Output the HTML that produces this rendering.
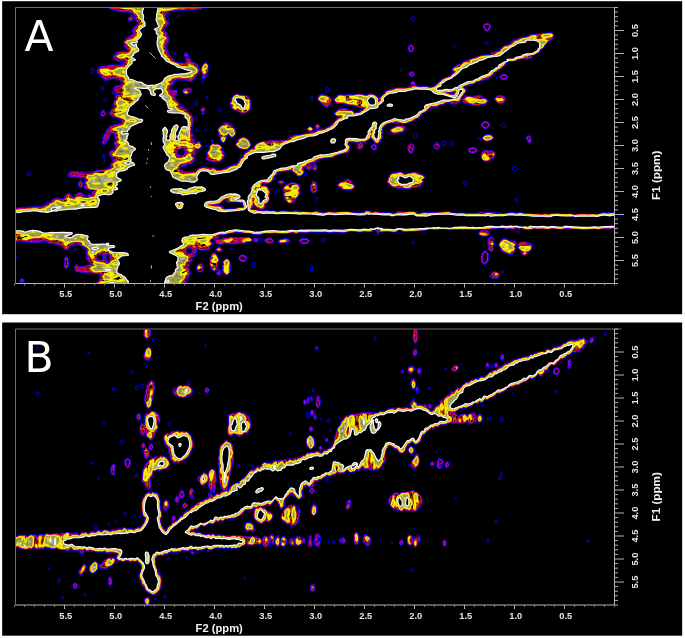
<!DOCTYPE html>
<html><head><meta charset="utf-8"><title>NMR spectra</title>
<style>
html,body{margin:0;padding:0;background:#fff;}
svg{display:block}
.tk{font-family:"Liberation Sans",Arial,sans-serif;font-weight:bold;font-size:9.3px;fill:#e6e6e6}
.ax{font-family:"Liberation Sans",Arial,sans-serif;font-weight:bold;font-size:11.7px;fill:#f4f4f4}
.ax2{font-family:"Liberation Sans",Arial,sans-serif;font-weight:bold;font-size:11.2px;fill:#f4f4f4}
.pl{font-family:"DejaVu Sans","Liberation Sans",sans-serif;font-size:42.5px;fill:#fff}
</style></head><body>
<svg width="685" height="638" viewBox="0 0 685 638">
<rect width="685" height="638" fill="#fff"/>
<rect x="2.15" y="1.2" width="680" height="313" fill="#000"/>
<rect x="2.15" y="322.5" width="680" height="313.2" fill="#000"/>
<defs><clipPath id="clipA"><rect x="16" y="8" width="598.5" height="275.5"/></clipPath>
<clipPath id="clipB"><rect x="16" y="329.5" width="598.5" height="275.5"/></clipPath>
<filter id="soft" x="0" y="0" width="685" height="638" filterUnits="userSpaceOnUse"><feGaussianBlur stdDeviation="0.35"/></filter></defs>
<g clip-path="url(#clipA)"><g filter="url(#soft)"><g fill="none" fill-rule="evenodd" stroke-linejoin="round"><path d="M182.7 286.1l-4.4 .2-80.6-.1-.5-.5-.1-3.4 .4-1 2.2-3.2 .3-2.8 .7-1-2-.6-4.4 0-4.6-.8-3 0-1.4-.2-2.6 .1-2.7-.8-1.7-.2-2 .1-.8-.9-.2-1-.6-1-.3-1.3 0-1.4 .9-1.3 1.4-.8 .6 .2 .7 .5 1 1.5 1.3 .3 2.4-.2 8.3-2.2 0-.3-1-1.3-1-.8-1.5-1.6-1.7-2.3 .1-1 .5-1-.4-1.3 .1-4.4-2.2-3-.8-.6-3.4-1.1-2.7-1.4-.7 0-3 1.4-2.5 .7-1.5 2-1 .9-3 1-1.3-.6-1-1.6-1.2-1.3-2.7-1.7-4.4-1.1-6.4-.5-.7-.4-2.6-.7 .8-.6 0-.4-.8-.3-2.3 0-1.7 1.2-2.3 .4-7.4 0-9-.6-2.6-.5-1.2 .2-3.2 .9-2.6-.1-.3-.5-.1-30.7 .1-1 .3-.4 .7-.2 1.3-1.2 4.3-1.1 2.7 .1 4-.4 4.3 0 6-.9 4.7 .2 2.7-.7 2.3-1 3.6-2.2 1.5-.5 .5-.7 .3-1.6 1.1-.8 3-1.1 1-.1 2.3 .1 2.3 .9 1.4 0 1-.8 1.1-2.2 1-1.4 1.2-.8 1.3-.4 1 .1 1 .6 .9 .9 1 1.6 1.1 .6 .7-.4 1.6-2.2 1.1-.8 2.3-1 1.3-.2 3 1.4 1.7 1.6 .7 1.4 1-.2 1.6-1.4 1.7-.8 1.7-1.3-1.2-1-.3-.7 1.1-.6-5.6-1.2-.7-.3-.5-.5-.1-1.7 .2-2.3-.3-2.4 .6-2.3-.3-1.7-.6-.3-2.3-.4-4.7-.5-3-.1-2 .3-1.7-.1-1.6-.6-1-.9-.3-.7 .3-1 1.6-1.9 2.4-.9 6.3 .1 1.7 .4 3-.1 1.6 .6 2.7 .3 1.3-.6 2.7-.1 2.7-.8 8.9-1.3 5.7-1.4 1.7-.9-.1-1.1 .5-2 1-1.6 1.3-1.4-.2-2-1.4-.6 .2-.5 .7 .1 1.8-.3-3.5-1.2-.6-.5-.4-1-.3-2.3 .5-1.3 .8-.8 .7-.4 1.3-.1 1.2-.4 1.3-1.3-.1-1.4 .3-1.3-.7-1.3-.2-1.4 .3-2 .9-1.1 .2-.5-.7-2 .2-2-1.1-2-.5-.4-1.1-.1-1 .1-.6 .4 .4 1.6-1.1 1.2-1.1 2.8-1.9 2.3-.9 1.7-1.1 1.1-1.3 .2-1-.4-.8-1.2-.1-1 1-2-.2-1.7 .2-1 1.1-3 .9-1.3 .4-1.3 1.1-2 2.7-3 .7-.6 2-.9 7.3-1.5 1.7-.5 .6-.5 .2-1.7-3.2-1.3 .7-.7-.2-.3-6.8-2.1-2.3-1.8-.5-1.5 2.7-5 .8-.8 1.3-.8-1-1.4-.1-1.3 .6-2 1.9-3.3-.1-3.4 1-.8 3.5-.5-3.4 0-2.1 .5-1.3-.3-.5-.5-.8-2-.2-1 .2-.7 1.4-1 .3-1.7 .9-.9 1.7-.6 4.1-.5 1.6-1 .5-.6-.1-.4-1.1-2.3-1.7-1-3-.9-3.3-.2-3 .9-2 .2-1.7 .7-1.3-.2-3.7-2.8-.4-.7-.6-1.5-2.3-1.3-1.1-2.5 0-1.4 1.1-3 .7-.6 .6-.2 7.7-.7 1.7-.7 1.6-.3 9.4 .2 1.3-.5 2-.2 1.4-.6-.4-.7-2.3-.9-3.7-.6-1.7-.6-1.6-1.2-1.1-1.4-.4-1.3 .1-.7 .6-1.3 1.4-1.1 1-1.6 1-.5 1.7-.4 7.3-.1 1.4-.6 0-.4-1-.8-1.3-1.5-1.2-2-.7-3 .1-1.7 .9-2 .8-1 2.9-1.3 4.5-2.8 .4-.9-.8-2.3 .5-3 1.5-1.5 2-1.1 1.8-2.1-.1-.3-2-2-1.1-2-.2-.7 .4-1-.1-.4-1.3-1.8-2.1-1.4-3.3-1.5-3.3-.1-3-.4-2.3 .1-3.7-.7-2.7-1.2-3-.7-1.3-.6-1.1-1.3-.5-1.6 .2-.7 .3-.3 1.4-.3 2.7 0 87.7-.1 7.6 .1 1 .2 .3 .4 0 .7-.6 .7-1.4 .9-.9 1.4-1.4 .6-2 .2-2.9-.2-2.7 .8-2 .3-2 0-2.4-.5-2 0-8.6 1-6 0-3 .5-.5 .3-.5 1.1-2.6 1.2-1.1 2.3 .3 .8 1.4-.7 .8 .6 .2 1-.1 .7-1.4 1 1.6 3 .1 .6-.5 1-3.7 4.2-.4 .8 .3 1 1.6 1.4 .7 1 .6 2.3 1.3 1.7 .3 1-.7 3.6-1.8 3-.6 2 0 .7 .7 1.7 1.2 2 .3 1.3-.1 1 1.9 1.5 1.3 2.2 2.8 2.6 .4 .7-.4 1 .2 .3 2.9 1 6.8 .8 .8-.1 1.1-2-.5-2.3 .3-1 0-.4-1.5-1.3-.1-1.3 .6-1.7 .6-.5 1-.2 .7 .4 1.5 2 .1 1.3-.5 1 .2 .3 1.4 .9 .8 .8 1.5 2.7 3 1 2.3 1.5 1.9 3.8 .3 1 0 1.3-.9 3-1.3 1.9-.5 1.5-1.6 1.3-.7 1.3-.8 .8-2 1.1-1.7 .3-4-.7-2.4-.8-1.3-.2-1.6 0-3.7 .3-2.1 1.6-1.6 2.6-2.3 2-1 2 1 2.4 .3 .1 1.4-.6 1.6-.4 1.7 .3 1.2 .9 .4 .7 0 .6-.8 2-.8 .6-2.5 .8 .2 .4 6.2 7.2 .8 2.4 2 1.1 2 1.8 2.3 .8 .9 .9 .3 1.4 1.8 1.1 2.5 2.9 1.1 4-.4 4.6-1.4 5.7 .1 2 1.4 3.3 0 1-.5 1 0 .4 .9 .6 .8 1.4 .5 2.3 .3 .3 1 .4 1.7-1.6 1.7 0 .8 .9 .2 1.4 1.2 1.9 0 1.4-2.6 2.9-1 .3-1.6-.4-.4 .5-.5 1.7-.2 2.3-.6 .9-1.3 1.1 1.1 1.3 .5 1.4-.2 1-1.1 1.3-.1 1.3-.4 .7-1.2 .8-2 .7-2.3 .6-2.7 1-3.2 .6-.8 .4-.9 1.6 .3 .6 4 2.2 3 .4 5.9-.2 1.1-.3 1.5-1.1 .7-1.3 1.1-.9 2.3-.3 .4-.9 1.6-.5 8 1.4 2.4-.5 2 0 1 .6 1 1 1 .3 1 .7 2.5-.2 8.1-3.6 5.8-1.8 2-1 1.2-1.1 1.2-3.5 .5-.6 2.6-1.1 .1-1 1.1-2.3 2-1.7 1.5-1.9 2-.5 .7 0 1.7-1.2 1.3-.4 2.8-3.7 3.9-2.2 3-.7 3.6-.1 4.4-1.1 4.6 .2 1.7-.3 3.3 .2 5.5-.3 1.9-.7-.2-.6 .5-.8 4-2.1 1.3-.4 1.7-.3 4-.2 3.3-.8 5.9-.8 .8-.3 .4-.7-1.9-1.6-.5-1 0-1 .7-1 1.3-.9 2.3 0 1.5 1.2 .5 1-.1 1-.4 .7-1.2 1 .2 .3 .5 .1 .7-.1 2.3-1.2 4.4-1.1 2.6-1.5 3.3-.5 2.3-.7 1.8-1.4 1.3-.3 3.3-4 2.7-2.5 1-1.7-.1-.4-2.9-1.5-.6-.9-.2-1.3 1.1-1.8 2-1.3 1.7-.7 2-.4 3-.2 3.3 .2 1 .3 1 .9 3 .4 2 1.3 .7 .9 1-.2 2.7-.1 1.3-1.1 2-.8 .3-.4 1.1-2-4.4-.2-1-.3-2.2-1.2-3.1-.6-2.7-.2-7.3-2.1-4.4 .1-2-.6-1.9-1.6-.5-1.3 0-.7 .2-.6 1.9-2.4 2-1.2 2-.4 5 .4 3.7-.6 3.6 .4 1.7-.1 4-.7 5 .3 2.3 .7 1 0 3-1.3 2.7 0 2.7 1.1 2.3 1.5 1.2 1.3 .8 2.8 .1-1.8 .3-.7 2.9-3.2 1.7-1.1 .2-.4-.6-1 .7-.9 5.9-1.7 1.8-.9 5-1 3-.2 4 .2 4-.4 2-1.3 2.5-.8-.2-.4-1.3-.9-.4-1 .4-.9 1-.7 1.7 0 .6 .3 .6 .6 .4 2.8 .3 .2 2.1 .5 1.3 .8 3 .1 2-.3 2.7 0 4 .8 2.1-.5 1.5-.7 1.4-1.7 2-1.3 1.3-1.3 1.1-.7 1.2-1.6 4.4-1.9 3.1-.8 2.6-2 .8-1.4 1.1-.6-1-.7-.4-.7 .2-2 .9-1.6 2-1.7 2.3-1.1 3.6-.9 1.4-1.5 3.4-1.6 6-2.4 3.9-1.2 3.4-1.5 3.3-.7 7.7-.4 .4-.4 .6-1.3 .7-.6 6-1.4 1.3-1.4 2.1-1.3 2.2-2.2 7-2.1 .6-.3-.2-1.4 .6-.8 2.7-1.4 5-2 3.7-1 3-.2 3-1.4 2.3-.7 7-1 12-1.2 2.3 .4 1.5 1.3 .2 1.4-.4 1.6-1.4 1.7-2.2 1.9-2.7 1.7-1.1 1.7-1.2 1.3-.8 1.7-.9 1-3.1 1.4 .2 1.3-.4 .8-2.9 1.5-1.4 1.3-2 .6-1.5 .1 .1 .4 1.2 1-.8 .9-4.4 1.3-6 .1-3.6 .3-1.7 1.2-3 .6-6 .2-.3 .4-.4 0-1.6 1.6-.1 1.7-.6 .8-3 2.3-2.9 1.6-1.8 1.4-2.3 1.2-2.5 3-2.8 2.6-2.4 1.2-3.3 1.1-6 1.1-1.4 .7-1.9 1.6-1.7 .6-2.4 .5-1.9 1.2-3 .1-1.4 .3-.3 1 1.9 1.7 .4 1-.5 2.3-1.8 2 .4 1.7 .3 .2 1.3-.3 5.3 .3 1.4-.3 .6 .5 2-.9 2.4-.4 2.3 .2 2 .5 .9 .9-.2 1 .1 .3 3.5 .5 1.8 1.5 .1 1-.4 1-2.1 2.2-1 .4-2.8 .1-1.9 .9-1.3 .2-3.4-.6-3.3-.1-3.3-.9-2.7 0-.6-.2-.4-.7-2.3-1-1-1.7-2 1.5-2 1.1-4 .7-3.4 .3-1-.5-.3-1.1-1-.1-1.4 .5-1.3 .9-5 1.3-2 1.3-5.1 .5-1.2 .9-2.7 1-1 1.3-1.3 .8-1.3 1.2-2.2 .8-1 .7-1.2 1.4-1.1 1.9-.9 .8-2.5 .9-.8 .8-3.7 2.1-4.3 1.3-3.3 .6-3 .1-2.2-.3-3.2 .1-1.3-.4-1.7 .4-2.6-.2-2.2 .5-1.9 1-1.7 2.3-2.4 1.3 .1 1.7-.4 1 .7 1.7-.9 1.6 .6 1.7-.7 2.7-.4 1-1.2 1 .1 1-.2 .6-1.2 1.2-1.3 .7-1-.1-2-1.2-.9-.9-.6-1.3-1.2-.9-1.3-1.5-1 1-1.8 1-1.9 2.1-1.7 .4-1.6 0-.3 .2 1 3.3-.2 1-.5 .8-1 .7-1.4 .4-1.3 .2-1.3-.6-.6-1.1 .2-1.4-.1-1.3 .2-.7 .7-.6 0-.7-3.9-.7-4.9-.1-.9 1.8 1.6 1.3 .5 1.4-.8 2-.2 2.6-.4 .7-.4 .3-9.3 2-3.4 1.7-1.7 1.2-1.3 .3-8 .5-5.3 1.3-.7 .4-.2 1-.3 .3-2.3 .7-.5 1-1 .9-.7 0-1.3-.6-2.4 .5-.3 .5 0 .7 1.2 1 .4 1.3-.4 2-1.2 .9-1.7 0-.6-.3-1-.9-.7-1.9-1.5 .2-1.5 .6 0 1.1 .9 1.3 .4 2.3 1-.6 .7 .2 .3 .4 .4 2.7-.2 .7-.5 .5-.7 .1-.7-.3-.9-2.3-1.7 1.6-1 .5-1.7 .5-2.3-.2-1.2-1.1-.5-1.7-2-.8-.6-.9-1.4-.9-1 .2-2.6-.2-3 .6-5 .4-1.7 .6-.4 .4-.2 1-.7 1.3-2.4 1.7 .4 1.6-.4 1-2.6 2.6-1 .7-1.7 .6-4 .7-2.3 1.4 .2 .4 3.8 .7 .6 .4 .8 .9 1.8 3.6-.3 3.4-.7 1.3 .6 1.3 .1 .7-.8 3-.9 1.7-.9 .9-1.5 .4-.3 .3 .1 3-.6 1-1.4 1.2-2.6 .4-.4 .8 1.9 .3 2.5-.6 1.3 0 4 .7 4.7-.2 1.6 .6 1.4 .2 3-.9 1.6-.1 9.4 1 1.6-.3 1.7-.9 1.3-.1 1 .2 2.7 1.1 7.7 .1 3.3 .3 2.4-.1 1.3-.3 1.3-.9 .7-.1 .6 0 3.2 1.6 2.8 .6 2.7-.2 2.3-.6 14.4-.2 4.3-.5 2.3 .4 1.6 .5 7.1 .7 4.7-.4 .6-.2 .7-.8 1-.5 3.7-.1 2.6 .2 2.4 .5 3.6 .1 1.5 .5 4.2 .1 1.3 .3 6.7 .1 2.3 .6 2-.3 .4-1.1 1.6-.6 3.4 .1 3.3 .5 7.7-.5 4.6 .4 1 .4 .3 1.4 .7 .1 4-.8 1.7-.9 2.7 .6 7.6-.1 9.4-.5 4.6-.6 2 .2 1 .7 1 .3 5 .7 5.4-.5 3.6 .5 10.4 0 .4-.1 .4-.6 .8-.5 3.4-.2 1.6 .1 1.4 .4 6-.1 8.3 .3 3 1 2.3 0 7.4-1.2 1.6 .1 3.4 .7 2-.7 1.3-.1 4.3 .9 4.4 .1 6.6 .6 8.7-.3 4 .1 9.7-.6 5.6 .7 5.4 0 4-.3 3 .7 3.3-.3 18.3 .1 1.4-.2 2-.8 1.6-.4 14.7 0 .3 .5 0 3 0 11.4-.3 .3-1.3 0-.4-.3-2.2 .3-2.8 1.2-1.6-.3-2 .3-1.4-.5-2.3-.1-1.3 .1-2.4 .7-5-.5-11.3 .9-5.3-.8-5.4-.1-5.3-.4-6.3 .7-6.4-.6-3.6 0-3.7 .7-4.7-.5-8-.2-.6 .1-2.4 .8-2 .2-4.6-.1-2.4-.7-1.6 .7-3.7-.6-4.3 .6-1.4-.4-.6-.6-1.4-.2-1.6 .2-2 .9-1.4 .1-.6-.4-.4-1-2-.2-9 .6-2.3 .7-3.3-.2-7 .2-3.7 .3-10.3-.3-3 .6-3-.6-2 .2-10 .1-5.7-.9-6 1-4-.4-2.7 0-7.6 1.7-3.4-.1-7 .5-1.6-.1-3.7 .6-3.3-.4-1.9-1.2-1.5-.1-.7 .1 .1 .7-.4 .5-1.6 .5-6.4 0-3.3-.6-7 .8-.4 .1-.9 2-.7 .3-.7-.2-.3-.4 0-1.7-.9-1.3-.1-1.3-2 .3-.3 1-.7 .5-2 .1-1.7 .5-4.6-.5-4.7 .6-5.5-.9-3.2-.1-5.2 .8-2.1 .8-1.7 .1-3.3-.7-5.2 .1-3.8 .4-3.7-.7-9.6 .3-5.4-.4-.7 .1-.9 .5-2.4 .1-7.5-.3-1 .4-1.8 1.1-.7 .1-2-.1-.6-.3-.9-.8-.8-.1-5.3 1-7.7-.2-3.7-.4-4.3 .5-5-.3-2.8 .5-3.2 .9-6-.1-5.3-1.4-3.7 0-8.7-1.2-2.3 1.3-4.3-.1-4 1.3-6.9 .6-.6 .3 1.4 1-.3 1-1.3 1-2.7 .2-.2 .2 .1 .3 1.5 .6 2.3 0 2.3-.6 .4-1 .6-.3 8-.6 8 .5 11-.2 1.4 .4 1.3 .9 .7 1.3-.1 1-.6 .5-.7 .3-3.1 .2-1.9 .8-2.3 .6-4.7-.3-3.6 .7-7.4 .1-3.6-.2-1.4 .4-3.3 .2-3-.4-1.3-.6-.6-.6-.2-1-.9-1-.7-1.2-1-.2-.9 .4-.6 1.3 1.5 2-.1 1.7-.5 .5-2 1.1-.1 2-.5 .7-.8 .5-1.3 .4-4.7 .6-2 0-1-.3-.8-.5-1.2-2.1-.7 2.7 .2 1.4-.3 .6-.8 1 .4 1.4-.3 .6-.8 1.2-2.4 .8-.9 .6-.2 .4 .1 .4 .8 1-.2 1-1.5 1.4-2 .6 .1 .3 1 1 0 .7-1.1 2-.1 .6 .6 1.4 1 3.6 0 2-.2 1-.8 1-.2 1.4-1 .8-1.6 .8-.6 1 .2 1.2 1.2 1.5 0 .7-1.5 1.2zM178.7 17.3l-1-.3-.4-.7 .4-.9 .6-.4 1 .1 .4 .6-.2 1.3zM131 20.7l-1 .1-1.3-.3-.9-.8-.1-.7 .3-1 1.4-1 .6-1.3 .7-.5 .6-.1 .7 .3 .7 .6 .4 1 .8 1 .1 .7-.7 .9-1.6 1zM413.7 21.1l-1 .2-1.3-1.3 0-2.3 .9-1 1.4 .2 .9 1.1 0 1.7zM199 17.3l-.4-.3 .4-.3 .2 .3zM487.3 31.4l-1-.1-1-.7-1.5-2.3-.3-1-.2-1 .2-1.3 .6-1 .9-.5 2-.2 1.7 .2 1.3 .9 .6 .6 .2 .7-.1 1-.8 2-1 1.6zM487 44.1l-.7 .2-.9-.6-.3-1.4 .6-1.2 1 0 1.3 .9 .9 .3 .1 .4-.3 .3-.7 0zM411 52l-1-.1-1-.6-.8-1.3-.2-1 .2-1.3 .6-1.7 .9-.8 1.3-.3 1 .2 .9 .6 1 1.3 .2 1-.3 2-1.5 1.6zM455 47l-.7 .2-.9-.5-.1-.4 .3-.6 .7-.2 .7 .4 .2 .4zM174.7 55.3l-.7-.1-.4-.9-.1-1 .2-.3 .6-.3 1 .2 .6 .8-.1 .6-.4 .7zM203.3 79.4l-.6-.2-.8-.9 .6-3-.2-.9-1.2-2.4-.2-2 1-3.3 1.2-2.4 1.9-1.5 1-.2 1 .5 1.2 1.9 0 5.7-.6 2.3-1.2 1.7 .1 1.6-.2 .7-2 2zM92.7 73.4l-.7-.1-.5-.3-.5-1.3 .1-2.7 .6-.9 .6-.1 .7 .1 .6 .6 .8 2.3-.6 1.7-.5 .4zM401 71.1l-.7 .1-.6-.5 0-.7 .6-.7 .7 0 .5 .4 .1 .6zM412.7 76.7l-.7 .2-1-.2-1.9-1.7-.2-1 .2-1 .6-.8 1-.7 1.6-.1 .7 .3 .9 1 .2 1-.2 1.6zM504.3 79.7l-1.3 .2-1.7-.3-1-.8-.6-.8 .1-1.3 2.2-2.2 1-.3 2.3-.1 1.4 .8 1.2 1.4 0 1-.6 .8-1.3 1zM497.3 78.4l-.3 .2-.7-.2-.3-.4 0-.7 .7-.3 .6 .1 .3 .6zM202.7 82.8l-.7 0-.4-.8 .1-1.1 .6-.5 .4 0 .4 .6 0 1.3zM103 90.4l-1-.1-.6-1-.2-1.6 .3-.7 .5-.3 1 .1 .6 .9 0 1.6zM327.7 91.9l-1 0-.5-.6-.2-.6 .1-3.4 .2-.3 .7-.3 1 .2 .4 .8 0 3-.2 .6zM187.7 94.1l-2.7 .1-1.6-.9-.6-1-.1-1.3 .1-1 .4-.7 1.1-.9 .7-.2 5-.4 1.3 .3 .6 .6 .2 1-.5 1.3-2.6 2.6zM453.6 94l1.1-1.5 .3-1.2-4.7 1-.7 .4-.2 .3 .4 .7 .5 .3 1.7 .3zM245.3 113.4l-2.6 .1-2-.6-2.4-1-1.2-.9-3.4-1.1-1.7-1.2-.9-1-.2-.7 .3-1.3-1.1-1-.2-1.4 .3-1 .8-1 0-1.3 .8-2.7 .8-1 1.4-1.2 2-1 2-.4 .7 .3 1 1.1 6 .4 1.6 .6 1.6 1.2 1.6 3 .3 4-.3 4-.6 1.7-.7 1-2.5 1.8zM328 107.1l-.7 .2-1.3-.1-2.7-1.3-.5-.6-1.3-2.3-1.5-.8-1.9-1.9-.4-.6-.1-1.7 .5-1.7 .9-1.1 2.3-.8 3.7-.5 .9 .4 0 .7 .3 .3 2.8 .9 1.3 .9 .9 .9 .4 .7 .2 1.3-.4 3.7-.9 1.6zM502.3 103.5l-3.3 0-1.3-.4-1.2-.8-1.7-2.6-.1-.7 .4-1.3 1.2-1.5 1.4-.8 3 0 3.3 .8 1.1 .8 .4 1.3-.6 3.4-.9 .9zM207.3 99.4l-1 .2-.6-.6 0-2 .2-.7 .4-.2 1 .1 .7 .8 0 1zM312 99.7l-.8-.7-.2-1 .3-1.3 .7-.3 .7 .2 .2 .4 .3 1.3-.2 .8zM462.4 99.3l.9-1 1.1-.6-.1-.6-1.3 .5-.3-.1-.4-.5-.9 .3-.1 1 .7 .9zM105 102l-.7-.1-.5-.6-.1-1.3 .2-.7 1.1-.3 2 .2 .6 .8-.2 .7-1.7 1.2zM196.7 105.4l-.7 .2-.7-.3-.9-2.3 .4-1.3 1.2-.6 1 .3 .5 .9-.2 2zM203.3 114.7l-1-.1-.6-.6 0-1 .7-.7 0-.3-1.4-.8-.3-1.2 .1-.7 .9-1.2 .6-.4 1-.2 .7 .1 .7 .4 .4 .7 .2 1-.3 1-1.5 1.3 .1 .3 .8 .7 .2 .7-.4 .6zM220.7 112.1l-1 .1-.8-.5-.3-.7 .1-1.3 1.3-1 .7 .1 .3 .5 .3 2zM103.7 116.4l-1 0-1-.4-.8-1-.3-1 .2-1.3 .9-1 .1-1 .5-.5 2 .2 .6 .6 .7 1.7 0 1-.3 1.3-1 1.2zM197.7 118.4l-.4 .2-.6 0-.4-.3 0-.3 .7-.5 .6 .5zM486 128.7l-1.7-.2-2-1-.8-.8-.5-1.7 .5-1.3 1.2-1.3 1-.6 2.3-.5 1.7 .6 1.3 .9 .5 .5 .3 1.4-.2 1-1.1 1.6-1.2 .9zM223.7 142.8l-1-.1-.7-.3-1.3-2.1-.4-2.3-1.7-3.7-.1-.6 .2-1-1-1.4-.1-2 .8-1.6 1.9-2.5 .7-.6 4-1.8 3.7 .3 4.6 2 .8 .6 0 1-.9 .6 1.6 1.4 .7 1.3 .3 1.7-.2 2.6-.9 1.7-2.4 2.1-.6 .3-.9-.4-.4-1-1-1-.7-1.6-.4-.1-1.7 2 0 2-1.4 3.4-.9 .8zM504.3 127.3l-2-.4-1.1-.9-.1-1 .9-1.8 .7-.2 1 .1 1.6 .8 .3 .4 .3 1-.1 .7-.5 1zM318.3 129l-1 .1-1-.3-.9-1.1 0-1.4 .4-1.3 1.2-.9 1.7 .1 .9 .8 .3 .7 0 2-.9 1zM397.3 133.7l-1 .2-2.3 .1-2.3-.8-.8-.5-.9-1.4-.2-1 .1-.6 .8-.9 1.9-.8 1.4-1.2 2-.7 2.3-.4 3.7-.2 1.7 .2 1 .4 1.2 1.2 .2 1-1 1-.2 1-.9 1.2-1.3 .7-3 .5zM196.7 131.3l-.7 0-.7-.5-.2-.5 0-.6 .2-.4 .7-.3 2 .1 .3 .6-.2 1-.4 .4zM206.3 130.7l-.6 .3-.6-.3 0-1 .6-.6 .6 .2 .3 .4 0 .6zM416 137.7l-2-.1-.4-.3-.3-.6 .1-1.7 1.2-2 .7-.3 1.1 .3 .9 2-.3 2-.3 .4zM488 141.5l-2 .1-2-.7-1.5-1.6-.2-1 .2-1.3 1.5-1.6 2-.7 2.3-.2 2.7 .3 1 .4 1.5 2.1 0 1-.4 .7-3.4 1.9zM529.3 143.3l-.6-.1-.9-.9-.2-.6 .1-1.4-1.6-1.3 .1-1.3 .4-1 .4-.5 1-.5 1.3 0 .7 .4 .9 1.2 .2 .7-.1 1 .4 1.3-.1 1.4-1 1.3zM246.7 149.4l-3 0-3-.5-2-.7-1.7-1.2-1.1-1.7-.3-1.3 .2-.7 1.2-1.3 .5-2 .8-.9 4-1.9 1.7-.1 2.3 .8 2.8 2.1 1.7 4.3-.2 2-.8 1.7-.8 .9-.7 .3zM479.7 139.5l-.7 .1-.8-.6-.2-1 .3-.5 1.4-.2 .7 .4 .2 1zM212.7 142l-.7-.2-.5-.8 .1-.7 .7-.6 1 .4 .5 .9-.5 .7zM444.3 145.8l-1-.5-1.2-2 0-1.3 .9-.6 1.3-.1 1 .2 .6 .5 .3 .7-.1 1zM453 145.8l-.7 .1-1-.5-.6-1.4 0-.7 .4-1.3 .9-.8 .7 .1 1 .6 .6 1.1-.4 2zM437.3 149.5l-1 .1-1-.4-1.5-1.5-.4-1 .1-1.4 2-1.6-.4-1.4 .2-.4 .7-.4 1.3 .4 1.3 .8 1.3 2 0 2.6-1.6 1.6zM216.7 162l-1.4 .2-2 0-1.3-.4-1.4-.8-2.9-.5-1.3-.8-.5-1 .2-1.7 1.2-1.3 .1-.4-1-1.6 .3-1.4 2.3-2.9 .4-3.1 .3-.6 1.3-1.4 .6-1.3 .7-.5 .7 .1 1.7 1.4 3 .1 1.3 .4 3 2 .9 1.5 0 .7-.6 .5-1 .5 2.7 1.6 .6 1 .1 1 .4 1-.2 2-1.6 2.3-.4 1.4-.6 .6-2.3 .9zM411.7 153.1l-2 .1-.7-.5-.9-1.7-.5-2.3 .2-2.7 1.5-1.9 1.4-1 .6-.2 .7 .2 1.7 1.6 .5 1 .1 .6-.2 2.7-.8 1.3-.2 1.4-.5 1zM375 150l-1.3 .1-1-.3-1-.8-.6-1-.2-1 .3-1 .8-1 1-.6 1.3-.2 1 .2 .8 .6 .5 .7 .3 1.6-.1 1.4-.8 .9zM206.7 147l-.7 0-.6-.7 .3-.9 .6-.4 .7 .1 .3 .6-.2 1zM427.7 146l-.5 0 0-.3 .5-.1zM474 153.1l-2.7 0-2.3-1.2-.6-.6-.4-1 .1-1 .4-.6 .8-.6 4-.9 1.4 .1 1 .5 1.5 1.9 .1 1-.6 1.1-1 .7zM182 155.3l1-.6 1-1.3 .7-1.4-1.5-1.7 .1-1.3-.6-.1-4.8 .8-.4 .3-.1 1 .6 3.3 2.7 1.3zM486.7 161.4l-1.4 0-2-.5-1.1-.9-.7-1.3-.5-2.4 .1-2.3 .5-1.3 1.4-2 1-.7 4.7 .3 4 .8 2.3 1 .6 .9 0 1.7-.4 1.3-.9 1.3-4.6 3.3zM104.3 158.6l-.6 0-.5-.6-.2-3 .7-.7 1 .3 .3 .7-.2 2.4zM105 161.4l-.7 .2-.7-.3-.2-.6 .3-.8 .6-.2 .8 .3 .2 .7zM315.3 170.5l-1 0-1-.6-.5-.6-.2-1.3 .5-2 1.2-1.5 .7-.4 1 .3 .5 .6 .7 2.3-.4 2-.8 .9zM516 170.5l-.7 .1-2.3-.6-.3-.7-.1-1.3 .5-1 .6-.3 2-.3 1.1 .6 .5 2-.5 1zM407.3 188.7l-4 0-1.2-.4-2.1 .1-3.7-.5-3.3-.8-3.3-1.8-2.3-2.6-.4-1.4 .7-1.3 0-1.7 1.3-1.3 .1-1.3 .4-.7 .8-.8 2-1 5.4-1.1 2.6-.3 1.4 .1 3 1.4 1.3 .1 1.3-.1 4.7-1.1 4.3-.1 3 .8 2.1 1.4 2.6 1.1 .9 .9 .4 1-.1 1-.5 .5-1.7 .5-.4 .4 1 1.6 0 1-1.7 2.4-1.6 1.5-3.3 1.3-4-.1-2 .7zM29 176l-.7 0-.5-.3-.5-1.4 .1-.6 .5-1 1.1-.7 1.1 .7 .5 1.6-.9 1.4zM351 190l-1.3 .3-3.4-.4-2 .1-2-.5-1-.6-1-1.2-1.6-.5-1-.7-.6-.8 0-1 .6-.8 1.6-1.1 4.1-1.5 .4-.3 .5-1.3 .7-.5 1.3-.2 2.4 .5 1.6 .7 1 .8 .7 1.3-.1 1 1.8 .7 .5 .7 .6 1.3-.2 1.3-.8 1-1.5 1.2zM282.3 184.2l-2 0-1.6-.6-1-1.3 .3-1.7 .7-.5 1.6-.4 .7 .6 2.3 .4 .7 .4 .4 .9-.3 1zM81.7 187.4l-1.4 .2-1-.4-.9-1.2-.3-1.7 0-1 1.1-2.3 1.1-.9 .7 0 .7 .4 .8 .8 .6 1.4-.3 3.3-.4 .7zM313.7 193.4l-1.4-.5-1.4-1.6-.6-4.3 .2-1.7 1.2-1.7 .4-1.6 .9-1 .7-.2 1 .3 1.1 .9 .3 .7 .8 2.3 .1 1.7-.3 1.3 .5 1.7-.3 1.3-.8 1-1.8 1.2zM465.3 185l-1.3-.3-.7-1.4 .1-.6 .5-1 1.1-.7 1 .4 .9 .9-.5 2zM67.7 182.5l-.4 0-.2-.5 .2-.5 .4 0 .4 .5zM291.7 203.2l-2.7 0-1-.3-2.3-2.1-.9-1.1-1.5-5 .9-2.4-.8-1.3-.3-2.3 .7-2 .9-1.1 1.3-1.1 4-1.7 4.3-.1 3 .8 1 .7 .9 1.1 1.3 3-.9 2.4 .9 2.3-.6 1.7-1.6 1.3-.8 1.7-2.8 3.3-1.7 1.5zM276.7 193.1l-1 0-.8-.4-.4-1.4 .5-.7 1.3-.2 .9 .6 .2 1-.2 .7zM316.7 200.5l-1 0-.9-.8-.1-1.4 1-.9 1 0 .9 .9 0 1.4zM517.3 202.4l-1 .2-.6-.6 .2-1.3-.4-1.4 .5-.5 .7-.1 .4 .3 .2 1.3 .4 1zM227 209l7-.3 3-.9 2-.3 4-.1 .3-.4-.6-3.5-.7-.8-3.3-.6-2.9-.1-4.6 0-1.7 .3-.8 .6-.7 .1-.6-.3-.4-1.1-1 0-.4-.3 0-1.3-.3-.3-2 1.3-.9 1.3-.7 .6-3.4 1.3-4.1 .8-.1 .3 .6 .4 2-.1 2.2 .4 3.1 .2 .7 .2 .5 .6 .5 1.5 .5 .5zM47.3 203.2l-.6 0-.6-.5 0-1 .6-.5 .6 .1 .6 .7-.1 .7zM258.4 210l-.1-.4-1.2-.9-.9-1.7-1.9-1.4-.6-1-.4-.1-.4 2.5-1.6 2 2 .7 2.7 .1 2 .4zM487 236.1l-2.7 .2-2.6-.1-1.7-.6-1-.7-.5-.6-.1-1 1-1.6 .9-1 2.7-.8 2.3-.2 1.4 .4 1.3 .8 .4 .8 0 .6 1.2 .7 .4 .7-.1 .6-.6 .8zM518.3 233.8l-1.3-.2-.8-.6-.3-.7 .4-.6 1-.4 2 .4 .3 .3 0 .7zM491.7 251.7l-1 0-1-.5-1.5-1.5-.1-2 .3-1.4-.7-1.6 .1-1.7-.5-1.3 .1-.7 .6-1 .7-2 1-.9 1.3-.5 2 .5 .9 .9 .1 1.3-.6 1 .9 2 .1 1.7-.2 1.7-1 1 .4 1.3-.1 2.3-.5 .8zM256.7 242.1l-1 .1-1-.3-.8-.9 0-2 .4-.7 .7-.5 1.7 0 1 .5 .5 .7 0 1.3-.3 1-.6 .5zM270.7 243.4l-2.7 0-2.7-1.2-.5-.5-.2-1 .2-1.4 1.5-1.2 1.4-.4 2.3 .1 1 .2 2.2 1.7 .4 .6 0 .7-1.3 1.7zM261.7 241.1l-1 0-1-.8 0-1.3 .3-.5 .7-.4 1 .1 .9 .8 0 1.3zM304.3 244l-1.6-.1-3-1.9-.8-1 .2-.7 .4-.6 1.5-.9 3.7-.6 3 .6 1.5 1.2 .3 1.3-.5 .9-2.7 1.6zM283.7 243l-2.7 .2-1.7-.3-.7-.6-.4-.6 .2-1.4 .9-.8 2.6-.2 3.4-.9 3 .1 1 .5 .6 .7 .1 1.3-.7 .9-1 .4zM323.7 242l-1 0-.7-.2-.7-1.1 .4-1.4 1.3-.9 1.3 .3 .7 1 0 1.3-.7 .8zM512.3 254.3l-1.6 .2-2.7-.6-5.3-2-1.2-1.2-.8-2.2-1.2-1.2-.7-1.6-.1-1 .5-1.7 2.5-3.5 2.3-1 1.3 0 2 .7 1 .8 2.4 1 1.6 .1 1.4-.3 1 .1 .6 .2 .5 .6 .2 1.1 .6 .9 .2 .6-.2 1-1.3 1 0 .4 .6 1 0 .6-2 4.4-.9 1.2zM413.7 243.8l-1 .1-1-.9 0-1 1-.9 1 .1 .6 .8 0 1zM524.3 255.7l-1.3-.2-1.6-1.5-.3-1 .6-1-1.7-1-1.8-2-.5-1.3 .3-1.4-.3-.6 .1-1 1.2-1.8 1.3-.8 2.4-.1 1.6-.5 1.7 .4 3 1.4 2.3 .2 .9 .8 .3 1.7-.6 2.7-1.4 2.6-.8 .6-2.1 .1-.2 .3 .5 1.4-.4 1-.8 .5zM220.3 251.8l-2 0-1.3-.3-.7-.4-.8-1.1 .1-.7 .3-.6 2.4-1.6 1.4-.1 1.3 .4 1.1 1.3 .2 1.3-1 1.3zM189 253.3l1.3-.3 .4-.3 1.3-2.7-.2-1-.8-.9-1.7-.4-1.3 .3-.7 .5-.6 .9-.3 1.3 1.2 1.3 .4 1.2zM231.7 249.7l-.7-.1-.6-.6 0-.7 .6-.6 1 .2 .6 .8-.2 .6zM76 250.7l-1 .3-.7-.4-.4-.9 .3-.7 1.1-.4 1 .4 .3 1zM485 264.4l-1 .1-.7-.2-1.6-2-.4-1.6-.1-2.7 .2-2.3 .6-1.1 .4-2.3 .9-.9 1.4-.4 1 .1 1 .4 .9 .8 .9 2.4-.2 1.6 .4 1.4-.4 3-1.8 2.6zM214.3 271l-1.3-.2-1.2-1.1-1.6-3-.7-2.7 .4-2.7-.1-2.3 .9-2-.2-1 .3-.7 1.5-1.9 1.7-.6 1.7 .4 .9 .8 2 4.3 .4 1.7-.5 2-.9 1 .4 2-1 2 .1 1-.3 1.7-.8 .8zM108.7 262.3l.5-1 .5-1.5-.2-2.8-.8-2.3-.4-.4-.6-.2-1 .5-.5 .7 .1 4.4 .4 1.6 .3 .5 .7 .5zM101.4 260l.9-.3 .6-.7-.2-3.3-.6-.7-.8-.4-2.3 .1-1.7 1.5-.1 3.1 .5 .4 1.3 .3zM244.7 261.7l-2 .1-1-.2-1.7-.8-.9-1.1-.2-1.4 .2-1.6 1.6-1.6 1-.4 1.6 .1 3 1.4 .8 .8 .2 .7-.2 1-1.4 2.3zM16 258.4l-1 .2-.6-.6-.3-1.3 .6-.9 1-.1 .8 1 .1 1zM67 268.5l-1 .1-.9-.6-.7-1-.5-1.7 .6-2.6-.3-1.7 .2-2.7 .8-1.3 1.1-.4 1 .3 .9 1.1 .1 1.7-.1 1.3 .6 2.3-.3 3.4-.5 1zM204.7 259.5l-.7 .1-.3-.2 .1-.7 .5-.2 .3 .2 .2 .3zM227.3 275l-1.6-.1-2-1.6-.5-.6-1-3 .3-1.7-.1-2.3 .9-1.4-.5-1.3 .1-1.7 2.4-2.3 2-.3 .7 0 .7 .5 1.2 1.8 .6 1.7 .5 2.6-.4 5-.7 2.4-1.2 1.7-.7 .5zM254 268l-.7 .1-.6-.4-.7-1.4 .4-3.3 .6-.9 .7-.1 1 .3 .6 1.4-.4 3.3zM200.7 272.3l-1.4-.1-1.6-.7-.9-1.8-.2-1.4 .5-2.3 .8-1.3 1.4-1.2 1-.2 1 .3 1.3 1.1 .8 4.3-.1 1-.7 1.3-.9 .8zM312.3 271l-1 .2-.8-.5-.4-.7 .2-.7 .7-1-.7-2 .2-1 .5-.3 .7 0 .6 .3 .6 1 0 .7-.5 1 .5 1 .1 1-.3 .7zM219.3 275.1l-1 .1-1-.4-.4-.5-.5-1.3 .1-.7 .5-.6 .1-1.4 .9-.8 1-.3 1 .4 .6 .7-.3 1.4 .5 .6 .4 1-.5 1zM502.7 273.7l-1-.3-.4-.7 .1-1.7 .6-.4 .7 .2 .9 1.2 0 1-.3 .4zM495.7 278.8l-3 .1-2-1-1-.9-.2-.7 .2-.6 1.3-1.7 .2-1.3 .5-.5 1.6-.6 2.7 .2 2.3 1 1.2 1.2 .4 1.3-.4 1.4-2.2 1.5zM22.3 282.8l-.6 .1-1-.3-.7-.6-.4-.7 0-.6 .2-.7 1.2-1.2 2 .1 1.2 1.1 .1 .7-.3 .6zM501.7 284.4l-.7 0-.6-.4 0-.7 .6-.6 1 .1 .4 .5-.1 .7z" stroke="#0000ff" stroke-width="1.0" fill="none"/>
<path d="M99.5 279.7l1-1.4 .1-.6M89 272.2l-6-.1-3-.9-3.3 .1-.5-.3-.4-1.3M75.5 265.7l.8-.7M79.9 267.3l3.5-.3M90 261.8l-1.6-1.5-1.7-2.3 0-.7 .8-.6M79.7 244.8l-.8-.5-1.2-1.3-.7-.2M75.4 243.3l-1.2 1M70.7 245.5l-1.1 .5-.4 1.3M60.4 245l-1.4-.8-2-.4M50 242.9l-1.6-.2-.9-1.4-1.1-.6-2.4-.6-1.4 .2-2.6 1.2-1.3 .3-8.4 0M38.7 207l2 0M52.2 201.3l.4-1.3 1.1-.7M75.5 195.7l1.8-1.7 2-.8 1-.1 2.6 1.2 1.2 1.4 .2 1M88 196.3l.7-.5 .6-.2 2.7 .1M93 195.3l0-.3-.7-1 .6-1-.6-1 1.7-1.1M86 188.8l-.7-.3-.2-.5 0-2M81 176.9l-4.3-.5-6 0-1.4-.4-.8-.7-.1-.6 1.5-2 1.4-.8M76.3 171.9l1.8 .1 1.6 .8 3-.3 .3 .2-.1 .6 .4 .4M111.1 167l-.3-1.3M113.8 161l-.1-1 1-1.3M110.8 156.3l-.8-.6M115.5 147.3l.5-1.6-1.1-1.7-.1-1.7M116.1 139l-.5-1.7 .4-1.7M115.7 135l-.6-.7-.5-1.3-.5-.3-1.4-.3-1.7 .3M110.3 133l-.7 .7 .4 1.3-1 1.3-.1 1.4-.5 1-2.4 2.4-.4 1.6-.6 .9-.7 .4-1-.2-.5-.5-.3-1 .2-.6 1.1-1.4-.3-2.3 .9-2 .2-1.3 1.7-1.7 .2-1 .9-2 1.9-1.9 .5-1.1 1.2-.8 1.3-.5M122.3 122.1l.3-.8-.2-.6-1.7-1.4M112.3 115.9l-1.6-1.4-.6-.8 .1-.7 .9-1.3 .4-1.4M116.1 97.7l0-2 .6-.4 1-.2M118 93.1l-2.3-.1-1.4 .6-.6-.2-.3-.4 .1-1.3-.4-1 1.5-1.4-.2-1.6 .6-.7 1.3-.5 3.7-.4M121.5 80.7l-1.5-1.1-1.7-.8M113 78.2l-1.7 .3-1.6 .6-1.7 0-1.7 .8-.6 0-1.3-1.2-2.2-1.4-.5-1.7M98.7 68.4l.2-.7 .6-.4 5.8-.8M107 66.5l3.7-1 3.6 0M124.7 62.7l-1.4-1.3-1-.5-4-.1-1.9-.8-2.3-2.3-.1-1 .7-1.4M127.7 49.5l-.6-.5-1.9-2.7-.4-1.3M127.7 38.1l2.5-.4 .1-.7 .5-.7 2.2-1.3 .7-.7 .4-1-1.1-2.3 .5-1.3-.1-1.4 .6-.7 1.5-.9M137.7 21.9l-.8-.9-1.2-2.3 0-.7M130.5 12.3l-1.5-.9-1.3-.1M126 11.3l-3.7-.2-2.6 0-3.4-.8-1-.8M202.2 4.7l1.1 .5 3.4-.3 .6 .1 .4 .3-.4 .7-1 .5-1.3 .4-2.3 .1-.5 .3-.2 .9-3 .5M168.7 11.5l-1 1.1-2 1.1-.4 2M168 22.6l.2 .4-.2 .7-.8 .6M166.3 25l-.3 1-.7 1M163.5 30l.8 1.1M166.3 33l0 2.7 .4 .4M167.8 40.3l-.2 1.4-1.6 2.3-.2 .7M165.3 46.7l.2 1.3M166.9 50l.5 1.7-.5 1.3M172.7 59l.7 .7-.1 .7M186.6 60.3l-.2-1.6 .3-.5 .6-.4 1 .4 1.2 .8 .6 .7 .6 1.3M195.7 63.8l1.1 .9 .9 2.1M194 78.7l-.8 1M187.3 80.3l-2-.7M176 79.5l-1 .5-1 .9-2 1.1 1 .7 .2 .3-.2 .7M169.2 89l1.4 2.3 .4 .3 3-1.1 2 .3 .7 .5 .2 1-1.3 2-1.3 .7-1.6-.3M174.3 97.7l.7 1.1M180.7 106.7l1.5 .6 .6 .7 .2 .7M192.8 119.3l-.3 2.4M191.2 132.7l.6 .6 .5 1.4 .2 1.3-.3 .7M192.7 138.5l.8 .8 .4 1-.5 1.7 .9 .7M195.2 150.7l-.4 1 .2 2-.5 .6-.8 .6M193 161.3l0 1-.7 .7-4.6 1-2.7 1.2-3.7 1M181 170.3l2.3 1.5M412.9 84.7l-.2-.4-1-.4-.5-.6 0-.6 .8-.6 1.3-.1 .8 .3 .3 .7 .3 2M491.4 54l.3-.6 .4-.4 1.6-.4M457.7 102.6l-2.4 .5M451.7 103.5l-1.4-.1-.2-.4M398 122.6l-2.4-.3M309.4 165l1.4 1.3 .2 .7-.1 1.3M520 228.8l-1.7-.3M378.5 233l-.5 .6-.3-1M218.7 236.3l.1 .4-.3 .6M209.1 248l-.8 .9M195.8 250.3l.2 1-.2 .7-.9 1-.5 1 .1 1.7-.5 .5-1 .4M191 259.2l.7 .8-.4 .8M188.3 263.6l.6 .4 .2 .7-.3 .6-1.3 1.4M189.4 274.3l-.2 .7-1.1 1 0 1.3-.8 .8M185 281l1.2 2.3-1 1M130.4 16.3l.3-.4 .6-.2 .8 .6M487.3 30.8l-.6 0-.9-.5-1.6-2.6-.3-2 .5-1 .9-.7 1.7-.2 1.7 .3 1 .7 .5 .9-.1 1-.6 1.6-1.1 1.7zM411.3 51.4l-1 0-.8-.4-.9-1.7 .7-3 .4-.4 1-.5 1 .1 .6 .5 1.1 1.3 .2 .7-.3 1.7-1 1.1zM186.7 56.7l-1.4-.5-.5-.5 0-1 .9-1.4 .6 .1 1.6 1.6-.2 1zM203.7 78.7l-.7 0-.4-.4 .2-1M412.3 76.1l-.6 .1-.7-.3-1.1-.9-.4-.7 0-.6 .2-.7 1.6-1.1 1.4 .3 .6 .5 .3 .6-.2 1.7zM504.7 79.1l-1.7 .2-1.7-.4-.9-.9 0-1 1.3-1.6 1-.6 2-.1 1 .2 1.3 1.1 .3 1-.3 .7-.7 .6zM330.7 103.3l-.7 1.7M103.7 115.8l-1.4 0-.6-.5-.6-1.3 .2-1.1M101.8 112.3l.9-1.2 .6-.1 .9 .3 .7 1.4 .2 .6-.3 1.4-1.1 1.1M203.3 114.1l-.6-.1-.4-.3 .4-.8 .6 0 .5 .4 0 .4zM486.3 128.1l-1 .1-1.3-.4-1-.5-1-1-.3-1 0-.6 .5-1 .8-.9 2.3-.8 1-.1 1.7 .8 1 1 .2 1.3-.7 1.3-.8 1zM223.2 124.7l.8-.9M230.3 124.7l1.8 1.3 .1 .3M529.3 142.8l-.4-.1-.5-.7-.2-2-1.5-1.3 .3-1.7 .7-.6 .6-.2 1.4 .3 .8 1.5-.3 1.3 .4 1 .1 1-.4 .8zM212.7 141.2l-.4-.2 0-.4 .6 .1 0 .3zM208 160l-1.1-.7-.5-1.3M223.3 151.7l.2 1-.2 .3M436.6 143.3l1.4 .5M412 152.4l-1.7 .2-.9-.3-1.2-3.6M413.6 148.7l-.9 1.6-.2 1.4-.5 .7M375 149.4l-1 .1-1-.2-.9-.6-.6-1-.1-.7 .5-1 1.4-1.1 1.7 0 .9 1.1 .4 1.3-.1 1-.4 .7zM474.3 152.4l-2.6 .2-2-.9-.6-.4-.3-.6-.2-.7 .2-.7 .9-.7 3.6-.7 1.7 .2 1.1 .9 .6 1.3-.4 1zM184.8 153.3l1.3-1.3-1.8-1.7-.1-.6 .4-1M176.7 149.5l-.4 .8 .4 2M178.2 155.3l2.5 1.1M314.1 165.7l.9-.8 .7 .3 .3 .5M79.7 181.5l.6-.7 1 .2M278.4 182.3l.1-.6 .5-.6M485.5 230.3l1.8 .8 .4 .6-.1 .3M492.3 250.8l-1.3 .2-.7-.2M488 241.2l.8-1.2 .3-1.3 .5-.7 1.1-.6 1.3 0M215 240.8l-.5-.5-.1-.6 .3-.2 1.1 .5M239.3 242.4l-2.3 .7-2 .2M257 241.3l-1.3 .3-1-.4-.3-1.5 .4-1 .9-.4 .6 0 1.2 .7 .1 1.7zM268.5 238.3l2.2 .4 1.6 1 .6 .6 0 .7-.4 .7-.6 .6-.9 .4M35.8 239.3l1.3 0M289 239.6l.3 .7-.1 .7M304.7 243.4l-.7 .1-1-.1-2-1.1-1.2-1-.2-.3 .2-.7 1.2-.7 3.3-.7 3 .4 1.4 1 .2 1-.6 .7-2 1.2zM527.3 243.2l1.7 1 2 0 .7 .6M191 253.8l1-.4 .2-.4 0-1.3 .5-1.1M185.5 250.7l.2 .7 1 1 .1 .9M485 263.7l-1.3 0-1.5-1.7-.3-1.3 .1-1-.2-1.7 .1-2 .8-1.3 .2-2 .8-.8 1-.3 1.3 .2 1.1 .9 .7 1.6-.2 2 .5 1.4-.4 2.9-1.7 2.4zM110.3 258.7l.1-2-.4-1.4M106.3 254l-.7 .7-.4 .6 .3 1.7 0 2.7 .4 1.6M103.3 259.7l.5-.7-.2-1.7 .1-1.6-.7-1M96.5 257.3l-.2 1.4M244.7 261.1l-2.7 .1-2-1.2-.5-1 0-1.7 .2-.6 1-1 1-.4 1.3 .1 2.7 1.2 .6 .5 .3 .6 0 .6-1.4 2.4zM219.7 274.4l-.7 .2-1-.2-.6-.4-.2-.7-.1-.6 .7-1-.1-1 1-.9 .6 .1 .5 .4-.2 1.4 .9 1.3-.1 .7zM22.3 282.1l-1 .1-1-.9 .1-1 .9-.9 1.4 0 .9 .9-.1 .7z" stroke="#8000ff" stroke-width="0.9" fill="none"/>
<path d="M181 286l-6 .3-72 0-4.3-.3-.5-.7-.3-2.6 .4-.8 1.4-1.2 1.6-2.4-.3-2 .3-.6 1-1 0-.4-.3-.4-1-.5-1.7-.5-5-.1-4.6-1.1-6.4-.4-1-.5-2-.4-3.3 .4-.3-.2-1-2-.4-1.7 .7-1.1 .7-.4 .9 .6 .7 1.1 1.4 .8 1 .1 2.3-.3 5-1.7 3.4-.7 .8-.6-.3-1.7-2.5-2.3-1.6-2.7 .7-1.3-.2-.7-1-1-.2-.7 .1-2.3 .5-1.7-.1-.6-1.5-1.4-1.3-1.6-1.8-1-2.8-1-1.4-2-1.5-.5-1.7 .1-2.3 1.8-4 1.2-.8 .7 .2 1.3-.4 .7-1.3 .8-1.7 .4-.9-.5-1.2-2.4-3.9-2.7-9.8-1.3-1.8-1.7-1.7-.7-2-.4-1 .1-4.7 1.5-2.6-.3-3 .6-3.7 0-5.3-.5-3.7-.9-1.3 .2-3 1.1-2.4 .2-.7-.2-.2-2.3 0-26.7 .3-1.7 1.1-.3 1.5-1 3.7-.8 11.3-.4 5.7-.9 3.7 .6 1-.1 5.6-2.2 3-1.9 2.6-.9 .7-.7 .7-1.7 1.4-.8 1.3-.4 2.3-.1 3.4 .6 1.6-.2 1.9-1.7 1.4-2.7 1.7-.9 1 .2 1 .8 .8 2.2 1.9 .7 1.3-.4 3.2-2.9 2.5-1.1 1.2 .4 1 .7 1.5 2.6 1 .4 2.6 0 2-1.4 2.7 0 1.4-.3 .7-.7-.5-1.3 .2-1.7 1.6-2-.7-.4-5.4-.7-3-.8-.6-.4-.1-1 .4-2-.6-2.7 1.2-2-1.3-2.8-.6-.4-5.4-.9-1.3-.4-5.3-.1-1.7-.3-.9-.4-.1-.3 .8-1.7 .5-.5 .7-.2 3.3 0 1.9 .4 1.8 1.1 4.5 .5 2.2 0 5.6-1 3-1.4 5.4-1 5.3-.6 4.3-1 2.5-1.6 .2-.4-.6-2 .2-1 .9-1.3 2.1-1.7 .1-1.6 1.1-1.4 0-.6-.8-.8-3-.6-1.3-.6-.4-.7-.3-1.7 .2-1 .8-.7 2.7-.5 1.3-.8 1.1-1.6 .1-1.7 .6-1-.1-.7-1.1-1.3-.4-1.3 .3-1 1.4-1.4 .3-.6-1-2 .6-2-1.1-1.7-.4-1.3-1-.8-1.6-.2-1.7 .3-1.8 1-.4 .7 .2 1.3-.9 1.3-.1 1.8-.7 .9-2 1.3-.3 .1-.3-.4-.5-2 .2-.7 1-1.3 .1-1.3 1.9-1.4 1.1-3.3 .5-.7 1.4-1 .6-1.3 1.3-.8 5.4-1 3.3-.9 1.2-1 .9-1.3 .2-1-.1-.7-2.1-1.6-1.2-.7-6.9-2.3-1.7-1.7-.4-.7 .9-1.6 .2-1.4 .5-1 .8-.8 2-1.2 .4-.6-.3-.7-1-1-.3-1 .4-1.7 .8-1.7 1.6-1.9-.4-1.7 .2-.9 .6-.4 3.4-.5 .7-.5 .3-.7-.3-.7-.5-.3-3.2-.6-2.8-1.4 0-.7 1.3-1.6-.2-1 .1-.4 .7-.3 2.2-.1 2-.7 2.2-1.9 .6-1-.9-1-1.2-2.2-2-1.5-1-.4-4-.4-6.4-.1-2.3 .8-2.3-.8-.8-.7-.3-1.3-.5-.7-1.1-.7-1.7-.6-.6-.5-.7-1.6-.1-1.3 .8-1 1.3-.7 5-1.5 2.3-.1 4.7-1 8.3 .2 3-.7 2.1-1.2 .3-.6-.5-1.4 .4-1.3-.3-.7-1.4-.6-1.6-.5-2.6 .1-1 .6-1-.2-.9-1-1.8-1-.3-.7 .1-.7 .5-.9 1.3-1.1 .7-1 1-.7 4.4-.4 4.3 .2 1-.4 1-.7 .1-.3 0-.7-3.3-4.3-.4-1.3-.8-1.4-.1-1.6 1.2-1.9 .9-.8 1.4-.4 2.7-.1 1-.4 .2-.4-.2-1 .2-.4 2.4-1.4 .7-1.6-.2-.6-.8-.7-.4-.7 .2-.6 .7-1-.2-1.4 .6-.6 2.4-1.6 1.5-1.8 .4-1.3-.2-.7-1.4-1.3-.4-1.3-.8-1 .2-1.7-.3-.5-2.6-2.8-2.6-1.7-1.4-1.2-1-.2-3.4 .2-3-.4-2.3 .1-2.7-1.4-6-.6-1.3-.5-.9-.7-.3-1.3 .5-.7 1.9-.6 3.1-.2 39.4-.1 11 .2 1 .1 .6 .7 1.4 .2 1.2-.3 .6-.6 2.2-.2 26.6 0 3.1 .2 .8 1 0 .3-.5 .5-3.4 1.9-2 .6-3.6 .3-3.4-.4-4 .5-11.3 .5-4.6 .8-1.9 .6-2.9 2.4-.2 2.3 .1 .7 1.1 1.6 .3 1.7 1.6 3 0 .3-.5 .6-1.9 1.1 0 1.3-1.7 1.7-.7 1.7 .5 1.3 2 1.3 .5 .7-.4 3 .3 .3 2.1 .9 .4 .8-.2 .7-.9 1.3 .1 1.3-1.6 2.4-.9 3.3 .4 1.3 1.6 2.4 .1 1-.7 1.3 0 .3 3.3 2.1 1.1 1.9 1.3 1.2 .5 .8 .2 .7-.1 1 1.5 1 3.5 1.4 2.7 .4 2-.1 2.7 .3 1-.2 .5-.5 1.1-2.6-.1-1.7 .2-.3 .6-.1 1.3 1.2 .9 1.9 .7 .6 3.4 1.4 1.5 1 .8 1.6 1.7 2.4 .2 .6 0 1-.8 2.7-1.9 1.7-.2 1.6-1.9 1.4-.5 1.3-.8 .7-1.4 .6-1 .1-1.7-.3-2.6-1.2-5.4-.5-2.3 .1-3.7 .8-1.3 1.4-2.9 1.3 .3 .3 1.9 .7 .2 .7-2.8 2.3-1.3 2.7 .1 .6 1.1 1.4 2.7 5.3 1.6 2 .6 1.3 1.6 1.4 .8 1.3 2.1 1.7 .3 1-.7 1.3 .1 .5 2.8 1.2 .7 1.6 4.1 .9 .4 .5-.3 1 .3 .5 2.2 1.1 2.6 2.7 .7 3.3-.4 2.4 .2 1.6-.4 2.7-1.1 1.7 .2 1.3-.7 2.3 .2 1 1 1.4 .6 1.6-.1 1-.7 1.5 1.7 1.5 .2 .7-.1 .7-1.1 1 0 .3 .3 .3 2.7 1.3 1.6 .3 .7-.2 1-1.4 1-.3 .5 .3 .3 1.4 1.2 2-.2 1-1.8 1.9-1 .3-1.3-.4-.6 .2-1 1-1.3 2 0 .6 .5 .9 0 .5-1.8 1.3-.3 .7 .4 1 1.3 1.3 .2 1-1.6 1.7-.8 1.6-2.7 .5-5.3 1.6-3 1.5-.9 .8-.9 2 .4 1 2.7 2.4 1.7 .5 2 .2 5 0 4-.3 2.1-1.5 1.5-1.8 5.4-1.3 3.6 .3 3 .9 2.7-.7 1.3 .1 2 1.5 2 .7 1.7 0 2-.4 4.7-1.8 2.6-1.4 6.4-1.8 1.3-.9 2.1-1.7 1.5-3.7 2.7-1.3 .8-2.7 .9-1.3 2.1-1.4 1.2-1.2 2-.8 1.4-1 .6-.2 1.7 .2 .2-.3 0-1 .2-.7 1.7-2.3 3.9-2.2 3-.8 4.3 .1 3.4-1 8.6 .2 7.7-.7 2.6-.9-.4-1 .5-.5 4.3-2.1 1.3-.3 4.1-.1 4.9-1.2 4.4-.5 .8-.3 1.2-1 1.3 .3 1.7-.2 1.5-.5 2.1-1.3 3-.7 1.7-.7 1.7 .1 2.6-1.2 2.6-.8 1.1-1.2 2-.8 3.4-4.4 3.3-2.9 1.4-.7-1-1.7-2.8-.8-1.1-.9-.1-1 .3-.6 2.6-2.2 3.3-1 4.7-.1 1 .3 1.3 1 4 .5 1.6 1.1 .4 1.2 1.7-.2 1.3 0 2.4-.5 1.2-1.1 2.2-1 .8-1.7 1.5-1.3-.4-.5-3.7 .1-1.9-.3-3.1-1.4-3.3-.8-4.3-.6-5.7-1.6-4.7 .1-1.3-.3-2-1.4-.4-1.3 .4-.9 2-2.1 1.3-1 1.7-.3 5.3 .5 3.4-.7 3.6 .4 1.7-.1 4.3-.7 4.4 .3 2.3 .7 1 .1 1-.2 2.3-1 2.4-.1 2.6 .9 2 1.1 .8 .7 .6 1 .6 3 .4 .5 .9-.5 .7-.6 0-.7-.2-1 .5-1.3 2.4-2.4 2.3-1.6 .1-.4-.4-1 .3-.3 8.7-2.8 3-.6 2.7-.2 4.3 .2 4-.3 1-.3 1.3-1 1.4-.5 3-.3 1.6 .3 2.7 .9 7.3-.3 4 .9 2.7-.6 2.1-1.1 1.2-1.5 4.7-3.5 1-1.3 1.3-.8 1.7-.4 1-.6 3.7-1.1 2.4-2.1 .9-1.2 1.9-1.1 .7-1-.3-.4-1.9-.3-.5-1.3 .6-1.4 1.2-.7 .8-.9 1.8-1 3.9-1 1.1-1.4 3.4-1.5 6.3-2.7 3.7-.9 3.6-1.6 3-.6 4.4-.4 2.3 .1 1.9-.4 1.1-.6 .4-1 .5-.4 1.8-.2 4.3-1.5 1-1.3 3.7-3.5 4.3-1.1 3.4-1.4 .8-.6-.2-1 .3-.7 1.4-.8 3-1 2-1 4.3-1.2 3.1-.3 2.9-1.5 2.7-.8 7.3-.7 4.7-.8 6-.5 2.3 .3 1.2 1 .1 .6-.3 1.1-1 1.6-2.3 2.3-2.8 1.7-1.3 2-1.3 1.3-.7 1.7-.5 .7-3.5 1.6-.2 .7 .1 1-.5 .7-2 1-2.3 1.5-4 .8-.6 .3 0 .4 .2 .2 1.5 .8-.2 .3-3.6 1.1-2 .1-1.7-.2-6 .6-2 1.3-2.3 .6-5.7 .1-.6 1-1.3 .1-1.3 1.3-.4 1.7-.4 .6-2.6 2.1-3 1.6-2 1.7-2.4 1.1-2.4 3.2-2.9 2.2-5.3 2.2-6.7 1.6-3.3 2.2-3.7 .6-2 1.1-4.3 .9-.7 1.5 .3 .7 1.4 .9 .6 .8-.3 2.3-.4 .7-1.4 1.3-.1 1.3-.3 .4-2.1 1.4-.3 .9 .3 1.7-.7 1-1 .7-1.3 .6-1.4 .2-1 .5-2.3 .4-1.1-.1-.4-.3 0-.7-.5-.2-3.3 0-1.7 .3-1 .9-1 .5-4.3 1-2 1.4-5.7 .3-1 1-2 .9-1.3 1.6-2.7 1.9-3.1 1.4-3.2 4.2-2.5 .8-4.2 2.8-2 .5-2.3 1-3 .5-3 .1-2.7-.6-1.7-.9-1.3 0-1.2 .3-1.5 .7-2.6-.1-1.7 .4-3 1.3-1.2 1-.8 1.3-2 1.4-.5 .6 .3 1.4-.6 1.6 .8 1.4-.8 1.3-.1 .7 .5 1 .1 .6-.8 2.7-1.6 1.7 0 1.3-1.3 1-1 .1-2.1-1.1-.8-1.7-1.3-1-1.6-2-.3-.6 .3-1-.2-.5-.4 .5 0 1-1 1.6-4.3 2.9-2 .5-2.6 .3-1.4-.4-3.3 .4-2.3-.5-4-.3-1 .1-.5 .7-.7 2.3 1.6 1.4 .4 1-.6 1.6-.4 2.4-.5 .8-1.3 .5-7.7 1.7-6.3 3-7.8 .6-5.9 1.4-1.3 .6-1.7 1.4-1.3 .5-1.7 .4-1.7 .8-1.3 .3-.8 .6-.5 1.4-.7 .6 .2 .4 1.9 1 .3 1-.1 1-.4 .3-.9 .2-.7-.1-.6-.4-.5-1 0-1.7-.2-.2-1.3 0-3.4 1.1-.2 1.8 1.2 2.3-.1 2-.4 .7-1.1 .9-2 .9-1.7 0-1-.4-.8-2.1-2.5-1.3-1.3-1.4-.4-1.1-1.7 .5-6 .8-4.3 .4-2.7 .9-.7 .5-.6 2-2.6 2 0 2.4-1.2 1.6-1.2 1.1-1.7 .9-2 .4-1.3 0-2.7-.6-1 .2-.5 .4 .6 1.3-1.4 1.3 0 .7 4.7 .8 1.2 .5 .6 .7 1.7 3.7-.3 1.3 0 1.3-.9 1.7 .9 1.7-.7 3-1.2 1.9-2.3 .9-.5 .5 0 3-.3 1-.6 .6-.6 .3-3.4-.1-.8-.5-1.8-2-2-1.3-.5-1-.7-2.3 .3-1.7-.1-1.7-.3-.3-.4 0-.4 .7 .2 2.6-.1 2.7-.7 2.7-1.7 2 0 .6 .7 .4 2 .6 3 .2 5.7 1.2 4.3-.6 4 .6 4.7-.1 2.3 .6 1.7 0 3.6-.7 9.4 .8 4.3-.7 3.7 .7 3.3 0 8 .5 2.3-.2 3.4-1 3.7 1.4 2.9 .5 5.7-.9 5.3 .2 12.4-.5 2.6 .2 1.7 .4 8 .7 4.3-.4 .7-.2 1-1.1 2.3-.3 3.8 .4 .5 .3-.2 .7 3.9-.5 4.4 .5 3.3 .1 1 .3 6 0 3.3 .8 3-.6 .6-.3 0-.6 .3-.4 .8-.2 1.7 0 4 .6 6.6-.5 2.7 .1 2.9 .4 .5 .3 .6 1.2 1 .3 1.6-.2 2.7-.6 2-.8 2.7 .5 7.3-.2 9.4-.5 4.6-.5 1.4 .2 1.6 .8 6.4 .7 4.6-.3 4.4 .5 10.7-.1 1.7-.3-.1-.4 .2-.3 2.1-.3 2 .3 1 .5 1.7-.3 4.3-.1 4.7 .4 .6 .2 .3 .6 .8 .1 1.3-.1 1.3-.5 2.4 .5 1.6 0 8.4-1.1 5 .7 3.6-.7 3.7 .8 4.7 .2 6.3 .5 6.3 .2 3.4-.4 3.3 .2 9.7-.8 2.3 .5 5.7 .2 6.3-.2 2.3 .8 4.7-.5 5.3-.1 4.4 .2 4.6-.2 3.7 .3 1.7-.2 2.3-.9 1.7-.3 4.6 .2 3.4-.3 6.3 .1 .2 .8 .1 2 0 11.4-.3 .2-1.3 0-1-.6-.7 0-3.7 .9-7.3-.3-4 .8-4.7-.4-11.3 .7-5.3-.7-5.4-.1-5.6-.4-6 .8-7.4-.7-2.6 .1-3.7 .6-4.3-.5-8.4-.1-1.3 .2-2 .7-1.7 .1-4.6-.2-2.5-1.1-1.9-.4-2.3 .2-2.5-.2-.4 .4 .2 .3-.3 .3-1.7 .4-2.3-.8-1.7-.2-4.3 1-.7-1-2.6-.3-9.4 .5-2.3 .6-10.7 .1-3.6 .4-10-.4-3 .3-3-.3-2 .3-9.4 .1-4.5-.7-3.5 0-4.3 .8-6.3-.5-6.4 1.3-11.6 .8-2.4-.1-3.3 .5-2.7-.2-2.4-1.2-1.6-.2-1.6 .5-.6 1-1.1 .3-5.7 0-3.3-.5-7.7 .7-1 .5-.6-.4-.6-.9 .4-1.4-.8-.4-3 .5-.8 .3-.9 1-2.7 .6-5-.4-4 .6-9-.9-8.6 1.6-3.7-.6-5-.1-4 .5-3.7-.7-9.6 .2-5.7-.2-5 .7-5.8-.3-1.7 .3-2.5 1.1-1.3-.2-1.3-.9-1.1-.1-6 1-7-.1-4.3-.5-4 .4-4.7-.2-3 .5-3.3 .8-1.7 .1-4-.1-5.3-1.3-4-.1-7.7-1.1-1.6 0-2.4 1-4 .2-3.6 1.2-5.7 .4-2.7 .6-.4 .6 1.3 1.4-.4 .6-.8 .3-2-.2-1.2 .9-2.1 .3-1.1 .7-.6 1.4 0 .6 1.3 1.7 .2 1-.5 .7-2.1 1.3-.3 .7 0 1.3-.9 .7-5.4 1-2.6-.2-.8-.5-.6-1.3-.3-2.9-.3-.3-1 .3-.6 .5 .2 1.7-1 3.3 .1 1.4-.7 .8-1 .6-.7-1.4 .3-1.7-.6-1.3-1.1-1.4-1.6-.6-1.3 .1-1 .3-1.3 .9-1.2 2-.4 1 .2 .7 .8 1 .5 1.3 1.4 .5 5.3-.4 .5 1.2-.5 .7-2 .9-.8 .8-.3 1.3 1 1-.1 .7-.8 .5-2.4 .8-.7 .7 .1 .6 1.4 1.4-.4 .6-1.7 1 0 .4 1.2 1 .7 1 .8 4-.1 1.3-.3 .7-1.5 1.3 .2 1-.3 .7-1.9 1.3-.6 1-.2 1.3 1 1.7-.1 .7-1.5 1zM131.7 19.7l-1 .3-1.7-.2-.5-.5 0-.6 .5-.5 2.3-1.1 1 .5 .6 .7-.2 .7zM487 30.4l-.8-.4-1.2-1.8-.7-1.9 .3-1 .6-.6 1.8-.4 1.7 .4 .7 .6 .3 .7-.6 2-.8 1.3-.6 .7zM411.3 50.8l-.6 .2-.9-.3-.6-1.4 .5-2.6 1-.8 .6 0 .7 .4 1.1 1.7-.3 1.3zM186.7 56l-.7 0-.7-.7 .2-.6 .5-.5 .7 .2 .5 .6-.1 .7zM203.3 78l.2-3-1.1-2.7-.6-1-.2-1.3 1-3.3 1.1-2 1.3-1 1-.2 .8 .5 .7 1.3 .1 1.4-.3 1.6 .2 2.4-1 2.3-1.9 1.7 .1 .6 .8 .7 0 .7zM412 75.4l-1.2-.4-.9-1 .4-1 1-.5 1.2 .2 .6 .6-.1 1.4zM504 78.7l-1.3 0-1.3-.4-.6-.6 .2-.7 .7-1 1-.7 2.6 0 1.3 1 .1 1-1.4 1zM414 84.9l-.3 0-.7-1.1-1.2-.5-.1-.3 .3-.3 1-.1 .7 .3 .3 1.1zM187.7 93.4l-2.4 .1-1.3-.6-.4-.6-.1-.6 .1-1.4 .3-.6 1.4-.7 5.4 0 .4 .7-.4 1-2.2 2.3zM453.5 95l1-.7 1.2-2 .3-1.6-.2-.4-3.5 1-4.3 .8-1.7-.2-1.7 .1 0 .3 3.1 1.1 2 1.3 2 .4zM175.3 93.1l-1.6 .1-1.6-.9-.1-.3 2.3-.7 1.7 0 .4 .4 0 .6-.4 .5zM174.3 94.5l-.6-.1-.4-.4 .7-.5 .3 .2 .4 .3zM245 112.4l-2.3 .2-1.4-.2-3.3-1.9-4-1.3-2-1.5-.2-.7 .7-1.3-1.7-1.4-.1-1 .2-.6 1.2-1.4 0-1.3 .6-2.7 2-1.8 1.6-.7 1-.2 .7 .2 1.7 1 6 .5 2.3 1.2 1.4 2.2 .4 1-.1 1.6 .4 1.7-.6 5-.4 1-.8 .8zM327.7 106.1l-1.4 .1-2.3-.9-1.8-2.6-1.6-1-1.9-1.7-.3-.7 0-1 .8-2 .5-.4 2-.7 1.6 .1 5 1.5 2.2 1.9 .5 1.3-.4 2.3-.3 .5-1.9 .9 1.3 .5 0 .5zM479.7 104.7l-1 .3-3-.6-3.7-.2-3.2-1.2-4.9-1-.9-.7-.1-.6 1-1.7 1.1-.7 .7-1.1 .6-.3 3.4-.1 4 .6 2.6-1.1 1.4-.2 2.3 0 1.3 .4 .4 .5-.5 1 .5 .6 4 .5 .9 .6 .6 .6 .1 .7-.4 1-1.6 1.3-1 .4-3.6 .2zM502.3 102.7l-3 .1-1.3-.3-.8-.5-1.8-3 .2-.7 .9-1.3 1.2-.7 2-.2 3 .5 1.5 .7 .3 .7-.5 3.3-.4 .7zM203.3 111.1l-.6 .1-.5-.2-.4-.3-.2-.7 .7-1.3 1-.4 .9 .4 .3 1-.3 .6zM103.3 115.4l-.6 0-.7-.4-.5-1.3 .5-1 1.3-.9 .6 .5 .4 1-.2 1.4zM485.7 127.7l-1.6-.4-1.1-.6-.5-.7-.3-1 .5-1.2 .4-.5 .6-.3 2.3-.6 1 .3 1 .6 .5 .7 .2 .7-1 1.8-1.1 .8zM223.7 142.1l-.7 0-.7-.4-.8-1.4-.5-2.6-1.6-3.4 .3-1.6-1.2-1.7-.1-1.3 1.2-2 1.1-1.2 .6-.4 2.7-.8 .1-1 1.1-.6 1.8 0 1.3 .4 1.1 .6 2.8 3 1.9 1.3 .8 2.7 0 2.3-.9 1.6-1.7 1.2-.6 .1-1.6-1.2-1.1-2.1-.3-.2-.6 .3-2.4 2.3 0 2.3-.9 2.7zM317.7 128.3l-1-.2-.4-.4-.2-.7 .5-1.7 1.1-.4 1.1 .4 .4 1.4-.1 .6-.4 .6zM396.3 133l-2 .1-2-.7-1.3-1.2-.3-1.2 .6-.6 2-.8 3-1.7 6.7-.3 1.3 .2 .5 .5 .1 .7-.6 .7-.4 1.6-.6 .6-1 .5-3.3 .6zM310.3 131.5l-2-1.1-.6-1.1 .3-1 1.3-.8 1.4-.1 .6 .2 .9 .7 .3 .7-.2 1zM371.7 133l.9-1-.3-.7-.3-.2-.7 .2-.6 .7 .3 .9zM487.3 140.7l-1 .1-1.6-.4-1.3-1.1-.4-1 .3-1.3 1-.9 2-.7 3.4-.1 1.3 .3 .8 .4 .9 1.3 .1 .7-.4 .7-3.1 1.4zM529.7 142l-.4 .1-.3-.2-.2-1.9-.5-.7-1-.6-.1-.4 .2-1 .9-.5 1 .1 .6 .8-.4 1.6 .6 2zM245 148.7l-2.7-.2-3.3-1-1.1-.8-1.4-1.7-.2-.7 .4-1 1.9-1.3-.5-1 .3-1 1.6-1 2.7-1.1 1.3 0 1.3 .4 2.7 1.7 .6 .7 1.4 3.6-.1 1.7-1.2 1.8-1.4 .7zM104.3 143.4l-.7-.1-.5-.6 .2-.7 1-.7 .4 .2 .1 .8-.1 .7zM360 148.4l-1 0-.7-.4-.1-3 1.5-1.8 1-.4 .7 .5 .9 1.7 .3 1.3-.2 .7-.7 .7zM217 161l-2.3 .3-1.7-.2-2.7-1-2.2-.4-.8-.6-.4-.8 .1-.7 1.3-2.3-.9-1.6 .2-1 2.3-3 .6-3.7 2.2-2.1 2 .9 3 0 1.3 .4 2.3 1.6 .6 .9-.1 .6-1.3 .7-.5 .7 .3 .4 1.6 .9 .7 .7-.4 1.6 1.5 1 .4 .7-.3 1.3-2.1 3.4-1.7 .9zM436.7 148.7l-.7-.1-.4-.3-.9-1.1-.4-.9 .4-.9 2-1.4 2 .7 .4 1.3-.4 1.3-1.1 1zM411.7 152.1l-1.8-.1-1.2-3.5 0-1.8 .2-.7 1.1-1.1 1.3-.8 1.4 .9 .7 1.3-.3 2.4-.9 1.3-.2 1.6zM374.7 149l-1 0-.8-.3-.9-1.4 .3-1.1 1.4-.9 1 0 1 1.6-.1 1.4zM179.7 157.3l1.3-.3 2.2-1 2.5-2.6 1.6-1.1-.2-.6-1.8-1.4-.1-.6 .6-1 0-.4-.5-.3-1.3-.3-1.3 0-2 .5-3.7 .5-.7 .3-.6 .6-.1 1.4 1 3.7 1.9 1.6 .2 .8zM473.7 152l-2 .1-1.7-.8-.7-.6-.1-1 .8-.6 3.3-.6 1.6 .2 1.1 1.1 .1 .9-.7 .6zM486.3 160.7l-1.3-.1-1.7-.5-.6-.6-.5-.8-.4-2.4 .2-2.3 .3-.9 1.3-1.8 1.1-.4 4 .2 4.3 1 1.3 .6 .4 .6 0 1.4-.3 1-.7 1.1-2 1.1-2.4 2zM489.3 153.7l.5-.7-.5-.4-1.6-.3-.9 .4 .3 .6 .6 .4zM314.7 162.3l-.4 .2-.4-.2 .4-.8 .4 .1 .2 .4zM315.3 169.7l-.6 .1-.7-.3-.5-.8 .5-2 .6-1 .4-.2 .7 .6 .6 1.9-.2 1zM407.3 188l-4-.1-1.3-.4-2 .1-3.7-.6-4-1-2.1-1.3-1-1.4-1.1-1-.3-.6 .2-.7 .7-1-.1-1.3 1.3-1.7 0-1 .2-.7 .6-.5 2-.9 5.3-1.2 3.3 0 3 1.6 1 .2 1.7-.2 5-1.3 4-.1 .7 .1 2.3 1.3 4.3 1.7 .8 .7 .4 .6-.2 .7-2.5 1.3-.1 .7 .9 1.3 .1 .7-1.4 1.3-1.3 2.1-3.3 1.4-4-.1-1.7 .7zM350 189.3l-3.3-.3-2.4 .1-1.3-.3-1-.6-.7-1.2-2-.5-.9-.5-.4-1 .8-1 1.2-.8 4.6-1.5 1.4-1.7 2 .2 1.7 .5 .9 .6 .3 .7-.2 .6-1.1 .4-.2 .3 .2 .4 3.4 1 .7 .7 .4 .9-.4 1-.7 .9-1.7 .9zM81.3 186.7l-1.3 0-.7-1-.1-2.4 .9-1.6 .6-.4 1 .7 .5 1-.3 1.3 0 1.7zM282 183.1l-2.3-.2-.5-.2-.3-.7 .4-.4 1.4-.3 1.6 .1 .9 .3 .2 .3-.1 .4zM313.7 192.4l-1-.3-1-1.1-.7-4.3 .3-1.4 1.4-1.6 .5-1.7 .8-.3 1 1 1 2.6 .1 1.4-.3 1.3 .6 1.7-.2 1-.5 .7zM291.7 202.4l-2.4 .1-1-.2-2.1-2-.6-1-.7-3-.8-1.6 .9-1.7 .2-1-1.2-1.7-.2-1.6 .7-1.7 1.5-1.5 2.6-.8 1.7-1.1 3.7-.2 3.3 1 1 .9 1.1 3-.8 2 .9 3-.3 1-1.5 1.3-.6 1.4-1.4 1.3-1.4 2-1.6 1.5zM226.7 209.7l7.3-.3 5.3-1.2 3 0 1.1-.2 .6-.6 0-.7-1-4.4-.3-.3-4.7-.6-5.7-.1-4 .4-.2-.4-.1-.7-1.2-.3 .1-.6 1.3-1.4-.9-.2-1 .2-1.6 .7-2 1.4-1.4 1.6-1.6 .9-2.4 .7-6.6 1.1 .1 .3 3.5 1.5 2.7 0 5 .6 .7 .5 .2 1.1 .8 .9 1 .2zM179.7 205l.1-.3-.5-.4-.5 .4 .1 .3 .4 .3zM487 235.4l-2.3 .2-2.7-.1-2.3-1-.5-.5 0-.7 1.5-1.7 2.6-.8 2-.1 1.3 .6 .1 .4-.5 .6 .3 .4 2.5 1 .1 .3-.4 .6zM222.3 243.4l-2.3 .1-3-.5-.6-.7-.5-1.6 3.4-.3 1.7-.4 2.3-1.1 4-.4 3.4-.7 8 .7 5.3-.4 1.7 .2 3.6-.1 1.7 .6 .9 1.2-.2 .7-.4 .2-4.3 .5-3 1.3-2.3-.2-2.4-.8-3.6-.5-1.1 .1-.3 .4 2.4 .6-.2 .4-1.9 .3-5.9 .2-4.4-.5zM491 250.4l-1.3-.3-.7-.8 0-1 .7-1.3 .1-.7-1.1-1.6 .1-1.7-.5-1.3 .4-.6 1.2-.8-.3-1 .3-.6 1-.7 1.1-.1 .7 .2 .4 .6-1 1.6 1.3 2 .2 2-.3 1-1.1 1 0 .7 .5 1.3-.3 1.7-.4 .3zM36.5 240.3l2.2-.6 .9-.7-.3-.3-1-.3-2-.1-1.8 .4-.7 .6 .1 .4 .8 .5 1 .3zM256.3 241l-1 0-.3-.3 0-1.4 .3-.3 1-.1 .8 .4-.1 1.4zM270.7 242.4l-2.4 .2-2.3-.9-.6-.7 .1-1.3 1.2-.8 1.3-.1 2 .3 1.7 .7 .6 .5 .1 .7-.8 1zM282.7 242.4l-2 .1-1-.3-.7-.5 0-.7 .3-.5 .7-.3 2.4-.2 2.9-.8 2.4 .2 .6 .3 .4 .6 0 .7-.7 .4-3 .7zM511.3 253.7l-3-.5-5.3-2.1-1-1.4-.6-1.7-1.3-1.3-.7-1.7 .1-1 1.4-2.3 1.8-1.8 1.6-.6 .7 0 3.3 1.6 2.4 .9 2 .2 1.3-.3 .8 .3 .1 1 1 1.3-.2 .9-1.6 1.1-.1 .4 .9 1 0 1-2.3 4.3-.6 .6zM304 243l-.7-.1-1-.7-1.3-.5-.7-.6 0-.4 1-.6 3-.6 2.7 .2 1.3 1 0 .6-1.3 1-1 .4zM525.3 254.7l-1.6 0-1.2-.7-.4-.7 .1-.3 1.2-1 .1-.3-2.4-1-2.5-2.7 .3-1.7-.3-1 0-.6 .7-1.1 .7-.5 1.3-.3 4-.2 1.6 .7 .1 .5-2.9 1.2 1.2 .2 5.7-.2 .5 .3 .1 .7-.5 2.3-.8 1.8-1 .9-2.4 .3-.7 .4-.1 .3 .6 1 .1 .7-.5 .6zM220 251l-1.7 0-1.3-.4-.6-.6 0-.7 2.3-1.3 1-.2 .6 .3 .7 .6 .4 1-.4 .8zM485 263.1l-.7 .1-.6-.2-1-1.2-.3-1.1 .2-1.4-.4-1.3 .2-1.7 .9-1.6 0-1.8 .6-.6 .8-.2 1.2 .2 .8 .7 .6 1.6-.4 1.7 .6 1.7-.3 2.3-1.5 2.3zM108.8 263.3l.7-.6 .6-1 .5-1.4 .8-3.3-.7-2-2.4-1.8-1.3-.3-2.7 1.9-2.6-1.5-2.7 .2-1 .7-1.9 2.1-.6 3 1.1 1 2.1 .7 3 0 1.3-.3 1.3-.9 1.7 2.7 1.7 .8zM214 270.3l-.9-.3-.5-.7-.4-1.3-.7-.7-.6-1-.7-2.3 .5-2.7-.1-2 .9-2 0-1.6 1.2-1.6 1.3-.6 1.3 .4 .6 .4 1.9 4 .5 1.7-.3 1.3-1.3 1.7 .4 2-1.2 2 .2 2.3-.4 .6zM244.3 260.7l-2.2 0-1.8-1.1-.4-.9 .1-1.4 1-1.2 .7-.3 1.3 .2 2.3 1 .7 .6-.1 .7zM104.7 257.7l-.4-.4 .1-.3 .3-.1zM66.7 267.8l-.7-.1-.5-.4-.8-2 .2-1.3 .6-1.3-.3-1.4 0-2.6 .4-1 .7-.4 .7 .3 .5 .7 0 1-.4 1.7 .8 2-.2 1.3 .1 2-.5 1zM227.7 274.2l-1.7-.1-1.5-1.1-.5-.7-1-2.6 .6-1.7-.4-2 1-1.7-.6-1.6-.1-1 .5-.7 1.7-1.4 1.3-.2 1.1 .3 1.1 1.6 .5 1.4 0 1.6 .3 1-.1 2.4-.5 1 .3 1.3-.4 2.3-.9 1.4zM201 271.5l-1 .1-1.7-.7-1-2.2 .1-1 .6-2 1-1.1 1.3-.5 .7 .1 .8 .8 .7 3.3 0 1-.4 1.4zM219 274l-1-.2-.3-.8 1-1.2 1 .9 .2 .6-.2 .4zM495.7 277.7l-2.7 0-1.7-.5-.5-.5-.1-.7 1.1-1.7 .5-1.3 1-.5 2-.1 1.7 .5 1.7 1.1 .4 1-.4 1.2-1.4 .9zM21.7 281.7l-.7-.4 0-.9 .7-.5 .9 .1 .4 .7-.7 .7z" stroke="#e000d0" stroke-width="0.9" fill="none"/>
<path d="M88.3 271.2l-1.3-.2-1-.4-8.3-1-1.1-.6M78 267.6l1.3 .8 2 .1 2-.2 2.4-1.1M91.1 261.3l-1.4-1.6-.7-2.4M61 244.1l-.7-1.1-.6-.4-3 0M43.3 238.6l-2.3 0M32.7 239.2l-.5 .5 .3 .6-.1 .4-2.4 .1M77 196.1l.9-.4 1.5-1.4 .6-.2 .6 .2 1.5 1.7M82 176.1l-2.3-.5-1.4-.8-3.3 .5-2.3-.2-1-.8 0-1.3M76 172.9l2.7 1.5 3.6 .2M115.4 160.7l0-1 .8-1M116 133l-.4-1.3M110.3 131.8l-1.3 .5-.3-.3 .6-2 .7-.7M111.2 128.3l.8-1.3M112.1 114l-.4-.5-.1-.5 .9-1.3 0-.7M118.7 92.2l-2.5-1.5-.2-.4 1.3-1.1 2-.6 1.4-1.6M122.6 80.3l-2.2-2.3-1.4-.4M113.7 77.4l-5.7-.7-1.7 1-.6 .1-1.7-.6-.6-1.2M107.3 67.8l3.7-1.1 1.7-.3M125.9 62l.5-1.3-.7-.8M128.7 49l-.3-1-.4-.4M132.6 37.7l.1-1 .3-.4M134.3 35.7l.8-.7 .5-1.3M135.3 29.4l.1-1.1 .6-.6M139.1 21.7l-.9-1-.2-.7M164.9 34l-.4 1.3M166.3 40.6l.2 .7-.3 .4M187.7 61l.6-1.2 .9 .9M169.2 91.3l-.2 1 .3 .7 1.8 1.7M180.9 108l.4 1.4M192.2 140l-.4 .7-.9 .6-.2 .7M192.8 152l0 .3 .8 1-.6 .7M267.2 142.7l1.8 .1 .8-.5 .2-.4M278 141.9l.7 .2 .6-.2M452.8 101.7l.8 .6-.3 .4-.8 0-.1-.4 .1-.6-.2-.1M207.7 246.9l-1.7 .1-.9 .3-.1 .4 .3 .3 1.6 .3-.9 .4M196.3 243.8l-.7 1.2M194.3 252.1l-.3 0-.4-.4 .4-1.4M184.5 250.3l-.2 .7 .1 .7M183.8 281.7l.6 1M112.6 69l.3-.3-.6-.5-1.3-.2-.7 .3 .9 .7zM188.3 89.3l1.4 0M175 92.7l-.7-.4 1-.5M328.3 102.9l-1.5 .4-.4 .4 .3 .3 1.6 .5M105.5 136.7l.6-.7 .4-1.3 .8-.6 .7-.1 .3 .7-.8 1.3 .1 1.3M209.7 159.5l-.4-.2 .6-.6-.2-.4-.7-.4-1-.1M412.3 148.4l-2.6-.2-.4-.2M488.3 151.7l-1.3 0-1.2 .3-.4 .3 .3 .7M489.7 154.1l1-.8 .3-1.1M308 166.4l1 .4 .7 .9M483.3 232.3l2 .2M239.7 241.2l-2.4-.6-2.6 0-1.8 .7-.3 .4 .1 .3 .6 .3M268.3 239.3l.5 .4-.2 1 .4 1.3-.3 .1M490 241.4l1.7-.2M525.3 243.9l-2 .5-.7 .6M111.7 258.3l.4-1M106 252.2l-.3 .1 0 .7-.4 .5M67.4 263l-.4 1.3" stroke="#ff0060" stroke-width="0.9" fill="none"/>
<path d="M180 286l-47.7 .2-29.6 0-3.1-.2-.9-1.3-.4-1.8 .7-.9 1.9-1.3 1.6-2 0-.7-.7-1.7 .4-.6 1-1-.1-.7-1.1-.9-2.3-.7-5.4-.1-5-1.6-1.3-.8-1.3-.2-2.4 0-.6-.4 2.3-1 2.4-.3 .4-.3 0-1 .5-.4 3.8-.6 .3-.4-.6-1.6 .3-1-.1-.4-1.1-1-.2-1.3-1.2-1-1.1-2.7-1.5-1.6 0-2.4 .7-2-.2-1-3.1-3-4.3-2-.3-.3 0-1-.7-.7-2-.6-2.3 0-1.4 .5-1.6 1.4-3.7 .7-1.9 1.7 0 .3 .7 .7 0 .7-1 .6-1.1 .3-.7-.2-.2-.4 .1-1.7-3-2-.3-.6-.1-1-.8-.8-2.4-.4-2.3 .5-2.7 .1-2.4-1.1-1.6-.3-2-1.4-3.3-1.1-8-.5-5.9 1.6-1.8 1-3.6 0-4.7-1-1.7 .3-2.6 1-3 .1-.2-16.4 0-12 .2-1.4 1.3-.3 1.7-.8 3.3-.7 6.3-.1 2-.3 3 0 5.7-.7 2.7 .7 1.6 .1 3-1.1 4-1.9 2.5-1.8 3.4-1.3 .8-1.7 1.7-1 2.6-.3 3 .6 2-.2 1.7-1.1 1.4-1.3 .6-2.1 .5-.6 .8-.4 1 .4 .6 .7-.3 1.3 .3 .7 1.1 .6 2 .5 1-.2 2.7-1.8 2.3-.4 1.3-.5 1.4 .4 1.3 1.5 2.3 .4 2.4-.1 2.3-1 4.3-.7 .7-1.4-.3-1.3 .1-.7 .5-1 1.2-1.3 .2-.7-1.4-.6-5-.5-3.4-1.2-.2-.7 .3-2-.9-2.3 .2-.7 1.4-1.3 0-.7-1.3-1.7-.7-1.5-2.7-.8-.4-.7 .8-.3 7.9-.8 3-1.5 2-.6 3.7-.7 5.3-.6 4.7-1.1 3-2 .1-.7-.7-1.7 0-1 1.1-1.3 2.2-1.3 .5-.7-.1-1 .7-1.3 0-1.4-1.5-.9-2.3-.6-1-.5-.6-.6-.5-1.7 .4-.8 2-.2 2.3-1.3 1.2-2 .5-1.7 1-1-.1-.7-1-1-1-2 2.2-2.6 0-.4-1.2-1.6 .6-1.7 0-.7-1-1.3-.2-2.3-.6-.7-1.3-.3-1.7-.1-2.7 .5-.3-.1-.1-.3 .5-1 3.2-2.7 8.1-2.1 2-2.1 .6-1.5 .1-1-.9-1-2.8-1.5-6.2-2.1-.9-.7-1.2-1.7 0-.3 .9-1.3-.2-1.4 .2-.6 3.3-2.7-.1-1-1.5-1.7-.1-1 .3-1 .8-1.6 1.8-1.7-.1-2.3 .6-.3 3-.6 1-.8 .3-.7 0-.6-.6-.9-1-.6-1.7-.5-.8-.7-.4-.7 .2-.3 1.7-.2 .3-.2 1.3-2.6 2.8-3 .3-.7-1.2-1.6-.3-2.4-1.3-1.6-.6-.4-1.3-.2-4.3 0-1.2-.4 .7-.7-.1-.3-2.4-.5-5.7 .7-.7 .4-.6 .7-.4 0-.8-1-2.1-1.7-2.7-1.3-.5-.7-.5-2 .7-.6 1.3-.6 5-.7 3 .2 2.6 1 1.4 0 .8-.3 .7-.6 0-.7-.6-.7 .4-.2 6.3-.2 3.4-.5 2.6-2 .3-.7-.1-1.4 .6-1.3-.2-.7-.6-.6-2.3-.9-6.3-.9-1.4-.6-.3-.3-.1-.7 .7-1 2.4-2 3.3-.6 4.7 .4 1.7-.6 .9-.8 .4-1-.6-1.7 .2-1-.2-.3-2.1-1.4-.7-2-1.4-1.3-.1-1 .6-1 1.3-1.1 4-.7 1.5-.5 .7-.7 .5-1.3 2-1.1 .7-2.6-.3-.7-.9-.6-.2-.7 3-4.7 1.7-1.6 .5-2.7-.4-1-2.4-2.7 0-1.6-2.3-3-2.9-2-.9-1.2-.6-.4-1-.3-2.4 .1-1.6-.2-3.7-1-10.3-.7-1.7-1-.1-.7 .3-.3 3.3-1.3 6.2-.2 43 .1 1.4 .1-.3 1 .4 .3 3.1 .4 3.1-.4 1-.7-.1-.6 1.4-.1 26.3 0 1.3 .1 .4 .6 0 .4-.4 .2-1.8 .8-.8 1-1.7 .6-3.7 .3-3.6-.4-3.7 .6-4.7-.1-6.3 .6-6.3 1.2-2 .9-2 1.8-.5 .8 .3 2.3 1.3 2 .2 1.7 1.4 3-.4 .7-2.2 1-.1 .3 .4 1.3-1.7 1.7-.7 1.7 0 1 .6 1 1.7 .8 .5 .5-.8 2 .4 1.3 2.6 1.1 .5 .6-.2 .8-1.5 1.2-.1 .3 .2 1-1.4 2-.1 1.7-.6 1.7 .2 1.6 1.4 1.7 .3 1 0 .7-.7 1.3 .1 .7 2.7 1.3 .9 .7 .4 .6 .1 1.4 1.5 1 .5 .6 .2 .7-.3 1 .4 .3 5.1 2.2 2.4 .5 1 .5 2.3-.3 2.7 .8-1.1 .7 .3 .3 2.1 .3 1.1-.3 .1-.3-1.8-.7 1.9-1.3 .7-2 .3-.5 .4 0 2 1.9 3 1.3 .6 .9 3.2 3.4 .4 1-.3 1.6-.6 1.7-.7 .6-1.6 .7-.3 .4 .4 1.3-2.2 1.3-.4 .4-.3 1.3-.9 .6-1 .1-1-.3-1-1.1-.7-.2-4-.1-3.3-.4-3.7 .2-3.7 1.2-.9 1.3-2.5 1-.9 .7 .6 .7 2.1 .6 .4 .4-.7 .9-1.7 .5-.7 .5-.1 1.4-.9 2 1.2 2 .2 2 3.5 4 .9 2.3 2.1 1.7 .7 1.3 2.1 1.2 .4 .5-.1 1-1.2 1.3 .2 .7 2.6 1 .3 .3 .1 1 .7 .6 4.4 .8 .1 .3-.2 .7 .2 .6 2.7 1.4 2.5 2.3 .5 2.7-.4 2.6 .3 1.7-.3 1.3 0 1.4-.9 1.6 .3 2-.6 1-.1 .7 .3 1.7 1.1 3-.1 .6-.8 1.7 1.5 1.7-.3 .6-1.3 1-.1 .7 .7 .7 2.5 1 1.7 1 .6-.5 1.7 0 1.7-1.5 .3 .1 1.5 2.9-.1 1-1.4 1.4-1 .3-1.3-.4-1.5 .3-1.1 1-.7 1.4-1.4 1.3-.2 .3 .6 1-1 1.4-.1 1 .4 1 1.6 1.6 0 .7-.3 .3-2 1.8-1 .5-5 1.5-2.7 .5-1 .4-2.6 2.7-.7 2.3 .3 .7 1.3 1.3 .4 1.3 1 .7 2.7 .3 7 .1 4.3-.3 .7-.3 3-3.3 4.6-1 5 .7 2 .6 3.4-.7 .6 .2 2.7 1.6 1.3 .2 2.7-.1 4.3-1.3 5.7-2.7 2-.5 3.3-.5 1.2-1.3 2.2-2 1.4-3.4 2.9-1.6 .4-2 .9-1.6 6.4-4.3 .6-.2 1.7 .4 .8-.3 .3-.7-.4-1.3 1.5-2.4 1.5-1 2.6-1.3 2.7-.7 1.7 .1 .8 .3 1.8 .9 1 .2 2.4-.9 1-1.2 1.6-.1 1.7 .1 3 1.1 1.3 0 2.4-1.2 5.6-.6 3-1 .4-.3-.5-1 .3-.4 4.7-2 4.8-.4 4.3-1 4.7-.6 1.7-.8 2 0 2.6-.7 2.5-1.5 3.5-.8 2.9-.2 2.5-1.5 3.3-1.1 .7-1 1.3-.6 1-.8 2.9-4 2.8-2.2 2.5-1.1 .1-.3-1.8-2-2.8-.7-1.1-.7-.1-.6 .2-.7 2.6-2.1 3.3-.9 2.4-.3 1.3 .1 .6 .2 0 .3-.6 .3-2.6 0-.4 .4 1 .3 3-.4 5.4 .5 .7 .3 1.1 1 .5 1.2 .7 .1 4-.6 1.3-.4 1.1-1 2.7-1.3 .6-1.7 1.8-1-.2-.7-.7-.5-3 .1-2.1-.2-3.5-1.5-3.7-.9-4-.4-6-1.7-1.7-.1-3 .2-1.3-.3-1.7-1.2-.3-1.1 .3-.7 2.3-2.3 1.1-.7 1.6-.2 5.7 .5 2.7-.6 5.6 .1 3-.7 1 0 4.4 .3 3 .8 1.3-.1 2.7-1 2-.2 2.3 .7 2.7 1.7 .8 1.4 .5 3.3 .3 .4 .4 0 2.1-1.7 .2-.7-.4-1 .3-1 2.9-3 2-1.3 .2-.4-.2-1 .2-.1 2-.8 4.8-1.1 1.5-.8 3-.6 6.7 .1 4.7-.4 1.3-.3 2-1.4 3-.2 4 1.1 3-.1 3-.3 5.3 .9 2.7-.6 2.3-1 4.4-4.1 1.9-1.3 .7-1 .8-.6 6.9-2.4 3.4-3.3 2.1-1.3 .8-1-.1-.4-.5-.3-1.5-.3-.5-.4-.3-.6 .4-1 3.8-2.7 2.1-.7 1.6-.3 1.7-1.7 3-1.2 1.7-.3 2.3-1.5 1.5-.6 4.5-1.2 3.3-1.5 2.7-.6 4.7-.5 3.3 0 2.9-.9 3.6-2 3.5-1.3 1-1.7 3-3 4-.9 4-1.7 .8-.7 .1-1 .4-.7 4-1.5 2.3-1.2 3.4-.9 3.7-.5 5-2.2 7.3-.4 4.7-1.1 5.6-.4 2.4 .1 1.1 .8 .1 .6-.1 .7-1.1 1.6-.7 .3-2 .1-.7 .3-.1 .4 .1 .2 1.4 .3 0 .5-3.2 2.3-1.2 1.8-1.4 1.5-.9 2-3.7 2-.2 .4 0 1.3-.2 .3-4.6 2.8-4.4 .9-.8 .7 1 1-.4 .3-3.7 .8-1.7-.4-6.1 .9-.9 .4-1.3 1-2 .5-2.3 .3-3.4-.1-.6 1.1-1.4 .1-1.3 1.1-.5 .6-.5 1.7-1.7 1.2-1 1-3 1.7-1.7 1.4-2.8 1.4-2.1 3-1.7 1.2-2 1.1-4 1.2-2 1.2-5 1.3-2.7 1.8-1 .4-3.6 .4-2 1.1-4.4 1.2-1 1.7 .5 .7 1.4 1 .6 .7-.2 2.3-1.9 2-.2 1.3-2.2 1.7-.3 1 .1 1.7-.8 .7-2.3 .5-3.7-.3-3.3 .8-4 .3-.7 .2-1.6 1.2-4.4 1.1-2 1.4-1.6 .2-3.7-.2-1.3 .3-.4 1.1-1.6 .7-1.6 2-2.8 1.9-2 .7-1 .7-3 3.9-2.6 .9-3.7 2.6-2 .5-2.7 1.1-2.6 .5-2.7 0-1.7-.4-2.3-1-2.3-.3-2.4 1-2.9 .2-2.1 .5-2.6 1.2-1.7 1.3-1 1.3-1.7 1.7-.1 .7 .2 1.3-.7 1.3 .8 1.4-.8 1.6 .5 1.7-.4 1-.1 1.3-.4 .8-1.4 1.2 0 1.4-.9 .7-1.3 .1-1.4-.7-.6-1.5-1.4-1-1.7-2-.1-.6 .3-1.4-.5-.8-.3 0-.8 .8-.4 2-.7 1-3.8 2.3-9.3 1-2.3-.6-4-.3-1 .2-.8 .4-.3 1.4-.6 1.3 .2 .7 1.5 1.1 .4 .9-.8 3-.4 1-.6 .5-1 .5-7.3 1.6-3.3 1.3-3.4 1.7-3 .5-4.6 .3-6 1.3-1.7 .7-2.6 1.6-4.7 1.6-3.4 2.7-4.5 1.7-.2 2.3 .3 .7 .9 1.3 0 2-1.1 1.3-2 .8-2-.1-.7-.8-.6-1.5-2.4-1.2-1.3-1.5 0-.7 .5-1-.2-.3-1 .1-2.3 1.2-5.7 .9-4.3 .4-2.7 .9-.9 .8-.3 1.4-.4 .6-2.6 2-.2 2.4-.7 1.3-1 1-1.9 1-1 .2-1.3 .2-3.7-.7-1.1 .3-.9 .7-.1 .3 .4 1-.9 1.3 .3 1 .6 .3 3.4 .3 2 .6 .4 .5 .3 1.3 1.1 1.4 .4 1-.5 1.3 0 1.3-.9 1.7 1 1.7-.7 3-1.1 1.7-2 .7-.8 .6-.2 3-.5 1.3-.9 .4-2.3-.3-5-3.3-.4-.8-.7-2.3 .4-1.7 .1-2-.4-.4-1-.2-.6 .3-.3 .6 0 1.7 .3 1.3-.1 2.6-.4 1.1-.2 1.3-1.8 2.4 0 .6 .8 .6 2 .6 3.3 .3 5.7 1.1 1.6 0 3-.4 3.7 .4 4.3 0 1.7 .5 1.7 .1 4.6-.6 9 .6 4.7-.4 3.3 .5 4.4-.1 7 .6 2.6-.2 3-.7 1.4 .5 5.6 1.1 5.7-1 5.3 .4 12.4-.6 9.6 1.1 3.4 .1 4-.3 .9-.5 .5-.7 .6-.3 1.6-.1 2.7 .3 .3 .1-.2 .7 .2 .3 .7 .2 4.3-.7 8.7 .8 5.7 0 3.6 .9 5.2-1.2 .1-.3-.2-.3 .3-.1 .7 .1 .5 .3 1.4 .1 12-.5 2.3 .4 1.1 1.3 1.3 .4 2-.2 4.3-1.2 3 .4 16.4-.7 4.3-.5 1.3 .2 2 .8 6 .6 5-.2 4.4 .5 12.6-.2 2.7 .2 2-.2 2-.7 4-.1 2 .3 3.3 .9 1.7 .1 2.7-.4 2.3 .3 1.7-.1 7.6-1 5.7 .7 3.3-.7 4.3 .8 16.7 .9 3.4-.4 3.6 .3 3-.5 6-.4 2.7 .4 5.3 .2 6-.2 1 .2 .8 .5 .9 .2 5-.5 5.3-.1 4.4 .2 4.6-.3 3.7 .3 1.7-.2 4-1.1 5 .3 3.3-.5 6 .2 .2 2.5 0 11.4-.2 .2-1.3 0-1.7-.9-3.7 .8-7.3-.1-4 .7-4.3-.4-11.7 .8-6-.8-4.7 0-5.3-.5-6.3 .8-7.7-.6-2.3 .1-3.7 .5-4.3-.4-8.4-.1-1.3 .1-2 .7-1.7 .2-4.3-.3-2-.9-1.7 0-.3-.3-1.7 0-.3-.3-3.7-.1-1 .2-.3 .2 0 .7-.7 .2-4-.7-3.6 .7-.7-.5-1-.4-3-.1-5.7 .4-3 0-2.6 .6-10.4 .2-3.6 .4-10.4-.5-17 .5-4-.5-3.6-.1-.4-.1-4.6 .8-5.4-.6-6 1.3-12.6 .8-2.4 0-3.6 .4-2-.2-2.4-1.1-2-.2-1.6 .3-1.4 1.3-1 .2-5-.1-3.3-.5-7.7 .5-1 .4-.6-.4-.1-.7 .7-.9 .4-.1-2-.6-2 .3-.4 .3-1.4 0-1.5 1-2.4 .7-4.7-.4-4 .6-9-.9-8.6 1.5-3.4-.5-5-.1-4.3 .5-5-.6-8.7 .1-5.3-.2-5.3 .7-5.7-.2-1.7 .3-2.6 .9-1.4-.7-1.3-.3-2.7 .1-4.3 .9-6.7-.2-4.6-.5-3.7 .4-5-.1-6.7 1.2-4 .1-2.6-.3-3.7-1.1-4.3-.1-7.5-1.1-1.8 0-2.4 1-4 .2-3.7 1.3-5.3 .3-3 .7-.8 .8-.1 .4 .4 .6-.2 .3-1.6 0-1.4 1.3-2 .4-1.2 1-.6 1.4 0 .6 1.5 2-.2 1-2.8 2-2.7 .3-1.4 .4-.6 .7 .8 1-.7 .3-2.3 .3-1.8-.6-.7-1.4 .1-2-.3-1-.4-.4-1-.2-.7-1.1-.6 .7-.9 2 .7 1.7-.5 1.9-.3 .5-.4 .1-.3-.2-1.6-2.3 .3-1.3-.4-.4-1.3-.1-2.7 .8-1.3 .8-1.3 .9-1.4 1.9-1 .9-1.1-.5-1.2-.1-1.3 .1-.8 .3-.2 .4 .4 .3 1 .3 3.2 .2 1.1 1.2 .9 1.6 1 .8 1 .2 3.4-.3 1 .3-.1 .4-1.9 1.1-1.1 1.9 .1 .6 1 1-.2 .4-2.6 1-.8 .6-.2 1 .9 1.4-.2 .3-1.7 1.3 .4 1 1.7 .9 .7 .8-.2 1.3 .6 2.4-.1 1-.6 1-1.6 1.3 .1 1.3-1.8 1.7-.4 .7-.7 2 .8 1.3-.1 .7zM176.8 6.3l-.1-.3-.4-.1-1.4 .1 .4 .4zM131.3 19.4l-1.6 .1-.7-.5 .6-.7 1.7-.4 .9 .4 0 .4zM539.6 38.7l.8-.7-.3-.7-.4-.4-1-.1-1 .4-.4 .5 .4 .6 .6 .5zM469.1 62.7l.3-.4-1.1-.2-.3 .2zM204.3 74.1l-.3 .1-.5-.5-.6-1.7-.8-1-.1-1 .9-3.3 1-1.7 1.1-1 1-.1 .9 .8 .4 1 0 1.3-.3 1.3 0 2.4-1.1 2.3zM187.7 93l-2.4 .2-1.1-.5-.4-1 .2-1.4 .3-.5 1-.4 1.4 .1 .3 .2 .2 1 1.5 .3 .3 .3-.3 .7-.4 .7zM454 95.3l.9-.6 1.2-2.4 .4-1.6-.2-.6-.3-.2-3.7 1.1-3 .5-1.3 .2-1.7-.3-1.6 0-1.4 .4-.5 .5 3.5 1.1 3.4 1.7 2.6 .4zM243.7 112l-1 .2-1.1-.2-3.3-1.9-3.8-1.1-1.6-1-.6-.7 0-.3 .9-1 0-.3-.5-.8-1.4-.7-.3-.9 .3-.6 1.3-1.4 .1-3 .3-1 1-.9 1.3-.9 1.7-.5 2.7 1.1 6 .5 1.8 1.1 1.8 2.5 0 2.1 .4 2-.7 5.1-.7 .9-.6 .5zM327 105.7l-1.7-.3-.9-.4-.4-.3-.5-1.4-.6-.6-2.2-1.4-1.8-1.6-.1-1 1.2-2.5 .7-.3 1.6-.2 5 1.2 1.1 .4 1.8 1.7 .3 1.3-.6 1.7-5.1 1.3 0 .4 .3 .3 2.8 1-.1 .3zM478.7 104.3l-1.8 0-1.2-.4-3.4-.2-3-1-2.9-.7-.9-.3-1.5-1.3 .1-.7 1.9-2 1-.5 2.7 0 4 .7 1.3-.3 2.3-.8 2.8 .2-2 .7 .2 .6 1 .6 2.4 .4 3.3 .1 1 .3 .6 .6 .2 .7-.2 .7-1.6 1.3-1 .3-4 .1zM502 102.3l-2.7 .1-1.6-.5-1.9-2.6 .2-1 .7-.8 1-.5 .6 .7 1.3 .3 1.4-.1 1.7-.6 1 .3 .1 .4-.3 3.3zM132.3 101.3l.7-.6-.1-.4-4.5-1.3-.7-1.1-1.8 .1-.6 .3-.3 .7 .2 .7 .5 .3 1.7 .7 3.3 .6zM350.3 99.7l.2-.4-.8-.3-1.1 .3 0 .4 .4 .1zM360.3 100.3l-.3-.3-1.2 0 .5 .5zM203 110.7l-.7-.3-.2-.4 .5-1 .7-.2 .5 .2 .1 .7-.3 .6zM223.7 141.7l-1-.1-1-1.6-.4-2.7-1.4-3 .2-1.6-1.2-1.7-.2-1 2.3-3.2 1-.5 2.9-.6 .4-.4 .1-1 .9-.1 2 .6 1.4 1.5 3.9 2.7 .9 2.7 .1 2.3-.7 1.3-1.9 1.1-1.7-.9-1.3-2.3-.3-.1-.7 .3-2.9 2.6 .2 2.3-.9 2.7zM318 127.8l-1 0-.5-.5 .1-1.3 .7-.6 1 .1 .5 .5-.1 1.1zM396.3 132.4l-2 .2-1.6-.6-1.3-1-.3-.7 .1-.3 5.5-2.7 6.4 0 .9 .3-.4 1.1-.1 1.3-.6 .7-.9 .3-4.3 .8zM310.7 130.4l-.7 .2-1.4-.6-.5-.7 .1-.6 1.1-.9 1.4-.1 .6 .2 .7 .8 .2 .6-.5 .7zM371.9 133.3l.7-.6 .4-.7-.3-.9-.7-.7-1.4 .9-.4 1 .8 1.2 .3 .1zM487 140.3l-1 0-1.1-.3-1.4-1-.2-1.3 1.2-1.4 1.8-.5 3.4-.1 1.6 .3 .9 1 .2 1-.5 .7-2.6 1.1zM105.7 138.7l-.4-.4 .1-.6 .6-.8 .7-.2 .3 .6-.3 .7zM246 148.4l-2.7 0-3.3-.8-1.6-.9-1.4-1.7-.4-.7 .1-.6 2.7-1.7 0-.3-.8-1 .4-.7 3.7-1.7 1-.1 1.6 .5 2.7 1.8 1.5 3.2 .2 1-.1 1-.6 1.1-.8 .9-.9 .4zM185 141l.6-.7-.3-.3-.6-.2-3.4 .4-.3 .1-.1 .4 .4 .3zM172.3 141.7l0-.7-.3-.5-.3 .2-.1 1 .4 .3zM360.7 147.7l-1.4 .1-.4-.8 .1-1 1-2.3 .3-.3 .4 .1 1 1.3 .4 1.5-.4 .8zM216.3 160.7l-2.3 .1-1.8-.5-.9-.6 .2-.7-.3-.3-1.5-1-1.5-.7 .6-1.7-.8-1.6 0-.7 2.4-3.3 .2-3 .3-.7 1.8-1.4 2 .5 3.6 .2 1 .4 1.7 1.3 .3 .4 0 .6-1.4 1-.4 .7 .1 .3 2 1.3 .2 .7-.5 1.3 .7 .7 1.1 .7 .4 .6-.3 1-1.7 2.7-.8 .7-1.7 .7zM437.3 145.5l-1 .1-.3-.3 .7-.6 .7 .3 .2 .3zM410 147.4l-.5-.4 .2-.7 .6 0 .9 .7zM180.7 158l3.3-1.5 1.2-1.5 3.6-2.3 .1-.7-1.9-1.3-.6-.7 .2-.7 .6-.6 .1-.4-.2-.3-4.4-1.4-2.5 1.1-3.9 .4-1.1 .6-.7 .6-.1 .7 .3 1.3 1 3.4 1.1 1.6-.1 1 .3 .4 1.3 .5zM486.7 160.3l-1 .1-1.7-.4-.7-.3-.6-.7-.5-2.7 .5-2.5 .3-.6 1-.6 3 1.8 2 .3 1.7-.5 1.6-1.6 1 0 .6 .4 .4 .7-.1 1-.9 1.6-2 1.2-2.2 2.2zM308.7 168.4l-.7-.3 0-.8 .7 .5 .1 .5zM315.3 169.3l-.6 .2-.8-.5 .1-.7 1-.7 .3 0 .5 .7-.1 .7zM407.7 187.7l-4.4-.2-.8-.5-.5-1-2.3-.6-1.4 0-.6 .3 .3 .5 .7 .5-.4 0-.6-.2-1 .2-3-.6-1.9-.8-3.2-3-.4-.6 1-1.7-.2-1.3 1.3-1.4 .3-2 2.1-1.1 5.6-1.1 2.7-.1 3.7 2.1 2.3-.4 5-1.3 2.7-.1 1.6 .2 1 .8 5.7 2 .9 .7 .1 .7-.3 .3-1.6 .7-.7 .6-.1 .7 .9 1.3 0 .7-1.2 .9-1.6 .8-.2 .3 .5 .7-.1 .3-1.6 .2-1.1-.9-.6-.1-.3 .1-.4 .7 .9 .7 .1 .3-.6 .2-3.3 .1-1.7 .7zM75.3 174.4l-1.6-.2-.7-.4-.1-.5 .8-.2 1.2 .2 .6 .7zM351.3 188.7l-2 .2-2.6-.3-2 .1-1.4-.3-.8-.4-.8-1.5-2.4-.5-.5-.3-.2-.7 .8-1 .9-.6 4.7-1.3 2.3-1.4 2 .3 .7 .3 .3 .7-1.7 .7-.4 .3 .2 .3 1.3 .8 3 .9 .6 .6 .4 .7-.1 .7-.6 .7zM281.3 182.7l-1.3-.3 0-.4 1-.3 1.5 .3 0 .3zM313.7 191.7l-1.1-.7-.1-.3 .6-1.4-1.4-1.2-.4-1.4 .4-1.2 1.4-1.5 .6-1.2 .3-.2 1.5 2.7 .1 1.4-.4 1.6 .7 1.7-.6 1.1zM81 186.4l-.8-.1-.5-1 .1-1.6 .5-.5 .7-.1 .4 .2 0 2.4zM291.3 202.1l-2 .1-.8-.2-.9-.7-1.3-1.6-.4-1-.4-2.4-.9-1.6 .9-1.7 .3-1.3-1.4-1.7-.2-1.3 .5-1.4 1.3-1.3 3.3-1 1.5-1 2.9-.2 3.6 1.1 .7 .7 .9 2.7-.8 2 .9 3.4-.3 .6-1.3 1-.7 1.8-2.4 1.8-2.3-.2-1.1 .3-.4 .3 .3 .4 2.2 .4 .3 .2-.7 1zM401 187l-1.2 0 .5-.4 .4 .1 .5 .3zM201.1 189.7l.1-.4-1.2-.3-1.3 .3-.3 .4 .9 .3zM288.2 191l.5-.3-.2-.4-.5 0-.4 .4zM235.2 197l1-.3 0-.4-1.2-.3-2.8 .7-.4 .3zM225.9 210l8.1-.3 5.3-1.2 3 0 1.4-.3 .5-.5 .3-1-1.3-4.7-.5-.3-1.4 0-3.3-.6-9-.1 .4-.7-.1-.3-1.2-.3 1.2-1.7-.3-.3-1-.1-2 .4-1.7 .7-2 1.4-1.8 1.9-1.2 .6-4 .9-6.3 .8-.8 .4 0 .3 .8 .3 5.3 1.6 2.7 0 4.3 .4 .8 .4 .3 1 .9 1 1 .4zM179.9 205.7l.5-1-.4-.7-1-.1-.8 .4 0 .7 .5 .5 .6 .4zM486.7 235.1l-2.4 .2-2.3-.1-2-.8-.5-.7 .5-.9 1-.5 4.7 .7 2.4 .7 .4 .3-.5 .6zM18.4 235.3l.6-.3 .1-.3-1.1-.5-1.5 .1-1.4 .7 .2 .4 1 .2zM221.7 243l-1.7 .1-2.3-.6-.4-.2-.3-1 .1-.3 .6-.1 2.6 0 2.9-1.2 4.5-.5 3-1 4.7 .5 2.7 .6-.1 .4-.3 .1-3 .3-1.4 .4-1.4 .8-.8 1-.8 .3-2.6 .1-3.7-.8-1.1 .8zM244.7 242.1l-1.4 .2-2-.5-1.2-1.1-.1-.7-.4-.7 2.3-.6 1.8-.3 1.6 .2 4-.1 1.4 .5 .8 1-.1 .3-.5 .4-4.2 .4zM267.3 241.4l-1 0-.5-.4-.1-.7 .3-.6 .7-.2 .6 .2 .2 1zM283 242l-2.9 0-.6-.3-.1-.7 .9-.5 5-.8 1.7 .2 .7 .8-.1 .3-.8 .3zM511.7 253.1l-1.4 .1-2-.4-4.6-2-1.2-1.1-.6-1.7-1.4-1.3-.8-2 1-2.2 2-2 1.6-.7 .7-.1 5.7 2.6 3.3 .7 1.3 1.2 .1 .5-.2 .3-1.7 1.3 .2 .7 .8 1 0 .7-1.5 2.9zM491.7 249.4l-1.7 .1-.6-.5 1.2-2.3-.1-.7-1.3-1.7 .1-1-.2-1 .2-.4 3-.2 .8 1 .1 2-1.7 1.6 .6 2-.1 .8zM524.7 254.4l-1.4-.3-.5-.8 .5-.6 1.1-.7 .2-.3-.6-.4-2.3-.8-2.6-2.5 .3-1.7-.4-1.5 .7-.9 .6-.4 4-.4 .7 .2-2.7 .9-.6 .4-.1 .7 1.1 .6 2 .1 5.3-.3 1.1 .3-.4 2.7-.7 1.2-1 .7-2.7 .6-.9 .5 0 .3 .8 1 0 .7-.5 .4zM219.3 250.7l-1.9-.4-.7-.6 .3-.5 1.3-.7 1-.2 .7 .1 .7 .6 .1 1-.5 .5zM109.1 263.7l1.4-1.7 .8-1.3 .4-1.5 1-1 .2-.5-1.1-3-3.3-2-.2-1.1-3.6 .1 .2 1.3-.6 .6-.7-.3-1.3-1.2-4 .8-3.5 3.8-.4 2.3 .2 .7 2.1 1.4 2 .6 3 0 2-.4 .6 .4 .4 1 .6 .5 2.7 .8zM214.3 270l-.6-.1-.7-.6 0-1.3-1.7-1.6-.7-2.1 .4-3 0-2 1.1-2-.3-1.3 .9-1.4 1.3-.7 1.3 .4 .4 .3 .7 1.4 .2 1 1 1.7 .4 1.3-.3 1.2-1.4 1.8 .3 2-1.5 2 0 .7 .6 1.1 0 .5zM66.7 259.8l-.7-.1-.4-.7 .2-1 .5-.3 .8 .6-.1 1zM114.4 259.3l.3-.3 0-.7-1.4 .4-.1 .3 .5 .3zM227.7 273.7l-1.4 .1-1.3-.8-.6-.7-.9-2.6 .8-1.7-.7-1.3 .1-.7 .9-1.7-.7-1.6-.1-1 1.9-1.7 1.3-.3 1 .3 1 1.7 .3 1 .2 2.6-.4 2.4-.5 1 .6 1.3-.3 2.3-.4 .7zM199.7 269.3l-1.4 .3-.5-.6-.2-1 .7-2.2 1.4-1.1 1-.1 .4 .4 .5 1.3 .3 2-.6 .6zM66.7 267.4l-.5-.1-.5-.5 0-1.6 1.3 .3 .3 .5-.2 1zM77.7 268.8l-.7-.2-.8-.9 0-.7 .5-.4 .5 .4 .6 1.7zM104.9 272.7l.1-.4-1.1 0 .2 .4zM496 277l-1.9 0-2-1.7 .9-1.9 1.3-.5 1.7 0 1 .3 1.2 .8 .3 .7-.2 .8-.8 .8z" stroke="#ff2000" stroke-width="0.9" fill="none"/>
<path d="M101.3 281l2-2.3M103.7 273.8l.3-.4 .7-.1M106 273.2l1-.2 .3-.4M90.4 270.3l-1.2-1 0-.3 .8-1.3 0-.7M93.5 262l-.7-.7-.2-1.6-1.3-1-.6-1M63 244.4l-.4-.7 .5-1-.6-.7-1.7-1-2.1-.5M56 240.1l-1.7-.1-4.3 .2M44 237.7l-2.1 0M14 236.5l1.7 .2 1.6-.3 2.4-.9 .5-.5 0-.3M61 200.9l1.9 1.1 .8 0 .3-.3-.4-1 .7-.8M65 199.7l1-.5 1.4-1.9 0-.6M116.8 161.3l.5-1 .4-.1 1.3 .7 1.3 .1 2.8-.7 1.2-.6-.8-.4-3.5-.5-1.3 0-.8 .2 .1-.6 1.2-.7 0-.4-1.5-.5M112.3 152.6l.7 .2 .7-.3M119 146.1l0-.8-1-1-.3-1-.8-1M117.3 133l.2-1.3M111.7 130.2l-.6-.2 .5-.7 2.5-1.6M113.9 114.3l-.3-.6 .1-.4 4-.6 1.6-.7 .1-.3-1.7-.3-3 .1-.7-.7 0-.9M122.7 92.7l-.6-1 1.3-.7 .3-.3 0-.4-1.4-1.3 .2-2M124.1 81l.4-1.7-1.2-2-1.6-.6-3.7-.3-2.3-1.2M115 75l-2.7-.3-2.3 .5M115 69l.8-1 .9-.4M123.3 67.1l.7-.1 .7-.3M127.6 60.7l-.9-1.4-1.5-.6M119.3 54.5l.6-.2 .8-.8M130.4 49.7l.2-1.4-.3-.6M134 37.7l.7-.9 1.8-.8 .3-.7-.2-1M140.3 24.8l.6-.5-.2-1.3 .5-1.3M132.5 11l-.4-1-.8-.4M111 7l0-.4 1-.4 2 .1 .2-.3-.1-.3M162.3 6l1 .4M171.7 6.4l2.6 .4M177 6.9l1.4-.6M198 6.3l-1.1 1M165 11.1l-2 .2-.7 .4-.1 .6 .5 .5 0 1.6M164.6 40.7l0 1-.4 .6M163.7 43l-.9 4M167.2 55.7l.3 1.6 .5 .7M182.3 65l-.8 .7 .2 0M188.4 65.7l-.7-1 .8-2 .5-.3 1 .8M190.7 63.7l3 2.1M191.7 77.2l-.6 .5 .2 1-.3 .4M189.7 79l-1-1.3M179.2 108.3l.2 1.4M189.5 141l-.5 .3 0 .7M193.9 145.3l.4 .7 .4 1.7-.4 .6-.6 .3-1.2-.6-1.2-.1-1.1 .1-.7 .3 .2 .4 .6 .1 2.7 .2 .3 .7M191 152l-.3 .1-1-.2M187.9 148.7l.2-.4-.2-.3-.9-.5M182 145.8l-1.7 .5-2.8-1-1.5 .1-.1 .3 .3 .3 .8 .3 1.7 .3 1.3-.1 .2 .2-.2 .4-2 .4M188.5 153.7l.8-.5 1.4-.3 .5 .4-.3 1M177.4 168.7l-.9 1 .3 .3 1.2 .3 .7 .5 .7 1.9M266.3 144l2.2 1.7 1.8 .3 1-.2 .7-.5 0-.3-1.1-1 .2-.3 2.6-1.4 .6 0 2 .8 2 .5 1.4 0 1.5-.6M457.3 67.4l.6-.4 .1-.4M537.5 36.3l-1.1 1.4 .6 .7M540 39.1l1.1-.4 .4-.7-.3-1-.8-1.3M547.7 37.9l-.6 .4-.2 .7 .8 .5M527.4 56l.7 .3-.8 .2-.2-.2 .2-.3M206.3 246l-2.6 .3-2.7 1.4-1.3 .2M199 244.7l-.6-1-1.1-.4-.6-1.6-.4-.2-.8 .5-1.5 3.3-1.7-.7-1.6-.2-2.7 1.1M184.3 248.5l-3.5 .5M176.7 250.9l.1 .4 .7 .4 3.2 .5M182 252.3l1.3 .1M188.3 256.1l1.2-.1-.5 .7M185 265.5l-1.1 .8-.5 1.4 .2 .6 1.4 .6 1.7-.3M187.1 269.7l-.3 1 .6 1.3M182.5 281.3l-1 1 1.2 .7 .1 .7M160.6 13.3l.2-.3-.5 0-.3 .3zM525.7 56.7l1.2 0-.2 .3M129.7 58.3l-.7-.2-.5 .2 .2 .4 1 .2M111.6 72.3l-.6-.3-1.3 0 .1 .3 .9 .3 .6 0zM185.4 90.3l.4 .7 1.5 .5M326 102.4l-2 .1M329.4 101.7l-3.4 .7M131.7 99.5l-1.8-.8-.2-1-.4-.3-1.6-.2M124.7 97.5l-1.7 .4-.5 .4 .2 .7 1 .7M126 100.8l2.7 .8 2.6 .4M466.5 101.3l-.5-.6-1-.5M475.7 98l2.3 1.1M351.3 100.1l2.2-.8-.5-.3-4-.9-1-.1-.7 .2-.3 1.1 .2 1 .5 .3 1 .1M498.3 98.3l2 .2 2-.2M360.5 103.3l.2-.3-.4-1 1.5-1.3-.5-.8M358.3 99.3l-1.1 0-.7 .4 2.5 2-.8 1.3 1.1 .6 1.2-.3M329.2 100.3l.2-.3-.4-.3-1 0-.5 .3 .2 .3 .6 .2zM132.1 120.7l.9-.4 0-.3-1 0-.9 .3 .2 .4zM224 135.6l-2.3-.7M228.8 126l.5 1-.3 .3 1.3 .3M186 141.1l1.5-.1 .1-.3-2.3-1.3-4 .1M213.7 160l1.5-.7-.5-.3-1-.1M359.7 146.1l1-.9M487 154.9l1.3 .3 1.7 0 1-.4 1-1.1M110.4 185.7l.9-.7 1.1-1.3 .3-.7M109 182.6l-.7 .4-1 1.7 0 .5 .7 .4 .7 .2 1.7-.1M314.3 188l-2-.1M314.8 185.7l-.6 .6 .5 1-.4 .7M286.7 192l1 .2 1.1-.2 1.4-1 .4-.7-.8-.6-1.5-.3-1.4 .3-1.2 .8M294.3 197.9l-2.6-.4-2.9 1.8 .1 .4 .7 .3 2.1 .6M257.3 188l.6-.3-.3-.4-1.6-.4-.7 .3-.1 .5 .1 .3 .7 .4 .7-.1M104.7 191.7l.6-.4 0-.4-1-.3-.5 .4-.1 .3 .3 .3zM82.7 201.1l-1.2 .6-.2 .6M223.7 241.4l-1 .1-.4-.9M234 239.5l-1 .6M241.3 241.1l0-.4 .8-.7-.2-.7 .1-.1M219 242l3.3-.2 0 .3M202.3 244.3l-.6-.3-1.6 0 .2 .3 .7 .2zM520.6 244.3l0 .7 .4 .7M193 246.7l.7-.9 .3-.1 .4 .3M65.7 246.7l.3-.2 .7 .2M104.3 251l-.6 .3-1.4-.2-1 .5M94.7 256l-.8 1.3 .1 2.5M215 265.9l-1 .1-.5 .3-.1 .4 .3 .3 .7 .3M496.3 275.8l-1-.1-1.5-.7-.5-.4 .1-.6M497.3 275.2l-1 .6M105.3 280.5l-.7 .2-.1 .3 .8 .3" stroke="#ff8800" stroke-width="0.9" fill="none"/>
<path d="M179.3 286l-46.6 .2-32.3-.2-1.4-2.3 0-.7 .6-.7 2.4-.8 2.3 .3 2.4-.1 1.3-.4 .9-.6 0-.4-1.2-.3-4 0-.1-.3 .4-1-1.2-2.4 1.9-2.5 3.6-.3 1.1-.5 .2-.3-1.7-.7-3.6-.7-1.6 .1-1.7 .5-1.7-.3-3 .3-1.6-.1-1.7-.6-1.7-1.1-.7-1.1 .7-2 1-.3 2.4-.3 .8-.4 0-.3-1.5-1-.5-.7 .7-1.7-.6-1.3 .1-.3 .6 0 2 1.3 1.2 .3 4.2 .6 1.6-.1 1.7 1.1 1.7 .6 1.6 .3 1-.6 3-3.7 2.7-.5 .7-1.3 1.7-1.4 1.4-1.6 3.2-1.4-1.3-.2-2.3 .2-.7 .7-.2 1.3-.4 .4-2.8 .7-.6-.4-.6-.7-.3-1.6-.5-.6-2.9-1.4 .4-1.4-.1-.3-1-.3-3 .3-1.4-.8-2-.1-.7 .2-1.6 1.4-3 .8-.7 1.6-3.2 .9 .7 1-.5 1.3-.1 1.4-.2 .2-.3 0-1-.7-3-4.3-.1-1.6 .7-2-.2-1.3-2.9-2.7-3.7-2-.2-.3 .2-1-.2-.3-2.3-1.2-1.7-.3-2 0-5.6 1.1-.9 .7-1.8 .6-1 1.4-1 .5-1.5-.5-.8-.7-.1-.3 .9-1-.1-.3-2.4-1.9-1.3-.6-7-1-4 .5-1.7-1-5-2.1-2.3 .7-5.7 0-5.3 1.1-2.7 1.2-2.3 .1-1.6-.4-1-.6 5.4-1.7 .5-.7-.4-.6-.6-.3-1 0-3 1.2-2 .2-.5-.1-.3-.4 .9-1 .1-.6-.9-.7-1.3-.5-1.7-.3-4.6 1.1-.2-10 .2-13.2 3-.8 2.3-.1 1.3-.4 6.4-.2 1.6-.4 3.4 0 2.6-.4 2.4-.1 4.3 .9 2-.6 1.7-.2 2-1.4 2.8-1.1 1.8-2.1 3.7-1.2 .5-.3 .4-1.4 1.1-.6 3 0 .7 .3 1.3 1 2.3 .6 1.4-.2 1-.7 1.6 .1 .4-.5-.6-1 .2-1.6 .4-.7 .6-.4 2.2 1.4 3.8 .9 1-.2 .4-1.4 1.6-.8 3.4-.4 1.3 .9 1 .3 4.7 .3 3.2-.9 4.1-.7 .8-2 0-1.7 2.1-3.3-.6-.5-1-.4-4.3-.4-2-.5-1.4-.5-.8-.7 .3-2-1.2-1.7 0-.6 .4-.7 1.6-1.3 .2-1-2.1-1.7-.2-1.7 .2-.6 2-.5 3 .1 2.3-1.5 2-.5 2 0 2.7 .5 3-.6 .8-.5-.2-1 6.1-1.7 3.4-2.3 .2-.7-1-2.3 .5-1 1.2-1 2.7-1.3 2.6 .3 3-.9 5-1 .4-.4-.4-1.3-.6-1-.7 .2-1.6 1-1.6 0-1-.3-.6-.7-.9-.4-7.6-1.4-.7-.3-.5-.5 .2-.7 1.9-.7 .4-1.3 1.5-1.3 1.5-3.1 1.9-1.6 .8-1.7-.4-.4-1.3-.3-1.2-1.6 .3-.7 1.3-1.3 .3-.7-1.4-1.6 .5-2-.1-.7-.8-1.3 .2-2.4-.7-.6-.7-.3-4-.7-.2-.4 1.8-1.1 4.7-1.6 3.7-1 .6-.6 1.4-2 .9-2.3-.5-1-2.1-1.5-1.7-.7-5.4-1.8-.6-.4-.5-.6 0-.7 .3-.3 4.7-1 2.1-1 .6-.7-1.2-.3-6 .1-.4-.5 .4-1 2.3-2.3 0-1-1.4-1.7-.2-1.3 .8-2 1.7-1.7 .2-1.7 .3-.3 .7-.2 1.6 .2-.6 1 .4 .7 7.1 3.3 .5 .4 .2 1 .4 .3 1-.3 2-1.4 1.9-2 .1-.3-3.1-1.3-.1-.4 0-1-.6-.3-2.5-.2-4.3 .3-1.4-.1 1.3-2.7-.3-2.2 1.4-1.4-.3-.7-.8-1-.3-2.3 1-1.7 1.2-1 .2-.7-1.1-1.6 .2-.7 .8-1.3-.1-.7-1.8-2.3-10.8-2.7-.2-.3 .4-.7 0-.7-1.1-.7-1.3-.4-2.5 .1-1.1 .4 .8 .6 3.5 1.7-.3 .3-2.4 .7-3.4 .2-1-.4-3-1.8-1.4-2.7 .8-.6 .6-.2 5-.4 2.4 .3 2.3 1.1 1 0 2.7-.7 2-1.5 1-.3 4.3-.4 2.3 .5 .7-.4 .9-1.7 1.9-2 0-1.3 .4-1.4-.1-1.3 2.6-.6 0-.7-1-1.2-3.4-.6-1 .1-.3 .7-.7 .2-2.6 0-2.4-.2-1.8-.7-.3-.3 0-.7 .8-.7 2.3-.4 2-1.1 2 .4 3-.2 1.7-.8 1.3-1.2 1.3-3-.3-1-.6-.8-2.2-1.2-.6-1.7-1.8-1.3-.3-1 .5-.7 1-.6 3.4-.6 2-.7 1.2-.7 1.1-1.4 2.3-1 .3-.6-.4-1.7 .5-1.3-1.5-1.4-.1-.6 .6-.8 1.8-1.6 .2-1.6 .3-.5 1.3-.8 2-.5 .7-.6 .3-1-.3-.4-1-.3-.2-.3 .1-1-1-1.6-2.3-1.4-.4-2-1.7-2.6-2.9-2-.3-.7 0-1.4-.5-.3-2.5-.4-3 0-9.9-1.6-1.1-.4-.6-.6-.5-1 .5-.3 .8-.3 3.5-.1 42 0 .5 .1-1.2 .5-2.4 .5 2.8 .9 1.6 .3 4.4 .2 4.3-.2 4.7 .4 2-.4 .8-.6 .1-.3-1.1-.7-3.8-.6 18.3 0 1.7 .2 3-.1 .6 .2-2.6 2.1-1.7 .6-1.7 0-4.6-.5-1.7 .2-2 .6-4-.2-6 .9-3 .9-5.7 .8-3 0-.9 .3-2.1 1.6-.3 .7 .1 .7 .2 .4 2.4 .1 .3 .2 .6 1.9 1.1 1.7 .4 2.3 1.1 2.7-.2 .3-2 .9-.5 .5 .4 1.3-1.2 1.6-1.3 3.1 .5 1 2.1 1.3 .1 .7-.8 1.3 .6 1.3 2.9 1.4 .4 .6-2.4 2 0 1.7-.9 1.3-.8 2.4 .3 2.6 1.6 2.4 0 1.3-.5 1.3 .2 .5 2.5 1.9 .2 1.6 .5 .7 2.4 1.2 .6 .5 .1 .3-.6 1 .4 .3 8.5 3.3 1.3 1.1 .8 .3 2.6 .6 3.7 .4 1.3-.3 .7-.4 .6-.6-.6-1.4 .3-.3 .7 0 .4 .3 .2 1 .4 .3 2.3 .5 2 1.1 1.5 1.5 .6 1-.1 1.3-.5 1.7-.8 .6-2.6 1-.3 .4 .4 1-.1 .3-1.1 .6-2 .5-1.7 0-3.6 .4-2.7-.3-2.3-.5-1.7 .1-3.7 .6-2.6 1-.6 .6-.4 1-.4 .3-3.2 1.4-.2 .3 .4 .7 2.4 1 .3 .3-1.7 .4-1 .6-.3 .7-.1 1.6-.9 1.7 .1 .7 1 1.6 1.2 3.4 2 1.4 .8 .9 .5 2 1.1 1.7-2.7-.2-.5 .2 .2 .6 .6 .5 .7 .1 1.1-.2 .9-.8 .7 .3 1.3 1.6 2.4 1.5-.3 .7-1.4 1.6 .3 .9 2 1 .4 1.2 .6 .5 4 1.1 2 1.5 2.3 1.2 2.3 2 .3 .7 .2 1.6-.4 1.7 .6 3-.4 2.7-.4 1.6 .4 1.7-.7 1.3-.1 .7 .2 3 .7 2-1 2 1.1 1.3 0 .7-.4 .4-.7 .2-2.3-.9-1.4-.9-4.3 .2-.7 .3-.4 2 .1 .4 .7 .2 5-.3 2.3 .3 1.4 1.1 2.5 1 .8 .5 .6 1.2 0 1.3-.6 .4-4.4 .1-1.2-.5-.3-.3-.1-.7-.4-.1-2-.1-2-.5-2 .1-4-1.2-1.7 .1-1 .7 .1 1 2.2 1-.2 .3-1.9 1.4-.6 .6 .3 2.7-1.8 .3-.1 .4 .7 .4 1.7 .1 .3 .2 .5 1.9 .7 1 0 1 .2 .4 1.3 .8 1.3 .4 3.4-.5 3-1.1 .9-.6 1.4-1.5 2.3-1.4 .4-.1 .5 .3 .5 2.3 1.6 2 0 .4-.4 .6-1.2 1-1.4 .7-2.3 .4-2.3 1.1-3 .5-1.7 .7-.7 .5-1.7 2.5-.6 1.5-2.1 1.1-1.6 1.4-.3 .6 .1 1 .6 .5 1.6-.1 3-.5 .9 1.1 .8 .6 3.7 .7 12-1 .6-.5 .6-1.1 2.1-2.2 3.3-.7 1.4-.1 3.3 .5 1.7 .4 1.6 .6 3.4-.7 1 .4 1.6 1.4 3.7 0 6.9-1.6 2.8-1.9 1.7-.8 6.1-1 .4-.3 .4-1.3 2-2 1.4-3.2 3-1.8 .2-2 .8-1.3 3.6-2.2 2-1.8 1-.2 1.7 .3 1.4-.5 .4-.7-.5-1.3 .1-.7 1.2-2 1.4-.9 3.3-1.4 2-.3 1.4 .6 2.6 2.5 1.7 .7 1.7 .2 1.3-.3 1.4-1.1 .2-.6-.7-.7 .2-.3 .6-.2 1.6 .2 2.5 1 1.9 .4 1.5-1.4 1.5-.9 3-1.1 2-.3 4-1.4 .2-.3-.1-1 2.2-.8 1.7-.9 4.6-.8 4-.9 9.7-1.4 4.5-2.2 5.8-1 1.4-.6 1.6-1.1 3.1-1 .8-1 2.2-1.3 3-4.4 2.3-1.7 3.6-1.5 .5-.4-.6-1 .9-1-.5-.4-2.3-.5-3.3-.1-.8-.4-.2-.6 .3-.7 2-1.3 1.4-.4 3.3 .5 4-.3 4.4 .2 1.2 .6 .7 1.8 .6 .2 .8 0 4-.6 1.6-.5 1.4-1.1 2.3-1.1 .7-.7 .3-1 1.3-.5 .7-.5-.3-1-1-1-2.7 0-1.4-.6-.8-.7 1.9-1.7-.3-1.3 .5-1.3-.9-1-1.7-.6-9-1.1-2.3-1 .9-.7 .8-.2 1.3 .2 2.3-.2 3-.8 1.4 0 3.7 .4 2.3 .9 .6 .1 2-.2 1-.6 1.4-.5 2.3-.1 2 .7 2.7 1.7 .5 1 .1 2.3 .4 2 .6 .2 2.1-1.5 1-1 .1-.7-.4-1.3 .5-1 2.7-2.7 2-1.3 .5-1.4 1.4-.6 5.1-.9 1.3-.8 2.4-.7 7 .1 6.3-.6 1-.4 1-.9 2.7-.4 4 .9 6-.3 5.3 .9 2.7-.5 1.7-.6 3.3-2.2 1.7-2.3 2.5-1.7 1.1-1.4 7.2-2.6 6.4-5.6-.3-.7-2.5-1-.1-.3 .1-.7 .6-.4 5.4-1.3 .3-.3 .1-1 1.2-.6 1.6-1.7 2.7-1 2.7 .5 1.6-.2 .5-.3 .1-.4-1.1-1 .5-.6 2.4-1 4-.9 2.9-1.5 1.2-.3 5.9-.8 3.3 0 4.7-1.1 2.5-1.8 3.8-1.3 .4-1.7 2.9-3 1.4-.3 1.6-.1 2-.8 3.7-1.9 .5-.5 .4-1 .7-.7 3.7-1.1 1.2-.9 2.7-1 6.5-1.2 3-1.7 3.6-.3 1.1 .2 .1 .3-1.1 1.4 .1 .6 2.5 1.4 1 .1 2.7-.5 1-.6-.2-1.4-1.1-1.6 0-.4 .4-.3 2.2-.5 5.3-.4 2.3 .2 .7 .4 .2 .6-.2 .5-1 1-3.6 .5-1 .4-.9 .6-.7 1 .2 .4 2.4 .6-.1 .4-1.3 1.1-1.3 2-1.5 1.2-.4 1.7-.4 .5-3 1.5-.7 .6-.2 1.7-.2 .3-2.3 1.2-1.7 1.2-1.3 .4-7.3 1.5-1.7 .6-1.3 1.1-5.7 1-1.6 1.2-1.4 .4-2.6 .4-3.7-.1 .2 .5-.5 .8-1.4 0-.3 .4-.6 .1-1 1-.7 1.7-2.5 1-.1 1-.6 .6-3.2 1.7-1.4 1.3-2.6 1.3-2.3 3.1-2 .9-2.5 .7-1.6 1-2.6 .5-1.1 1.2-1.1 .7-3.4 .8-3 1.9-1.4 .4-3 .1-2.8 1.4-2.5 .7-1 .5-1.5 1.8 .1 .4 2.7 2 .1 .6-.2 1.7-2 2-.2 1.3-2 1.7-.5 2.3-.5 .5-2.3 .6-3.7-.3-3.3 1-4 .2-.9 .4-1.5 1.1-4.3 1.1-2.7 1.3-4.3 0-2 .3-.6 .5-.1 .7-1.3 1-1.3 1.9-2.7 1.7-3 1.4-3 3.9-3.3 1.3-2.9 2.1-2.1 .5-2.4 1.2-2.6 .6-2.7-.1-3.3-1.3-3.4-.5-2.1 .9-2.9 .4-2 .5-2.8 1.1-2.2 1.7-2.4 3 .1 2-.7 1.3 .7 1.4-.8 1.6 .5 1.7-.4 1 0 1-.5 1-1.5 1.3 0 1-.3 .5-1 .2-1.1-.3-.6-1.4-1.4-1-1.8-2-.1-.6 .2-1.4-.3-1.3 1.5-2-.5-1.3-.1-1.4-.5-.1-.6 .4-1.9 2.4 0 .7 .8 1.3-1.1 1.7-.4 2-.6 .6-3.2 1.9-9 .9-2-.6-4.6-.4-2 .8-.4 .4-.1 1.4-.5 1-.1 .6 .4 .7 1.3 1 .3 1-.7 2.3-1.2 1.7-11 3.1-3.7 1.9-3 .5-5.3 .4-4.7 .9-3 1.1-2.3 1.5-4.4 1.4-2.6 1.5-1.8 1.7-3.2 1.1-.4 .2 .1 1.4-.6 2 .3 .6 1.2 1 .2 1.4-.3 .6-.9 .8-2.3 .6-.7 0-.6-.4-.7-1.6-2.6-1.4-1.2-1.3-.1-.7 .9-1.6-.3-.3-2 .2-1.9 1.1-1.1 .3-4.7 .9-4.3 .4-3.4 1-.8 1-.4 1.7-3 2.3-.6 3.4-.8 1-2 1-1 .2-4-.5-2 .3-1.1 .6-.6 .7-.2 1.7 .2 2-.3 .3-4-.7-.7 .4-.8 1.3 0 2.7 .5 .2 1.3-1.4 1.3-.9 1.4-.4 3.1-.2-.2-.7 2.7-.1 1.7 .4 .7 .4 .1 1.7 1.2 1.1 .4 .9-.6 1.3 .1 1.3-.8 1.7 1.1 1.7-.1 1-1.1 2.7-.7 .7-2 .7-.7 .5-.4 .7-.1 2.3-.6 1-.8 .2-2-.5-1.7-.6-2.7-2.1-.4-.6-.6-2.4 .7-1 0-1 .3-1.3-1.6-1-1.4 .1-.5 .6-.4 2.6 .5 1 0 2.4-.9 2-.8 .6 0 1.4-.7 1 0 .6 .6 .7 1.6 .6 10.3 1.5 4.7-.3 3.3 .3 4.3 0 1.4 .5 1.6 .1 5-.5 9 .5 4.7-.3 3.3 .5 4.4-.2 7 .6 5.6-.7 1.4 .6 5.3 .8 6-1 5.3 .5 4-.4 8.7-.3 9 1.1 3.3 .1 4.7-.4 .8-.3 1-1 1.5-.2 1.9 .2 .4 1 .8 .4 1.6 0 3-.6 9 .8 5.3-.1 4 1.1 3.7-.9 3-.4 11.3-.8 3.4 .3 2 1.5 1.3 .4 1.7-.2 4.6-1.1 2.7 .4 3.7-.4 13-.5 4-.4 1.6 .2 1.8 .7 5.2 .5 6-.1 4.4 .5 12-.1 5 .3 .6-.1 1.4-.8 3-.2 2 .2 2.9 .8 3.4 .2 3-.3 3.3 .1 7.7-.9 5.3 .6 4-.6 4 .7 17 1 3.7-.4 3.7 .3 3.3-.7 5.3-.3 2.7 .4 5.7 .2 5.3-.2 2.3 .9 5.4-.5 5.6-.1 4.4 .2 4.3-.3 4 .4 6-1.4 5 .4 3-.5 6 .1 .2 2.3 0 11.4-.2 .1-1.3 0-1.7-.9-3.7 .6-8.3 .1-3 .6-4.3-.4-11.7 .7-5.7-.6-5.3-.1-5-.5-6.3 .8-7.4-.6-2.6 .1-3.4 .5-4.6-.5-4.7 .2-4-.3-1.3 .2-2 .7-1.4 .1-4-.2-2-1-.6 .2-1.4 0-.3-.3-1.7 0-.3-.3-4-.2-1.3 .2-1 .7-3.4-.4-3.3 .5-2-.6-3-.1-5.7 .4-3 0-2.3 .4-11 .4-3.7 .4-10-.5-16.3 .5-4.7-.4-3.6 0-.4-.3-4.3 .7-6.3-.3-5.4 1.1-18.6 1.1-1.7-.1-2.7-1.1-2-.2-2 .4-1.4 1.2-2.2 .2-5.7-.6-6.7 0-2-1.4-2.6-.4-2 .4-.4 .3-2.1 .1-2.2 1.2-1 .2-4.7-.3-4.3 .5-8.7-.8-8.6 1.4-8.7-.6-4 .6-5-.7-3.3 .2-10.7-.2-3 .2-2.3 .5-5.4-.3-4.3 .8-2.3-.5-2.4 0-5.3 .9-6.3-.1-4.7-.5-4.3 .3-3.7-.1-8 1.2-3.7 .2-2.3-.3-4-1.1-4.3-.1-7.4-1.1-2 0-3 .9-3.3 .3-3.7 1.2-5.3 .3-2.3 .5-2 1.1-2.7 .9-.5 .3 0 .4 .2 .3-.1 .3-2.6 1.4-1 1.9-.7 .7 1.7 1.4 .5 1-.3 .6-2.2 1.2-1.9-.2-.3-.3 .1-.7-.6-.4-2.4-.6-2.2-.2-2.7-1.2-.7-1-1-.1-1 .4-.5 .5-.4 1.6-.7 1.1-2.7-.7-2.3 .4-.7 .3-1.4 1.6-2.6 1.8-4.3 .9-2.8 1.3-1.6 1.3-.2 .7 .9 .5 7 .4 1 1.6 .9 .8 1.1 .7 2 .7 .4 .6-1 1.7 .8 1.3-.2 .4-2 .8-.6 .5-.5 1 .1 1.7-.2 .3-2.5 .2-.3 .1-.1 .4 .6 1 0 1.3 .3 .7 .9 .5 1.7 .5 .3 .3-.4 .7-2.4 .6-1.1 .7-.1 .7 .2 1 .4 .2 .7-.1 1.9-1.1 1.4-.5 .8 .5 0 1-.4 .6-2.2 1.7 .1 1.7-1.3 1.3-1 1.7-1.9 1.3 .1 .7 1 .6 .2 .7zM191 5l-.7-.2-.8 .2 .8 .2zM204.3 73.5l-.4-.2-.5-1.6-.8-1 0-1.7 .7-2.3 .7-1.4 .7-.7 1-.4 .6 .3 .6 .8 .1 1.7-.7 2.4-1.6 .6-.2 .3 1.1 1-.3 1.4zM154.1 87l-.3 0 .3 0zM454.5 95.7l.7-.7 1.6-3.3 .1-1.4-.2-.4-.7-.4-3.7 1.2-1.6 .4-2.7 .1-1.7-.3-1.6 .1-3 .8-3.1 .5 .1 .3 .3 .1 2.3 0 3.4 .6 5 2.1 3.3 .5zM187 92.7l-2 0-.7-.8 .4-.4 .3 0 2.1 .5 .5 .3zM137.2 96l1.1-.7-.3-.2-2.2 .2-1.2 .4-.2 .3 1.3 .2zM247.7 110l-.7 .2 .1-.9-1.1-.4-1.7 .9-2 .3-2.3-.7-2-1.5-.7 .1-1.3 .9-1.1-.2-1.7-1-.2-.7 .9-1 .1-1.3-.7-.5-1.6-.5-.2-.4 .3-.6 1.2-1.4 .2-3.3 .5-.9 1.4-1.1 1.6-.5 2.6 .8 5.7 .7-.7 .3-.1 .4 2 2.3 2.5 .1 .3 .6-.2 1.6 .5 1.7-.5 3-.1 1.8-.4 .7zM326.3 101.7l-1.6 .2-1.7-.2-1.7-.6-1.6-1.1-.4-.3-.2-.7 1-2 .9-.6 1.3-.1 4.7 .9 1 .5 .8 1-2.4 1-.1 .6 .7 1zM357.7 104.7l-1.7-.2-2.7-.7-4-.3-2.2-.5-2.1-.9-1.7-.3-6-.1-1.6-1-.2-1 .5-.8 1.7-1.2 .6-1 .6-.4 1.4-.2 4.3 .6 1.4 .3-.9 .7-.1 .3 .8 1 0 2.3 1.5 .2 6.4-1.4 2 .1 1 .5 .7 .6 0 .4-1 1-.1 .3 1.6 1.3 .1 .4zM473.3 103l-1 0-3.6-1-.7-.3-1-1.5-1.7-.9 1.5-1.6 .9-.2 1.6 0 5.4 1.2 3.3 1 3.7 .3 3.3-.2 .7 .2 .4 .7-.2 1-.7 .6-.9 .5-5 .1-2.5-.9-.8-.1-1.3 .4zM341.4 98.3l.2-.3-1.5 0 .2 .4zM498 101.3l-1.7-2 0-.7 .4-.1 2.6 .4 3-.1 .7 .5 0 1-.3 .5-3 .1zM126.4 106l.8-.3 .1-.7-.6-.3-1 0-1 .3-.3 .3 .4 .4zM126.1 110l.3-.3-.1-.4-.3-.1-.4 .1-.2 .4zM243 111.4l-1.1-.1-.3-.3 .7-.2 1.2 .2zM133.6 121l.6-.3 .3-.7-.5-.4-1.3-.3-1.4 .1-2.5 1.3 .5 .3 1.4 .2zM232 136l-1.4-.7-1-2-.6-.5-.7 0-2.6 1.9-1 .4-1.7-.3-2-.8-.4-.3-.1-1.4-1.3-1.6 .1-1 1.8-2.4 .6-.4 5-1.3 1 .1 .2 .3-.1 .3-1.1 1 0 .4 .6 .6 1.7 .4 2.7-.2 1.3 .5 .3 .4 1 3.3 0 1.3-.9 1.3zM317.7 126.4l-.4 .1 0-.5 .5 0zM311.3 129.7l-2.4-.4-.3-.3 0-.3 1.1-.7 1.3 .1 .8 .9-.1 .5zM395.3 131.7l-1 .1-1.3-.4-1-.5-.3-.6 .8-.6 4.5-1.9 2-.1 2.3 .3 1 .5 .5 .5-.3 1-1.2 .6-4.3 .6zM184.5 130l-.6 0 .4 .2zM488.3 139.7l-1.6 .2-2.4-.8-.6-.5-.1-.9 1.1-1.1 1.6-.5 3.4-.1 1.6 .5 .8 1.2-.2 .6-1.6 .8zM223.7 141.3l-.7 .1-.3-.3-.8-1.4-.1-1.4 .2-1.1 .3-.2 2 .1 .5 .6 0 1-.8 2.3zM186 137.3l-.4 0 .4 0zM246.3 148.1l-3.6-.1-2.6-.7-1.4-.9-1.6-1.7-.1-.7 .3-.4 2-.9 .8-.7 0-.3-.8-1 .1-.4 1.8-1 2.5-.7 1.6 .6 2.3 1.5 1.4 2.7 .3 1.9-1 1.7-.8 .7zM173 142.3l.2-.3-.4-2-.5-.4-.6 .2-.8 .9-.1 1.3 .9 .6 .6 0zM198.7 147.8l-.7 .1-1-.4-1 .2-.3-.2-.7-1.5 .3-1.2 1.7-.1 1.7-.9 .3 .2 .8 1 .3 1-.2 .7zM218 160l-1-.1-.2-.2 .2-.7-.6-.3-3.4-.4-1.6-.6-1.8-1.4-.2-.3 .1-1-.9-1.3 0-.7 .9-1.7 1.4-1.6 .2-3.4 .5-.6 1.1-.6 2 .3 2.6-.1 1 .3 1.4 .7 1 1 .1 .4-.2 .3-1.3 1-.3 .7 0 .6 .3 .4 1.7 .9-.3 1.7 .4 .7 1.4 1 .2 .6-1.8 1.1-.1 .3 .5 1-.6 1-1.1 .7zM361 146.5l-.2-.2 .2 0zM259.5 148.3l1.4-.3 .7-.3 .1-.4-1-.3-1.7 0-1.7 .3-.4 .4 .1 .3 .6 .3zM191.3 151.4l-.6 .1-1.4-.2-1.5-1-.2-.6 .4-.4 .7-.2 3.9 .6 .1 .6zM493.3 155.1l-.6 .1-.3-.5 .3-.7 .6-.5 .4 .5zM488 159.7l-2 .3-2.3-.6-.7-.6-.3-.8-.1-1.7 1.1-2.4 .6 0 .9 .4 1.3 1 .8 1 1.8 1 .2 1.4-.5 .6zM172.1 161l.4-.3-.3-.4-.9 0-.4 .4 .1 .3zM122.8 167l1.3-.7-.2-.3-1.9-.4-.7 .1-.3 .3 1 1 .3 .2zM315 168.7l-.2 0 .2 0zM113.5 173l.3-.3-.1-.1-.8 .1 .1 .4zM407.7 187.4l-1.4 .1-2.3-.4-.7-1.1-.6-.3-3-.7-2.4-.1-2 1-1.9-.2-1.4-.7-1.4-1.7-1.6-1.1-.3-.5 .9-1.4-.1-1.6 1.3-1.4 .1-1.6 1.8-1.1 4.3-.3 1.3-.7 2.7-.1 2 1.2 .7 .6 1 .3 4.6-1.2 2-.2 1-.3 1.4-.2 2 .4 1.6 .8 4.7 1.4 1.3 .7 0 .7-1.7 1-.7 .6 0 1 .9 1.4-.6 .6-2.9 1-2.6 0-1.4 1.1-2 .6-1.7 1.7zM111.6 186.3l.8-.6 .8-1.7 0-1.3-.2-.6-1.3-.2-2.1 .1-1.7 .3-1.2 .7-.6 2 .5 .7 2.7 .8 1.4 .1zM349 188.3l-4.3 0-1.3-.3-.4-.4-.3-1.5-.7-.3-2-.1-.5-.4 0-.6 .5-.7 .7-.3 5-1 1.3 .4 2.7 1.4 2.6 .8 .9 .7 .1 .7-.9 1-1.1 .4zM313.7 185.4l-.7 .2-.4-.3 1.1-1.1 .3-.1 .3 .2 .2 .7zM296 197.1l-.7 .2-1-.2-3.9-1.4-4.1 0-1-.5-.2-.9 .9-1.4 .3-.2 1.7 .1 1.3-.2 2.7-1.9 .1-.4-2.4-1.6-4.6 .3-.2-1 .5-1 1.1-.7 1.5-.1 .4 .1 0 .7 .6 .7 .7 .3 .6 0 1.3-.7 .5-1.3 .6-.5 3.3-.2 1.3 .2 1 2.8-.8 2 .7 2.7-.3 1-.8 1-.3 1.3zM345.7 186l-.7-.5-1.1 .2 0 .3 .8 .2zM191.4 191.7l4.3-1.2 3.6 0 1.7-.3 1-.3 .4-.6-.4-.4-1-.4-2.7 .1-4 1.9-1.8 .2-2 .6zM104 192.3l2.3-.3 .9-1-.2-.7-.7-.4-1.3-.2-1.3 .1-1 .3-.6 .9 .2 1zM68.3 196.4l-.3-.4 .3-.4 .4 .4zM225 210.3l4-.3 5-.1 5.7-1.2 3.3-.1 1.3-.6 .6-1 .1-.7-.7-1-.8-3.3-.5-.5-5-.6-7.9-.2 .7-.7 0-.3-1.1-.4-.1-.3 .9-1 1.5-.4 4-.4 1.2-.5 0-.4-.3-.3-1.6-.4-3.3 .5-2.3 .9-3 .5-2.4 .7-2 1.3-2.2 2.2-1.2 .6-4.9 1-5.7 .5-1 .5-.4 .7 .4 .7 6.7 1.5 3 0 3.4 .5 .6 .3 0 1 .3 .3 1.4 .2 1 .7zM287.3 199.2l-.3 0-.3-.7-.3-1.2 .3-.3 1.6 .5 .5 .5zM290.7 201.7l-1.4 .2-.7-.2-.7-.7-.2-.8 1 .1 2.2 .7 .3 .3zM85 203l3.3-.5 3 .4 1.7-.1 1.3-.6 .4-.5 0-.7-.4-.4-1-.1-2.6 1-2 .3-4.4-1-2.6-.2-1 .2-.8 1.2 .1 .7 .7 .3 2 .2zM69 205l3-.6 .5-.4-1.5-.5-2-.1-2 .9-.7 .7 1 .2zM179.9 206.3l1-1.3 .1-.7-.2-.3-1.5-.4-1.4 .4-.4 .7 .4 .6 1.1 1zM485.7 234.7l-3.7 0-1.7-.6-.3-.4 .3-.4 .7-.1 5 .8 .6 .3zM201.2 239.3l4.1-.5 1-.4 .2-.4-.8-.7-1.4-.3-2.6 .4-3.4-.2-2.4 .5-.5 .3 2.6 1.4zM14.3 240l-1.6 .1 0-2.9 3.3 .4 .7 .4 .2 1-.3 .3-.6 .4zM228.3 242l-1.3 0-3.4-1.3 .4-.4 4.7-.5 2-1.1 1.6 .3 .3 .3-.5 .7-1.4 1.1zM244.3 239.5l-.3 .1-.5-.3 .2-.3 .6 0 .2 .3zM244 241.7l-1 0-.7-.7 1.4-.9 1 .1 .3-.2 .1-.7 1-.3 3.2-.2 1.5 .9 0 .3-.3 .3-5.2 .6zM282.7 241.7l-2 0-.7-.4 .2-.3 .5-.1 4-.7 .9 .1 .6 .4-.2 .3-.8 .3zM510 252.5l-1.3-.1-2.4-1.4-2.8-1-.7-.7-.5-1.3-1.3-1.3-.9-1.7 .2-1.2 1-1.5 1.5-1.3 2.2-.7 2 .7 3.3 1.8 3.4 1.1 1 .7-1.8 1.7 .2 .7 .9 1 .1 .3-.8 1.7-.6 .7-1.5 .3-.5 1zM184.8 241.7l.5-.7-.3-.4-.7-.1-.2 .2 .1 .6 .1 .4zM492.3 244.8l-.6 .2-1.2-1.7 .6-.3 1.2-.1 .4 1.1zM506.3 245.3l.2-.3-.5-.3-1.3-.4-1.7-.1-.7 .1-.2 .4 .5 .3 1.7 .4zM200 246.7l-.4 0 .1-.9 .8 .2 .1 .3zM525.7 251l-1 .1-2.7-1-2.4-2.1-.1-.7 .5-.8 .3-.2 2.7 .3 5.7-.2 1.6 .2-.1 2.1-.9 1.3-.6 .4zM194.3 247.4l-.3 0-.3-.4 .3-.4 .3 .1zM66 247.7l-.2 0 .1-.4 .4 0 0 .4zM220 249.7l-1.3 .2-.9-.2 0-.4 .7-.3 .8-.1 .7 .4zM525 253.8l-1-.1-.3-.4 .3-.3 1-.4 .6 .4 0 .3zM215.7 262.9l-2-.6-1.7-.2-.4-.4 .2-1.7 1.7-2-.2-.7-.7-1 .1-.6 .6-.5 1.4-.4 .6 .3 .5 .6 .2 1.3 1.3 1.7 .3 1-.3 1.3zM227.3 273.4l-1.1-.1-1.1-.6-.5-1.7-.6-1 .9-2-.8-1.7 .9-2-.8-2 0-.6 1.6-1.4 1.2-.3 .7 .2 .3 .4 .7 1.2 .2 1.2-.5 3 0 1.7-.4 1 .5 1.3-.4 1 .3 1.3-.4 .7zM117.3 264.3l.4-.6-.7-.7-2 .1-1.3 .6 0 .3 .7 .3zM212 266l-.3-.2-.6-1.1 .2-.7 1.2 .3 .7 .7-.5 .7zM198.7 268.7l-.4 0-.3-.8 .6-1.6 .7-.2 1.4 .9 0 .7-.8 .6zM214.7 269.4l-.7 .1-.3-.2 .3-1 .3-.1 .7 .8zM497.3 274.4l-1.6 .2-.7-.3-.1-.3 .4-.5 1 0 1.1 .5 .1 .3zM118.8 280l1.5-1.1 2.7 .3 .5-.2-.5-.7-2.7-.9-1-1.1-.6-.2-.7 .2-1.3 1.2-3.6 .8-.6 .7 .1 .3 .7 .4 1.7 .3 2.7 .3z" stroke="#ffd800" stroke-width="1.0" fill="#f0e400"/>
<path d="M179 286l-78.4 0-.1-.7-1-1-.2-.6 .4-.6 .6-.3 7.4-1.1 1.8-.7 1.5-1 4.3 .5 3 .9 1.7 0 1-.4 .8-1 2.2-.2 0-.8-.4-.7-2.6-1-1.7-1.5-1-.2-1 .3-1.6 1.2-3.8 .9-1.6 1.8-5.6-.2-1.5-3.3 1.5-2 .6-.2 1.7 .1 .7 .2 1.6 1.2 1.7 0 1.1-.6 0-.3-1-1 .4-1-.2-.4-7.3-1.2-3 .4-1.7-.2-3.5 .4-1.5-.3-1.3-.7-1.7-1.5 0-.5 .4-.9 .6-.6 2.7-.6 1-.6-.3-.7-1.4-.7-.5-.6 .8-1.7 .1-.7 3 1 4 .7 1.3-.1 3.3 1.7 1.4 .4 1-.1 .6-.5 2.4-3 1-1 2.6-.6 .6-1.4 1.9-1.4 1.5-1.6 3.7-1.4-.1-.3-3.6-.2-1.3 .2-.9 .7-.5 1.6-.9 .6-1.4 .2-.9-.8-.3-1.6-.4-.7-.7-.5-2.2-.8-.1-.4 .5-1-.5-.3-1.7-.5-2.3 .3-1-1-2-.1-1.5 .3-1.5 1.4-3 .8-.4 .5-.1 1-.5 .4-3 .2-3-.4-.6-.2-.3-.7 .8-2.7 0-1-.4-.6-2.7-2.4-3.4-2 .4-1.3-.2-.4-3.3-1.3-3.3-.3-7.1 1-1.9 1-.7 1.7-1 .5-.9-.2-.8-.7 0-.3 1.4-1-.1-.3-1.7-1-1.6-1.5-1-.3-3.6-.3-4.7-.9-3.3 .5-3.7-1.5-.9-.7-.2-1 .5-1.3-1.7 .1-3.4 2.1-4.3 0-2.3 .3-4.4 1-2.5 1.1-1.5 .2-1.9-.5 .2-.3 5-1.7 .2-.7-1.1-1.3-1.7-.1-3.3 .7-.7-.9-1-.7-2-.9-1.3-.3-5 1.3 0-22.9 3-.7 2.3 .1 1.7-.4 6.3-.4 1.7-.4 3 0 5.3-.4 4.3 1 2-.7 2-.1 1.7-1.5 2.9-1 .9-1.7 .7-.7 4.1-1.3 .3-.3 .4-1.3 1-.4 2.4 0 2.2 1.3 2.1 .5 1.3 .1 1.7-.4 .9 .2 .5 .3-.1 .3-2 1.4-.2 .3 .2 .3 .7 .4 1.7 0 5.8-1.4 .2-.3-.5-.3-4.5-1 .1-1.4-.6-1.3-.1-1.3 .2-.4 2 .9 4.4 1 1.3-.5 .1-1 .8-.7 3.1-.5 .7 0 2 .9 5 .3 4.4-1 3.2-.3 .4-.4 .1-1.3 1.5-2-.4-1 1.3-2 .1-.7-.6-.6-1-.4-5.7-.7-1.9-.6-.8-.7-.1-.7 .2-1.3-1.2-1.7-.1-.6 .5-.7 1.5-1 .6-1.3-.4-.6-1.3-.6-.6-.5-.2-.7 .3-1.3 .5-.3 1-.2 3.4 .2 1.9-1.5 1-.3 1.7-.2 3.7 .9 4.3-1.2 1.1-.7-.2-1 .5-.4 4.6-1.2 3.5-2.4 .2-.7-1-2.3 .5-1 1.1-.9 2.7-1 1.3 .8 .7 .1 2.7-1.4 5.6-1.2 .7-.4-.6-2.4 .5-1.3-.2-.5-2-.1-2 1.1-1 .1-9.6-1.3-.9-.3-.2-.3 .1-.4 1.6-.5 .5-.5 .3-1.3 1.4-1.3 1.8-3.3 4.1-3.1 2.2-.7 .4-.3 0-.3-1.7-.5-4.4 .1-.6-.3-.2-.3 .1-.7 1.3-1.3 .3-.7-1.5-2 .4-2-.7-1.6 .2-2.4-.6-.6-.7-.4-3.8-1 .7-.6 1.5-.6 7.6-2.4 .7-.7 1.1-2 .4-1.3 .7-1-.6-1-3.3-2.3-4.1-1.1-1.7-.6-1-.7 0-.7 .5-.5 4-.8 4.3-1.9 1.7-.2 .7-.6 .2-.6-.5-1-.4-.1-4 1.3-6.1 .1 0-.7 1.9-2 .3-1-.2-.6-1.2-1.6-.2-1.1 .9-2 1.7-2 .2-1 .1 .3 .8 .7 5.2 2.3 1.7 1.4 0 .6-.4 .4-3 .9-.7 .4-.1 .3 .4 .4 2 .6 2 .1 1-1.2 1.8-.9 2.2-1.5 2.3-2.5 .2-.3-.4-.3-2.2-1-.2-.4 .3-.7 1-.6 3.4-.5 1.3-.5 .9-.7 .2-.6-.4-.2-4.6 .8-2.4 1.1-8.2 .3-.2-.4 .1-.6 1-1.7-.6-1 0-.7 1-1 .3-.6-1.4-4 1-1.6 1.8-.8 .6-.6-.1-.4-1-.5-1-1.1 .3-.7 1-1.3-.2-.7-.4-.8-1.8-1.9-9.6-2.4-.4-.6-.1-1-1.5-1.3 3.4-1.3 1.6-1.1 1-.4 3.4-.1 2 .3 1.2-.1 .4-.4 1-1.9 2-2 .4-3.7 2.2-.6 .4-.4-1.3-2-.7-.3-4-.7-1 .2-.7 .8-.6 .3-2.3 .1-2.6-.7-.4-.3 0-.7 .6-.5 1.9-.2 2.5-.8 3 .1 1.6-.2 1.7-.8 1.5-1.3 1.7-3 0-.6-.9-1.4-2.2-1.3-.7-1.7-2.1-1.5-.1-.8 1.1-1 3.7-.7 3.1-1.3 .5-.3 .7-1 1.7-.5 2-1.8 .2-.4-1.2-.3-.3-.4 .3-1.9-1.4-1.1-.2-.6 2.5-2.4 .1-1.3 .2-.7 1.1-.6 1.4 0 1-.4 .6-.8 .3-1.2-1.1-1.3-1.4-2.7-2.4-1.3-.2-1.7-1.6-2.6-3-2.4 .4-1.6-.3-.4-4-.9-4 .1-7.2-1.2-2.1-.8-.7-.8 .2-.4 1.4-.6 39.2 0 2.2 1.7 2.7 .7 6.3 .3 4-.2 4.1 .5 0 .3-2.8 .5-2.6 .9-5 .6-4.4-.1-2.5 2.4-.1 1.7 .2 .3 2.4 .3 .6 .4 1 2.7-.9 .6 .1 .4 1.2 .9 1.4 3.4-.3 .3-2.1 1-.3 .4 .5 1.3-1 1.3-1.5 3.4 .5 1 2.1 1.3 0 .7-.8 1.3 .6 1.3 .9 .6 2 .8 .5 .6-2.5 2-.3 2-1.7 3.4 .7 2.6 1.6 2.4 0 1.3-.4 1.7 2.5 2.1 .2 1.5 .4 .7 3.1 1.7 .1 .3-.6 .7 0 .3 .3 .3 8.6 3.4 1.7 1.3 2.2 .6 5 .7 1.3-.4 2-.9 3 .5 1.3 .6 1 .7 1.1 1.2 .4 1-.4 2-.3 .7-.8 .5-2.8 1.1-.3 .4 .3 1-.2 .3-.6 .3-1.7 .4-5 .5-3.1-.2-2.2-.6-5.3 .6-3.3 1.3-.4 .4-.4 1.3-.5 .3-2.8 .9-.7 .5 .5 1 1.5 1 0 .3-1.7 1.3-.1 1.7-1 1.7 0 1 1.3 2 .9 3 2.3 1.6 .7 .7 .8 2.7-.2 .4-2.2 .2-.3 .4 .2 .3 1.3 1.3 3-.5 .7 .3 2.4 2.2 0 .7-1.2 1.7 .1 .6 .4 .5 1.4 .9 .6 1 .7 .6 3.9 1.2 4.7 2.6 2.3 2.2 .4 1.4 0 .6-.4 1.4 .7 4-.7 3.6 .4 1.7-.7 1.7 .2 2.3-.2 1.3 .7 1.7-1.1 1.7 .1 .6 1 1 0 .6-.7 .3-2.3-.9-.5-.6 .5-1-.1-.7-.6-.4-1.3 .1-.9 .3-.7 1-.4 .2-2.4 .4-.3 .5-.4 2.6 .1 .3 .6 .2 5-.3 2.2 .4 1.5 .9 3 1.2 .9 1.3-.2 1.1-.7 .2-2.7-.1-.6-.2-.5-1-.5-.4-3.4 .1-2-.4-2 0-3.3-1.4-1.7-.3-3.2 .7-.4 .3 .2 1-.2 .4-4.7 .9-.7 .4-.1 .3 1.5 .7 1.3 .2 4.3-1.1 1.3 .2-1.9 2 .2 1.4-.2 .5-2.7 0-1.8 .5-.3 .3 .3 .3 5.8 1.8 .1 .6-1 1 .4 .3 1.2 .3 .6 1.5 2.4 1.2 2 .1 5.3-1.3 1-.5 .8-1.3 .8-.7 1.7-.8 .4 .1 .7 1.7 1.5 2 0 .4-.5 .6-2.1 1.3-2.6 .4-2.4 1.3-3 .5-1.6 .7-.7 .5-.7 1.3-.9 1-.7 1.6-1.8 .8-2.3 1.6 .1 1.8 .6 1 2 .1 2.7-.5 2 1.6 3.7 .8 1.6 0 3.7-.6 5.3-.3 1.4-.3 .6-.3 .8-1.6 2-2 .6-.3 2.6-.5 1.7 0 4.3 .8 2 .8 3.4-.8 1.2 .7 .6 1 .5 .2 4-.1 7.1-1.5 2.6-1.9 1.4-.7 1.6-.4 4-.5 1.4-.5 .3-.3 0-1 .2-.3 2-2 1.2-3 3.2-2 0-1.7 .8-1.3 .8-.7 3.1-1.7 1.6-1.7 3.4 0 1.1-.6 .5-1.4 1.7 .2 1.7-.2 2.9-.6 .7-.3 .2-.4-.5-.4-1.7-.2-2.6 0-2.4 .3-.1-.3 .3-1 1.5-1.2 3.7-1.4 1.6-.2 .9 .4 1.9 2.4 .9 .6 3.7 1.4 2.5 0 .5-.4-.4-.6 .1-.4 1.6-1.1 1.3-.2 3.7 .4 2.7-2.3 3.6-1.4 1-.1 4.4-1.3 .5-.3 .2-1 .3-.2 4.4-1.8 7.2-1.6 10-1.3 4.4-2.2 5.6-1 1.4-.6 1.6-1.1 3.5-1.2 .8-1 2.1-1.3 1.8-2.4 .5-1.3 .6-.7 2.1-1.5 4.1-1.8 .4-.3 .1-1 1.4-1.4-4.3-1-3.7 .1-.5-.4 0-.3 .4-.7 .5-.3 1.6-.8 1-.2 3.3 .2 4-.3 4.3 .2 1 .5 .3 1.4 .6 .6 1.5 .2 5.6-1.2 1.4-1.1 3-1.5 .6-1.3 1.8-.7 .2-.7-.9-2 .5-.7-.1-.3-.7-1-.8-2-2.1-2-1.1-.7-1.1-.4-3.3-.4-2.4-.6-3.3-.2-1.6-.7 0-.3 .3-.2 4-.2 2.6-.9 1 0 3.4 .3 3 1.1 2.3 0 2.7-1.2 1.6-.2 1 .1 1.5 .5 1.8 1 1.1 1 .3 .7-.1 2 .4 1.3 .1 1.3 .6 .2 1.1-.5 2.5-2.3 .1-.7-.3-1.3 .4-1 2.6-2.7 2.1-1.3 .7-1.4 .8-.4 5.3-.8 1.7-.9 2.3-.8 2.7 0 2 .4 8.7-.9 .7-.2 1.3-1.1 2.3-.3 4 .9 6-.4 5.3 .9 3.4-.5 1-.3 2-1.6 1.8-1 .3-1 .8-1 2.9-2 1-1.3 6.7-2.3 1.8-1.7 4.6-3.7 .6-1-.5-.5-2.3-.8-.2-.7 .2-.3 6.2-1.3 .7-1.4 2.2-1-.1-.3-.6-.3 .2-.4 1.7-1 1.3-.3 3.3 .4 1.6-.4 .5-.7-1-1 0-.3 1-.7 4.9-1.1 4.7-2 2-.1 3.7-.8 3 0 5-1 2.6-1.7 4-1.4 .3-.5 0-1.4 2.6-2.6 1.5-.5 1.6 .2 5.8-3.1 .7-.6 .5-1 .8-.7 4.5-1 .5-.3 .3-.7 2.4-1 5.9-.9 1.3-.4 .8-1 .9-.4 2-.3 2 .2 .2 .1-.2 .4-.9 1 0 1 .5 .3 1.4 .3 1.3 .6 1 .2 3.7-.3 4.1 .9 .1 .3-1.9 2.6-1.8 1.4-.5 2-3.6 2-.4 .7 0 1.3-.3 .3-2.4 1.2-1.6 1.2-5.4 1.2-2.8 .4-1.9 .7-1 .9-1.3 .5-5.1 .9-1.2 1-1.4 .5-2.6 .4-3.7-.1-.1 .2 .3 .4-.5 .8-1.4 0-.3 .4-.8 .1-.9 1-1 1.6-2 .7-.5 .4 0 1-.6 .6-.9 .6-2.4 1.1-1.3 1.3-2.3 1.1-2.4 2.9-1.9 1.1-2.3 .7-2 .9-2.7 .7-2 1.9-3.3 .8-3.1 1.9-1.3 .4-3.3 .2-2.8 1.4-3.2 1-1.4 1.4-.5 1 2.3 1.3 .7 .7 .1 .6-.2 1.7-.4 .7-1.6 1.3-.2 1.3-.3 .4-1.6 1.3-.6 2.3-.4 .4-2.2 .5-4.1-.2-1.3 .2-1.6 .7-4.4 .3-1 .5-1.2 1-5 1.3-2.1 1-4 0-2.2 .3-1.2 .7 0 .7-1.9 2.6-2.7 1.9-3.2 1.5-2.8 3.6-3.7 1.6-2.6 1.9-2.4 .6-2.2 1.3-2.4 .5-2.7-.2-3-1.2-3.7-.6-1 .3-1.3 .7-2.7 .3-2 .6-3.1 1.2-1.9 1.4-2.6 3.3 .1 2-.7 1.3 0 .4 .7 1-.8 1.6 .4 1.7-.4 1 0 1.3-.5 .7-1.2 1-.3 1.3-.3 .4-1 .1-.7-.4-.5-1.1-1.7-1.3-1.6-2 .2-1.7-.3-1.3 1.4-2-.4-1.3 0-1.4-.3-.3-.5-.1-.6 .4-2.1 2.7 0 .7 .8 1.3-1.2 1.7-.3 2-.7 .6-2.9 1.7-.6 .2-8.4 .7-1.3-.6-5.3-.4-2.1 .8-.5 .6-.1 1.4-.5 1-.1 .6 .6 .9 1.1 .8 .4 1-.8 2.4-1.4 1.6-10.8 3-3.5 1.8-3 .6-7.3 .4-2.7 .6-3.6 1.6-2.1 1.3-3.6 1.1-2 1.1-1.7 .3-.5 1.2-.6 .7-3.6 1.3-.4 .3 .4 1.4-1 2 .5 1 1.2 .6 .3 1.4-.2 .6-.8 .6-2 .5-1 0-.6-.5-.7-1.4-2.4-1.2-1.4-1.6 1.1-2-.1-.4-.5-.1-2 .2-2.5 1.3-2.5 .6-7 .8-3.4 1-.9 .9-.6 2-2.9 2.3-.7 3.4-.8 1-2.7 1-4-.4-2.2 .4-1.9 1.3-.3 1.7 .4 .6-.4 .9-3.6-.4-.7 .4-.8 1.1-.3 .7-.3 3 .1 .5 .6 .2 .7-.1 1-1.7 2-1.3 5.7-.1 .2-.2-.4-.6 .5-.2 1.7 .2 .7 .3 .1 .7-.6 2 1.5 2 .2 1.6-.7 1.7 1.1 1.7 0 1-.7 1.9-.7 1.1-.6 .4-1.7 .5-1 .8-.2 .6-.1 1.7-.3 .9-.7 .4-1.7-.1-2.3-.7-2.8-2.5-.7-2 .4-.7 1.2-.7 0-.3-.7-.7 .4-1-.1-.3-2-1.2-1-.1-.7 .4-.4 .6-.3 1.7-1 .7-.6 .9 .3 .3 1.3 .2 .4 1.8-.4 .7-1.3 1-.2 1 .2 1.7-.7 1.3 .4 .8 .6 .4 2.7 .8 2.3 .1 7 1.1 4.4-.3 3.3 .3 4.3 0 1.4 .4 1.6 .2 5-.5 9 .5 4.7-.3 3.3 .5 3.7-.2 4 .2 3.7 .4 5.3-.6 1.7 .6 5.3 .7 6-1 5.3 .5 4-.4 8.7-.3 10 1.1 2.7 .1 4.3-.4 1.1-.4 1-1 1.2-.1 1.4 .1 .4 .4 .3 .6 .9 .4 1.7 .1 3.3-.6 8.7 .7 5.3 0 1 .1 2.7 1.1 5.7-1.2 12.6-1 3 .2 .6 .2 1.6 1.4 1.5 .3 6-1.1 2.7 .4 4-.5 13-.5 4-.3 1.6 .2 1.7 .5 5.7 .6 5.6-.1 4.4 .5 12-.2 5 .5 .6-.1 1.5-.9 2.5-.2 1.9 .2 2.4 .7 4.4 .3 3-.3 3.3 .1 7.4-.9 1.6 0 4 .6 4-.6 4 .7 4 .1 5.7 .6 4.3 0 3 .3 3.7-.4 3.7 .4 3.3-.8 5.3-.4 2.7 .5 5.7 .2 5-.2 .8 .1 1.5 .7 1.7 0 4-.4 5.6-.1 4 .2 4.7-.3 4 .4 2-.4 2.7-.8 1.6-.2 4.7 .4 3.3-.5 5.7 .1 .1 .2-.1 13.5-1.3 0-1-.6-1.4-.3-3 .5-8.3 .1-3 .6-4.3-.3-12 .6-5.4-.6-5.3-.1-5-.5-6.3 .9-7.4-.7-2.6 .1-3.4 .6-4.6-.6-4.4 .2-4.3-.3-1.3 .2-2.1 .7-1.3 .2-4-.3-2-.9-.6 .2-1.4 0-.3-.3-1.7 0-.3-.3-1 0-.3-.2-2.7-.1-1.3 .1-1.4 .8-3-.4-3 .5-2.3-.5-3-.1-5.7 .4-3-.1-2.3 .4-11 .5-3.7 .3-10.3-.5-16 .6-4.3-.4-4 0-.4-.3-4.3 .7-6.3-.4-1.4 .1-4.3 1-18.3 1.1-1.7-.1-2.7-1.1-2-.2-2 .4-1.8 1.3-1.8 .1-5.7-.6-3 .1-2.7-.2-1 .2-.3-.5-1.7-1-2.3-.4-2.3 .5-.4 .3-2.3 .1-2 1.1-1 .2-4.3-.4-5 .6-8.4-.7-8.6 1.3-8.7-.6-1.7 .1-2.3 .5-5-.7-3.3 .2-10.7-.1-3 .1-2.7 .5-4.6-.3-4.4 .7-2.6-.4-2.4 0-5.6 .9-6.4-.1-4.6-.5-4 .3-3.7-.1-7.7 1.2-4 .2-2.3-.3-4-1.1-4.3-.1-7.7-1.1-2 0-2.7 .9-3.3 .3-3.7 1.2-5.3 .3-2.3 .5-2.4 1.1-3 1.1-3.1 .6 .1 .2 2 .1 .4 .3-2 1.4-1 1.8-1 .1-.5 .7-.1 .7 1.9 .2 1.2 1.1 .1 .4-.3 .5-1.7 .7-.3 0-1.3-1.2-1-.5-5-.4-1.7-1.5-.1-1 .6-.3 5.8-.7 1.8-.6 .4-.7-.4-1.7-3.1-.2-3 .7-2.7 .1-4.3 .7 0 .4 1.7 1 .4 .7-1.4 1.1-.4 .9-.2 1.3-.4 .7-.4 .1-3-.6-2 .3-1 .6-1.3 1.9-2 1.3-4 1-3 1.4-3.3 2.3 0 .3 1 .9 1.2 .5 3.4-.7 3.4 .1 .6 .9 .2 .7-.1 .3-4.4-.3-.5 .3 .1 .3 .7 .8 1 .3 2.6-.1 1.8-.4 3 1 .3 .4-.9 1.7 .6 1.3-2 1.1-.6 .6-.5 1-.3 1.6-2.3 .1-.9 .3-.2 .3 .9 1.7 .3 1.7 1.9 1.3 0 .3-3 1.7-.2 2 .1 .3 .8 .4 1.6-.3 1-.4 1.2-1 .8-.3 .4 .1 .1 .5-.5 .9-2.2 1.8 .1 1.7-1.2 1.3-1 1.4-2.1 1.6 .1 .7 1 .9 .2 .4-.5 .7zM161.7 4.7l-1.7 .2-1.4-.2zM184.3 7.4l-1 .2-3.4-.3-.1-.3 .7-.7 .1-.6-3.7-1 10.3 0-.4 .3 .2 .3 1.1 .4 2.2 .1 2.4-.5 2.1 .7-.7 1-.8 .2-6-.3zM544.7 37.7l-.7-.2-.7-.5-1-1-.3-.7 1.7-.7 5.6-.3 2.4 .3 .5 .4-.2 .8-.7 .6zM159.9 37.7l.7-.7-.2-.3-.4 0-.5 .6 0 .4zM135.8 38.7l.5-.4 0-.4-1.1 .8 .1 .3zM205 69.3l-2 .3-.2-.6 .5-2.2 .9-1.5 .6-.6 .9-.3 .6 .3 .4 .5 .2 1.5-.7 2.3zM108 74.7l-2.3 .3-1.7-.6-2.4-1.7-.1-1-1-1 0-.4 .2-.3 1-.3 2.6-.1 1.7-.2 2.3 .2 1 .4 .5 .7-2.1 .2-3-.2-1.1 .3 .1 .3 3.3 1.1 1.8 .9 .5 .7-.1 .3zM124 72.7l.5-.4-.2-.7-.6-.2-.6 .3-.1 .3 .2 .3zM204.7 73l-.7 0-.1-.3 .1-1 .3-.2 .7 .3 0 .5zM154.5 87.7l.5-.7-.3-.4-1.4 .1-.6 .3 .3 .7 .3 .2zM454.2 96l1.1-.7 1.6-3.3 .2-1.7-.8-.9-.6-.1-3.4 1.3-1.6 .4-2.7 .1-2-.4-1.7 .2-3 .8-4.2 .3 1.2 .9 5.7 .4 5.7 2.2 3.3 .6zM244.3 109.4l-1.6 .2-2-.3-1.4-.7-.6-1.1-.4-.2-1.6 .3-1.4 .8-.6-.2-1-.7-.1-.5 .8-1 .3-1.3-.8-.7-1.9-.6-.1-.4 1.3-1.7 .1-3.4 1-1.2 1.1-.7 1.3-.4 2.6 .8 3.4 .4 .5 .2 .4 .7 1.4 1.1 1 1.5 .7 .2 1.6-.2 .4 .2-.2 1.5 .5 1.3 0 .9-.3 .4-1 .1-.7 1.3 .3 .1 1-.7 .4 .3-.4 2.7-.3 .3-1.7-.3zM339.7 97.4l-1 .2-.3-.3 .4-.6 1.2-.4 2.8 .4 1 .3-1.1 .3zM325.3 101.3l-2 .1-2-.5-1.8-1.2-.2-.4 .1-.6 .9-1.5 1.4-.6 6 1.1 .5 .6-.1 .4-1.8 .5-.7 .5-.1 .3 .2 1zM469.3 99.1l-2.3 .1-.7-.1-.1-.4 .5-.7 1-.4 2 .1 1.4 .6-.3 .4zM343.3 101.4l-6 0-1.4-.7-.2-1 1-1.1 1.6-.8 .7 .9 1 .3 1.3 .1 2-.3 1 .1 .5 .4-.1 .7-.6 1zM502.3 100.3l-2.6 0-1.7 .3-1.4-1.3-.1-.3 5.8 .3 .4 .3 0 .4zM483.3 102.7l-4-.1-2.3-.8-1-.1-1.3 .3-1.7 .7-.7 .1-2.8-.8-.5-.3-.2-.7 .2-.6 .7-.2 5-.3 7.3 .4 2.7-.3 .9 .3 .2 1-.5 .7-1 .5zM355.3 103.7l-5.6-.3-1.8-.4-.8-.3-.2-.4 1.6-.6 4-1 2.5-.2 1 .3 .5 .5-.2 .4-1.2 1-.1 .3zM170.4 105.7l1.1-.4 .4-.3 0-.3-1.6-.8-1 0-.1 .4 .1 .6zM134 121.3l1-.4 .3-.9-1-.7-1.3-.4-1.7 .1-4.1 1.7 .3 .3 2.2 .4zM374.4 125.7l.4-1.7-.5-.3-.3 .5 0 .8 .1 .7 .2 .2zM127.2 127l.3-.3-.5-.4-1.5 .4 .4 .3zM232.7 135.7l-1 .1-.9-.5-1.1-2.1-.7-.6-.7 .1-3.3 2.1-1.3-.2-1.7-.5-1-.6-.3-1.2-1.2-1.3-.1-1 2.3-2.9 1.5-.4 2.1-.3 .6 .3-.3 .6 .3 .7 1.4 1.1 1.4 .2 3-.3 1 .1 .5 .6 1 3.6-.4 1.4zM393.7 131l-1 0-.7-.7 .3-.3 4.4-1.9 2.8-.1 1.8 .3 .9 .7 .1 .3-.5 .7-1.5 .6-5 .1zM311.3 129.4l-2-.3-.3-.4 .3-.4 1.4-.2 .8 .6 .1 .3zM174.6 130l.2-.7-.5-.1-.3 .3 0 .7zM185.8 130.7l-.5-.7-1-.5-1 0-.4 .5 .1 .4 .7 .3 1.6 .2zM173.4 138l.7-1.3-.7-1-.1-2.2-.7 1.2 .1 .4 .5 .6-1.2 .4-.3 .6 .3 1 .3 .3zM181.1 135.3l-.1-.3-.1 .3zM487.7 139.7l-1-.1-2.7-.9-.2-.4 0-.6 1.2-1.1 3-.4 2.7 .1 .6 .4 .6 .6 0 .7-.7 .7-1.9 .7zM223.7 141.1l-.4 .2-.6-.3-.7-1.5 0-1.4 .3-.7 .4-.1 1.3 0 .6 .7-.6 2.7zM245.7 148l-2.4 0-3.3-.8-1-.7-1.7-1.9-.1-.3 .1-.5 2.3-1.1 .7-.7 0-.7-.5-.6 .4-.7 2.5-1 1-.1 2.6 1 1.3 1.1 1.4 3 0 1.7-1.2 1.6-1.1 .6zM173.4 142.7l.3-.4-.4-1-.3-1.6-.7-.5-.6 .3-.8 .8-.5 1.7 1.3 .9 1 0zM198.3 147.7l-1.3-.5-1 .1-.8-1.3 .3-1 1.5-.1 1.7-.7 .3 .1 .8 1 .1 1-.9 1.1zM219.7 159.4l-1.4 .3-.4-.4 .2-.6-.4-.3-4-.2-1.6-.5-1.4-1.4-.1-1.3-.2-.3-1.5-1 0-.7 .8-1.7 1.5-1.6 .2-1.7-.1-1.7 1-1 .7-.1 1.7 .3 3.3 .1 1.1 .4 1.3 1.3 .1 .4-1.3 1-.6 1.3-.9 1 .6 .4 1.7 0 .7 .3-.2 1.3 .1 .7 1.4 1.3 0 .4-2.1 .9-.1 1 .9 1zM125.3 148.3l-.4 0 .4 0zM191.3 151.1l-.6 .1-1.2-.2-1.2-.7-.2-.3 .2-.3 .4-.1 3 .2 .5 .2-.2 .7zM487.7 159.4l-1 .1-1-.4-2 0-.7-.6-.3-1.2 .2-1 1-2 .6 0 .9 .7 .1 1.3 1.7 1.4 .1 .3-.3 .7 .7 .4 .1 .2zM172.7 161.3l1-.6-.2-.4-1.5-.4-1 .1-.5 1 .1 .3 .4 .2zM119.1 169.7l1.2-.6 3.3-.1 .4-.3-.7-1 .1-.4 2.1-1-.2-.3-2.6-.8-1.4-.2-1 .1-.3 .4 0 .5 1.6 1.7 .1 .3-1 .7-2.4 .4-.8 .2-.1 .4 .6 .2zM113 174l1.6-1.7-1.3-.2-1.2 .2-.5 .4 0 .3 .4 .8 .7 .3zM407.3 187.4l-2.6-.4-1.5-1.3-3.5-.8-2.4-.2-2 .7-1.3 .1-1.6-.5-1.4-1.7-1.7-1-.4-.6 .9-1.4 0-1.6 1.2-1.4 .2-1.6 1.1-.7 1-.2 3.7 .1 1.4-.9 1.9-.3 .7 .1 2.7 1.8 1 .2 5-1.3 2.6 .3 .4-.5 1-.3 1.7 .3 2.9 1.3 3.1 .7 1.6 .7 0 .7-1.7 1-.7 1 .1 .6 .9 1.4-.6 .6-2.7 .7-2.6 0-1.7 1.2-2.3 .2-.4 .3-.1 .6-1.2 1.1zM112.8 188l.4-.3-.1-1.4 .6-2.3-.1-1.7-.3-.4-2-.2-2.6 .2-2 .4-1.3 .7-.1 .3 .1 1.7 .6 .8 3.1 1.2 1.6 1zM349.3 188l-5.3 0-.6-.3-.1-.7 .4-.2 2.6-.1 .6-.4 .1-.3-.8-.7-1.5-.5-1 0-1.7 .5-1.3 .1-.7-.3-.1-.4 .1-.4 1-.5 2.3-.2 2.4-.6 6.4 2.3 .9 .7 .1 .7-.4 .5zM297 189.9l-3.7 0-1.4-.6-.7-.6 2.2-2.7 1.3-.4 2-.1 .7 .5 .7 2.3-.2 .7zM287.3 188l-1 .3-.6-.3-.1-.3 .4-.6 .7-.1zM186.1 192.7l3.6-.7 2-.1 4.6-1.2 4.7-.3 1.2-.4 .6-.7-.7-.6-.8-.3-2.3-.1-1.7 .4-3.3 1.4-3 .6-3.3 1-5.3 0 0 .3 .9 .4zM106.8 192.3l.9-.6 .4-.7-.1-.7-.7-.7-1.6-.3-2.4 0-1.4 .4-.7 .6 .1 2 2 .3zM296 196.8l-1.7-.1-3.3-1.4-5-.1-.7-.5 0-.4 1-1.2 2 .1 1.4-.2 3-1.8 4.3-.3 .3 .3 .4 1.1-.4 .4-1.3 .3-.2 .3 1.1 1-.2 1.9zM226.2 210.3l7.8-.3 5.7-1.2 3.3-.1 1.4-.7 .7-1 .1-.7-.8-1.3-.8-3-.6-.6-5.3-.6-6.7-.2-.1-.3 .5-.6-1.3-.7 .6-.8 1.6-.5 4-.4 1.3-.6 0-.4-.6-.4-1.7-.5-3.3 .5-2.3 .8-2.7 .5-3 .9-1.7 1-2.6 2.6-1 .5-3.4 .7-4.6 .3-2.7 .5-.8 .3-.6 1 .1 .4 .6 .5 6.7 1.5 3 0 3 .5 .3 .2 .3 1.2 .4 .2 1.3 .1 1.7 .8zM94.2 203.3l1.1-.6 .4-1-.1-1-.9-.6-1.7 0-2.7 1-1.3 .2-9.7-1.6-.6 0-.8 .3 0 .3 1 1-.1 1.4 .2 .3 .7 .3 4 .1 4.3-.4 4 .5zM289.7 201.7l-1.3-.4-.2-.3 .1-.3 1.5 .3 .3 .3zM179.9 206.7l.7-.7 .5-1 .1-.7-.2-.3-.7-.4-1-.2-1 .2-.7 .4-.3 .7 .4 .7 1.3 1.2zM51.2 235l.8-.3 0-.4-1.7-.2-1.8 .2-.3 .4 1.8 .4zM82.6 237l-.9-.8-.8 .1 .8 .7zM14 239.7l-1.3 0 0-2.1 1.6 .3 .8 .4 .1 .7-.2 .3zM185.3 242l1.4-1-.1-.3-1.3-1-.1-.4 .5-.4-.8 .1-.9 1-.3 .7 .6 1.5 .4 .1zM249.7 240.4l-3.3-.1-.4-.2 0-.4 .2-.4 1-.3 2.1-.1 1.1 .8 .1 .3zM228 241.7l-1-.1-2-.9 .7-.4 3.3-.3 1.7-.6 .7 .3-.3 .6-.9 .7zM284.3 241.4l-3 .2-.9-.3 .4-.3 3.5-.5 1.1 .2 0 .3zM509.7 252.1l-1 .1-2-1.3-3.3-1.2-.8-1.7-1.6-1.7-.4-1 .1-.6 5 1.3 1-.1 .9-.6 0-.3-.4-.3-2.9-.9-2-.2-1.6 .4 .3-.8 2-2.1 1.7-.5 1.6 .3 4 2.2 1.9 .6 1.9 1-.1 .3-1.1 1-.3 .7 1.2 1.3-.1 1.1-1 1.2-2.7 .2-.3 .2 .2 1zM526.3 250.7l-1.3 .2-2.6-.9-2.4-1.7-.3-.6 .1-.4 .2-.3 .7-.2 9 .2 .3 1.6-.6 1.1-1.1 .6zM507 248.3l0-.3-.7-.2-.9 .2-.4 .3 1 .3zM524.7 253.4l-.3-.1 .3-.2 .2 .2zM92.3 258.1l-1.6-1.8-.4-.6 .1-.4 1.3 .1 1.3 .7-.3 1.9zM216 262.1l-.7 .1-2.3-.6-.6-.3-.2-.3 .5-1 1.7-2-.5-1.7 .1-.3 1-.5 .7 .5 .2 1.3 1.2 1.4 .3 1-.3 1.3zM227.3 273.1l-1 .1-.9-.5-.4-.7 0-1-.7-1 .9-2-.9-1.7 .9-2-.9-2 0-.6 1.4-1.1 1.3-.4 .5 .1 .3 .4 .6 1 .3 1.3-.4 1.5-1.4 2.2 1 .6 0 2.4-1.5 .6-.4 .7 2 .9 0 .7zM117 264.7l.7-.4 .2-.6-.2-.6-.7-.3-2.8 .2-.9 .3-.6 .7 .2 .3 1.1 .4zM198.7 268.4l-.4-.1-.1-.3 .3-1 .2-.4 .6 0 .6 .4 .1 .7z" stroke="#ffff00" stroke-width="0.9" fill="none"/>
<path d="M178.3 286l-69.9 0 .4-.3-.2-.7-.9-.5-1.4-.2-.5 .4 1.5 1.3-6.4 0 .1-1-.6-.7 0-.3 .3-.2 10.3-2.9 2.7-.1 4 1.2 2.2 0 4.8-1.2 0-1.1-.7-1.4-2.8-1.3-1.5-1.5-1.4-.5-1.3-.2-1.2 .2-.2 1-.9 .7-1.4 .1-1.3-.1 .7-.7 2.1-1-.1-.3-1.4-1 .2-1.4-.1-.3-.4-.2-4.7-.3-5-.7-2.3 .1-1.7-.2-3 .6-1.4-.3-2.2-1.7-.4-.6 .8-1 2.6-.9 .9-.8-.3-.7-2-1.1-.1-.5 .3-.4 .6-.6 .6-.2 5.3 1.3 2-.1 3.7 2.3 .1 .3-.5 .4-3.3 0-.6 .3 .4 .3 6.6 .7 2.9-.2 .3-.1-.4-.4-2.5-.6-.3-.4 .8-2 1.6-2.3 1.2-1 2.6-.7 .7-1.6 1.6-1 1.8-1.9 4.5-1.5 .1-.3-2.3-.4-3-.1-2 .2-.7 .3-.3 2.1-1 .6-.7 0-.7-.7-.1-1.3-.4-1-2.7-1-.2-.4 .3-.6-.2-.4-2.3-1-2.4 0-.2-.6 .5-1 0-.4-.2-.1-.7 .1-1.3 .9-2.4 .3-5 2.2-.5 .6 0 1-.5 .5-2.3 .1-3.3-.4-.4-.3-.1-.5 .7-2-.1-1.7-.4-.7-2-1.6-3.1-2-.1-.4 .7-1.6-.7-.7-4.5-1.1-2-.2-11.4 1.3-1.1-.3-1-.7-.2-.7 .1-.6-.4-.4-6.4-.1-2.3-.5-4-1.4-1.3 .9-.7 0-1.8-.5-.8-.7 .3-.8 1-.4 3.3 .6 2.7-1.7-.2-.4-1.3-.6-5.2 .4-5-.1-.6 .3-.3 1-.7 .7-1.1 .6-8.3 .4-1-.5-1.3-1.8-.6-.4-1.1-.1-3.7 .3-5.2-2.2-1.8 0-1.8 1-1.8 .4 0-22.3 2.6-.6 3 .3 4-.8 3.7-.1 2-.4 6.7-.4 2 0 3.3 1 1.3 0 1.7-.6 3.7 .6 .3-.4-.8-1 .1-.7 .7-.4 2-.5 .7-.4 .8-2.3 1.6-.7 2.9-.5 .6-.5 .2-1.3 1.5-.5 1.4 .2 2 1.3 4.3 .8 .3 .2-1.2 1 0 .6 .9 .7 1.3 .3 1.7-.1 2.8-.9 4.2-.6 2-.6 2.7-.3 8-.1 .4 .3-.5 .7 0 1 .3 .3 .8 .3 2.5-.3 1.8-1 2.7-.5 1-.7 .4-1.8-.4-1.3-1-1.3-2.7 .2-3 1.1-1.7 .2-11.1-2.2 .7-.4 2.4-.5 2 .8 5.7 .4 5.7-1.3 2.3 .5 .1-2.2 .6-1 .6-.4 2.4-1.1 2-.6 6-.3 .6-.3 .6-.6 .2-1.7 .4-.7 4.9-1 0-.3-.7-1.7 .7-2-.4-1.3 .2-1.3-2.2-.3-4.2 .3-2.8 .6-1.6 1-.1 .4 1.7 2.2 2.9 1.4 .3 .7-.7 .7-5.2 .2-3.3 .6-3-.9-4.3-.4-1.8-.5-.9-.7-.2-.7 0-1.6-1.2-1.4-.1-.6 .5-.6 1.3-.7 .7-.7 .5-1-.1-1 4.9-.3 1.1-.4 .4-.7-.4-.3-.7-.1-3.4 .3-1.4 .5-.4 .3-.2 .6-1.6-.2-.8-.4-.2-.7 .3-1 .4-.3 .9-.2 3.7 .3 .8-.4 .9-1.2 1.3-.3 1.3 .3 .7 1.2 .3 .2 1.7-.1 3.8-.8 2.9-1.2 1.5-1.1-.7-1 .3-.4 3.5-1.1 3.7-2.5 .2-.7-.8-1.7-.1-1 .8-1 1.2-.5 1.3-.1 .1 1 1.1 1 .2 1.3 1.4 1.7-.1 .3-.6 .3-2.7 .6-.9 .4-.1 .4 1 .5 1 .2 2.3-.7 3-.3 1.3-.4 .4-.3 0-.4-.5-.6 .1-.4 2-1 0-.3-.6-.3-4.2-1.4-.5-.6 .7-1.4 1-.6 5.8-1.4 .6-.3 0-.7-.6-2 .9-1.6 0-.7-2-.5-1.7 0-2 .2-2 .6-3 .2-4.2-.5-.7-.3 1.6-1 .4-1.7 1.2-1.3 1.4-2.6 1-.6 2-.5 .4 1.3 .9 .5 2 .4 2 0 1-.5-.1-.4-1.3-.6-4.3-1 1.4-1.5 2.4-1.2 .1-1-.2-.4-.7-.2-5-.7-.8-.4 1-1.3 .3-.7-1.6-2 .4-2-.6-2 .1-2-1-1-3-1-.1-.3 1.3-.7 6-1.6 .9 0 1.1 .6 1.4 .2 2.3 0 .3-.5-.6-1.3-2.7 .1-.4-.1 1.3-3.7 .4-.5 9 .7 1.4-.5-.3-.7-.1-1-.3-.3-1.7-1-1.3-.3-1.7 0-2.6 1.1-1.7 .4-.7-.2-1.6-1.4 0-.3 .6-.7 .1-.6-.7-1.7-.6-.3-1.7 0-1.7 1.6-.7 .2-1-.2-1.7-.6-.6-.4-.3-.6 .7-.7 3.6-.5 3-1.5 2.3-.4 1.2-1.6-.3-2-.2-.3-4.7 1.5-2 .1-1.7-.4-.4-.2 0-.4 1.4-1.9 1-.5 1 0 5.7 1.5 .3-.2 1.4-1.7 4-2.5 1.2-1.7 1.5-1.3-.1-.3-1.8-1-.1-.4 .1-.3 1.2-.6 2-.5 1.9-.9 .7-.7 .4-1-.4-.6-.3 0-1.7 .7-4.3 .7-3 .9-5.3 .3-.7-.3 .2-.7 .5-.3 3.3-.5 .7-.3 .4-.5-.1-.7-.7-.4-3-.1-.4-.2 .7-1.6-.3-1.4 .1-1-1.1-1.3 .1-.7 .3-.6 .6-.4 2.4-.5 1.3-1.4 1-.5 2-.3 2.7 .1-2.5-1.4-.9-.2-2.6 .2-2.7 .5-.2-.5 1.1-1.6-.7-1.7-1-1-.5-1.5-2.4-.1-2.6-.9-2.7-.3-1.6-.5-.5-.4-.2-1-1.1-1 0-.3 .4-.2 3.3-1 1.7-.9 2.7-.2 2.6 .1 1-.3 1.8-2.8 1.9-1.7 .2-3.3 2.6-1-.2-.7-1.6-2.2-3-.8-.9-.3-.3-.4 2.2-.6 2-1.2 2.7-3.5 3.6 .4 .7-.4 0-.3-.7-.9-1-.6-2.6-.2-1-1.1-2-1.2-1-1.7-1.9-1.3-.1-.7 .6-.7 .7-.2 4.7-.8 1.7 .7 1 0 .1-1.3 3.8-3.8 .8-1.2-.3-.4-1.5-.3 .3-1.3-.1-.4-1.5-1-.3-.6 2.4-2 .6-2.1 .5-.3 1.5-.1 1.6-.9 .4-.6 .2-1.4-2-3-.6-1.4-2-.9-.3-1.7-1.4-2.6-2.7-2.4 .1-.5 .7-1.1-.2-.4-5.8-1.6-3.7 .4-5.7-.9-1.3-.3-1.8-.9-.1-.3 .2-.2 2-.8 34.4-.1 2.1 .1 1.5 .7 1.6 1.6 .5 1.3 0 2-1 2-.1 2.2 .7 .4 2.3 .4 .5 1.4-.1 .3-2 .1-1.4 .3-.7 1.3 .1 .9 .3 .6 2-.5 2.3 .4 .5 .2 .4 1.4 .8 1-.3 .5-2.2 1.1-.1 .7 .4 1-2.4 4.3 .2 1 1.9 1.4 .6 .6-.8 .9-1 .5-.2 1-1.1 1.6-.2 .7 .2 .3 .9 0 2.8-1.2 1.9 .6 .6 .6-.5 .6-4.7 2.8-.7 1 .4 .6 1.6 .1 .2 .3-.2 .6-1 1.4 1.4 3 1.3 2 0 1.3-.4 1.3 .2 .7 2.2 2.2 .8 1.8 2.7 1.7 .1 .3-.5 .7 .1 .3 1 .7 5.7 2 2.8 1.4 1.3 1 1.3 .5 6 1.1 3.7-1.2 1.7 .2 2.6 .9 1 .7 .8 1 .1 1-.5 2.2-.6 .5-3.4 1.3-.2 .4 0 1-.3 .3-1.2 .3-5.3 .6-2.7-.3-2-.6-6.2 .7-2.1 .8-1.4 0-3.5 1.2-.9 .6-1.2 2.7 .3 .4 1.8 .9 .3 .7-1 1-.3 2-1 1.7-.2 1.6 1.1 .7 .8 1 .3 1.3 0 1.4 .3 .3 2.3 1.3 1 1.4 .2 2-2.1 .3-.6 .3 1.4 2 .1 .4-.6 1-.1 .6 1.3 2.3 .7 .5 1.6 0 .6-.1 0-.7 .2-.3 .9-.4 .6 .1-.2 1.3 .2 .3 2.9 3 1.2 .6 3.3 1 4.3 2.2 2.3 2.2 .4 1-.1 2 .8 4.7-.6 3.3 .4 1.7-.7 1.3 .2 2.7-.4 1.3 .6 1.7-1.5 1.6-.4-.1-1-1.4-3-.5-2-2.2-1.5 2.3 .2 .5 1.3 .5 0 .3-1.5 1-.2 2.3-.7 2 1.1 .2 5.3 0 1.6 .8 .5 .7-.2 .3-2.5 .6-2-.8-2.7 .2-1-.6-.4-1-4.3-.8-.6-.4-.3-.8 0-1.7 .7-1 .6-1.7-.7-2 .1-2.6 .4-1 1.4-1.7 .2-1.3-.4-.4-1.4 1-.8 1-.1 2.7-2.2 4.3 .4 2.7-2.2 3 .8 1-2.3 1.3 .2 .7-.1 .3-3 1.2-.4 .8 .4 .8 1.2 .9 .6 2.7 .5 .9 .7 .4 2.3 .6 1.6 .7 .2 .4-.2 .3-1 1 .2 .7 2.9 .2 1 1.1 2.7 1.6 1.6 0 3.7-.6 2.8 1-1.5 1.8-3.6 .8-1.6 .7-2.9 4-2.2 .9-2.1 1.5-.1 .3 .7 2.7 .8 .8 2 .3 2.4-.5 2 1.4 3.3 1.2 7.7-1 1.3 .2 1.4 .9 1.3 .3 .3-.2 .7-1.4 1.1-1 .5-1.4 1.8-2 .9-.5 2-.4 1.7 .1 4.3 .7 2.3 1 2-.7 1.4-.2 1 .7 .1 1.3 .2 .1 2.3-.4 2.7 .1 8.3-1.6 .4-.2 1-1.3 1.6-1 5.7-1.1 1.7-.6 .2-.3 0-1 1.9-2 1.2-3 3.4-2.3 0-1.7 .6-1 1-.9 3.5-1.8 .5-1 .3-.3 1.7 .1 2-.2 1-.4 1-1.2 5.7-.7 2 .2 .6 .4 .7 .8 1.7 .1 1.5-.4 .8-.7 .7-.2 4.5-.8 .7-.3-.9-1.4 .3-.3 1.4-.4 3.3 .2 3-2.6 6.6-2.2 2.9-.7 1.2-1 3-1.1 2.4-1.2 5.2-1.3 6.4-1 4-.3 4-2.2 5.6-1.1 1.7-.7 1.5-1.1 3.2-1 1.4-1.3 1.9-1.3 1.9-2.4 .4-1.3 1-1 1.4-1 5.1-2.3 .5-.4 .3-1 1.4-1.3 0-.3-.3-.1-5-.8-3.7 .2-.4-.3 .5-.7 1.6-.7 1.3-.2 6.3-.1 2.7 .4 2.3-.2 .6 .5 .1 1 .7 .8 .6 .2 1.7-.1 5.3-1.1 1.6-1.2 2.7-1.3 1.1-1.3 1.3-.5 .6-.5 0-1.7 .9-.7 .2-.3-2.3-3.7-.7-1.8-3.4-1.6-3.8-.9 .4-.7-3.5-.6 0-.4 .3-.2 1.3-.4 1.3-.2 2.2 .2 1.4 .3 1.8 .9 2.8 .4 .8 .6 .7-.6 .5-1 .8-.4 2-.3 2 .4 2.3 1.3 1 1 .2 .7-.2 1.7 .5 1.6-.1 1.3 1 .2 1.3-.7 2.6-2.4 .1-.7-.3-1.7 .3-.6 2.7-2.7 2.1-1.3 1.2-1.5 5.7-.8 3.6-1.7 2.7 .1 2 .4 2.3-.1 2.7-.7 4.1-.4 1.9-1.2 2.3-.3 3.4 .8 6-.3 5.3 .8 2 .1 1.6 .8 .7 1.4 3.5 1.9 5.9 .4 6 2.2 3.3 .7 1.7-.1 .9-.9 .4-1.2 1.3-2.4 .1-1-.1-.7-1-.9-.6-.1-3.4 1.5-1.6 .3-1.7 .1-3-.4-4 .9-2.7 .3-2-.3-1.6-.6-.9-.8-.1-.7 1-2 1-.8 2.3-1.2 .3-1.3 .5-.7 3-2 1.1-1.3 6.7-2.3 1.4-1.5 5.2-4.2 .4-.7-.2-.3-2.4-1-.3-.3 0-.4 5-.8 1-.3 1.3-1.7 3.3-1.2 .1-1.3 .3-.4 3.6 0 1.7-.3 1.1-1 .1-.3-.7-1 .9-.7 3.3-.5 5.3-2.1 1.7 .2 1.3-.7 2.7-.7 2.6 0 5.4-1 1.4-.5 2-1.3 2.2-.5 1.7-1 .2-.5-.2-1.4 2.3-2.2 .7-.2 2.3 .2 1.4-1.2 4.8-2.6 1.8-2 5.4-1.1 .9-.5 .4-1 .7-.4 5-.8 3.3-.1 .7-.4-.3-1 .2-.3 2.4-.4 .7 .4-2.2 1.3-.1 .3 .4 .4 5.9 1.7 4 .1 3.3 .6-.1 .6-1.2 2-1.4 .5-1.6-.1-.2 .2 0 .7 .8 .3 .4 .7-.3 1-3.4 2-.4 .7-.1 1.3-.3 .3-2.2 1.1-1.9 1.3-8.1 1.5-1.7 .5-1.2 1-1.4 .6-5 .9-1.4 1.1-1 .4-2.6 .4-4-.1 .4 .7-.4 .7-1.4 .1-.3 .3-1 .2-1.8 2.3-1.9 .7-.9 .7-.1 1-.8 1-2.6 1-1.7 1.6-2.2 1-2 2.4-1.8 1.3-7.2 2.4-2 1.9-3.7 1.1-2.6 1.7-1.4 .4-3.4 .2-2.9 1.5-2 .5-1.3 .6-1.7 1.4-.7 1 .3 .3 1.7 .6 1.6 1.1 .1 .6-.2 1.7-.4 .7-1.7 1.3-.2 1.3-1.8 1.7-.7 2.1-.7 .5-1.6 .4-4-.2-1.9 .2-1.5 .7-4.3 .3-1.3 .6-.7 .7-1.7 .7-5.6 1.6-5.4 .4-2.1 .7-.8 .6-.2 1.7-.8 1.3-2.5 1.7-3.4 1.7-1.8 2.5-1.2 1.1-3.4 1.4-2.7 2-2.7 .6-2 1.3-2 .4-2.4-.2-3-1.1-4.3-.7-1 .3-1 .6-3 .5-5 1.8-2 1.5-2.5 3.3 .2 1.9-.9 1.4 0 .4 .7 1-.7 1.6 .3 1.4-.5 1.3 .1 1.3-1.9 1.7-.7 1.3-.8-.2-.9-1.1-1.3-1-1.6-2 .2-1.7-.3-1.3 1.3-2-.4-1.3 0-1.7-.3-.3-.7 0-1 .6-1.9 2.7-.1 .7 .8 1.3-1.3 1.7-.2 2-.8 .6-2.8 1.7-7 .7-1.7-.2-1.3-.6-5.3-.3-.7 .1-1.9 1-.3 .6 0 1.4-.6 1.6 .7 1 1.1 .9 .3 .8-.9 2.3-1.4 1.5-10.7 3-1.3 .5-2 1.2-1.3 .3-8 .7-1.4-.3-3 .8-5 3-3.6 1-2 1.1-2.4 .2-.5 .4-.6 1-.1 .6-.4 .3-.3-.3 .6-.3-.7-.3-1.7 .3 .6 .3 1.1 .1 .3 .3-3.3 1.3-.3 .3 .8 .7 .1 .7-.6 .9-1.3 .7 .1 .4 1.2 1.2 1.3 .8 .3 1.3-.6 .6-2 .5-1-.1-1-1.6-2.6-1.3-1.3-1.4 .2-.7 1-1.3 0-.4-.6-.3-2.3 .1-3 1.4-2 .6-7 .9-3.7 1-.9 1-.6 2-2.9 2.3-.8 2.4 0 1-.5 .7-2.3 .9-4.7-.2-2 .5-2.3 1.4-.3 1-.7 .6-1.8 .4-1.2 .6-1.2 1.7-.3 .7 0 1.7-.6 2.6 .1 .5 .3 .1 1.4-.2 .6-.4 1-2.3 1.7-1.1 4-.2 1.2 .3 .8 .5 3 3.5 .3 1.7-.6 1.3 1 1.7 .1 1-.6 1.6-.9 1.2-.6 .4-1.4 .1-1.2 1.3-.8 2.8-1 .4-1.6 0-1-.2-1-.6-.3-.7 .4-.7-.1-.3-2-.7-.5-.6-.2-1.1 2-.8 .1-.5-.2-.6-.7-.7 .1-1-1.8-1.3 .4-.7-.6-1.8-.3-.2-2.8 1.7-.4 .3 .1 .3 .7 .4-.4 2-.2 .3-1 .4-1.1 1.9 .2 .7 1.9 .3 .2 .7-.2 .5-1.3 .7-.3 1.5 .3 2-.6 1.3 .5 1 .7 .4 2.7 .8 2.3 .1 7.4 1.1 4.3-.3 3 .2 4 0 1.7 .5 1.6 .1 5-.5 9 .5 4.7-.3 3.7 .5 3-.2 4 .2 4 .5 5.3-.6 1.7 .9 2 0 3 .4 6.3-1.1 5.3 .5 4-.4 8.7-.3 9.7 1.1 3.3 .1 4.3-.4 1.1-.5 .9-.8 1-.2 1.4 .4 .4 .6 .6 .4 2.3 .2 3.3-.6 8.7 .8 5.3-.1 3.7 1.3 3.7-1 2.3-.3 10.7-.9 3.3 0 1.5 .2 1.7 1.4 1.8 .5 5.7-.9 2.6 .5 4.4-.9 16.6-.7 2 .2 1.7 .5 5.7 .6 5.6-.2 4 .5 12-.1 5.7 .5 .7-.2 1.3-.8 2-.2 1.7 .2 2 .6 5.3 .3 3-.3 3.3 .1 7.4-.9 5.6 .6 4.4-.5 4 .6 4 .1 5.3 .6 4 0 3.3 .4 4-.4 3.7 .3 3-.8 5.3-.4 2.4 .4 6 .3 5-.3 2 .6 .3 .3 1.7 0 4-.4 5.6-.1 4 .2 4.7-.3 4 .4 6.3-1.4 5 .6 3.7-.6 5 .1 .1 .4-.1 13.1-1.3 0-1-.7-1.4-.3-3 .4-8.3 .2-3 .6-4.3-.3-12.4 .6-5-.6-5.3-.1-5.3-.5-6 .9-7.7-.7-2.7 .1-3 .5-4.3-.5-5 .2-4.3-.3-4.4 1-3.6-.2-2-.8-2.4 .2-.3-.4-1.7 0-.3-.3-1 0-.3-.2-2.7 0-1.7 .1-1.3 .5-3-.2-2.7 .5-2.3-.5-3-.1-6 .4-2.7-.1-2.3 .3-14.7 .9-10.3-.5-5.3 .1-2.4 .2-4.3 0-3 .3-9.3-.4-.4-.2-4.3 .5-6.7-.2-5 1-18.3 1-2-.1-2.7-1-2-.2-1.6 .3-2.4 1.3-1.6 .2-5-.6-3.7 .1-2.7-.3-.3 .3-.7 0-.2-.2 .5-.3-2-1-2.6-.4-2.3 .5-.4 .3-2.6 .2-1.9 1-.8 .2-4.3-.4-5 .5-8.4-.7-8.6 1.4-9-.7-4 .7-4.7-.7-3.3 .2-10.7-.1-3.3 .1-2.4 .5-4.3-.3-4.7 .6-2.6-.3-2.4 0-5.6 .9-6-.1-5-.5-4 .3-3.7-.1-5.3 .9-6.4 .5-2-.2-4-1.2-4.9-.1-8.4-1.2-1.7 .2-2.3 .8-3 .2-3.7 1.3-6 .4-2 .5-2 .9-3.3 1-2.3 .2-6-.4-3.4 .7-4.3 .6-3 .1-2.7 .9-4.6 .3-1.4 .5-1 2 .5 1.3 .5 .7 .7 .1 1.3-.5 .8 .7-1.5 2.7-1.6 .8-3.3 1.2-4 1.9-3.9 2.4 0 .3 1.9 1.4 3 1.4 1.6 1.6 2.7 .1 3.3-.3 2.2 .8 0 .4-.8 1.3 .3 1.3-2.1 1.4-1 2.3-.6 .2-2.3 .1-1.1 .7 0 .7 1.1 1.4 .3 1.6 1.2 1.3-.5 .7-2 1.3-.2 2.3 .5 .7 .7 .2 2.7-.2 .3 .2-.4 1.1 .3 1-.3 .7-1.6 1.4-2.2 .9-.5 2 1.1 1.4 .1 .6-1.9 1.7zM186 6.3l-2.3 .1-.2-.1-.1-1-.4-.3-3.4-.3 6.2 0-.1 .6 .5 .7zM139.5 8.3l.4-.3 0-.7-.6-.6-1-.6-2-.1-1 .3-.2 .4 .5 .6 2.1 1 1 .2zM192 6.7l-.2-.4 .7 0zM171 9l-6.3 .3-1.7-.3-.8-.3-.2-.4 .5-.3 2.2-.3 4 .2 3.3-.2 1.1 .3zM140.4 12l.4-.7-.2-.3-1.3-.5-2-.1-1.4 .6 0 .3 .5 .4 1.6 .4 1.7 .2zM159.7 23.3l-.4-.2-.1 .2zM547.3 36.7l-2.6 .1-1.4-.7-.5-.8 1.2-.5 3-.2 2.3 .1 .8 .3 .2 .3-.4 .7zM122 57.4l-1.3 0-1.4-.4-.9-.7 .3-.3 3.6-.9 1 0 1 .2-.1 .4zM205.7 68.8l-2 .1-.4-.1 0-.5 .2-1.3 .8-1.6 .7-.6 .7-.2 .6 .5 .4 1.2-.4 1.6-.3 .7zM124.4 73.3l.4-.3 .2-.7-.1-.6-.4-.7-1.2-.1-1.3 .6-.1 .5 .8 .9 1 .5zM106.7 74.4l-1 .2-1.4-.4-1.7-1.2-.3-.3 .1-.4 1.6-.1 2.8 .8 .7 .7-.1 .3zM168.7 80.3l-1.4 .2-.6-.5 .3-.5 .7-.3 2 0 0 .6zM165 84.7l.2-.4-.1-.3-1.1-.8-1.3 .3-1 .5-.1 .3 2.4 .5zM153.8 88.3l1.6-.6 .9-.8 .7-.2 .3-.4-.6-.3-.7 .3-2 0-2 .4-.2 .3 .5 1.3 .4 .3zM244.3 109.1l-1.6 .1-2-.3-1-.6-.4-1.3-.3-.3-3.3 0-.2-.4 .3-1.3-.3-.7-1.2-.9-1.8-.4 0-.3 1-1.4 .2-2-.2-1.3 .7-1 1.1-.7 1.4-.4 5.5 1.1 2.6 2 .9 1.7 .3 .2 2 .2 .7 2.2-.1 .4-.9 .2-.4 .3-1 1.5 0 2zM324 100.7l-1 .1-1.7-.3-1.5-.8-.3-.7 1.2-1.6 1.3-.3 4.6 .6 .8 .3-.1 .3-2.4 1zM468 98.3l-.4 0 .2-.3 .5 0zM338 101l-1-.1-.9-.6-.1-.6 .7-.8 1-.2 1.5 1-.2 1zM120.7 105l-1 .2-1-.3-1-.8-.4-.7 .2-.7 1.3-2.4 .9-.8 4.1 1.5 1.1 .7 .6 .6 0 .4-.5 .5-2.3 .8zM483 102.4l-3.3 0-3.7-1-3.7 1-1.6-.4-.2-.3 1.2-.6 5.3-.5 5.3 .2 2.4-.3 .4 .2 0 .6-.4 .6zM352.7 103.1l-2 .1-2.1-.5 .1-.4 .6-.3 2.8-.7 1.9-.3 1 .3zM174.3 104.1l-1.6-.1-1.5-.7-.1-.3 1.9-.5 .7 .1 1 1.1zM376.1 106.7l.1-.4-.2-.1-1 .5 .3 .2zM374.4 127.3l.8-3.3-.5-.8-.7 .3-.4 1.2 .1 2.1 .3 .6zM232.7 135.4l-.7 .2-1-.4-1.2-2.2-.8-.6-.7 .1-3.3 1.9-2.3-.6-1.3-.8-.5-1-1-1-.2-1 2-2.5 1.3-.4 1 .2 2 2 1.3 .6 1.4 .1 4-.5 1.3 3.8-.4 1.4zM399.3 130.3l-4.2-.3-.6-.3 2.7-1.4 2.2 0 1.8 .7-.1 .7-.4 .3zM311 128.8l-.9-.1 .6-.2zM186.1 131.7l.5-.4 0-.6-2.3-1.8-1.3 .3-.7 .8 0 .8 .4 .3zM165.3 131l.4-.3 0-.7-.4-.5-.6-.2-.5 .4-.1 .6 .6 .8zM165 133.7l.3-.3 0-.6-.4 .2zM488.7 139.4l-1.4-.1-3-.9-.3-.3 0-.4 1-.8 1.7-.4 4 .1 .9 .7 .1 .7-.3 .3zM223.3 141l-.6-.5-.6-1.5 .2-1 .7-.4 1 .2 .4 .5-.7 2.4zM188.7 139.5l-1.4-.5-.3-.3 .2-.4 .5-.3 .3 .3 .9 1zM246.7 147.7l-2 .2-1.7-.1-2.7-.7-1.2-.8-1.3-2 2.9-2.3 .1-.7-.4-1 .4-.3 2.9-.8 1.6 .4 1.7 1.1 1.7 3.3 .2 1.3-.7 1.4zM166.1 141.3l0-.3-.4-.4-.4-.2-.3 .2 0 .7zM192 146.5l-1 0-1-.3-.8-1.2 .1-.7 1-.2 1.4 .5 .6 1.1zM258.3 146.3l-1.3 0-.3-.3 .4-.7 .9-.6 2.3-.7 2.4 .4 1.3-.1 .6 .4 .3 .6-.2 .6-.7 .3zM198.3 147.3l-1.3-.5-1-.1-.5-.7 .1-.7 3.1-.8 .3 .2 .7 1.3-.6 1zM217.3 157.7l-2.6 .2-2-.4-.7-.5-.3-.7 .6-1.3-.3-.3-2.6-1.4 .6-2 2.6-2.3-.1-.3-.5-.5-.5-1.5 .3-.7 .9-.6 5 .3 1.5 .6 .7 1-1.6 2-1.6 1-.4 .7 .2 .3 .8 .5 2.7 .4 .2 1.5 .6 1-.5 .3-2.3 .3-.2 .4 .4 1.3-.1 .3zM171.7 150l-1.1-.3-.2-.4 .1-.3 1.4-.7 .6 0zM189 160l-2.9-.3-.1-1 0-.4 1.3-1 .7-1.3 .7-.6 .6-.1 2.1 3-.3 .7-.4 .4zM484.7 158.4l-1.4 0-.3-.7 .3-.9 1 .1 1.2 .8-.1 .3zM173.3 162l1.4-.4 .4-.6 0-.7-.8-.4-2.3-.4-1 .1-.3 .3-.6 1.1 .1 .7 .8 .2zM111.5 177.3l2.1-.3 1-1.3 .1-.4-.7-.7-.1-.6 1.5-1.7-.1-.4-1.6-.3-2.6 .4-1.3 .7-.4 1-2.1 .8-.7 .5 .1 .3 1 1 .6 1zM407.7 187.1l-2-.1-2.7-1.6-4.7-1-2 0-2.3 .6-1.3-.3-1-1.4-2.4-1.5 .1-.5 .7-1 0-1.6 1.2-1.4 .3-1.3 .4-.2 .3 0 .6 .9 1.4 1.1 1.4 .4 .4-.2 .4-1.3 .8-1 1.7-1.2 1.3-.4 1 .2 2.4 1.5 1.3 .3 3.7-1.2 1.6-.2 1 .3 1.4 .9 1.6-.5 .3 .3-.9 1 0 .3 1.1 1.7 .2 1.3 .3 .3 2.4 1 1 0 1.6-.4 .7 .4 0 .6-.7 .4-4.3 .2-1 .3-1.3 1-2.7 .3-.3 .2-.4 1-1.3 .7-.4 .7zM414.7 175.5l-.3-.2 .5 0zM183.9 179l.7-1.7-.3-.6-1-.6-1-.2-1.3 .2-1 .3-.9 .6-.2 .3 .3 .4 .5 .3 3 1zM419.7 180.1l-1.8-.8-.3-.3 .2-.7 2.9-1.6 1.3 .2 .7 .4-.2 .4-1.5 1-1 1.3zM396.8 183l.2-.3-.3-.8-.7-.6-.7 0-.2 .7 .2 .7 .7 .4zM99.1 184.3l1.6-.6-1.1-.7-1.9-.5-6.1 .5 .2 .3 .7 .4 2.8 .7 2 .2zM352.7 186.7l-3.7 .2-.7-.9-2.8-1.7-.2-.3 .4-.4 1 0 4.8 1.7 1.2 .7zM258.3 185.4l-.4-.1 .1-.2zM296.3 189.3l-3-.1-.6-.4-.1-.5 1.5-2 1.2-.4 1.4 0 .5 .4 .6 2-.5 .8zM186.5 193l5.2-.8 5-1.2 4.6-.5 1.5-.5 .6-.7-1.7-1.1-2.4-.2-2.3 .4-3.3 1.3-6.4 1.7-5-.3-2-.4-2.6 .3 1.3 .7 4.3 1.2zM290.3 194.3l-2.3 .3-2.1-.3 .1-.4 .7-.3 3.3 .3 .2 .1zM295.7 196.3l-1.4-.2-.8-.4-.5-.7 .1-.3 1.6-.3 1.3 .2 .3 .4 .1 1zM227.7 210.3l6.3-.1 5.7-1.2 3.3-.1 1.3-.7 1.1-1.2 0-.7-.7-1.1-1-3.2-.4-.6-5.3-.7-5-.2-.7-.2 0-.6-1.3-.7 0-.4 1.1-.6 4.6-.6 1.4-.7-.1-.5-.8-.5-1.9-.5-3.6 .5-8 2.2-1.4 .8-3 2.8-.9 .5-3.1 .6-4.6 .3-3 .6-1 .4-.5 .8 0 .6 .8 .8 7.3 1.6 2.4-.1 1.6 .3 .6 .4 .3 .7 1.5 .8 1.6 .1 2 .7zM76.3 203.4l-1.6 0-4.4-1.1-.9-2-.1-.6 1.5 0 3.2 .9 2 .3 .9 1.4 0 .7zM180.3 207l1.1-2 .1-.7-.1-.3-1.1-.6-1-.1-1 .1-1 .6-.2 .3 .1 .7 1.5 1.8 1 .4zM57.1 205l.2-.3-.2-.4-1.1-.3-1 .2-.3 .5 .3 .3 .7 .2zM35.7 232.3l-.4-.3-3-.5-1.6 .5 .3 .3 1.3 .3zM84.2 237.7l.7-.4-3.2-1.5-1-.1-.9 .3 .2 .7 1.3 .8 1.4 .2zM12.7 238.8l0-.5 .2 .4zM26 239l-.6 0 .2-.3 .8-.4 .9-.1 .5 .1zM76.4 239l.3-.3-.7-.4-1.3 0-.3 .4 .6 .3zM191 240l-2 .2-1.4-.5 .2-.4 .8-.3 2.1-.5 1.3 .1 1.1 .4-.1 .3zM249.7 240l-1.7 .2-.7-.2-.2-.3 .3-.4 1.6-.2 .6 .2 .2 .4zM204.3 242.4l-3.3 .1-.9-.8 .1-1 .2-.4 1.3-.3 5-.3 .2 .3-.1 .3-.7 1zM228.7 241l-1 0 .1-.3 .5-.1 1-.2 .3 .3zM512.7 249.8l-3.1-.1-1.2-.4 .3-1.6-.7-1 1.2-1.7-.2-.3-.9-.4-4.3-1.3-.7-1 .3-.7 1.3-.4 2 .4 4.2 2.4 1.1 .9 1.1 .4 0 .3-.6 .7-.2 .7 1.1 1.3 .2 .7zM193.3 243.1l-.6 .1-1.5-.5-.5-.4-.3-.6 .5-.4 .8-.1 1.6 .2 .4 .9zM209.7 244l-.9 0-.7-.7 0-.3 .6-.3 .6 .1 .5 .5zM66.3 244.7l-.9 0-.3-.4 .2-.3 1.1-.3 .3 .3zM99.2 246l.1-.3-1.3-.3-1.7 .3-.1 .3 1.8 .2zM503.7 248.1l-.7 0-1.4-1.4-.3-1 1.7 0 2.5 1 0 .3-.4 .3zM522.7 249l-.7 .1-1-.4-.7-.5-.2-.5 .6-.4 1.6 0 1.4 0 1 .4-.4 .6zM526.7 250.4l-1.4 .1-.6-.2 .3-.3 2.3-1 1.7-.4 .3 .2-.3 .9-.7 .3zM508 250.9l-3.9-1.2-.4-.4 .6-.2 3.4 .5 .3 .3 .2 .8zM182.3 254.2l-1.5-.2-.2-.3 1.7-.1 .2 .4zM216 261.4l-1.3-.5-.6-.6 .3-1 1.3-1.4 1.1 .8 .4 1-.2 .9zM225.3 266.4l-.3 .1-.2-.5 .7-1.7-1-2.3 .5-.7 1-.6 1.3-.1 .7 1.1 .2 1.3-1.2 2zM116.8 265l.9-.3 .5-.7-.2-1-.7-.4-2-.1-2 .3-1.4 .5-.7 .7 .4 .7 1.1 .3zM115.1 269l.8-1-.6-.2-1.4 .2 .5 1 .3 .2zM226.7 268.9l-.7-.2 .2-.4 .5 0 .3 .4zM226.3 272.7l-.3 0-.3-.5 .9 .1 0 .4zM106.3 279.3l-.6 0-.6-.3-1.3-2.3 .1-.7 1.1-1.3 .7-.1 .6 .1 2.2 1.3 2.3 1-.8 1.4-.7 .6zM174.1 284l.5-.3-.6-.4-1.3 0-.7 .4 .7 .3zM125.4 284.3l-.1-.3 .1 .3z" stroke="#f0f030" stroke-width="0.6" fill="#8c8c2c"/>
<path d="M108.3 284.1l-1.9-.8-.1-.3M116 282l1 .4M121.7 282.3l4.1-.6 .4-.4-.5-.7M116.7 273.8l-1-.5-.4-.6-.3-2.4 .4-1M116 267.2l-3.1-.9 .1-.3 2.3-.4M106.5 248.7l.4-.7-.1-.3-2.1-.2-1.4 .3-.9 .9-1.1 .4M96.3 251l-1.1 1M85.7 244.7l.6-1 1.4-.8 0-1.2-.4-.5-1-.3-1.3 .3-6-.8M68.7 241.2l-2 .1-1.1-.3-.2-.3 .1-.4 1.3-1 .1-.3-.4-.3-2.8-.3-3 .4M54 237.8l-1-.8 0-.7 .6-.6 1.1-.5 1.6-.2 3.4 .5 1-.2-.4-1.2-.6-.5-5.4 .2M40.4 233l-2.4-.8M29.5 232l-.4 .3 0 .4 .9 .5 7 0 1.3 .3 1.2 .8 .3 .7-.3 .7-.8 .4M32 236.4l-1-.2-.9-.5-.2-1.7-.6-.6-2.7 .3M47.7 210.8l.7-.8 0-.3-.9-.7 0-.3 .3-.4 1.9-.4 .6-.5 .5-.7 0-1M52 204.9l1.7 1 2.3 0M56.7 205.8l1.6-.5 .7-.6 0-.4-1.9-2 0-.3 .2-.1 1 0 .7 .8 .7 .3 1.6 .2M62.7 203.5l.5 .2 .2 .3-.5 .7 .3 .6 2 1.7 .1 .3-2.6 1.1M64 208.8l1.5-.1 .9-.4 .3-.6 .6-.2 1.4 0 3.6 .5 5-.6 .4-.1 .2-.6 0-.7-.5-.7 .1-.3 1.5-.7M86 204.3l.5 .7 .2 1M95 206.1l1.1-.4 .7-1M97.7 201l-.2-1-.5-.8M108.7 193.2l1.4-.9-.2-2 .8-.8M115 181.8l1.7-.8-2.4 0M104.7 181.9l-3 .8-3.7-.8-3.7 .2-4-.2-.2-.2 .3-.7 1.1-1.7 .5-.2M94.7 179.1l2.6-.2 2.6-2.2 1.8-.6 2-.2 2 .4 .8 1.4 .8 .4 8.4 .3 0-.4-.7-1.3 .2-.7M116.3 171.7l-1-.5-1.6 0M112.3 171.3l-2.3 0M114.9 168.3l.8-1M116 163.5l1.7 1.4 .6 1.4 .8 1 0 .4-.4 .3-3 .8-.9 .5 0 .4 .5 .6 1.7 .5M123.3 164.3l-.7-.6 .1-1M130.1 154.3l-2.4-.5-4.4-.3-5.3 .4-.7-.4-.6-1.2M117.9 150.7l1.4-1.5 .7-.3 6 1.2 2-.4 1.6-.7 .1-.3-.2-.4-4-1.6-.8-.7 .6-.7 1.7-.6 .1-.7M121.7 141.4l-.8-.4-.1-.3 .6-1-.2-.7M120.2 134.7l-.5-1.4M119.3 128l2.7-.7 2 .4M125 127.9l3 .4M128.8 126.7l-.1-.7 .3-.6 1.7-.4M133 124.1l1-.7 1-.4M138.3 121.7l.8-.4-1.3-.6-.5-.7M130.3 118.3l-2.3 .8-1 0-.7-.3 0-.5 .5-1.3-.1-1-1-1.9-2-.6-.3-.2-.1-.3 1-.6 1.4-.1M135.3 99.1l-.6-.4 0-.4 1-.7M133 89l-1-.5-.3-.5 .3-.5 1.4-.5-.1-.3-1.6-.2-1 .3 0 .9 .9 2 1.4 .8 3.3 1.1 1.4 .7 .6 .7-.1 .3-.5 .5M132.3 94.7l-1-.1-.5-.3-.5-1.6-.6-.7-1-.2-2.4 0-.2-.1 0-.7M125.9 89.7l.5-1.4-1.4-1.3M126 85.7l2.3-.2 1.4-1.6 1.3-.6 1.7 0 3.6 .6 1-.2 .7-.4-.1-.3-.9-.2M129 80.6l-1.3 0-.1-.6M125.5 75.3l-.5-1 .1-.6M124.3 70.4l-2 .1-1.5 .8 .1 .7 .7 1.3-.3 .4-1.3-.3-2 .1-1.5-.2-.6-.3-.5-1-.7-.7 .3-.3 .7-.2 3.6-.3 2.4-1.2 1.6-.1M129.9 63.3l-.1-1.6M128.3 55.8l-.3-.1 0-.4 1.7-1M130.3 54l1-1.1M132.5 51l.5-.3 1.3 0M134.7 47.4l-1.4 .1-.6-.3M139.7 17l-.6-2 .2-.2 1.7 .4 .3-.2-.2-2.3M141.3 10.7l-.5-1 1.1-1 .1-.7-1.7-2M134 5.9l-1.7 .9-2.6-.6-3 1.4M123.3 7.1l-1.3-.6-2.4-.2-.6-.4M158.3 15.3l.5 .7-.8 .7M160 24.7l.8 1.3M159.3 29.6l-.6 .7 0 .7M161 33.5l-2 .5 0 .3M159.3 38.9l2.4-.4 1.3-.7M163.3 39.1l-4.6 2.3M158.6 44l.7 .7 0 1 .9 1 .5 1M162.5 50.7l-.1 1-.7 1.3M191 67l2.2 .7 2 1.3 .2 .3-.1 .7-.6 .5-1.4 .5 .4 .8 1.3 0 0 .6M191.3 73.9l-.4 .4-.2 1-.4 .4M189.7 75.9l-1.8-.2-.1-.4 1-1-.1-.1-2 .5-1.1 .6-.6 .9M163 85.1l1.7 .5 .4 .4-.1 1-1.5 2.7M164 91.2l1.3 .3 .8 .8M166.3 93l-.2 .7-.4 .5-1.9 .5-.5 .3 1 .1 1.4-.3 .6 .3M175.7 109.3l1.6 1.5M186.7 135.8l-2.7-.8-.9-.7-.4-.6 .2-.7 .8-.5 2.6-.2M165.3 142.2l1.7-.5 1.5 1-.5 .4-1.7 .3-.1 1.6M168.7 153.7l1.9 .6 .1 .4-.7 1M170.5 157l.5 1 1.7-.4 1 0 1.7 1.4-1.1 .3-3.3-.3M170 162.2l3.3 .9 1.7 .1 3.3-1.4 3.4-.2 1-.9 0-.7 1 .1 .6 .6-.6 .7-2.4 .3-2.3 1-.7 .6-.6 1.1M176.8 165.7l-.8 .7-.7 .2-3.6 0-2.7 .4-1.3-.3-1.4-.8-.4 .1M166 166.7l.5 .6 .1 .7M168 169l1.7-.7 1.2 0 .3 .4-.8 .6 .6 .7M174.7 174.2l1.6 .2 1.4-.3 .3 .2 .5 .7 0 .3-1.6 1.7 2.1 1.4M179.7 178.6l2 .7M184.7 180l.8-.7 0-1 .5-1.3-.1-.7 .4-.2 2.4-.5 1.6-.1 1 .3 1 .8 2.4 .2M214.2 171.7l-.6 1 .1 .3M230 170.4l1.9-1.1 .8-1M256.7 151.2l1.6-.2 .2-.3-.2-.7 1-.4M262 149.2l1.7 .3 .5 .5 .3 .7 1.5 0M270.3 150.2l1.1-.9 1.6-.5M275 148.5l3-.3 .4-.2 0-.3-1.6-1 .5-.4 1.7 0M345.2 117l.5-1M346.3 115.5l1-.7 1-.3 2.7 0M368.3 107.5l1.4-.3 3 .2M373.3 106.8l-3-.6M366 100.1l-.3-.8-.4-.1-.9-.2-1.4-.7-1.8-.3-.4-.3 .5-.7 .7-.1 3 1 1 1 .7-.1M457.3 69.5l1.7-.2M465.7 66.1l.7-.8 0-1M473.3 62l.7-.5 1.7-.4 .6-.8M504.3 49l2-.2M522.3 41.1l1.4-.9M540.2 41.7l.6 1.3M299.8 164.3l1.5 .7M300.7 165.4l-2 .6-.7 .7 2.1 .6M300.1 168l-2.7 1.3-.5 .7 2.4 .5M252.5 193.3l0 .7-.6 .7M249.8 197l.9 .3 .1 .4M185.3 243.6l-.1 1.1M183.3 263.6l-1.1-.3-.3-1-.6-.3-2-.5-1 .3M177.9 263.3l.9 1 .2 1.4 1.3 1.6 .3 1.7 .7 1 0 .3-.9 .7-1.4 .6-1.8 .1-.3 .3 0 .3 1.1 .1 .7 .3 .3 .6-.1 1.4 .5 .6 1.3 .5 2.1-.1 .3 .6M182.3 278.5l-2.6 0-2.4 .3-1.6 .4-1.7 .8 0 .5 .7 .4 3.6 .6 1.4 2.2M134.7 8.3l-1.7-.3-.4-.3 .4-.3 1 .3 .8 .3zM162 23.4l-.7-.1-1.3-1-.4-.6 1.1-.5 1.3 .3 1.1 1.2-.2 .3zM543 43.5l-1.2-.5-.7-.7 0-.3 .6-.7 2-.2M121.3 55.9l1-.2 .3 .3-.3 .4M103.7 72.8l1.6 .2 .6 .3 .1 .5M158 87.4l.3-1.7-.3-.2M151.2 87.3l.5 2.4 .3 .4 .4-.1M143.7 87l-.5-.3-.9-.2-2.4 .2M239 105.9l-1.3-.4-1.2-1.2M246.3 101.6l1 .3 .5 .4M325.5 98.3l-3.2 1.7M120.7 103.4l-1 .2-1-.6 1-2.8M124 101.7l.2 .6-.4 .4-3.1 .7M479.7 101.2l1.3 .5M121.7 108.7l-1.8-.4-.2-.3 .1-.7 .9-.6 1.3-.2 1.7 .3 1.1 .5 0 .4-.8 .5zM346.3 113.7l-2 0-2-.2-1.3-.5 .3-.4M346 112.5l1 .8-.7 .4M117.7 115l0-.3 .4-.4 1.6-.1 .8 .5 0 .3-.3 .7M127 125l-1 0-.2-.3 .5-2.3 .4-.4 2.8 .3 .8 .4-1.6 1-.5 1zM224 133.8l-1.4-.8 0-1-1.3-.5M222.7 128.1l1.6 .8 2.6 2.4 .8 0 2.6-1.1M399.3 129.7l-1.3 0-1.5-.4M398.3 128.8l1.1 .2 .3 .3-.4 .4M125.4 138.3l-.1-.7-.4 .4 0 .3zM243.3 143.7l-2.9-.4M246.9 142l-1.9 1.4-1.7 .3M333.5 141l.2-.3-.4-.5-.6 .1-.4 .4 0 .3 .4 .1zM239.3 144.9l3.7 0 2.3-.8 2.4-.1M191.7 145.7l-.4 .3-.6-.4-.3-.6 .3-.4M261.7 144.8l2 .5-.7 .4M214.7 154.3l-2-.2-2.4-.8M211.9 150.3l2.4-.4 .5-.2 .1-.4-.5-1-2.1-1.1M218.4 148.3l-.8 .7-2.3 .8-.2 .2-.1 .7 .3 .6 1 .8 3 .6 .4 1-.4 .4-4.6 .2M213 157l-.2-.3 .4-.7 .8-.4 1 0 1 .3 .8 .8-.1 .3-.7 .4M189.3 159.4l-1.6-.1-.7-.6 .1-.4 1.2-1 .6-1 .5 0M414.5 180.7l1.2 1-.4 .4M409.4 185l-1.4 .8M95.3 175.4l-.1-.1 .1-.2zM91 176.6l.2 .1-.4 .3-1.8 .8M393.3 184.2l-.6-.3-.4-.9-.4-.3M392.3 177.3l2.4 2.1 .4 .6-1 1.7-.2 2-.6 .5M419.7 179l-.4-.3 .2-.4 1.2-.6M89.7 186.7l-.3-.7 0-1.3-.9-1M88.7 182.3l.5 0 .5 1 .6 .5 2.9 1.2 .6 1 4.2 1 1.3 0 .7-.2 .2-.5-.4-1 .9-.4 1.3-.2 .9 .3 .9 1 2.2 1 .7 .7-.1 .3-.9 .3-4.4 .1-1.6 .3M295.3 188.9l-1.3-.2-.2-.4 .3-1 .6-.6M175.3 191.1l1.4 .3M257.3 203.2l-.6-.4-.8-.1M256 201.9l1.3-.3M261.8 205.7l-1.1 .4M94 198.3l0 .4-.7 .3-4 1.4M74 202.3l-1.3 0-1-.3-.9-1.3 0-.4 .5-.1M73.3 200.9l.7 .4 .2 .7-.2 .3M72.7 207l-1.7-.1-.6-.2-.2-.4 .3-.3 1.2-.4 1.6-.1 1.3 .2 .1 .3-.4 .5-.6 .4zM79 235.6l-.3 .4 0 .3 .6 1 .7 .6 2 .3 3-.2M78.7 239.7l.9-.4 0-.6-.9-.6-1.6-.4-2.4 0-1 .3-.7 .7 .8 .6 1.5 .6 1.7 .1zM204 240.4l.7 .3 .2 .3-.3 .7-.6 .3M505.3 243.1l-.6-.4-.4-1M192.7 242.5l-.4-.2 .1-.3 .3 0 .2 .3zM99.3 246.6l1-.3 .4-.7M511 249.4l-1-.4-.2-.3 .3-2.4 .7-.6 .9-.2 .3 .2-.2 1M114 254.7l.3-.4 .7 .2 .4 .5 .1 .7M216.3 259.8l-.5-.5 .2-.4M95.2 263.3l.5-.3 1.1 .3 0 .4-.8 .4M101 270.3l-2.7-.2-3.6-.8-.7-.3-.3-.3 0-.4 3-1.6 1-1.4 3.6 .1 1.7-.8 .7 .4 .4 .7-2.8 .2-.6 .5-.3 .6 1.1 .7 1.5 .2M111.7 268.5l1.3 .3 .8 .9 0 .6-.3 .4-1.2 .3M111.7 266l-.3 0 .5 0zM106 275.2l2.3 1.5 .7 .6-.1 .7-.9 .7M170.9 278.7l3.1-.7 .5-.3-.2-.4-1-.2-2-.1M168 278.6l2.9 .1M126.2 284l.1-1-.3-.3-1 0-1 .7-.4 1.3M175.8 284.3l.5-.3-.3-.7-1-.5-1.3-.3-1.7 .2-1.8 .6-.2 .4 .7 .4M102 284.7l.7-.4 1.3 .4" stroke="#d0d060" stroke-width="0.5" fill="none"/>
<path d="M134.3 5.1l-1.6 0-.9-.4 4.5 0zM176 286l-45.7 .1-1.8-.1-1.2-.5-.5-.8-.1-.7 .8-2-.2-.7-1.6-1.2-.9-1.8-.5-.5-2.3-1.1-1.3-1.4-2.7-1.2-1.7-1.1-.5-.7-.2-2.3 1.3-2.3-.2-.8-.7-.6 1.7-.9 1-1.4-.2-1-.5-.8-2.5-.5 .1-.4 1-.6-.1-1 .3-.7 3.6-3 1.9-.7 3.8-.6 .5-.4-.1-.3-1.2-.5-3-.3-7.3-.2-3.3-.4-.5-.3 .1-.7-.6-.1-1.7-1-.7 0-.6-.8-.7-.1-.4-.3 1.1-1.5 1.2-.8-1.2-.3-4.7-.1-.7-.3-.1-1-2.2-.4-5.7 .3-1.1 .5-.1 .3 .9 .4 6 1 .6 .3 .2 .6-1.2 1-4.6 1.4-.3 .3-.1 2-.3 .2-1.6 .1-2.4-.5-.2-.5 .2-.6 1.4-1 0-.4-.7-.7-.9-1.9-2.5-1.7-.5-.7 .3-.6 1.6-1 0-.4-.7-2-1.6-1.1-.9-1.2-.1-.3 1-1.7 0-.3-.4-.3-2-.2-3-1-3.3 .1-1 1.2-2.7 .7-2.1 1.1-.3 .4 .2 .3 1 1-.4 .3-3.9 .4-1.1-.4 .8-1.3-.2-.3-.7-.4-5.3-.6-3 .8-1.6 0-2.7-.8-.9-1 .4-.7 1.5-.4 1.7 .2 2.6 .8 1 0 1.1-.6 .3-.7-.1-1 .4-.2 2.7 .4 1.7-.2 .1-.3-1.8-.6-3.4 0-3-.4-5.3 .3-2-.3-5 .6-3.7-.2-1.6-.2-1.8-.9-2.4-.6-4.8-.7-3 .6-3.7 1.6-1.7 .4-2-.3-3-1.6-3.6-.3-1.4 .2-1 1-.6 .3 0-21.1 2.6-.5 3.4 .5 4.3-.9 3.7-.1 2.6-.5 4.4-.3 3 .2 3.3 1 4-.4 2.3 .6 1 .1 2-1.2 .3-.6-.1-.7 .2-.3 2-1.8 5-.6 4.3-1.3 1.3 .6 .8 .7 .3 .7-.7 .7-3.1 1.3 1.7 .3 4.4-.3 3-.6 3.6 .1 5.4-.6 1.3-.7 1.7-.1 1-.4-2.8-1.4 .1-.3 .5-.3 1.8-.4 2.4 0 1.3 .2 .9 .8-.2 1 .5 .4 1.5 .2 6.3-.2 2.3-.5 .7-.7 .7-1.8 .7-3.4-.2-.6-1.2-1.4-.1-2 .3-.6 .8-.6 4.3-1.7 2.4-.2 4 .4 2-.5 .5-.4 .2-.7-.7-1.3 .2-.7 1.1-.5 3-.5 .7-.3 0-.4-1.1-1.3-.2-.7 .3-.6 1-1-.7-2.1 .7-.6 3.5-1.3 .4-.7-1.9-1-2-2-.2-.7 .4-1.3-.9-1 0-.3 2.3-2 1.4-.8 2-.6 3-.4 1.6-.6 1-.6 .4-1.4 2.1-1.3 0-.3-.5-.3-4-1.2-.7-.5-.2-.7 .4-.7 .9-.5 4.6-1 .9-.5 0-.6-.8-2.4 1.4-2.3-.2-2-.3-.2-4-.2-6.3 .2-1.3-.4-.6-.7 1-1 1.9-.9 1.8 .2 .5 .3 .7 1.1 1.7 .4 3.6-1.8 2-.4 2 .1 .8-.4 .2-.3-2-1.2-2.3-.1-2.8-1-.5-.4-.1-.3 1-.7 .1-1.3-1-1.8-4.5-1.2-.2-.3 .2-.4 .8-.6 2.7-.7 .4-.7 .3-3-.7 .2-.7 .8-2.3 2.2-.7 .1-.7-.2-.8-.7-.3-.7 .7-2.7-.7-1.6-.2-1.8-.3-.6-1.5-1 0-.3 2.8-.7 2.7-.3 2 .7 .1 .3-.1 .7 .3 .3 .7-.1 1.5-.9 .6-.7 .9-2.4 3-1.1 4-2.1 4.4-1.7 0-.3-.4-.2-2.4-.6-4.6-2-2.7-.5-2.3 .5-.3-.2-.2-1-1.8-2-.1-1.7 1.4-2.7 .1-2 1.1-2 3.9-2.6 1.8-2.4 2.1-1.3 .1-.3-.9-1 .1-.4 3.3-2.2 1.1-1.8-1.4-3.4-4-1.3-2.3-1.2-.3-.4 3.3-1.3 8 1 .7 0 .4-.4 0-.3-.5-.7-1-.3-4.6-.1-3.4 .3-3.6-.3-1.4-.6-.1-.3 .1-.5 1-.6 1.7 0 5 .9 1.2-.5 1.2-1-.7-.4-2.7-.4-2-.7-2.7-1.2-3.6-.6-.7-.5-.6-.8-.1-1.1-1.3-1.6-.5-2 .3-2-.8-2.3 1-.9 2.1-3.1 2.4-2 0-2.7 2.4-1 .3-.3-1.9-2-.8-1.7-.9-.7 2.1-1.6 .6-1.5 .7-.8 4-.3 .7-.4 .2-.4-.3-1-1.6-2.1-.7-.3-2 0-3.3-2.8-1.3-1.8 .2-.3 .4-.2 1.7-.3 4.7 .5 .6-.2 .1-.5-.4-1 .2-.6 3.3-3 1.3-2-.1-.7-.8-.7-.6-1.1-1.6-1.2-.1-.3 1.7-1.4 1-1.4 3.3-1.9 .6-.7 .1-2.3-1.9-3-.2-2-.2-.5-1.5-.2 .2-.5 1.6 .1 .3-.6-1.1-3.3 .4-1.7-.2-1.3 .9-1.3 .1-.7-.5-2-.8-1.3 13.4 0 2.1 1 1.4 1.6 .3 2-.8 2.7-.3 3 0 2-.6 1.7-.1 .6 .3 1.4 1 1.6 .2 1.4 1.2 1 .7 1.6-1.3 2.7-.6 .4-1.3-.1 0 .4 1.2 1.6 2 1.4 0 .3-.9 .3-1.6-.2-.2 .2 .2 .5 1.5 1.5-.1 .7-.8 1.7 .1 1 .6 .8 1.1 .2-1.8 1.1-.5 1.2 0 .7 .6 2 0 1 .9 1 .4 1.4 1 .7 1 1.5 0 .7-.9 .7 0 .6 .7 1.7 1.4 2 1.1 .8 1 1.4 1.9 1.5 .1 1.3 1 .7 6.6 2.3 4.4 2.8 4.7 1.1 1.6 .8 2.4-.1 1.5-.9 1.1-.3 .5 .3-.1 .3-.7 .5-1.3 .5 .1 .3 2.9 1.1 .8 .6 .4 .7-.2 .7-1 .7-2.4 .3-4.3 1.2-1 .7-1.7-.3-7.6 .6-3 .7-1.7 .1-1.3 .4-3.4 1.8-.7 2.1-1 1.3-3.9 2.5-4.4 1.2-4.3 .5-.6 .5 .2 1.3-.3 1.3 1 1.7 .2 2.3 .8 .9 1.4 .4 .6-.3-.9-1-.8-2 .7-2 2.7-1.2 2.7-.4 .4-.4 0-1.3 .9-.6 2-.1 2 .8 .3 .6-1.3 2.5 0 1.1 1 1.7 1 .4 .1 .6-.8 .7-2.3 .9-.4 .4 0 .3 2.1 .5 2.6-.1 1.7 .6 1.1 1 .3 1.4-.4 .4-1.7-.1-2-.7-.7 0 3.6 3.7-.1 2.3 1.4 3.4 .8 .3 4 .5 1.8 2.5-3.4-.1-1.2 .4 0 .4 2.2 .4 3.6-.3 4 .7 4.4 1.9 1.8 2.6 .3 1.3 .7 2 .7 3.7-.6 3 .4 2-.6 1.7 .2 2.3-1 1.3 .3 1-.2 .7-.4-.1-.6-1.1-1.4-.1-1.1-.7-.1-.3 .4-.4 1.5 .1 .7-.3 .9-2.1-.3-.7-1.4-1.3-.2-1.5-2 0-1 .8-.9 1.4-.5 1.3-1.1 1.3-.1 2-1.5 2 .6 3.4-.5 1.6-1 .4-3.4-.4-.4-.6 .1-1 1.3-3-.8-3 .4-2.4 1.6-2 .8-2.3-.2-1-.8-.3-1.5 1-1.8 2.3-.4 1.3 0 1.7-2 4 .4 3-1.2 1.7-.8 .2-2.3-.4-1.1-.8-.5-1.4-.8 0-.1 .4-.1 3.3 1.1 1 .7 1.3-.2 .7-1.7 1.7 0 1.3 2.7 4.7 1 1.2 1.5 .8 0 .6 1 2-.2 2.4-1 2.3 0 .6 1.3 .5 3.7 .7 1.7 .1 1.3-.4 .1 .2-.4 1.2-1.4 .8-5.3 .3-1.3-.1-.7-.2-.1-.4 .2-1.3-.4-.4-.7 .1-1 .8-.7 1.2 0 .6 .7 1 .2 1 .8 .8 2.7 .7 1 .5 .6 .7 .6 2 .8 1 3 1.3 .2 .4-.3 .3-1.6 .3-.1 .4 .3 .3 3.1 1 3 1.5 2 .8 2.7 .2 1.3-.4 .3-.4 .2-1.7 1.2-.8 .7 0 3.6 1 1-.2 .7-.7 1.6-.3 .3-.3 .1-1 1.3-1.7 .8-1.7 1.9-1.9 1.4-.4 1.6-.1 5 .8 1.3 .6 1.7 2 2 .3 1.7-.2 2.6-.6 2.7-.2 3.3-.7 6.4-.8 5-2.4 .9-.7 4.1-1.6 .2-.4 .1-1 1.5-2 1.3-2.7 3.5-2.6-.1-1.4 .3-.6 1.6-1.4 3.9-1.9 2.7-.7 5.6-.3 2 .2 6.4-.9 2 0 1-.3 .6-.7 1-.4 1.7-.3 2.7 0 1.3-.7 2.3-2.9 1.7-1.5 1.1-.6 5.8-2 3.6-.6 1.8-1.1 4.6-1.3 1.8-1 1-.2 .8-.4 5.2-1.2 6.3-.6 1.3-.5 2.7-1.7 3-.6 4-1.3 2-1.1 4-1.6 .6-.8 1.5-1 2.3-2.3 .4-1.7 1.2-1.4 4.1-1.9 3.6-1.3 .3-.4 .1-1 1.2-1 1.7-.4 4.3 .3 6-1 1.7-.6 1.1-.9 2.9-1.5 1.3-1 1.2-.5 .7-.7 .4-1 .4-.3 5 0 2.8-.7 .3-.7-.8-.8-3 .6-3.6-.6-.7-.5-1.9-2.7-.6-2.6 1.8-1.7 .9-1.3 .8-.5 1.3-.3 1.6 .4 1.3 .7 1.5 1.3 .4 .7-.1 1.7 .5 1.6-.3 1.7 .5 .5 .6-.1 2.4-1 2.6-2.4 .3-1-.4-1.7 .4-.6 2.4-2.5 2.1-1.2 1.6-1.4 3-.1 4.3-1 1.7-1 2.6 0 2 .3 2.4-.1 2.6-.9 4.4-.5 1.9-1 1.7-.3 3.4 .6 6-.1 6.3 .8 1.3 .7 2 2 2.9 1.3 6.5 .6 4.3 1.6 5 1.3 2.2-.1 1.1-1 .2-1 1.2-2.4 .3-1.3-.3-1.7-1-.9-1-.1-2.5 1.4-2.5 .7-1.4 .1-3.3-.5-4 1-3 .1-1.7-.2-1.4-.6-.4-1 .4-1.3 1.1-1.2 2.5-1.1 .3-.4 .2-1.3 .4-.7 2.9-1.7 1.2-1.3 6.5-2.5 1.4-1.5 2.5-1.6 2.7-2.4 .6-.6 .5-1.1 3.3-2.7 .7-.4 3.6-1.2 .7-.6 .8-1.4 3.2-.5 3-1.5 2.3-.7 .8-.6 .4-1 .8-.5 1.4-.4 1.6 .2 1-.2 4.7-2.2 2.3-.1 5.4-.8 5-1.5 3-1.8 1.1-1.4 3.9-2.5 1.6-1.6 4.7-2.4 2-1.7 2.3-.8 5.4-1.1 .7-.9 1.9-.9 1.7-.2 5.7 .4 3 .6 2.3 .9 .7 .6 .9 2.3 .2 3.3-2.4 2-.4 1.7-3.9 2.3-4.8 1.1-2.6 .2-2.7 .7-2.3 1.6-5 1-1 .4-1.1 1-1.1 .4-2.2 .2-3.6-.2-.2 .3 .6 .7-.4 .7-1.4 0-.3 .3-1 .1-2.4 2.2-2.4 1-.5 .7-.5 1.6-2.9 1.1-1.6 1.7-2.1 .9-1.4 1.7-2.9 2.3-6.3 1.9-1.2 .8-1.8 1.6-3.3 .9-2.3 1.5-1.1 .3-4 .4-2.6 1.4-2.4 .8-3 1.6-1 1.1-.3 1 .3 .3 2.4 .1 1.3 .8 .4 .5 0 1.7-.5 1-1.8 1.3-.3 1.7-1.6 1.3-.9 1.9-.5 .4-1.5 .4-3-.3-1 .4-2.3 .1-.3 .3-6 .2-2 .7-.7 1.2-.5 .4-3.5 .7-4 .6-6 1.5-.9 .5-.5 .7 0 .6 .7 .7-.3 1-2.9 2-3 1.3-1.8 2.4-1.5 1.3-3.8 1.7-2.3 1.4-3 .6-.7 1-1.1 .6-1.9 .4-3.7-1.3-6-1-.6 .1-1.7 1.1-6.7 1.9-1.6 1-1 .7-1.3 1.5-1.4 2.3-.1 .7 .4 1-1.2 2 .7 1 0 .3-.5 1.3 .1 1.4-.5 1 0 1.6-2.2 1.7-.7-.1-1.3-.9-1.3-1.7-.3-.6 .1-1.4-.2-1.3 1.1-2-.3-1.7 .4-1.3 1.1-1 .1-2.7 .4-1.6-.5-.7-1-.3-.6 .4-.5 .9-.2 3.7-2 1.2-1.8 2.4-.4 1 .5 1.4 0 .6-1.3 1.4-.3 2-1.7 1.3-1.7 .8-5.6 .4-3.4-.8-6-.3-2.6 1-.6 .9 .2 1.7-.5 1-.1 .6 .7 1 1.1 1 .3 .7-.8 2-1.7 1.3-5.7 2-4.6 1.1-4.7 1.6-4.6 .7-2.4 .1-2-.3-4.3 1.2-1.6 .6-.5 .7-1.9 1.4-3.7 1-2 1.1-2.3 .3-2.6 1.2-3.1 .8-.3 .5 .5 .7-.3 .3-2.5 1.1-5 .2-5.1 2.1-6.9 .8-4.4 1.4-.9 .8-.7 2.3-2.7 2.3-1.5 2.4 .1 1-.3 .5-1.6 .5-4.7 .1-2.3 .7-2.8 1.5-.8 1-2.4 1.2-1.6 2.1-.3 1 .1 1.4-.7 2.3-.1 1.7-2.7 2.6-.4 1.2 .1 2.2-.8 1.1-.2 .9 .7 2.3-.2 2.3 .5 1.4-.4 1.3 .6 1.3 1.4 .8 2.3 .6 4.7 .3 5.6 .8 4-.4 6.7 .2 3.3 .6 5.7-.4 8.7 .4 4.3-.2 3.7 .5 3.6-.3 3.7 .1 3 .5 5-.3 1 .2 .8 .6 2.2 .1 .3 .3 4-.1 5.7-1.1 5.3 .6 4.4-.5 8.6-.3 8 .9 4.4 .2 5-.3 1-.4 1-.8 .6-.2 2.4 1.3 2-.1 .6 .2 3-.5 8.7 .8 5.3-.1 1.3 .4 .8 .6 1.6 .2 5.3-1.2 4.4-.3 3 .1 3.6-.6 3.7-.1 1.2 .3 1.1 .9 1.4 .6 1.3 .2 4.3-.5 4 .5 1.7-.3 3-.9 8.7-.5 7.6-.1 8.4 1 2.3 .1 4.3-.2 4 .6 10-.2 7.7 .5 1-.1 2-.8 1-.1 1.3 .2 1.7 .7 6.3 0 5.7-.1 8-.9 5.3 .5 4.4-.4 3.3 .5 4.3 .1 5 .6 4 0 3.7 .4 4.7-.2 3 .3 1.6-.2 2.4-.8 4.3-.3 2.7 .4 6 .3 5-.3 .6 .4 1.4 0 .3 .3 1.3 0 .4 .2 3.6-.5 10 .2 4.4-.3 4.3 .4 6.3-1.4 5.7 .8 3.4-.6 4.6 0 0 13-1.3 0-2.4-1.1-2.6 .3-8.7 .2-3 .6-4-.3-12.7 .6-15.6-1.2-6 .9-7-.6-3 0-3.4 .6-4.6-.7-4.7 .3-5-.3-1 .1-1.7 .8-1.3 .1-3-.3-1.3-.5-1.7-.1-.3 .3-1.4 0-.3-.3-1.7 0-.3-.3-1 0-.3-.3-3 0-3.4 .4-2.6-.1-2 .3-4.4-.5-7 .4-3-.2-7.8 .9-9.2 .5-2.3-.3-3.7 .1-4.3-.4-4.3 .1-3.2 .3-4.5-.1-1.3 .3-.4 .2-3.3 0-.3-.2-7-.1-.4-.3-1.3-.1-2.7 .5-3.3-.2-4.7 .1-4.3 .8-16.3 1-3.4-.1-2.6-.9-2.7-.1-1.3 .1-2.7 1.3-1.3 .2-4.7-.6-5.4-.1-2.3-.6-1.6-.8-2-.3-1.4 .2-1 .5-.6 .1-.4 .3-2.8-.1-1.8 1-.7 .1-4.3-.4-5.7 .6-7.7-.6-8.3 1.2-9.7-.6-3.6 .7-4.7-.7-14 .1-3.7 .1-2 .5-4-.3-4.6 .5-5.7-.2-6.3 .9-5.4-.1-5.6-.6-7 .4-5 .8-6.4 .4-2-.1-4-1.1-5-.2-8.6-1.1-7 1.2-3.4 1.2-6 .4-7.3 2.3-2.7 .1-6-.6-4.3 .8-6.7 .4-1.3 .3-2 .9-3.7 .5-1.5 .5-1.1 2.4 .7 1.6 1.3 1.7-.3 1-6.4 3.7-7.3 3.3 3.9 2.3 2.7 1.3 2 2 6.4-.3 .8 .4-1.3 2-.1 .6-1.4 1.8-.4 .1-1.3-1-2.7-.5-.6 .3-1.2 1.3-.1 1 .7 1.4 .2 1.3 1.3 1.7-.1 1.3 .6 1.3-1.1 .7-2.3 0-.9 1.7 .2 .3 1.7 .3 .3 .4-.2 1.3 1.3 1.3-.1 .4-1.3 .4-3.7-.6-3.7 .2-2.3 .8-1 .8 0 .6 .3 .2 3.7 .6 1.4 1.6 0 .4-.4 .3-3.9 1.3-.2 .4 1.4 .6 1.7 .5 5 .3 .7 .2-.4 .7zM544 43.1l-1.1-.4-.2-.4 0-.3 1-.3 1 .1 .1 .2-.1 .5-.4 .5zM205.7 67.8l-.7 .1-.7-.6 .3-1.3 .7-.7 .7 .3 .2 .7-.1 .7zM118.7 72.7l-1.5 0-.4-.4 .1-.6 1.4-.1 1.1 .4 .2 .3zM136 94l-2 .3-1.7-.2-.7-.4-.3-1.7-.3-.5-1-.3-3.3-.2-.2-1.3 .9-1.4-1.6-1.3-.1-.5 .3-.2 .7-.1 2 .6 .6 .5 .3 .7-.2 1.3 1.9 1.6 3.7 .8 1.7 .7 .5 .6 0 .3zM359 96.3l-.8-.3 1 0zM243.7 108.7l-1.7-.2-1-.5-.5-.7-.2-1-.3-.5-3.3-1.9-1-.9-.5-1-.9-.4-.2-3.6 .2-.4 3-.7 2.8 .1 2.2 .8 2.1 1.5 .9 2.2 1.2 1.5 .1 .7-1 1.6 0 1.7-.3 .7-1 .8zM121.3 102.3l-1.2-.3 0-1 .2-.3 1.6 .3 1 .7-.2 .4zM391.3 105.3l-1.3-.3-.5 0 0 .3zM122.3 108l-.6 0-.5-.3 .3-.4 .5-.1 1.1 .1 .2 .4zM165.6 135.7l1.2-4.4-.8-1.9-1-.7-1.3 .6-.3 1 .6 2 .3 2.4 .7 1.2zM224 130.7l-1 .3-1.3-.1-1-.5-.1-.4 1.1-1 1 0 1.5 1 .1 .3zM232.7 134.7l-.7 0-.6-.4-1.5-2.3 .1-.7 .8-.6 1.2-.4 .4 .4 .8 2-.2 1.6zM489.7 138.7l-1.2 0-.7-.7 .4-.3 1.5-.3 1 0 .4 .3 0 .3-.4 .3zM223 139.4l0-.5 .3 .1 0 .3zM333.4 141.7l.9-.7 .2-.7-.1-.3-1.1-.4-1 .2-.6 .9 .2 .6 .4 .3zM243 142.4l-1 .2-.3-.1 .3-1.5 1-.1 .6 .4 0 .7zM246 147.4l-1.7 .1-1.6-.2-2.2-.6-.7-.7 .5-.3 3.9 .3 2.5-1.1 1.3 0 .2 .4-.2 .7-1.1 1zM261.3 145.4l-1.6 .2-1.5-.3 .4-.3 1.1-.2 1.2 .2 .6 .3zM198.7 145.7l-.4 0 .4 0zM216.7 147.4l.2-.1-.2 .1zM261.7 150.7l-1-.1-.4-.3 .1-.3 1.3-.2 .9 .2 .1 .4zM215.3 153.4l-1.3 .2-1.7-.2-1-.4-.4-.7 .8-.9 1.6-.1 2.3 1.4 .2 .3zM266.1 157.7l1.6-.5 1.7-.2 1.8-.7-.4-.3-1.5 0-5.6 1.3-.4 .4 .7 .3zM189.3 158.7l-.8 0 0-.4 1.2-.7 .3 .5zM132.7 164.7l.4-.4-.2-.3-.9-.5-.4 .2-.1 .3 .2 .5zM117.3 167.7l-.9 0-.2-1-.8-1.4 .3-.8 .6 .2 .6 .6 .8 2zM296.3 168.7l-1 0 .1-.4 .6-.3 1-.2 .8 .2zM300 173.3l-1.1 0-.7-1-1.4-1 .9-.5 1.3 .1 1.4 1.1 .5 .7-.1 .3zM407.7 185.4l-1.7 .2-5-.9-3-1-.5-1.7-1.3-1.7 .2-.6 1.2-1-.3-1.7 .3-.7 1.4-1 1.7-.3 4.6 1.8 3.7-1.4 1.3-.1 .8 .4 2.9 3-.1 2 .5 1.3-.8 1-4.6 1.2zM103.7 181.7l-2.4 .3-3-1.1-4 .7-2.6-.2-.5-.4 .8-1.3 .7-.3 5.6 .6 .6-.3 .6-1.4 .9-1 1.3-.6 1.3-.2 1.4 .2 .5 .3 .6 1 1.2 .5 5.3 .2 2.3 .5 1.2 .5 .1 .3-.6 .3-1.3 .3-7 .5zM392.7 182.1l-1.4-.1-.7-.3 .3-1.4-.2-1.3 1-.9 .6 .2 1.5 1.7-.2 .7zM193.6 181.3l.9-.3 .2-.5-2.7-.2-2.2 .4 0 .3 1.5 .5zM98 188.3l-5.8-.6-.9-.4-.3-.3 .3-.3 4 .3 3.2 1zM296.7 188.3l-1 .1-.7-.3 0-.8 .7-.5 .6-.1 .7 1 0 .4zM104.3 187.7l-1.3 0-.4-.4 .7-.2 .7 .1 .5 .1 .1 .4zM185.4 193.7l2.6-.3 1.7-.5 4.6-.6 3-.9 4.4-.6 2.3-.8 .4-.3 .1-.4-.5-.5-2-1.1-2.3-.1-5.4 .3-1 .8-2.6 .7-1.4 .8-2.3 .7-2.3-.1-4-1-2.4 .1-2.3-.3-3.3 .3-1 .4-.2 .4 .5 .5 .7 .2 3.3 .2 1.3 .6 3.2 .5 2.5 .9zM261.7 204.5l-1-.1-2-.9-1.2-.8 .6-1.4-.3-1.3 .1-1.3-1.4-1.7-1.3-2.3 1.6-4.4 .9-.7 1-.4 3 0 1.3 .4 3.1 3.1 .6 1.3 .1 .7-.7 1.6 1.2 1.7 0 .7-.3 .9-1 1.2-1.3 .1-.9 .4zM228.3 210.7l5.7-.2 4.3-.7 1.7-.5 3-.1 1-.4 1.4-1.1 .5-.7 0-.7-.8-1.3-1.2-3.3-.6-.7-8.6-.8-2.1-1.2-.1-.3 .6-.4 3.9-.5 1.3-.3 .6-.5 .1-.7-.7-.6-1.6-.8-1.4-.2-4 .2-2.3 .6-1.3 0-6 2.6-1.3 1.6-3.1 1.9-3.6 .6-3.7 0-3.7 1-.8 1.1 0 1.4 1.2 .8 7.3 1.9 2.7 0 2 1.7 2 .4 2 0 1.6 .5zM180.7 207.7l.5-.7 1.1-2.7-.4-.6-1.6-.7-1.6 0-1.3 .3-.9 .7 .1 1 1.7 2.5 1.4 .4zM382 230.1l-.8-.1 .8-.2 .2 .2zM35.7 235.7l-3.4 .2-1-.2-.3-.4 .1-.3 .6-.4 1.6-.3 2.7 .1 1.5 .6-.2 .4zM203 241.7l-1.3 0 0-.7 1-.3 .9 .3 .1 .3zM508 243.1l-.7 .1-.9-.2-.6-.3-.2-.7 .4-.2 .9 .2 .9 .7zM503.3 247.1l-.6-.2-.2-.2 .2-.3 .8 .3zM512.3 249l-1.2-.3 .1-.7 .5-.3 .8 .3 .3 .7zM111.7 270.7l-2 .3-2.4-.2-11.3-2.1-.4-.4 1-.6 1.4-.4 3.3 .9 10 .6 1 .4 .6 .5-.3 .6zM107 278.1l-1 .2-.8-.6-.3-1 .1-.6 .3-.4 .9 .3 1.1 1 .2 .7zM120.3 285.7l-2 .2-3-.6-3.3-.2-3.6-1.4-.8-.7 2.1-1 2.6-.4 2 .2 2.7 1.2 4-.2 1.4 .2 .4 .7-.3 1-.8 .6zM178.3 283.5l-1.1-.5-.3-.3 .1-.4 1 0 .4 .7zM104 286l-1.8 0 .8-.6 1.3 .6z" stroke="#c0c080" stroke-width="0.5" fill="#707050"/>
<path d="M174 286l-44.8 0-1.6-1-.5-.7 .8-2.6-.4-.7-1.5-1.1-1-2-2.6-1.6-1.1-1-4-2-.8-.6-.3-.7 .2-1-.2-1.3 1-1.7 0-1.7 1.7-2 .1-.6-.6-1.7-1-.7-.4-1.3 0-.7 3-2.7 1-.6 2.4-.7 3.6-.4 .4-.2-.2-.7-.5-.5-1.7-.3-12.7-.8-.4-.1-.6-.8-.6-.1-1-.7-.7-.3-.7 0-.4-.4 .1-.7-.7-.3 .7-.9 1.7-.7 3.8-.7 0-.4-.5-.2-4.3 .1-3-.6-1.4-.9-4-.1-7 .4-1.1 .3-1.2 1.1-2-.3-.6-.4 .1-.4 1.5-1.1 .1-.5-.9-1-.5-1.6-1.9-1.4-.3-1.4 .8-1.3-.2-.7-.4-.2-2-.2-3.4-1-4 0-5.3 2.9-2 .6-5.2-1.1-.9-.3-.3-.3 .2-.7 .9-.6 2.6-.3 1.3-.4 .3-.4 .1-.6-.2-.4-.5-.1-1.3 0-3.3-.4-2.7 .1-1.7-.2-5 .3-2-.3-6 .6-4-.3-2-.9-2.3-.7-5.3-.6-3 .4-5.7 1.8-1.3-.1-1.7-1.2-1.7-.4-2.3 0-2.7-.3-.6 .1-1 .7-.1-5.1 .3-.7-.3-1.3 .1-12.7 2.6-.4 3.7 .5 4-.8 4-.2 6.7-.8 3.3 .4 2.3 .7 2 .1 2.7-.3 2 .6 1.3 .1 2.6-.9 .4-.3 .4-2 1.3-1.3 3-.3 5.3-1.2 1 .1 .6 .3 .3 .7-.2 .3-1.2 .7-3 1-1.4 1 .1 .3 .8 0 1.4-.6 6.6-.3 3.4-.6 6.6-.2 6.4-1.2 2.3-.1 1.7-.3 3 .2 5.3-.2 2.7-.5 .9-1.2 .8-2.3 .1-1.7 .5-1.3-.5-.7-1.2-1 .1-2 .3-.6 5-1.9 2.3-.2 1.3 .3 2.7 .2 1.9-.4 .8-.7 .5-1-.1-.7-.6-.6 .3-.7 .9-.3 3.3-.6 .6-.4-1.8-2 .1-.7 1.2-1 .4-.7-.8-1.6 .9-.7 3.1-1.1 .6-.9-.3-.4-2-.9-1.7-1.7-.3-.7 .3-1.3-.8-1 .3-.7 3.4-2.3 6.1-1.3 1.2-.7 .7-1.3 .5-.5 3-1.7 2.6-.4 .5-.4-.5-1-1.6-.9-.7 .3-1.3 1.5-1 .2-2.9-.5-.8-.3-.7-.7 0-.6 .7-.6 5-1.2 .6-.6-.1-1-.7-2 1.3-2.3 .4-2.7-.3-.3-2.1-.3-.1-.4 .2-.3 1.6-.7 2.5 0 1.2-.6 .4-.7-.6-.7-2-1.2-2.6-.3-.7-.3-.8-1.2-.1-1.6-1.1-1.7-.7-.4-2.6-.5-.5-.4 .8-.7 2.1-.7 1.2-5-1-.1-3 .8-1 0-1.6-2.3-.1-.7 .2-1 .9-1.3 1.6-1.1 .7 0 .3 .4-.5 .7-1.3 .6-.3 .4 .4 .3 1.7 .1 2.4-.3 2.3-2.1 .8-2 .7-.7 2.8-1.1 3.7-1.9 4.3-1.5 .7-.8-.1-.4-.6-.3-3-.6-3.6-1.6-4.4-.9-1.6-.8-1.8-1.4-.2-.7 .1-1.3 1.3-2.7 .1-1.7 1.1-1.8 3.7-2.7 1.8-2.1 2.2-1.5 .4-.9 0-1 .8-1 1.6-1.3 .9-1.3 0-.7-.7-1.3-.3-1.4-.4-.6-3.3-1.1-2.6-1.3-.1-.3 2.7-.8 8.3 .9 1.4-.4-.1-1.4-.3-.4-.6-.3-2.7-.6 .1-.3 .6-.4 0-.3-1.1-1-1.9-.6-3-.4-4.4-1.8-3-.5-1-.4-.4-.6-.1-1.4-1.3-1.3-.5-1.7 .1-2-.3-2 .3-1 2.5-3.6 2.5-2 .2-.7-.2-1.7 .3-.3 2.3-.9 .3-.3-.3-.5-1.7-1.2-.8-1.1 .4-1.7 1.1-1.2 .3-1.5 1-.6 3.7-.8 .6-.9-.2-1-2.4-3-.4-.2-1 .4-.6-.2-3-2.3-.5-.7-.1-.6 .2-.4 1-.3 4.7 .4 .7-.4 .1-.7-.4-1.3 .2-.3 3.1-2.8 1.4-2.2-.2-1-1.3-1.7-1.4-1-.1-.3 1.6-1.3 1-1.4 3.3-1.9 .7-.8-.1-2.3-2-3.3 .5-3.4-1.3-3.3 .4-1.7-.1-1.3 1-1.7-.2-1.3 .4-2.3 11 0 2.5 1.3 1.2 1.4 .3 1.9-.8 2.7-.1 1.7-.3 1.3 0 2.3-.6 2 .4 1.7 .8 1.3 .4 1.7 1.2 1.2 .4 1.1-1.4 1.7-2.7 1.3 .1 .4 1 .6 .5 1-.3 1.7 .1 .7 1.6 1.3 .2 .7-.7 1.6-.1 1 .2 1.4-.7 2.3 .5 2.7-.1 1 1.9 4.6 .5 2 1.9 3.7 1.5 1 1 1.4 1.6 1.3 0 1 .7 .7 .7 .1 1 .7 .6 0 1 .7 4.3 1.4 1.6 1.4 2.1 1.2 4.4 1.1 2.6 1.2 5.7 1.4 1 .5 .4 .6-.3 .6-.8 .5-2.3 .3-5 1.4-2 0-4 .4-3.7 0-1.6 .7-4.4 .9-3.3 2-1 2.5-.9 1-.9 .7-2.5 1.3-2.7 1-3.7 .7-3.3 .3-.3 .3 .1 1.4-.5 1 1.5 2.3 .2 2 .2 .7 1.1 .9 2 .4 .6-.3 0-.4-1.2-1.2-.7-1.8 .7-1.8 2-1 2.6-.3 2-.5 .2-.4-.4-1 .6-.4 1-.1 1.2 .5 .2 .4-.1 .6-1.2 1 1.5 3.4 0 1-.3 .6-2.1 1.7-.2 .3 .1 .4 3.2 .6 2.7 0 1.2 .7 .5 .7-.1 .6-1.6-.7-1.4-.3-1.6 .3-.6 .4 2.5 2 2.1 2 .2 .7-.1 1.6 1.4 3.7 4.8 .9 .5 .8 .1 .3-.3 .2-2.3 .2-2.2 .6-.4 .3 .2 .4 2.1 .6 6.3 .1 2.7 .4 4.3 1.5 .8 .7 .1 1.7 .8 .6 1.4 2.7 .8 4-.6 3 .4 1.7 0 .5-.7 1.3-1.7-1.5 0-1.3-.6-.7-2 .1-1.2 .6-1.6 3.3-1.1 1.3-.1 2-1.5 2 .7 3.4-.2 1-.4 .4-.6 .3-2.7-.2-.5-.2-.2-.3 0-1.1 1.3-2.9-.7-3 .4-2.4 1.5-2 .8-2.3-.1-1-.8-.6-1 .2-1 .7-2.1 2.7-.4 1.3 0 1.7-1.9 4 .4 3-1 1.4-.7 .2-2.6-.6-.6-.7-.2-1.3-.9-.4-.7 0-.4 .7 .1 3.7 1.3 1.4 .6 .9-.3 .6-1.5 1.4-.2 1.4 2.4 4.6 1.3 2 2 1.9 .6 1.1-.2 2.4-.7 1.5-1.1 1.5-2 1.3-1 1.7 .1 .6 .8 1.4 .1 1 1.1 .8 2.7 .7 .9 .5 .9 2.3 1.5 2 0 1.3 .7 .9 3.3 1.1 3 1.7 2 .6 3 .3 2.7-.1 3.6 1.1 2.4-.2 1.2-.4 1.9-1.6 0-.7-.9-1.3 .5-.7 .1-1.3 1-1.4 .8-1.6 2-2 1.4-.4 2.1 0 4.3 .7 1 .7 1.6 1.8 2 .5 8.3-1.2 2.3-.6 5.4-.6 1.6-.4 3.7-1.6 1.9-.6 1.4-1.3 2.7-1 .3-.4 .3-1.6 1.1-1.4 1.4-2.6 1.3-1.4 2.3-1.4 .1-.6-.2-1 .4-.6 1.8-1.4 2.5-.9 .7-.5 2.7-.8 5.6-.3 2 .2 6.7-1 3 0 1.1-.3 .5-.7 .7-.3 3-.1 2-1.1 2-2.6 2-1.9 .7-.3 6-2.1 4-.7 2.3-1.2 3.7-.9 2-.8 1-.1 2-1 2.7-.9 1.4-.3 4.2-.3 2.7-.5 3-1.9 3-.6 4.7-1.6 2-1.1 3.5-1.4 .8-1 1.3-.8 2.4-2.3 .5-1.9 1.2-1.3 2.6-1 2.7-1.3 2.6-.8 .3-.2 .1-1 1-1.1 1.6-.3 3.7 .2 2.3-.2 5-1.2 1-.4 1.3-1 5.1-2.7 1.6-1.9 1.7 .1 2-.1 2.3-.3 1.7-.6 .5-.9-.5-1.3 3-1.5 2.9-2.8 .1-.7-.5-1.7 .4-.6 2.3-2.4 3.8-2.4 2.7-.1 4.6-.9 1.4-.9 7.3-.1 2.3-.8 4.4-.6 3.3-1.2 1 0 2.7 .6 6-.1 6.3 .8 1.1 .7 1.9 1.9 2.7 1.3 7 .7 4.6 1.6 4.7 1.2 1.7 .1 1-.3 .6-.5 .7-1.6 .6-.7 .8-3-.2-1 .2-.7 .6-.2 2.3-.2 1 .4 .8 .7-.1 2.1-1.7 1.3-.7 .9 0 1-.2 .4-1.5 1.3-.8 1.7-.4 .3-1.4 .4-3-.2-1 .5-2.3 .1-.3 .3-6.7 .1-.3 .3-1.7 .4-1 .8-.4 0 .4 .3-1.7 .8-5.6 .9-6.4 1.7-.8 .6-.3 .7-.1 .6 .8 1-.4 .7-3 2-2.8 1.3-1.7 2.3-1.3 1.1-5 2.2-1.4 .9-3 .6-.9 .6-.3 .7-1.1 .6-1 .1-1.3-.7-2-.5-3.6-.5-1.8-.5-1.3-.1-2.4 1.2-6.3 2-2.3 1.3-2 2.1-1.4 2.3 0 .7 .4 1-1.2 1.6 .1 .7 .6 1-.5 1.3 0 1.4-.5 1 0 1.6-1.8 1.3-.7 0-.9-.6-1.6-2.3 0-1.4-.2-1.3 1-2-.3-1.7 .7-1.2 1-.8 0-2.6 .5-2-.5-.9-1.4-.4-.6 .3-.5 .6-.8 4.4-1.7 1-2.2 3.3 0 .7 .5 1.3-1.3 1.7-.4 1.6-.5 .7-2 1.3-1.5 .4-4.6 .2-1-.5-2-.3-6.4-.3-2.6 .7-.9 1.2-.1 .6 .3 1.4-.5 1-.1 .6 .3 .7 1.7 1.7 0 .6-.6 1.4-.6 .6-2.4 1.4-6.1 1.9-7.7 1.9-4.7 .8-4.3 0-5 1.3-1.6 .7-.9 1.4-.8 .5-3.7 1-1.7 1-2.6 .4-2.7 1.2-3.3 .9-.4 .3 .2 1-2.2 1.1-5 .3-5 2-6.6 .7-3.7 1.1-1.3 .7-.5 .4-.9 2.7-2.5 2-1 1.7-1 1 0 1.3-1.1 .4-4.7 .1-2.3 .7-3.4 1.7-.9 1.1-1.7 .8-2 2.5-.2 1 .1 1.4-.8 2.3 0 1.3-2.6 2.7-.6 1.7 .2 1.6-.8 1.4-.2 1 .6 2.3-.1 2.3 .4 1.4-.2 1.3 .5 1.3 1.7 1.1 3.6 .9 5 0 4.4 .7 4-.4 5.6 .1 2.4 .5 1.6 .1 5.4-.3 8.6 .3 4.4-.1 4 .6 4-.4 8.6 .6 2.7-.2 1.7 .7 2.3 0 .3 .3 2 0 .4 .2 1.6-.1 5.7-1.3 5.3 .7 4.7-.4 9-.4 9.3 1.1 5.4-.1 2.6-.3 2-1.2 1.4 .9 1 .3 .3-.3 2.7 .3 3-.4 8 .8 5.3-.2 1.1 .3 .9 .7 2 .2 4.2-.9 3-.4 5.5 .1 3.6-.7 3.7-.1 .7 .1 1.6 1.2 2 .7 4.4-.5 4.3 .6 2-.2 3.3-1.1 8.7-.5 8.3 0 8.4 1 5.3-.2 4.3 .6 9.4-.2 9.6 .4 1.7-.7 1-.1 1 .2 1.7 .7 2.3-.2 9.7 0 7.6-.9 6 .5 4.4-.4 4 .6 4.6 .1 4 .6 3.7-.1 3.7 .4 5.3-.1 2.7 .2 2-.2 2-.8 4.3-.3 3.3 .4 5.4 .2 4.6-.3 1 .5 .4-.2 1 0 .3 .3 1.3 0 .4 .3 .6 0 3-.4 10 .2 4.4-.4 4.3 .4 6.3-1.3 6 .8 3.4-.6 4.3-.1 0 12.9-1.3 0-2.4-1.2-11 .4-3.3 .6-4-.3-12.7 .5-15.6-1.1-1.7 .2-2.7 .6-2 .1-7-.6-2 0-4 .6-4.3-.8-5 .4-5.7-.4-1.3 .3-.8 .7-1.2 .1-2.7-.2-1.6-.7-.4 .2-1.3 0-.3 .3-1.4 0-.3-.4-1.7 0-.3-.3-1 0-.3-.3-8.7 .2-2.3 .3-4.7-.5-1 .1-.3 .2-5.7 .2-2.7-.3-1.6 .3-2-.1-4.7 .7-8.7 .5-2.3-.3-3.3 .1-4.4-.4-4.6 0-3 .4-3.7-.1-1 .1-.3 .3-1 0-.4 .3-3.3 0-.3-.3-7-.1-.4-.3-1 0-.3-.2-2.6 .5-3.4-.2-.3 .3-5 0-3.4 .6-3.6 .1-4.4 .5-8.6 .4-3-.1-3-.8-4-.1-2.9 1.3-1.1 .2-5-.6-3.7 0-2.1-.3-2.9-1.1-2.3-.3-.4 .2-1 0-1 .6-.6 0-.4 .3-3.3 0-2 .9-4.3-.4-5.7 .6-7.7-.6-7.7 1.2-10.3-.5-1.3 0-2.3 .6-5-.7-3 .2-14 0-2.4 .5-4-.3-4.6 .5-5.7-.2-6.3 .9-5-.1-6-.6-7.7 .4-4.7 .8-6.3 .5-5.7-1.3-5-.2-8.6-1.1-7 1.1-3.7 1.3-2.3 0-3.4 .3-7.3 2.3-2.7 .1-6.3-.6-4.7 .8-6.6 .4-1.4 .3-1.3 .9-3.7 .5-1.6 .6-.6 .6-.8 2 1.9 3.3-.2 .8-5.9 3.5-6 2.7-1.8 .6-.3 .4 .3 .5 1.4 .5 2.6 1.5 2.7 1.2 1.9 2.3-.5 1.3-.1 1.4-1 1.3-.2 1 .6 2 .1 1.3 .9 1.7-.7 1.1-1.3 .4-.6 .5-.1 1.7-.8 1-.1 .6 .2 .4 .9 .3 0 .3-2.2 1.4-4.3 .8-2.7 1.2-.5 .6-.1 1 .3 .3 3 .7 .8 .7 .1 .7-1.6 .7-3 .3-.5 .3 .2 .7 .6 .6zM442 90.7l-3.3 .1-2.4-.6-.5-.5 .2-1.2 .5-.8 .7-.7 2.9-1.3 .3-1.7 .6-.8 2.7-1.4 1.5-1.5 5.8-2.2 1.8-1.8 2.2-1.4 3.1-2.6 1.2-1.6 1.8-1.7 1.6-1 3.6-1.2 2.3-2.1 2.7-.8 3-1.4 2.4-.7 .8-.5 .8-1.3 .7-.3 2 0 1.3-.2 5-2.4 2.4-.2 6.3-.9 3.3-.8 3.5-2.2 1.2-1.4 3.7-2.4 2-1.9 4.6-2.3 2-1.7 2.4-.8 5.3-.7 .4-.1 .5-1 1.4-.8 1.7-.3 5.7 .3 3 .6 2.2 .8 .4 .4 1 2.6-.2 1.7 .3 1.3-2.2 2-.5 1.7-2.4 1.2-1.6 1.1-4.4 .8-3 .3-2.6 .8-2 1.5-5.4 1-2.3 1.6-2.3 .4-4.4-.2 .1 .5 .6 .7-.3 .7-1.4 0-.3 .3-1 .1-3 2.2-2 .8-.6 .5-.6 2-2.5 .9-.7 .5-1.2 1.3-2.1 .8-1.6 1.9-2.4 2-6.3 1.9-1.3 .8-1.7 1.6-3.3 .9-2.4 1.5-1 .3-4.3 .5-2.3 1.2-2 .7-4.2 2.2-1.5 2.2-2-.6-.7 .2-2 1.2-2.6 .8-1.4 .1-3.3-.4zM134.3 85.4l-1.6-.1-.8-.3 .2-.3 1.2 0 1.1 .3 .1 .3zM135.3 93.7l-1.3 .1-1-.1-.4-.4 0-.6 .7-.5 1.7 .2 1 .6 0 .3zM374.7 105.4l-1.7 .3-3-.4-.9-.6-1.8-2.6-.3-2.4 3-3.1 1.3-.4 1.7 .5 1.1 .6 1.6 1.6-.1 1.4 .5 2.4-.4 2zM244 108.4l-1.3 0-1-.4-.6-.7-.8-1.7-4.1-2.6-.5-1.4-1-.6-.1-.3 0-2.4 .3-.3 2.1-.7 3 0 2.1 .7 2 1.3 1.2 3 .8 1.4-.8 1.6-.2 2zM391.9 105.7l.1-.4-.3-.5-1.7-.3-.7 0-1.4 .8 .2 .4 .6 .1 2.6 .1zM166 136.3l.3-2.3 .9-2.7-.9-2-.6-.7-.7-.3-1.4 .7-.4 .7-.1 .6 .6 2 0 2 .8 2 .5 .3zM188 133.4l-.3 .1-.3-.5 .6-1.7 .4 1.4zM232.3 132.4l-.6 0-.5-.4 .1-.7 .4-.2 .3 0 .3 .6zM121.7 137.4l-.4-.1 .4 .1zM333.5 142.3l.5-.2 .7-.7 .3-1.4-.3-.4-1-.4-1.7 .3-.8 1.2 .4 1.3 .4 .2zM264.7 158.3l4.6-.9 5-1.4 .7-.3 .1-.4-.4-.5-2 .1-1.4 .6-2 .1-6 1.3-.8 .8 .2 .4 .6 .4zM173.3 165.4l-3-.1-.7-.3-.1-.3 .5-.6 1-.1 2 .2 1.4 .5-.1 .3zM407 185l-4.7-.3-4-1.2-.5-1.5-1.2-1.7 .3-.6 1.3-1-.5-1.7 .3-.7 1.3-.8 1.4-.2 4.6 2 3.4-1.4 1.3-.2 .9 .3 2.2 2 .7 1-.3 1.7 .3 1.3-.4 .7-.7 .3-4 .8zM105 180.7l-2 .3-1-.2-1.2-1.5 0-1 .9-.7 1.3-.3 .7 .2 1 .9 1 .6 5.3 .3 1.4 .4 .1 .3-1.3 .3zM190 179.7l-1.3-.1-.4-.3-.2-.6 .3-.4 .6 0 2 .7 .1 .3zM392 180.8l-.3 .1-.1-.2-.2-1.4 .3-.1 .8 .8zM94 181l-1.7-.1-.2-.2 0-.4 .9-.4 2.1 .4 .1 .4zM185.5 194l7.8-1.3 1.4 .1 1-.2 1.6-.9 4-.5 2.7-.8 .7-.4 .2-.7-.9-.8-2-1.1-7.7 0-3 1.2-1 .2-1.1 .9-2.2 .9-2.3-.2-3.7-1-5-.2-3.3 .4-1 .2-.7 .5 .3 .8 1.4 .7 7.6 1.1 1.4 .5 1.3 .8zM261.7 203.8l-1.4 0-1.6-.6-.7-.5 .5-1.4-.3-1.3 .2-1.7-1.4-1.4-1.4-2.2 1.4-4 .7-.7 1-.5 3 0 1 .3 3 2.9 .7 1.3 0 .7-.7 2 .1 .3 .9 .6 .3 .6-.3 1.4-.7 .6-1.3 .2-1 .7zM227.9 211l6.4-.4 4.4-.6 1.3-.5 3-.1 1.3-.5 1.7-1.6 .2-1-.7-1.3-.3-1.3-1-2-.5-.7-1.7-.5-7-.6-1.3-.9-.1-.3 .7-.3 2.7-.3 2-.6 .5-.8-.3-.7-.5-.5-2-.9-1.7-.2-4 .1-3.7 .5-6 2.8-1.5 1.9-2.8 1.6-3.3 .5-3.7 0-3.3 .9-1 .6-.7 1.4 0 .6 .2 .7 1.1 .7 7.4 2.1 3 .3 1.3 1.2 .7 .2 2 .4 2-.1 1.6 .4zM180.9 208l.6-.7 .5-1.6 .7-1.4-.2-.6-1.5-.8-1.3-.2-1.7 .1-1.7 .9-.3 .6 .2 .7 1.8 2.7 .7 .5 .6 .1 1 0zM84.7 206.1l-1 .2-1.4-.1-1.6-.5-.6-.4 0-.3 .9-.3 3-.1 .9 .4 .2 .3 0 .4zM382 230.1l-.7-.1 .7-.1zM58 238l-1.7-.3-.6-.5-.3-.5 .6-.4 1 0 1.1 .4 .9 .6 0 .4zM70.7 240l-.5 0-.1-.3 1 0zM94.7 250l-1.7-.1-1.1-.6-.5-1 .3-1.2 1-.2 3.3 .2 2 .3 1.1 .6 0 .7-.9 .6-1.5 .5zM93.3 253l-2-.3-.5-.4 0-.3 1.2-.6 1.5-.1 .4 .4 .1 1zM181.7 260l-1 0-.7-.3-.2-1 .5-.5 1.4-.2 3.3 0 .3 .3-2.3 1.3zM109.7 270.7l-3.6-.4-3.2-1 .1-.3 .3-.1 3-.1 4.4 .3 1.2 .6 0 .3-.5 .3zM120.3 285l-1.6 .1-3-.6-3.7 0-2.5-.8-.8-.7 1.3-.7 2.7-.3 1.6 .3 1.4 1.1 .6 .3 4-.4 1.4 .4-.1 .6z" stroke="#e0e0c0" stroke-width="0.6" fill="#a0a088"/>
<path d="M148.3 87.8l-1-.1-.6-.6 0-.5 .9-.9-.4-.4-2.9-.9-2.3-1.9-1.7-.4-3.4-.4-4.2-1.9-3.8-.8-.3-.3-.1-1.4-1.2-1.3-.6-1.3-.4-4.4 1-2 1.8-2.3 2.8-2.3 .2-.7-.1-1.7 3.5-1.3 0-.3-2.9-1.7-.7-.7-.2-.6 1.8-1.7 .5-1.3 .3-.4 1.7-1 2-.7 .8-1.3-.1-1-2.3-3-.1-.3 .5-1-.1-.5-1 0-1.7 1-2.7-1.8-.1-.7 .8-.4 4.3 .4 .7-.3 .3-1.4-.4-1.3 1.7-1.3 1.7-1.7 1.3-2.3-.4-1.4-1.2-1.6-1.2-1 1.2-1 1-1.4 1.5-1 1.8-.8 .8-.8-.1-3-1.9-3 .5-3.4-.4-1.6-.9-1.7 .4-1.7 0-1.3 .9-1.3-.1-1.7 .8-2.3 9.5 0 .5 .5 2.2 1.1 .9 1 .4 1 0 1-.7 2.7-.1 1.7-.5 1.3 .1 2.3-.6 2 .4 1.7 .9 1.7 .2 1.3 1.5 2-.3 .7-1 1-2.7 1-.6 .6 1.9 1.8 .2 .6-.2 1 .2 1 .5 .7 1 .7 .3 .6-.7 1.6 .1 2-.7 2.7 .4 4 1.2 3.7 2.8 5.6 .1 1 1.8 1.1 1 1.4 1.2 .9 .2 .6 1.3 1.3 .7 0 1 .7 .6 0 1 .9 4 1.5 1.4 1.2 2 1.3 4.5 1.1 3.5 1.5 5.2 1.2 .9 .7-.1 .3-.5 .3-5.5 1.3-2 .3-2-.1-3.4 .6-4.3 0-2.7 1-3.3 .7-3.3 2.1-1.4 2.9-.5 .6-1.5 1-3 1.4-3.2 .9-2.1 .4-4 0-.9 .3 .8 1.3-.2 .7zM441.7 90.3l-3 .1-1.7-.4-.7-.3 0-.9 .4-.7 .7-.8 3.3-1.4 .3-.6 0-1.3 .7-.7 2.3-1.1 1.7-1.6 5.6-2.3 1.7-1.6 2.3-1.4 3-2.5 3.1-3.5 1.7-1 3.6-1 2.6-2.4 2.4-.6 2.8-1.3 2.5-.8 2.3-1.7 2-.3 2.4-.7 4-2.1 5-.7 3.3-.2 4-.9 3.1-2.3 1.6-1.6 3.3-2.1 2-1.9 1.7-1 3-1.2 2-1.8 2-.7 2.3-.4 3-.1 1.3-.3 .5-.2 .2-1.3 .5-.4 1.2-.1 6 .1 3.1 .7 1.9 .7 .3 .4 .8 2.2-.3 1.7 .3 1.3-2.1 2.4-.6 1.3-2.1 1-1.5 1-3.4 .7-3.4 .2-3.4 .9-.6 .3-1.4 1.3-5.3 1-2.2 1.6-1.2 .3-5.6-.1 .1 .5 .9 1-.3 .6-1.4 0-.3 .4-1 0-.3 .3-1 .2-2.1 1.5-1.9 .7-.9 .9-.3 1.7-2.8 1.1-1.7 1.6-2 .8-4 3.9-6 1.8-3.3 2-.7 .7-2.7 .7-2.3 1.4-5 .7-1 .4-7.7 3.7-1.6 1.9-1.7-.3-.3 .3-.7 0-.3 .4-1.8 .9-2.6 .7-4.3-.3zM163.3 286l-32.8 0-.9-.3-1.6-1.2-.4-.5 .8-2-.3-1-1.8-1.5-.4-1.2-.9-1.1-1.5-.9-1.8-1.5-3-1.1-1.5-1-.4-.7 .2-1-.2-1 .8-1.7 .3-2 1.2-1.6 .4-1-.6-2-1.2-1.5-.1-.9 3.7-3 2.5-.6 3.9-.2 .6-.3 .2-.5-1.2-1.3-.6-.3-4.4-.6-7.3-.2-2.3-.3-1-.3-.4-.3-.6 0-1.7-1-.7 0-.3-.7 .3-.5 .6-.2-.1-.7 .9-.3 3.6-.6 1.5-.7-.1-.4-1.4-.8-2.6 0-1.7 .2-2-.7 1.8-.7 0-.6-.5-.3-1-.2-1 .3-.3 .5 0 .7-1.7-.6-9 .3-3.5-.1-1.9-1.6-.6-1.7-2-1.4-.1-1.3 1.1-1.3-.7-1-.6-.4-2.6-.3-2.4-.8-4.3-.1-2 .2-.9 .7-1.8 .8-1.3 1.2-1.4 .3-2.5-.3-2.6-.6 0-.4 .5-.3 3-.5 1.6-1 1.7-.5 .3-1-.6-.5-1.7 .2-1.3-.3-1.7 .2-3.3-.3-9.4 .2-2-.3-5.6 .8-3.7-.3-1.3-.4-1.4-.7-3-.8-4.6-.4-3 .4-5 1.4-2-1.1-3.4-.4-2.6 .1-3.6-.5-.4-.2 0-3.2 .6-.5 .2-.4-.3-.7-.5-.3 0-12.8 2.6-.2 3.7 .6 4-.8 6.7-.3 1.3-.5 2.7-.2 3.3 .1 .3 .3 1.7 .1 .3 .3 1.4 0 1 .4 2-.2 3.3 .6 5.7-1.3 1-.4 3.3 .4 1.7-.8 1-.1 6-.4 3.3-.6 6.3-.1 6.4-1.2 2.6-.1 1.4-.2 8.6-.1 2-.3 1.1-.5 .7-1 .2-1.3 .7-1.4 0-1.5 .6-1.2-.3-1-1.6-1.3 .6-2.1 4-1.3 2.4-.4 2 .4 2.3 .1 2-.3 1.5-1.1 .5-.6 .1-1-.6-1.4 .7-.3 3.5-.4 1-.6-.4-.7-1.4-1-.6-.6 .3-.7 1.6-1.3 .1-.7-.7-1.3 .5-.4 2.9-1 .9-.6 .4-.7-.6-.7-2.3-1-1.4-1.4-.4-.6 .2-1.3-.6-1.3 3.4-2.4 4.4-.7 2-.7 1-.7 1.1-1.5 3.2-1.7 2.7-.5 .5-.5 .1-.3-.8-1.4-2.1-1.2-.7 .1-1.7 1.6-1 .3-1.6-.1-1-.4-.6-.6 .2-.3 .6-.4 4.1-.8 .9-.5 .3-.7-.1-1-.8-1.4 0-.8 1.2-1.8 .2-1.6 1-2.3 2.3-1.5 .5-.9-.5-.8-2.3-1.6-3-.8-.7-.4-.2-.4-.2-1.7-1.3-1.6-.6-.5-2.1-.5 1.7-.8 .5-.6 .5-2.9 .9-2.1-.2-1.1-.3-.1-3.8 .9-.9 0-1.6-1.3-.1-.6 .4-.2 5.6-.4 .6-1.2 1.8-1.6 .6-1.7 .7-.7 7.2-3.3 3.5-1.1 .6-.6 .3-.6 0-.7-.6-.4-3.4-.6-3.6-1.6-4.6-1.1-2-1-1.1-1 .1-1.6 1.2-2.4 .1-1.8 1-1.6 2.2-1.9 1.8-1.1 1.8-2.2 2-1.4 1.1-1.3 .4-1.7 1.1-1 1.1-1.6 0-1-.9-1.3-.1-1.1-.3-.6-.6-.6-2.8-.8-1.8-1 .1-.3 .9-.3 8 .8 3-.1 1.3 .3 1 .7 1.3 1.8 .1 1.8 .5 1 1.1 1 2 .5 1-.2 .5-.6-.2-.7-1.3-1.2-.4-1.1 .1-1 .5-1 1.8-.8 4-.4 .8 .2 1.2 1 .7 2 0 .6-.6 1-1.7 1.4-.8 .3-.2 .3 .1 .4 .8 .5 2.1 .5 .2 .3-.6 .7 .3 .6 2.6 1.7 2.2 2.3 .1 1.7 .9 2.3 .1 1.4 .4 .6 3.3 1-.2 .4-1.1 .3-2.3 .3-.6 .2-.3 .8 .3 .6 .6 .4 1.4 .3 4 .4 4.6 0 2.5 .3 3.9 1.3 .4 .4-.2 2 2.2 2 .6 1 .7 3.7-.1 1.5-.5 1.8 .5 2-.3 .6-.3 .1-.7-.6-.3-.4 0-1.4-.4-.5-.6-.3-2 .1-1.7 .7-1.7 3.7-1 1.3 0 1.7-1.6 2.3 .7 3.4-.1 .6-.3 .5-2.7 0-.4-.1-.2-.4 1.3-3.6-.6-3 .5-2.4 1.2-1.6 1-2.7-.1-1-.7-.9-1-.2-1.3 .6-1 .8-1.9 2.7-.6 1.7 .2 1.4-1.8 3.6-.1 1 .4 2-.9 1.3-2.6-.3-.5-.7 .1-1 .6-1.3-.2-2.4 .9-2.6 0-.7-.8-1.7-1.5-2-.3-.1-2.2 2.1-.1 1.4 .5 2-.1 1.6 .6 1.7-.7 2 .2 4 1.8 2.3-1.7 2-.2 1.4 2.4 4.6 .9 1.4 .4 1 2 1.6 .6 1-.3 2.4-.4 1.2-1 1.2-2.5 1.9-.8 1.3 0 .7 .9 1.7 0 1 .4 .5 1.3 .7 2.7 .8 .4 .3 1 2.3 .9 1.4 .5 2 1.2 1 3.3 1.3 2.7 1.5 2.3 .6 5 .2 4.7 1 2-.1 1.3-.3 2.1-1.6 .3-1-.5-1.6 .1-1.8 .9-1.2 .8-1.7 2-1.9 2-.4 4.8 .6 1.3 .7 1.5 1.9 .7 .3 1.7 .3 8.6-1.3 2.4-.6 5-.5 2.3-.6 2-.7 1.5-.8 2.2-.6 1.1-1.4 1.5-.5 1.4-1 .3-.5 .1-1 1-1.3 1.6-3 1.5-1.4 1.8-1 .4-.6-.1-1.5 2-1.6 2-.5 1.1-.8 .9-.1 1-.6 5.7-.3 3 .2 4.7-.6 1.3-.3 3 0 2.3-.2 5-2.2 1.2-1.2 1.2-1.8 1.6-1.5 2-1 1.7-.4 2.9-1.3 4.1-.6 2.9-1.4 6.4-1.5 5-2.2 5-.4 3-.6 1.4-.7 1.7-1.3 2.9-.4 5-1.8 1.9-1.1 3.5-1.4 .7-.9 1.9-1.5 1.8-1.9 .4-.6 .2-1 1.3-1.6 2.3-.6 2.7-1.5 3.3-.9 .5-.4-.2-1 .4-.6 1.3-.3 3.7 .2 2.3-.3 5-1.2 1-.3 2-1.5 4.7-2.4 1.7-1.6 1.3 .1 4.3-.6 2-.6 .8-.9-.3-1.4 .2-.3 2.3-1.2 3-2.8 .2-1-.5-1.7 .3-.5 2.6-2.5 3.6-2 2.2 0 3.3-.7 1.3 0 1.7-1.1 2.3-.2 2 .2 2.7 0 2.3-.9 2.7-.6 1.7-.1 3.6-1.2 2.7 .2 .3 .3 1 0 .4-.3 .3 .3 4.7 .1 6 .7 .7 .3 2.3 2.4 2.3 1.1 2 .4 4.1 .1 10.9 3.1 2 .2 1-.3 .7-.6 .4-.7 .2-.8 .7-.9 1-3.3 0-1.3 2.3-.4 1.4 .8-.1 1.9-1.3 1-.2 .7-1 1-.1 .8-1.4 1.2-1.3 2-1 .3-3 .1-1 .6-2.3 0-.3 .3-6.7 .1-.3 .3-1.7 .3-1 .7-2 .2 0 .8-5.3 .8-6.4 1.7-1 .6-.6 .8-.2 1 .7 1 0 .4-2.9 2-3 1.2-.7 .8-.9 1.6-1.4 1-1.9 1-3.1 1.1-1.3 1-5 .9-.4 .4 .1 1.1-.7 0-1.3-.9-3.1-.2-3.9-.9-2 0-1 .6-7 2.3-3 1.5-2.1 2.1-1.5 2.7 0 .7 .3 1-1 1.6 .1 1 .5 .7-.4 1.3 0 1-.4 1 .2 1-.4 .4-.2 .6-.9 .7-.6 .2-.6-.3-1.4-1.6-.3-.6-.2-2.7 1-2-.3-1.3 .1-.7 1.7-1.7-.2-2.6 .7-2.4-1.1-1-1.7-.2-.7 .4-.6 .8-.9 4-1.5 1-2.2 3.4-.1 1 .5 1.3-1.4 1.7-.7 2-1.1 1-2 .6-3.6 .1-4-.8-6.7-.2-2.3 .5-.8 .4-.6 1.4 .3 2-.6 1-.1 .6 .5 1 1.3 1.4 .1 .6-1 1.7-2.3 1.3-6.2 2-7.4 1.7-6.2 1-3-.2-5 1.4-2 .8-1 1.7-4 1.1-1.7 1-2.3 .3-1 1-1 0-.4 .3-4.3 1-.5 .6-.1 1-1.4 .7-4.3 .2-4.7 1.5-1 .5-5.7 .5-6 2.1-.7 .8-1 2.7-2.1 1.7-1.2 1.7-1.1 .9-.2 1.4-1 .2-4.3 .3-1.4 .3-2.3 1-2.3 1.3-.7 .8-1.9 1.1-1.9 2.6-.3 1 .2 1.4-.7 2-.1 1.3-2.2 2.3-.9 1.7 .1 2.3-.8 1.4-.2 1.3 .6 2.3-.1 2 .4 1.4-.1 1.3 .4 1.3 1.8 1.6 1.4 .1 2.3 1.2 1.3 0 1.2-.5 .8-.1 2.1 .1 4.6 .8 4-.5 5 .1 2.7 .5 1.6 .1 5.4-.4 13 .3 4 .7 3.6-.6 4 .3 4.7 0 .3 .2 3.4 0 .6 .4 2.7 0 .3 .4 2 0 .4 .3 2.3-.1 1.7-.6 3.3-.6 5.3 .7 14-.8 7.4 .9 4 .2 5.6-.4 2-1 1 .6 1 .1 .7-.3 1.7 0 .3 .3 3.7-.2 8 .9 5.3-.2 1.7 .5 .3 .3 1.7 0 1 0 .3-.3 6.3-.6 5.7 .2 3.7-.8 3.3-.1 .7 .2 1.3 .9 2 .8 1.7 0 3-.3 4.3 .5 2.3-.3 3.4-1.1 8-.5 9.6 .1 8 .9 4.7-.2 4 .7 9.3-.3 5 .3 4.7-.1 .3 .3 2.7-.7 .8 .1 .9 .7 1 .2 5-.6 1.3 0 .3 .2 5.4-.1 7-.9 6.3 .5 5-.3 3.7 .5 4.6 .2 3.7 .5 11 .1 .3 .2 4.4 .2 2.3-.2 2-.9 4-.3 2.3 .3 6.4 .4 4.3-.3 1.3 .3 .4-.4 1 .1 .3 .3 1.3 0 1 .5 3-.3 10 .1 4-.3 4.7 .4 6.3-1.4 5.7 .6 .3 .3 3.7-.6 4-.1 0 12.5-1.3 0-2.4-1.3-1.3-.2-10.7 .5-2.6 .5-3.4-.3-5.6 .4-7.7 .1-15.3-1.1-1.7 .1-2.2 .6-2.5 .2-7.6-.6-5.7 .5-2.3-.6-2-.3-5 .5-7-.5-1 .1-.5 .4-.2 .6-.7 .1-1.6-.2-2-.5-.4 .3-1.3 0-.3 .3-1.4 0-.3-.3-1.7 0-.3-.3-1 0-.3-.3-5.7 0-.3-.3-5 .4-4.7-.4-1 .3-.3 .3-5.7 0-3-.4-3.7 .1-5 .8-8 .5-2-.3-4 .1-4.3-.4-4.7-.1-2.6 .4-3.7 0-.3 .3-.7 0-.3 .3-1 0-.4 .3-3.3 0-.3-.3-7 0-.4-.3-1 0-.3-.3-2.5 .3-2.5-.1-1 .1-.3 .3-6.4 .1-1.6 .3-4.7 .1-3.6 .5-3.1-.1-5.6 .4-3 0-2.4-.6-4.3 0-.3-.3-3.1 1.3-.9 .1-5-.6-3.4 .1-2.1-.3-2.5-.8-2-.2-.4-.3-.6 0-.4 .3-1 0-2 1-2.3 0-.3-.3-.7 0-2 .8-5-.5-3.2 .7-2.1 .1-7.4-.6-7.9 1.1-10.7-.3-3 .5-5-.8-3.4 .3-10.6 0-4 .1-1.7 .3-3.7-.3-4.4 .6-5.9-.3-5.3 .9-1.4 .1-4.6-.1-6.4-.8-7.6 .6-4.7 .8-6 .4-5.7-1.2-5-.3-8.6-1.1-7 1.1-3.7 1.4-2.7-.1-.9 .2-2.1 .1-7.3 2.3-2.7 .1-6.3-.6-6 .8-4.7 .1-2.6 .6-1.1 1-3.6 .4-1.7 .6-.6 .6-1 2.4 .2 .6 1.7 2.7 0 .3-.2 .4-3.4 1.9-2 1.4-6.3 2.7-1.7 .4-.6 .6 0 .6 .6 .6 1.2 .4 5.5 2.7 1.5 1.7-.5 3-.8 1-.4 1.3 .6 2 0 1.3 .5 1.7-1.9 1.3-.3 .7 0 1.7-3 3.6-3.4 .8-2 1-1 .9-1.4 4.3 .9 2.7-1 .7zM374 105l-3.7 0-.9-.7-1.6-2.3-.3-1.7 .2-.6 2.5-2.7 1.1-.4 1.4 .4 1.2 .7 1.2 1.3 .5 3.7-.6 1.9zM243.7 108l-1.5-.3-1.5-2.4-4.2-2.6-.3-1.7-1.1-.7 .2-1.6 .3-.4 1.4-.5 2.7-.1 2 .6 2.1 1.4 1 3 .7 1-.7 1.6-.1 1.8-.4 .6zM391.6 106.3l.7-.3 .3-.7-.3-.6-.6-.5-1.7-.2-1 .1-1.3 .6-.6 .6 .3 .7 .6 .3zM333.9 143l.6-.3 .7-1 .5-1.4-.1-.6-.6-.6-1-.3-1.3 0-1 .2-1 1.3 .3 2.4 .7 .3zM264 159l3-.5 8-2 .8-.5 .1-1-.6-.8-2-.1-1.3 .3-1 .6-3.7 .5-4.3 1-1 .8-.1 1 .8 .6zM407 184.4l-3.7 0-2.3-.3-2.3-1-.5-1.4-1.2-1.4 2-1.6-.2-.7-.5-.7 .1-.6 1-.7 1.6-.1 2.7 1.1 1 .8 .6 .1 2.4-.8 1.3-.8 1 0 2.2 1.4 1 1.3-.3 3.3-4.6 1.1zM184.8 194.7l3.5-.6 1.6-.4 2.1 0 1.3-.4 1.4 .5 1.6-.2 1.4-1.4 4-.7 3-.9 .7-.6 .1-.7-.5-.8-2.3-1.4-.7-.2-5 .1-3-.1-3 1.1-1.3 .2-1.4 .7-.5 .8-.8 .4-1.9-.1-2.7-.7-1.4-.7-2.3 .3-3-.2-2 .2-2.4 .6-.8 .8 .1 .7 .4 .5 2 1.1 2 .4 5 .4 1.6 .6 .4 .7 .7 .2zM261.3 203.3l-.7 0-1.9-.6 .3-1.4-.3-1.3 .4-1.7-2.4-2.7-.5-.9 1.4-4 1.1-.7 3.3 0 3.3 2.9 .7 1.1 0 .7-.9 2.3 .2 .6 1 .5 .2 .6-.2 .5-.3 .3-1.3 .2-1.7 1.3-.7 1.4zM228.7 211.3l10-.8 1.6-.6 2.7 0 1.7-.8 1.8-1.8 .1-1-.7-1.3-.2-1.3-1.1-2.4-.9-.9-1.7-.4-2.7 0-2.9-.3-1.6-.7 .9-.3 3-.4 .9-.6 .5-.7-.1-.7-1.3-1.4-1.7-.7-2-.3-2 .2-2.3-.2-4 .6-6 3.1-1.4 1.7-2.5 1.4-3.1 .6-3.7 0-4 1.1-.7 .6-.8 1.7 0 1 .3 .6 1.2 .8 7.3 2.1 2.8 .5 1.9 1.2 6.3 .7zM180.8 208.7l1.3-1.4 .4-1.6 .8-1.4-.3-.9-1.7-.8-1.6-.3-2 .2-1.7 .8-.5 .7 0 .7 2.4 3.6 1.1 .5zM83.7 205.7l-1.5 0-.9-.4 .7-.3 1.3 0 .8 .3zM54 210.2l-.7 .1-1.6-.2-.3-.8 .2-.6 .6-.7 .5-.1 3-.3 3.9-.9 .7 0 .5 .3-.1 .3-.6 .4-2.8 .8zM364 228.7l0 .1 0-.1zM382 230l-.7 0 .7 0zM95.7 249.4l-1.7 0-1-.3-.5-.4 .1-.7 .7-.4 2-.1 2 .3 .6 .5-.6 .7zM93 252.4l-.6-.1 0-.3 .6 0zM110.3 270l-2.3 .1-2.5-.4 .2-.4 3.6 .2 1.2 .2zM168 282l-1.7 0-.7-.3-.1-.4 .9-.6 1.5 0 1.1 .6-.1 .4zM113.7 283.8l-1 .1-1.6-.2-.9-.4-.3-.3 1.4-.5 1.7 .1 .8 .4 .2 .3zM168.7 286l-2.1 0-.1-.3 1.2-.2z" stroke="#ffffff" stroke-width="1.1" fill="#000000"/></g><path d="M149.5 52.5l6 6M145.2 105.2l3 3.2M151.4 142v3M148.6 149v2M147.6 158v1.5M146.7 162.5v1.5M150.5 186.2v1.5M151.4 196v1M152.3 235.9h2M151.4 265.2v3.5M150.5 279.8v2" stroke="#e6e67a" stroke-width=".8" fill="none"/></g></g>
<g clip-path="url(#clipB)"><g filter="url(#soft)"><g fill="none" fill-rule="evenodd" stroke-linejoin="round"><path d="M415.3 343.5l-.6-.2-.6-.8-.5-1.7-.6-3 .1-4.3 .6-2.7 .1-3 .5-1.3 .7-.4 1 .4 .9 2 .6 3.3 .1 1.7-.1 4.7-.4 2.6-.7 2-.4 .5zM147.3 338.5l-1.3-.2-1.1-.8-1-1.7-.4-1.6 .6-3.4 .7-2 .7-1 .8-.5 .7 .1 2.1 1.1 1.1 1.3 .5 2-.1 2-.4 1.7-.6 1.3-1.3 1.5zM420.3 330.4l-.6 0-.4-.2 0-.7 .4-.2 .6 0 .3 .5zM605.7 335.5l-.7 .2-.5-.5 0-2 .5-.6 .7 .2 .3 .7 0 1.3zM596.3 336.9l-.3-.1-.3-.6 .3-.7 .3 0 .4 .1 .2 .6-.2 .6zM375.3 340.3l-.7-.5-.5-1 .2-1.3 .7-.6 .7 .3 .6 1.3-.4 1.3zM591 343.2l-.7-.2-.5-.8 0-2 .4-1.4 .5-.6 1-.8 1.3-.1 .7 .1 .4 .4 .1 .7-.5 1-.8 2.7-.9 .7zM154.7 594.7l-2.7 0-1.3-.7-1.6-1.2-1.8-.8-1.8-1.5-.5-2-.7-1.2-.3-.2-1.3 0-.8-.6-.4-1.7-.2-2.3-.3-1.2-1.1-1.5-.7-2-.4-4.3 .2-1 .3-.3 .7 .2 .3-.4 1.4-5.2-.7-1.6-1.7-1.4-1-1.7-.8-.9-1.5 .3-1.3-.2-1.4 .4-1.3-.5-1.3 .8-.7 .1-1.3-1-2.4-.7-.5 .1-1.8 1.2-1.3 .1-2.4-1.1-2 .1-1.1-1-.5-1.3 .4-4-.1-.8-.3-.3-3.7-.5-7-.1-1.7-.7-4 .2-4-.3-2-.3-1-.6-1.3 .7-.7 0-.6-.3-.7-1-1 .9-1.3 .2-.7-.2-2.3-1.9-.4 .2-.6 1.1 .3 1.7-.2 1.3-.8 .8-.7 .2-.6-.1-1.7-1-.6-1.2 0-1.7-3.7-.2-2 .1-2-1-1.7 .7-3.3 .3-2-.6-6-.6-1.7-.8-6 0-1.7-.6-1.3 .3-1 0-1.7-.9-1.3 1.2-4.3 .2-2 .3-1.4-.2-2.3-1.2-1.3 .9-1 .3-2.7-.1-2 .4-2.3-.1-5.4-.8-1.6-1.1-1.4 .4-.6-.2-1.2-1.3-1-2.7-.4-2.3 0-2 .3-1 1.3-1.3 2.6-.7 .7-.6 1-.4 6-.2 1 .2 1 .8 1.7-.8 2.6-.6 2 .3 2-.1 2.4 .4 1.3-.6 1-.2 2.3 .1 1.7 .3 1.3-.7 1.4-.4 4 .4 3-.5 1.3 .1 1.7-.5 1 .2 1.6 .7 .9-.3 .8-.5 1.7-.5 2 .2 2.6-.7 3 .5 1.7 .1 1.3 .7 2-1 1.7 0 .7 .4 1.3 1.7 .8-.5 1.9-1.9 1-.2 3.3-.1 .7 .3 1.3 1.3 .3 .1 1.4-1.4 2.6-1 2.4 0 1 .3 2.6-1 2.7 .5 4-1.4 3.7 .6 1.3 .9 1.3-1.3 2.4-.1 4.3-.9 3.3-.3 2.7-1 1.3 .1 1.7 .9 1.3-.4 1.4 .4 1.3 0 2.7 1 1.6-1.9 1.7 .1 1.3-.9 .7 .1 .7 .7 .6-1.5 1.4-.6 .7-1.4 1.6-1.7 .7-1.5 .5-2.2-.2-.6-1-.6-.6-.8-.6-1.3-.6-2.7-.6-4 .3-2.6-.3-3.4 1-3.6 1.6-3.4 1.8-2.4 .7-.4 1-.2 1.3-.8 .7 .1 1 .8 1-1 .6-.3 .7 .2 1.3 .7 1.4-.2 1.3 .3 1.2 1.2 1 2.4 1.1 4.7 .7 1.6 0 .7-.7 1.3 .1 3.7 .7 2 .6 4.3-.2 3-.9 2.3 .4 3.1 .7 1.9 1.3 2.6 1.3 .8 1 2.1 .7 .4 .7-.9 .8-2.3 1.1-1.7 .7-.5 1.7-.1 1.1-2.7 .6-.6 1.1-.4-1.7-2-.2-.7 .1-1.6 .7-1.3 .6-.3 1 0 1 .9 .2 1.3-.2 2.8 .8-.1 1.5-.7 .7-.6 .9-1.7 .8-.9 2.3-.8 1.5-2.6 1.5-1.5 2-1.5 1.5-.4 1.9-2.1 1.6-1 1.4-.4 1.3-1.9 4.3-2.7 2.7-.9 3.3-1.8 1.7-.4 2-1.4-.7-1.7 .2-2.3 .8-.9 1.5-.1-.7-.7-.1-1.6-.3-.8-1.3-1.6-.2-1.7 0-4-.2-.1-1 1.6-1.6 .9-.7 1.1-.7 .3-1.7 0-1-.3-1-.8-.5-2.3-.8 .1-.9-1.1-.4-2.7 .5-2 .8-.6 1 .3 .3-.1 2.4-3.5 1.3-.4 1.7 .6 1.3 1 1 1.6 1.1-4.2 .3-.7 .9-.8 1.7-.8 1 .1 1 .5 1.3 1.7 .6 2.6 .4 6-.9 4.4 .1 3.6-.9 4.4-.6 .8-1 .1-.6-.6-.4-1.1-.9 .8 .7 1.3 .5 2 .3 .3 2.4-.9 1.3-1.1 1-.5 1 0 1 .5 .7-1.3 1.3-.8 3.5-.9-1.8-.5-1.1-.8-.5-1-1.2-4.3-.8-4.7 0-2.7-.6-5 .1-5.3-.4-1.7 0-3-.4-1.3-.1-1.7 1.2-4.3 .3-6 1-3.7 .8-.8 2-.5 1.1-2.3 .6-.6 1-.2 1 .1 1.3 1.1 2 .2 1.3 1 1.3 3.4 .6 5.3 .1 2.3-.4 2 .4 2-.2 3.4-.8 1.6-.4 3.7-1.5 5.3-2.9 14.7-.9 2.7-1 1 .1 .2 1.3 0 .7 .3 .3-.2 .5-2 1.9-2.5 4-2.7 3-.9 1.3 .1 .4-1 1-1.3 1.9-1.4 1.4-1.4 2.4-1.9 2.6-4 1.3-1.3 1.3-.9 2-.7 .7-.5 1 0 1-1.5 .7-.5 .6-.1 1.4 .9 .5-.1 1.1-1.3 1.4-.2 .4-1.8 1.2-.9 2-.4 1.4 0 1.6 .6 3.4 .1 1.3-1.3 1.7-.7 2-.3 2.3 0 2.3-.7 2.7-.1 2-.5 .7 .2 1 1 .4-1.3 .6-.6 1.6-.2 1.2 1.1 .8 .2 1-.4 1-1.5 .7-.4 .7 .2 1 1.3 .7-1.4 .6-.5 2.3 .3 2.7-2 .7-.2 1 .1 1-1.3 1.6-1 2.7-.5 3.3 .2 3-1 2-.3 2 .4 1 1.1 .4 .1 2.3-2.6 .7-.3 1.3 0 1.7-1.7 2.6-.5 1.4-2.3 1.3-.9 .7-1.3 2.1-10.5 .9-1.6 .4-2 .7-1.7 1.9-2.4 2.7-5.6 1.3-1 .7-1.3 1.3-1.3 1-.2 1 .5 1-1.4 .6-.3 1.7 0 2-.6 1.3 .3 1.7 0 1.7-.9 1.3 .5 1-.8 2.7-.8 2 .3 2-.3 3 .4 2-.1 .6 .2 1 .9 1.7-1 2.5 .2 .6-.3 1.2-1.2 .7-.4 .7 .1 1 .4 1-.4 1.6 .2 3.7-2.2 4.3-1.1 2-.1 1.4 .6 1-.8 .6-.2 2-.1 3 .6 3.7-.9 2 .3 1 .6 .3 0 .7-.6 .7-.1-.5-2.7 0-1.3 .3-1 1.1-1.4 .4-1.3 1.1-.3 1.2-1.1 .4 .7-.1 1.4 1.1 1.4 .3 .3 1.3 0 .4 .6 .3 2.3 4.3 .3 1.4-.4 1-.8 .6 .1 1.2 1.2 .4 2 1.4 1.6 .4 0 .1-.3-.8-2.7 .1-1 .9-.8 1-.2 .7 .1 .8 .9 .3 2.4-.2 1-1.3 1.3-.1 .7 .5 1 1.3 0 1.3-1.3 1.4-3.1 1.1-1.3 1.2-.8 1 .3 .9-.5 .7-1 .6-2.3 .8-1 1.5-1 5.2-4.6 1.6-.9 .7 .1 .3-.3 .5-2 .5-.5 .7-.3 1.3 .7 1.4-.2 .6-.8 .5-1.6 .9-.8 1-.4 2.3-.1 1-.3 .9-1.7 1.4-1.8 2.7-1.3 2.7-.8 2-1.3 2.3-.8 1.7-.9 1.6-.4 .7 .1 1.3 1 .6-1.8 1.1-.9 1-.3 1 .2 1.3-.2 1-.9 1.8 .1 .9-.7 .7-1.3 1-.8 5.6-2.6 1.8-.3 4.5-3 1.4-1.4 2-.9 1.7-1.2 2-.1 1-.4 1.3-.9 4.3-2.3 2.5-.4 2.2-.9 5.3-1.4 2-.9 1.7 .5 1.3-1.3 1-.6 2.4-.4 3.3-1 2.3-1.2 4.4-.8 .6 .1 1.4 1.2 .3-.3 .6-2 1.1-.8 1.3-.5 1.3 0 1.4 .9 1.3-1.5 1-.6 1.3-.5 1.7-.2 1.3-1.1 2.3 .3 1.1-1.3 1.1-.4 1.5-1 2-.3 2-1.9 3.7-1.3 2.7-.1 1.3 .3 1.4 0 .9-.4 1-1.4 .7-.5 .7 0 .6 .1 1 .8 1.4-.8 1.6 0 1 .3 1.2 1.2 .4 1.3-.1 1.4-1.3 2.3-1.1 1.3-.3 1.7-.8 .9-3.1 1.8-1.5 1.1-1.7 .7-3.3 .9-1.4-.3-1.3 1.3-2 1.4-1.3 .5-4 3.2-1 .4-1.7-.2-1 1.5-1.6 .8-2.1 2.7-1.6 1.2-1 .2-1.4-.9-.6 .1-2.7 2.4-.7 2.3-1.7 3.3-.6 .5-1-.9-.5 1.1-1.5 1.1-1.3 1.5-1 .3-1-.3-.8-.6-.9-1.3-.3 .1-.4 1.2-1 1-2.6 1.6-2 .7-1.7-.5-3.7 3.1-2.7 .8-1.9 1.1-.8 .2-2.2 1.5-3 .4-3 1.7-1 0-1-.3-1.7 .8-1 .2-1.3 1.9-1.7 .8-1.7 1.2-4 2-1 .1-1-.6-.3 .1-.7 1.2-1.3 1.3-2 1.2-2.3 .8-2.4 1.6-3.7 1.4-2.3 1.6-1.3 .2-1.3-.4-.4 .2-1 1.3-1 .4-.6-.1-1.2-1.2-.5 0-1.7 2.4-1.3 .7-1.4 .3-.2 .3-.1 1-.6 .6-.7-.2-.7-.5-1.6 .7-3 .2-1.7 .5-2.4 0-3.4 2.7-.9 1 0 .6 .4 .4 1.3 1 1.3 1.8 .4 .1 1.3-1.8 1.7-.4 1.6 0 1.4-.5 1 .2 1.3 1.4 .5 .2 1.2-1.5 2-.5 1.3 0 .7-.7 1-.5 1 .4 .6 .8 .7 2.3 1 1.2 .9-2.2 .8-.9 1-.3 1 .3 .7 .6 .5 1 .4 3.3-.8 2.7-.7 1-.8 .5-.7 0-.8-.5-1.2-2.2-.3 .1-.7 1.4-1.3 1.2-.7 .2-1.3-.3-1 .8-.7 .3-2.3-.2-.6-.6-.7-2.1-.4 .1-1.3 1.4-1 .5-4.3 .3-1.7-.4-3 .2-5.7-.4-4 1.6-1.6 .3-1.4-.1-.7 .2-2.6 1-2 1.5-2.3-.3-2.7 2.2-1.3-.1-.7-.5-.3 .2-.7 1.1-1.7 1.5-1.2 .4-1 1.7-1.4 1.5-.7 .4-1.1 .1-1.6 3.8-.5 1.9-.8 1.2-2.3 1.6-2.4 .4-1.3-.4-1.5-1.5-.8-.4-2 2.2-1.8 .9-1 2-1.2 1.8-.8 2.2-1.9 1.8-1.7 .4-1-.1-1.3-.6-.9-.9-.4-1.8-.4-.5-3.6-1.4-2-1.1-1.4-1.1-1 .3-1.7 2.6-1.2 1-.4 .8-.8 4.2 0 2.4 .5 2-.4 2-1.4 2.3-1.4 1.3-1 2.4-1.8 1.8-1 .7-1.4 .3-1.3-.1-1.3 .4-5.4-.2-.6-.1-1.1-.8-.9-.3-1.4 .8-1 .1-.8-.3-.4-.7-.1-.8-.3-.2-.7 .5-.7 1-2 1.1-1.3 .2-1-1-.3 .1-.8 1.5-.9 .5-3.7 .8-2.3-.2-.7-.5-1-1.5-3.3 2.8-1.7-.1-1.6 .5-.7-.1-1-.6-1 0-1.7 .7-1 .9-5.6 2.2-1-.2-1-.9-.7 0-.8 1.7-.5 .5-2 .5-2 1.5-1 .2-1-.1-1.7 1.3-2.4 .4-.5 1.7-1.1 1.8-.5 1.8-1.1 1 1.6 1.2 .5 1.5-.6 1.7-.9 .8-.7 .4-1 0-1-.5-.6-.7-.3-1.7 .2-1 .7-1 1.3-.7-.6-.3-1.7-.1-1.4-1.2-1.2-.4-1.4 .6-1.6 .1-.7 4.3-.7 2.3 .3 1.7-.1 1-.7 1.7-1.1 1.3-2 .5-1.4-.3-.6-.5-1.7-2.1-2-1.5-1-1.3-.6 .2-2.1 2.4-1.6 .4-1.3 1.6-1.4 .9-.5 2.1 .3 1.6 0 2.7-1.2 2-.9 .9-.7 .2-1 0-1-.5-.7-2.3-1.4-1.3-.3-1.3 .1-1.4-1.3-1-.7-.1-1-1.2-.2 0-.7 1-.4 2.7-1.7 1.4-1.4 .8-1.3 .2-.7-.2-.6-.8-.4-.1-1 1.3-.6 .3-1.4 .1-.8 .6-.1 .4 2.3 1.4 2 2.6 2.3 .8 1 .6 1.6 1.9 .4 1.7-.1 1-1.5 3-1.1 .9-1 .5-1.6 .3-1.7-.5-1 .1-1 .4-1.3 1.8-1 .3-1.4-.4-2-1.4-2-.7-1.5-2-1.4-3.3 0-1.7 .7-2.7 .3-2.3 .6-1.3-.1-.4-.6-.2-3 1.8-2 .2-2.6 .7-1-.1-.4 .2-1.6 2.4-2.1 1.4-1.6 1.5-1.6 .5-4.1 1.8-5.6 1-1 .4-1-.1-1-.4-.7 .8-2 1.4-1.3 0-1-.6-1.7 1.2-2 .3-1-.4-.7 1-1.6 1.2-1.7 .4-2.4-.4-2.1 1-1.5 1.2-2 .4-1-.1-1.3-1.4-.4 .2-1 1.4-3 2.6-.6 .3-2.3-.2-1.7 2 1.6 .5 2 1.1 1.7-.6 3.3 .4 1.2 .9 1.2 .2 1.6 1.1 2-.8 2.4-.1 1.3 .4 1.3-.7 .7-.1 .7 .2 2.2 1.5 3.4-.7 .7 .1 1.7 .9 1.3-.6 1 0 1.7 1.1 2.3-.4 1.7 .4 2-.6 3 0 1.3 .2 1 .5 2-.6 4.3 .5 1.4 .4 1.6-.3 2 .1 2 .6 1.4-.6 1.3-.1 1.7 .8 2 0 1.3 .7 1.7-.1 .6 .3 .9 .7 .8 2.1 .3-.5 .4-2.3 .5-1 .5-.5 1-.4 1-.2 1 .3 1.3 1.6 .3-.1 1.4-2.1 1.6-.7 1.4 .2 .6 .6 .6 1 .8 3.8 .7-2.1 1.2-1.7 .7-.6 1-.1 .7 .4 .9 1.3 .4 1.2 .4-.2 .4-1 .9-.9 .7-.4 1.3 0 1.1 .6 1.1 1.7 .5 2.7-.2 2-.6 1.6-1.2 1.5-1.4 .4-1.3-.4-.8-.8-.6-1.7 .1-3.3-.4-1.5-.8 5.8-.4 1-.8 .7-1.3-.1-.8-.6-1.1-1.3-.4-1.6-.4-.5-1 1.7-.6 .3-.4-.2-.6-2.5-.7-1.1-.4 .2-.2 1.4 .2 1.6 .6 1.4-.1 .6-.8 .5-.6-.2-.6-.9-.4-1.4-.4-.1-.6 2.5-1.7 1.1-1.3-.3-1.5-1.2-1.2-2.6-1.3 1.6-1.7 .3-1.4-.9-1.6 1.4-2.7 .6-.6-.1-2-1-1.4 .6-.6 0-1.6-1.9-.4-.1-.4 .1-1.3 1.6-.7 .3-1.7 .1-2.3 1.9-2.6 .4-1.4 .5-1 0-1-.4-2 .4-2.6-.7-1.7 .6-1-.1-1.3-.4-1.7 .6-2-.5-1.7 .5-2.3-.8-3 .7-2.3 1.2-2.6 .1-1.1 .3-.2 1.4-.8 .5-.8-.5-.1-1 .3-.7-1.1-1.5-1.3 1.2-1.7 .6-2.1 .1-2.5 .6-2.4-.2-1.5-1.1-.8-.2-.5 .2-1.2 1.3 1.2 1 .4 1-.4 1-.8 .4-1-.2-.7-.8 0-1 .8-1.4-.1-.3-.4-.3-1.3 .2-1.7 1-1.6-.3-1.4 .2-1-.5-1.3-.1-1-.3-.8 1.4-.9 .6-2-.8-1.3 .8-1.7 0-1.6 .5-1-.3-1-1-.4 .2-.6 1-.7 .2-1-.1-.3 .1-1.4 1.4-.6 .3-1.7-.6-2 1.5-1 .1-1.7-.4-.6 .2-1 .8-1-.5-2.2 3.4-.2 4.3 1 3.9 1.3 2.1 .1 2.7 1.3-.2 .7 .5 1.2 4 .5 2 .1 1.7-.2 6-1.2 3.3-1.3 2-2.1 2.1zM154 341.9l-.7 .2-.4-.3-.2-.6 0-2 .6-.6 .7 .2 .3 .7 0 1.7zM205.7 346.7l-.7-.1-.3-.8 .3-.9 .7-.3 .5 .2 .4 .7-.2 .7zM317.3 349.9l-1 .1-1.4-1.5 0-.7 .6-1.3 .5-.6 .7-.3 1.2 .9 .4 .7-.4 2zM38.3 349.9l-1 .1-.6-.8 0-1.7 .6-.6 1 .2 .8 1.1 0 .6zM149 360.2l-2 .2-.7-.3-2.1-2.3-.6-2 .3-2 1.1-2 1.1-3.3 .9-.9 1.3-.3 1.7 .2 .9 1 .7 4.3 0 2.4-.4 1.6-1 2.4-.5 .7zM415.3 356.1l-1 0-.8-.9-.5-1.4 0-2.3 .1-1 .6-.9 1.6-.6 .7 .3 .6 .9 .4 2-.5 2.6zM89.3 353.9l-1-.4-.2-.7 .2-.3 1.2 .3 .2 .7zM503 360l-1 .1-.7-.4-.4-.5-.3-1-.1-2 .2-.7 1-1 .6-.2 1 .2 .9 1.3-.6 3.4zM569.3 369.4l-.6-.2-.7-1 0-3.4-.3-2.3 .4-2 .6-1 .6-.5 .7 .2 .4 .6 .6 3.4-.2 2.6-.9 3zM496 367.8l-.9-.3-.6-2.3 .6-2 .9-.8 .7 .2 .7 .9 .3 2.3-.4 1.4-.6 .5zM487.3 369.5l-.6 .1-.7-.8 .1-2-.4-2.3 .3-1 1-.7 .7 .1 .9 .9 .4 1.7-.2 1.7-.6 1.3zM461.3 365l-.4-.2 0-1 .4-.3 .2 .3zM493 367.6l-.3 0-.3-.4-.6-2 0-.7 .5-.6 .7 .1 .5 .8-.1 2zM147 367.2l-.7-.1-.6-.9 0-1 .6-.6 .7 .2 .3 .4 .1 1.3zM454.3 371.6l-1-.2-1.5-.9-.3-1.3 .3-1.4 .9-1.1 1.6-1.1 1.7-.3 1.3 .2 1.1 1.3 .1 1-.3 1-.3 .7-1.2 1.1zM412 373.5l-2 0-1-.7-.8-1.3-.4-1.7 .4-2 .8-1.1 1-.5 1.3 .3 1.7-.6 .7 .3 .5 1 0 2.6-1.1 2.7-.4 .6zM419.7 374.3l-.7 .1-.8-.6-.4-.6-.5-2 .3-2 .8-1.4 .9-.6 .7 .3 .5 .7 .7 2.6-.3 2zM557.3 374.8l-1 .2-1.3-.8-1.3 0-.5-.4-.2-.6 .1-1.7 .9-2.7 .7-.8 1.3-.7 .7 0 1.6 1.1 1.4 1.8-.2 1.6-.4 1-.8 1.4zM446 369.4l-1 0-.3-.6 .1-.3 .5-.3 .7 .1 .3 .5zM402.3 373.6l-.8-.4-.4-.7 0-1 .8-1.7 .8-.3 .9 .7 .3 2-.6 .9zM132 373.9l-.7-.1-.6-1.3 .2-1.3 .4-.5 .7-.1 .7 .4 .3 .8-.4 1.4zM413.7 389.2l-1-.1-.7-.6-1.2-3.7 .3-4 .3-1.3 .6-.7 1-.5 .7 .1 .8 .8 1 2 .4 1.6 .1 2-.4 2-.9 1.7zM149.3 408.3l-1 .2-.6-.2-1.3-1.5-.4-2-1.1-3-.4-2 0-1.3 1-5.7 .3-3.6 1-4 .4-.7 1.1-.7 .9-2 1.5-1.5 .6-.3 .7 .3 .7 .6 1.1 1.6 1.1 4.3 0 2-1.1 3-2.3 13-.7 1.7zM189.3 384.9l-1 .2-.6-.9 0-2.4 .4-.6 .6-.3 .9 .6 .3 1.3-.3 1.7zM142.3 387.8l-1-.2-.7-.8-.3-.6 .1-.7 .7-1.3 .9-.6 1 .5 .4 1.1-.2 2zM137.3 389.5l-1-.1-.6-.9 0-2.7 .6-.6 1 .1 .7 .9 .3 2.3-.4 .7zM185 397.5l-2.3 .1-3.7-.6-1.7-.9-2-.3-.6-.4-.9-.9-.9-2.3 0-2 .6-1.4 1.2-1.3 .6-.3 .8 .6 .2 1.2 1.1-2.5 .6-.6 .7-.2 2.6-.3 1.7 .5 1.3-.5 1.4-.1 2.3 .3 1.7 .8 2.2 2.4 .6 1 .1 1.7-.4 2-.9 1.4-1.6 1.4-.7 .2-.7-.1-1-.9-1 1.6zM418 393.6l-.7 .2-.7-.6-.9-3.7 .1-1.3 .6-1 .6-.5 1 .2 .9 1.3 0 1.6-.6 1.4zM206.7 392.9l-1-.3-.4-.4-.3-2 .4-1.7 .9-.9 .7-.2 .7 .2 1.3 1.1 .3 1.5-.1 .6-.8 1.4-.7 .5zM429.7 389.5l-.7 0-.5-.3-.2-1 .4-.6 1.3 0 .6 .6-.1 1zM113.7 390.6l-1 .1-.4-.5 0-.7 .4-1.3 .3-.4 .7-.3 .5 .3 .2 1-.2 1zM313.7 392l-.8-.2-.6-1 .2-1.6 .8-.7 .7 .2 .2 .5 .1 1.3zM555.7 392.9l-.7 .1-.6-.5 0-1.3 .6-.6 .7 0 .3 .6 0 1zM38.3 394.5l-.3 .2-.7-.1-.6-1.1 0-1.3 1-.9 .9 .5 .3 1zM200 394l-.3 0-.5-.5 .1-.5 .4-.3 .3 0 .3 .5zM512.7 394.6l-.4 .1-.5-.2-.1-.7 .3-.5 .7-.1 .5 .6zM318 407.9l-1-.3-.6-.8-.5-2-.2-2 .7-3 .4-3 .5-.9 .7-.3 1 .3 .8 1.3 .5 3 .1 2.6-.3 2.4-.6 1.6-.8 .9zM311.7 401.6l-.4 .1-1.3-.6-.6-.6 .3-.9-.2-1.1 .4-1 .4-.7 .7-.3 .8 .3 .8 1.4 0 1.6zM305.3 404.5l-1-.1-.6-.9-.2-1.7 .3-1.3 .5-.6 1-.1 .9 .4 .5 .8 .2-2.2 .6-1.3 .5-.6 .7-.2 .4 .5 .1 .6 .1 3.4-.2 1.3-.4 .8-.7 .4-1-1.2-.3 .3-.7 1.3zM483.3 406.6l-.6 .2-.5-.3-.1-.7 .6-.9 .3 0 .5 .3 .2 .6zM312.7 415.7l-.7 0-.7-.4-.8-1.5 .2-3 .6-.8 .7-.3 .7 .2 .5 .6 .5 1.7-.1 2.3zM151.7 440.9l-.4 .1-.6-.2-1-.8-.7-.9-1.3-.5-.5-.4-.8-2-1.1-4.4-.5 2-1.1 1.4-.4 .2-1 .1-1.1-.7-.6-1-.9-3-.2-2.6 1-4 .5-.8 .7-.5 .6-.1 .7 .4 1 1.3 .3-2-.5-1-.1-1.3 .6-1.4 .2-2.6 1-2.4 1.2-.9 1.6 .8 2-2.2 1-.5 1.4-.1 1 .1 1.6 .7 1.7 .9 1.2 1.2 1 2.7 .9 3.7-.7 2-.4 .3-.7-.3-1-1.8-.3 2.8 1.2 3.3-.3 2-2.9 5-1.8 5.3zM308.3 417.2l-.6 .3-.6-.3-.8-2.4 .5-2.3 .5-.7 .4-.1 .7 .5 .6 1.6 0 2zM239.3 436.2l-1.3-.2-2-1.3-2.3-.7-1.4 1.7-1 .3-2.3-.2-.7-.4-.6-.9-.4-2.7 .5-5 .7-3 0-6-.4-2 .2-1 .7-.5 1.3-.4 5.4-.9 3-1.1 .6 0 4.7 .8 2 1.2 3 2.9 .9 1.7 1.1 5.7-.5 3.6-2.9 5.7-.6 .5-.7 .1-1.6-1.1-2.4 2.7zM139.3 421.2l-1-.4-.8-1-.7-1.3-.4-1.7 0-1 .7-1.6 .9-1 .7-.2 1 .4 .4 .8 .4 3 0 2-.3 1.3zM452.1 414.5l.2-1-.3-.4-.7 .1 .2 1.3 .2 .3zM315.3 420.2l-.5-.4-1.1-1.6 .1-3 .4-.7 .5-.2 1 .3 .5 1.2 .2 3-.4 1.1zM321 420.1l-.3 .1-.4-.4-.2-.6 .1-1.4 .5-.5 .6 .2 .2 1 0 1zM340 418.7l-.7 .1-.5-.3 .1-.7 .4-.3 .4-.1 .5 .4zM501.3 421l-.3 .1-.5-.3-.2-2 .4-.5 1.6-1 .7 .5 .4 1.4-.7 1.1zM490.7 421.1l-.9-.3-1.1-1.4-.7 .4-.3-.1-.4-.9 .4-.9 .6-.1 .7 .6 1-.5 1 .6 .3 .7 .1 .6-.2 .7zM329 422.9l-.7 .2-.3-.3-.4-1.3 .3-2.7 .4-.5 .4-.1 .5 .6 .4 1.4-.3 2zM104.7 424.7l-.7 .1-.9-.6-.1-1 .7-.8 1 0 .7 .8 0 .6zM169.7 425.7l-1 .1-.9-1-.1-1.3 .1-.7 .5-.5 1 0 .9 .9 .1 1.6zM311.7 431.3l-1.4 0-.8-.8-.4-1 0-1 .4-1 1.2-.9 .6-.1 .7 .4 .6 .6 .2 .7-.2 2.3zM330.7 431.6l-.7-.1-.4-.3-.2-.7 .3-.5 1-.2 .5 .4 .1 .6zM178.7 463.3l-1.4 .1-3-.7-1.6-.9-1.6-1.6-2.2-6.4-.9-5.1-.3-.9-2.5-3.3-1.4-4.7 0-2.3 .3-1.3 1.1-2 .8-.6 1-.4 2.3 .3 1.4-1.5 1.3-.8 1.3-.1 1.4 .1 1.6-.4 1.7 .2 1.7 .5 2.3-.3 2.3 .5 1.4-.3 1.6 .2 2.7 2.3 .9 1.3 2 5.6 .4 2.7-.1 2.7-3.3 8.6-1.5 2.4-1.4 .6-1.3 1.5-.7 .5-1.3 .3-1 .9-.7 .3-1.7-.2-.8 1.7zM290.7 434.5l-1-.1-.6-.6 0-.6 .6-.7 .6 0 .8 .7 .1 1zM311.7 449l-1.4 .2-1-.5-2.4-2.9-.6-2.3-.1-2.7 .5-2.3 1.7-2.3 .6-.6 1-.4 1 .1 1.4 .9 1.5 2 .5 1.6 .2 4.7-.1 1-1 2-.8 .9zM326.7 441.9l-.7-.1-.6-.6-.2-1.7 .5-1.1 1-.3 .8 .4 .6 1.3-.2 1-.4 .7zM122.3 443.3l-1 0-.7-.8-.2-.7 .1-1 1.2-1 1 .4 .6 1-.1 1zM146.3 459.2l-1-.2-.4-.5-.9-4.5-1-.6-.3-.6 .2-2.3 .4-1 .7-.7-1-.3-1.1-1-.3-.7-.1-1 .4-2 .4-.7 .7-.5 1 .1 .8 1.1 .5 1 0 2.4 .3 .3 1.4 .4 1.6 1.6 .8 3-.7 4.7-1 1.3zM151 449.9l-1-.2-.6-.5-.5-1-.1-.7 .4-1.7 .7-1.3 .8-.8 .6-.2 .7 .2 .5 .5 .7 1.6 .1 1.4-.1 .6-.6 1-.9 .9zM321 449.9l-.7 .1-.6-.4-.6-1.1 .1-1.3 .5-.9 .6-.4 1 .4 .6 1.2 0 1.3zM412 454.9l-1 .1-.7-.4-2.1-3.1-.3-.7 .2-2 .8-1.3 1.1-.9 1-.3 1.3 .4 1.2 1.1 .4 .7 .3 2 0 1-.8 2.3-.4 .5zM437.3 452.7l-.6 .1-.5-.3 0-.7 .5-.4 .8 .1 .2 .7zM414.7 468.5l-1.7 .2-1.2-.9-.4-1 0-3.6 .8-2.7 1.2-2 1.2-1.3 .9-2.4 1.2-1.2 .6-.1 .7 .4 .4 .9 .8 3.7 .3 3.3-1 3.4-1.1 1.6-1.7 1.5zM149 489.6l-1.7-.5-.8-.6-.8-1.3-.4-1.8-.6-1.6-.7-.6-1-.2-.9-1.5-.1-2.3 .8-8.7 2.4-6 .8-1.3 1.7-1.2 .8-1.5 .8-.9 1.7-.8 2.3-1.6 3.4-.9 .6 .2 1 1 1.7-1.6 1-.2 3.3 .6 2 .9 .8 .6 2.1 2.7 .3 .7 .4 3.3-.4 1.3-1.8 2.4-3.4 1.5-2 .1-1.6 1-3.4-.6-1.6 1.3-1 0-1-.3-.4 .4-.4 2.9-1.3 2.7-.9 1.2-.3 1.1 .3 8-.5 1.3zM440 468.9l-1-.1-1-.7-.9-1.3-.3-1 .3-3 1.1-3.6 .9-1.7 .9-.4 1.7 .9 .5 .5 .9 3 0 2.7-.4 2-.5 1-1.2 1.2zM128.3 467.8l-1 .2-1.2-.8-.7-1.4-.6-2.3-.1-3.3 1-1.1 1.6-.8 .7 0 1.3 .7 .9 .8 .4 1-.1 2-.7 3.4-.7 1zM432 466.3l-1-.5-.4-1.3 .3-2.3 .4-.6 .7-.2 .7 .2 .6 .6 .5 1.6-.3 1.4-.8 .8zM446.7 468.3l-.7-.2-.9-1.3 .3-3.3 .4-1.3 .5-.6 .7-.2 1.3 .7 1.4-.2 .3 .3 .2 .6-.2 .7-.7 .7-.3 2-1.7 1.7zM92.7 464.2l-.4-.1-.3-.6 .1-.7 .6-.3 .6 .3 .2 .4-.3 .6zM113.7 475.6l-1-.3-1.3-1.1-.6-2.4 .2-4.3 1.2-3 .8-.8 .7 .1 .8 .7 .6 2-.5 2 0 2.7 .2 1.3-.2 1.7-.4 1zM252.7 467.3l-.9-.5-.5-1 .3-1.3 .7-.5 .7 .2 .4 1-.1 1.6zM409.7 466.1l-.7-.1-.3-.5 0-1 .6-.6 .7 .2 .5 .7-.2 .7zM239 467.2l-.6-.4-.1-1.3 .2-1 .5-.3 .6 .3 .4 1-.2 1zM499.7 480.7l-.5-.2-.2-.7 .5-3.3 1.3-3.3 .5-.4 .6 .4 .1 .6-.4 3.4-.3 1zM137 477.2l-1 .2-.7-1.6 .3-2 .3-.6 .4-.3 .7 .2 .3 .7 0 2.7zM98.7 479.4l-.7 0-.3-.6 .1-1.3 .5-.3 .6 .3 .4 .7-.2 .6zM328 481.4l-1-.2-.5-.7 .1-1 .7-.5 .7 .1 .6 .7-.1 1zM212.7 490.5l.4-1-.1-2.3-.3 .8zM192.7 498.7l-1.4 0-.8-.9-.6-1-.6-2.6-.1-1.4 .5-2.6 .8-1.4 1.2-.6 .6 .1 1 .9 .5 2-.9 2.6 .1 .7 .8 1-.2 1.7-.3 1zM182.3 498.2l-1.3 .1-.7-.4-.6-.7-.3-1.4 0-1.6 .7-2.7 .6-.8 1-.3 1 .2 .6 .6 1.2 3.3-.6 2.3-.9 1zM412.7 511.5l-2.7-.2-1.3-.5-2.7-.2-.7-.2-1-.8-.3 .1-.4 .8-.6 .5-1.7 .3-2.6-.9-1.7 0-1.3-.9-2.7-.8-1.1-.9-1.8-2.3-1.3-2.3-.3-2.7 .3-2 .6-1.3 3.9-3.6 3.7-1.2 1 .4 .7 1.2 .3 0 2-1.7 5.1-.1 6.2-1.9 1.4 .2 1.6 1 1.7 .4 2.6 2.3 1.2 1.6 1 2.7 .3 4-1 2.7-1.2 2.3-1.9 1.4-1 1.6-1.3 .8-2 0zM177 502.8l-.7-.1-.8-.9-.5-2 .9-3.3 .4-.6 .7-.2 1 .5 .6 1 .4 3-.1 1-.6 1-.6 .5zM456.3 499.4l-.6 0-.4-.2-.3-.7 .3-.5 .7-.2 .5 .4 .2 .6zM347.7 510l-1 0-.9-.8-.2-1 .2-1.4 .5-1.3 .5-3 1.6-2.3 .6-.4 .7-.1 .8 .5 .4 1-1 6-.7 1.6zM165.3 511l-.6 .1-.9-.9-.5-2-.1-4 .9-2.7 .9-1.2 .7-.3 .6-.1 1 .5 .9 1.1 .7 2 .4 3-.8 2.3-.5 .7zM185.7 507.8l-1.7 .3-1.1-.9-.4-1-.1-1 .3-1 .6-.9 .7-.4 1.7 .1 1 .3 .9 1.2 .2 1-.2 1-.9 .9zM314.3 515.5l-1 .1-1.2-.8-1.2-3 1.2-6.3 .7-1 .9-.4 2.1 .7 .5 .7 .5 2-.2 3.7-.4 2-.7 1.3zM293.7 526.3l-1.4 .2-1-.1-.6-.6-.7-1.3-.7-.7-1.6 .7-1-.3-1.4-1.1-1-1.4-1.3-.3-1-.9-.9-2-.1-1.7 0-1 1.2-3.3 1.9-3 1.2-1.4 4-2.7 1.4-.4 2 .2 1.3-.4 1 .2 .5 .5 .8 3.7 1.4 1.1 .6-1.3 1.4 0 .5 .8 .1 1-.7 3.7-.1 2-.9 3.3-1.1 3-1.2 1.9zM125.3 514.9l-1-.1-.4-.3-.2-.7 0-1.3 1-.8 .9 .5 .7 1.3-.3 .9zM134.7 517.6l-1 .1-.6-.9 .2-1 .7-.4 .7-.1 .6 .5 0 1zM140.3 517.5l-1 .2-.6-.4-.4-.8 .4-.9 1-.3 .6 .2 .4 1zM496.7 523.5l-.4 .2-.5-.2-.8-1.3 .1-1.4 .9-.9 .7 .1 .3 .5 0 2.3zM116.3 522.4l-.6 0-.4-.6 .1-1 .6-.4 .3 .1 .5 .7 0 .6zM253.7 531.8l-1 .4-1.7-.8-3-.1-1.3-.6-1-.9-1.2-2-.2-2.3 1.7-2.5 1.3-.6 1.4 .3 1.6-.4 1 .3 1.9 1.2 .6 1 .2 1.4 1.3 3-.1 1-.3 .6zM109.3 525.2l-.6 .3-.5-.3-.2-.7 .3-.6 .7-.1 .6 .4 0 .6zM96 529.1l-1-.2-.9-1.7 0-1.4 .6-.5 2 .5 .4 .4-.1 1.3zM414 528.7l-.3 .1-.2-.3-.1-.7 .3-.3 .3 0 .2 .3zM191.2 531.5l.3-.3-.8 0-.4 .3zM356.7 545l-1.4-.3-1.1-1.5-.5-1.7 0-2-.3-1 .3-3.3 .4-1.4 .6-1 1.3-1 1 .2 .8 .8 .8 2 .4 3.4 0 1.6-.8 3.4-.5 1zM317.3 546.6l-1-.4-1.5-1.4-.7-1.6-.3-1.7 .3-1.3 .8-1.7 .3-3.3 1.1-1.3 1-.2 1.4 .2 1.1 .9 .5 1.7 .2 3.7-.3 2.3-.8 2.3-.7 1.1zM368.3 546l-1.3 .2-.7-.2-.6-.8 0-1.4-.3-.6-.7 .3-.7-.2-.8-1.5 0-4.3 .9-2.3 1.2-1.3 .7 .1 1.9 1.8 1.4 .4 1 1.3 .5 2.3 0 .7-.9 3.3zM416 547.3l-1.3 .1-.9-.9-.6-2-.2-1.8-.3-.2-.6 1.7-.8 .8-.6 .4-1 0-.7-.3-1.2-1.3-.7-2 0-3.6 .4-1.7 1.2-1.2 1-.3 1 0 1.3 1.2 .6 1.3 .4 3.7 1.5-3.4 1.2-1.7 .6-.2 1.4 .7 1-1.7 .3-.1 .5 .4 .5 1 .2 3.6-.4 1.4-.8 1-.7 .1-.6-.5-.8 4.4zM310 547.5l-.7-.1-.8-.9-.5-2.7 1.2-5.3-.1-2.3 .6-.8 .6-.2 .7 .2 .4 .8 0 2 .8 4.6 .1 1.7-.8 2.3-.8 .6zM298.7 545.6l-1 .1-1-.4-.8-.8-.6-1.1-.3 .1-.8 1.7-.5 .5-2 0-1-.6-.7-.9-.6-2.7 0-1.3 1-2.4 .6-.2 1.3 .5 1.7-.2 .5 .9 .2 2.3 .2-.6-.1-1.3 .6-1.4 1.3-1.4 1-.4 1-.1 1.6 .7 .9 1.2 .5 1.9 .3-.1 1-1.3 1-.1 .7 .3 .4 .7 .1 1-.6 2-1.6 1.6-1.3 0-1 .9zM317.7 541.5l.6-2-.3-2.3-.3 .2-.3 2.1 0 1.7zM344 543.6l-1.3-.2-1-.5-1 .1-.8-.5-.6-1.7 .1-1.6 .3-.5 2.3-1.3 .7-.1 1 .4 .9 .8 .6 1 .4 2-.5 1.3zM445 546.6l-.7 .1-.7-.5-.5-1-.3-1.7 .1-1.3 .6-2 .8-.9 .7 .2 .8 1.3 .6 2.7 0 1-.5 1.3zM488.3 542.7l-.6 0-.7-1.2 .1-1.7 .2-.4 .7-.2 .7 .2 .3 .8-.1 1.6zM380.3 540.3l-.4-.1 .1-.5 .6 .1zM402 545.3l-1 .1-.7-.4-.9-1.5 0-2 .6-1 1-.6 1 .1 .6 .5 .9 2-.4 2zM333.7 543.5l-1-.3-.4-.7 .1-1.7 .6-.6 .9 .3 1.1 1.3-.3 1.2zM587.7 542.4l-.6-.2-.2-1 .4-.8 .7-.1 .3 .2 .2 .7-.5 1zM328.7 542.2l-.7 .3-.2-.3-.1-.7 .3-.7 .3-.1 .6 .5zM392.7 544l-.7 .1-.6-.6 0-1.7 .6-.5 .7 .1 .5 .8 .1 1zM186.7 558.6l-.4-.2-.3-.6 0-.6 .3-.3 .7 .2 .2 .4 0 .7zM105.7 568.9l-.7 .1-1.7-.3-1.6 .4-1.7-1-.6-.6-.2-1.3 .9-2.4 .9-.5 1 .4 .3-.4 .5-1.8 1.2-1.2 4-2 2.3-.7 2-.2 1.4 .2 .6 .4 .9 1.2 .3 1-.3 1.3-1.4 2.3-1.8 1.8-2.3 1.4-1.7 .5zM169.3 559.9l-1 0-.7-.7-.2-.7 .3-.7 1.3-.4 .8 .4 .2 1.4zM93.3 573.3l-1.6 0-.7-.3-1.3-1.2-.3-.6-.2-2.7 .2-1.7 1.4-2.3 2.5-2.4 1-.5 1.7 .1 1.4 .8 .9 1.7 .2 1.3-.3 2-.7 2-.6 1-1.6 1.5zM81 575.2l-1-.2-.9-1.2-.2-2 .2-1.3 .8-1.7 1.1-1 1.6-2.6 1.4-.9 1 0 .7 .5 .6 1 0 1-.4 1.4-1.7 4-1.2 1-1 1.5zM49.3 569.2l-.3 .2-.5-.2-.2-.7 .4-.5 .6 .1 .3 .4zM412 571.6l-.7-.2-.4-1.2 .3-1 .8-.5 .6 .5 .2 1-.3 1zM110.3 585.5l-.6-.1-.8-.9-.4-1.3-.1-3.4 0-1.3 .5-1 .4-.6 .7-.3 .8 .6 1.2 2.6 .1 1-.5 3.4-.6 .9zM245 579.3l-.7-.1-.3-.7 .1-.7 .6-.3 .6 .2 .3 .5-.2 .6zM58.7 583l-.4-.2-.3-.6 0-2 .2-1 .8-.4 .3 .4 .4 2-.4 1.3zM134.7 580.9l-.7 .2-.5-.3-.2-1 .4-.8 .6-.1 .6 .6 .1 .7zM75.3 588.9l-1-.2-.7-.9-.5-1-.1-1.3 .1-1 .6-1 .6-.6 1-.1 .7 .1 .8 .9 .3 2-.3 2-.8 .9zM312.3 592.2l-.6-.1-.7-.6-.6-1.7 .1-3.6 .4-1.7 .8-.7 .9 .4 .7-.1 .7 .2 .5 .5 .4 1.7-.3 3-.4 1-.9 1.2zM85 596l-.6-.5-.2-.7 .3-1 .5-.4 .6 .4 .1 .7-.2 1zM165.3 598.3l-.6 .1-.9-.9 .3-1.7 .2-.4 .7-.4 .7 .4 .3 .8-.1 1.3zM63 599l-.7 .1-.6-.6 0-1.7 .6-.5 .8 .2 .5 1-.2 1zM148 604.9l-1.3 0-1-.7-.9-1.7-.6-2 .2-2 .6-.6 .7-.4 2.3-.5 1.1 .5 .7 1.3 .1 .7-.7 4-.5 1zM155.7 600l-.7-.1-.3-.7 .1-.7 .5-.3 .7 .1 .3 .5-.1 .7z" stroke="#0000ff" stroke-width="1.0" fill="none"/>
<path d="M414.5 327.5l.5-.6 .3 0 .6 .6M591.3 342.6l-.6-.1-.3-.3 .1-2.4 .3-1 .5-.5 .7-.3 .7 0 .5 .5-.7 3-.4 .7zM83.2 551.8l.1 1.4-.6 .7-.7-1.3-1.7 0-.2-.4 0-.7M209.7 496.4l-.7-.5-.2-.4 .1-1.3 .4-.8 .4-.1 1.3 .4 .7 1.9M252.3 469.6l1.4 .3M412.5 400.5l.1-.3 .4-.2 .3-.1 .4 .3M441.7 400.2l1 0M451.2 392.5l.5-.9 .6 0M583.6 346.8l-.3 .8-.6 .4M578.7 350.7l-1.5 .5M474.8 413.8l.5 2.3 .7 .8M372 469.7l-1.7-.5-.6 .3-.7-.1M313.3 484.5l-.1 1.3M158.6 572.8l.4 .1 .3 .6M317 349.2l-.7 0-.5-.7-.1-.7 .6-.8 .7 0 .5 .5-.2 1.3zM415 355.6l-.7-.3-.3-.5-.4-1.3-.1-2 .7-1.3 .5-.4 .6-.1 .8 .8 .4 2-.5 2zM502.3 359.6l-.6-.3-.5-.8-.1-2.3 .6-1 1-.3 .6 .4 .3 .9-.5 2.6-.4 .7zM569 368.3l-.3-.5 .2-1-.3-2.3M568.4 363.5l-.1-1 .2-1.3 .8-1.4 .5 .4 .5 2M570.4 364.5l-.3 1.3-.6 1-.2 1.2-.3 .3M496 367.2l-.5-.4-.4-1.6 .5-1.7 .4-.4 .4 .1 .5 .6 .2 2-.4 1zM487.7 367l-.4 .1-.3-.3-.5-1.3-.2-1.3 .7-.8 .9 .4 .5 1.4-.1 1zM452.7 370.5l-.6-.7 0-1.3M557.3 374.2l-1 .2-1-.7-1.3-.3-.4-.6 .1-1.3 .8-2.3 .5-.7 1-.5 .7 0 1 .6 1.4 1.6-.3 2-.8 1.3zM419.7 373.5l-.7 .2-.6-.5-.6-2 .4-1.7 1.1-1.3 .5 .3 .7 2.3-.1 1.7zM402.7 372.7l-.7-.1-.2-.8 .2-1 .7-.4 .4 .4 .1 1zM146.1 392.5l.2-1.7M147 386.8l.7-1.5 .3-.2M174 393.2l-.5-1.4 .2-2.1 .6-.8 .7-.3 .8 1.2M417.3 391.1l-.6-.8-.5-1.5 .5-1 .6-.4 .6 .4 .2 .7zM207 392.3l-.7 0-.5-.5-.3-1.3 .4-1.7 .4-.5 .7-.2 1.4 1.1 .3 1-.7 1.5zM318.3 407.2l-.6 .1-.7-.5M319.5 399.8l.3 1.7 0 2M311.3 400.3l-.6-.5-.3-1 .2-1 .4-.4 .7 .3 .2 .5-.1 1.6zM308 402.6l-.3-.2-.2-.6-.1-2.6 .6-1.1 .3 0 .4 3.4-.2 .7zM305.3 403.9l-.7-.1-.5-1 .1-2 .8-.5 .7 .2 .5 1-.1 1.3zM312.7 414.9l-.7 .2-.6-.6-.3-.7 .1-2.6 .4-.7 .4-.2 .7 .4 .4 1.1 .1 1.7zM143.7 434.5l-1 .4-.8-.4-.6-.9-.6-2.2M145.8 414.5l.9-.7M158.9 417.5l.4 1.3M159.5 419.5l0 1-.5 .6-.3 .2-.4-.5M315.3 418.9l-.9-.7-.1-.7 .1-1.7 .6-.6 .4 .3 .3 1.3 0 1.7zM311.7 430.6l-1 .2-.7-.6-.3-.7 0-1 .3-.7 1-.7 .7 .2 .5 .9 0 1.6zM168.5 448.2l-.5-1M326.7 441.3l-.8-.5-.1-1 .2-.8 .7-.3 .6 .5 .2 .6-.2 1zM233 460.8l-.8 1.4M151.3 449.2l-.6 .1-.7-.3-.4-.5-.2-1 .8-2.3 .5-.7 .6-.3 .8 .6 .6 1.4 .1 1-.5 1.1zM320.7 449.3l-.7-.2-.4-.9 .2-1 .5-.5 .4-.1 .5 .6 .2 1-.2 .6zM143.8 451.8l-.3-.6 .3-.7M128 467.4l-1-.2-.7-.7-.9-2.7-.1-1.3-.1-1.7 .2-.6 .9-.9 1-.4 .7 0 1 .6 .7 .7 .3 .6-.1 2-.4 2.4-.5 1.3zM440 468.3l-.7 .1-1-.7-.8-1.2-.1-.7 .4-3 .6-2.3 .6-1 .7-.5 2.3 1.1 .5 1.4-.2 1.9-.3 .7-.1-.3-.6-.1-1 .6-1 .2 0 .7 .4 .6 1.6 1-.6 1zM432 465.5l-.7-.3-.1-1.4 .2-1.3 .6-.5 .8 .5 .4 1.3-.3 1zM447 467.3l-.7 0-.4-.5-.1-.6 .4-3.4 .4-.6 .4-.2 .7 .3 .5 .5 .4 .7 0 .7-.1 1.6zM111.4 468.8l.2-1 1.2-3 .5-.4 .7 .4 .5 1.4-.5 3.3M114 474.1l-.3 .7-.4 .1M441.3 466.7l-.2-.2 .2-.1zM370.4 468.5l-.1-.8 .1 .8zM211.3 490.9l-.3 0-.3-.8M215 487.1l-1 3.7-.3-3.3M199 481.2l-.5-1M198.4 477.8l.6-.9 .4-.1M192.3 498.2l-.6-.1-.7-.6-.4-.7-.3-1M191.8 494.8l.2 1 .7 .1 .3 .6 0 1-.7 .7M312.7 492.5l-1.4 .3-.6-.4-.5-.6-.1-2 .9-1.1 1.3-.1 1.3 .9 .2 1.3-.3 1zM182.3 497.6l-1 .1-.6-.2-.5-.7-.2-1 0-1.3 .5-2.3 .5-1 .7-.3 .6 .2 .5 .4 1.1 3-.5 2zM213.7 492.2l-.4 0-.1-.4 .5-.9 .3 .6zM177.3 502.2l-.6 0-.5-.4-.6-1.6 .7-3 .4-.6 .3-.2 .7 .4 .4 .7 .3 2.3-.2 1.4zM347.3 502.7l1.6-2.2 .8-.2 .3 .2 .3 .7-.4 2.6M187.2 504.8l-.2 1.5M297.6 512.5l.4-.4 .7-2.3 .6 0 .3 1.4-.8 3 .1 2M174 520.3l-1-.5-.6-1 .1-1.6 .5-.8 .7-.3 .9 .4 .3 1-.2 2-.4 .7zM317.7 545.9l-.7 0-1.4-1.1-1-2-.1-2 .9-1.6M317 534.3l1.7 .3 .6 .6 .3 1.6-.3 1.1-1.3-2.4M316.9 539.5l-.1 2.3 .5 1.3 .4-.1 1.3-1.9 .3 0 .2 .7-.1 1.4-.6 1.6-1.1 1.1M367.7 545.5l-.7 .1-.5-.4 0-1.4-.4-1M365 542l-.7 .5-.6-1.1M369.3 543.8l-1 1.4-.6 .3M273.7 542l-.7 1.2-.3-.2-.4-.9M270.3 539.7l-.6 1.1-.2 2.4-.8-.2M309.7 539.5l.3-1.3-.2-1.7 .2-.5 .3-.1 .5 .6-.1 1.7 .3 1.3M299.3 537.1l.7 .1 .7 1M415.7 537.2l.3-.2 .7 .2M418.3 538.2l.7-1.8 .7 3.1-.6 1.7-.4 .2-.4-.2M344.3 542.6l-1.3 .1-.6-.5-.6-3.4 .2-.6 .3-.2 .7 0 .7 .4 .9 1.1 .4 1.7zM290 540.6l.4-1.1 .6-.6 .7 .3 1-.1 .4 .4M340.7 542l-.8-1.2 .1-1.2 .3-.3 .6 1.2 0 1zM402 544.6l-.7 .2-.6-.3-.8-1.3 .2-1.7 .9-1 .7 0 .4 .3 .8 1.7-.2 1.3zM208 551.1l-.2-.3 .2-.3 .2 .3zM193 553.5l-.7 .1-.7-.4-.1-.7 .4-.7 .8 .1 .5 .6 0 .7zM110.3 584.9l-.3 0-.5-.4-.4-1.7-.1-4 .6-1.3 .4-.1 .5 .4 1.1 3-.5 3zM75.7 588.3l-.7 0-.7-.4-.6-1.4 .1-2 .5-.8 .7-.3 1 .2 .6 1.2-.1 2.4z" stroke="#8000ff" stroke-width="0.9" fill="none"/>
<path d="M415.7 342.3l-.4 .1-.3-.2-1.2-4.7 .1-3.7 .6-3 .1-2 .4-1.3 .5 .3 .7 1.4 .6 3.3-.3 3 .3 2.7-.4 2.3zM148 337.6l-1.3 .2-1-.5-.9-1.1-.4-1.7 .2-2.3 .6-2.4 .5-1 .6-.6 .7 .1 1.3 1.4 1 .4 .7 1.7-.1 1.7-.4 1.7-.8 1.6zM154.3 593.9l-1.6 .1-1-.3-4.4-2.6-1.3-1.3-.4-1.6-.8-1.7-.5-.4-1.3-.4-.4-.5-.9-4.4-1.3-2-.6-3 .2-1.3 1-2.4 1.3-4.3 .1-1.3-.7-1.7-1.7-1.5-1-1.5-1.3-1.5-.4-.1-1.3 .5-1.3-.2-1.4 .3-1.3-.5-1.3 .7-.7 .1-1.3-.9-2-.4-1 .1-2.4 1.1-2.6-.9-2 0-.9-.6-.4-1-.1-1 .8-3.3-.4-1-.4-.4-4-.8-1.6 0-1-.2-2 .3-2.4 0-.8-.3-1.2-.8-1.6 .5-6-.2-1.7-.3-2-.8-1.3 .6-1.9-1.3-.5 .1-.6 .9-.7 .3-2-1.1-1.3-1.1-.6 .2-1 1-.7 2-1.1 .1-.7-.4 0-1.3-.3-.4-.6-.1-2.4 .3-1.6-.3-1.7 .4-.7-.3-1.6-1.5-1.4 1.1-1.6 .5-1.4 .1-2.6-.7-6-.5-2-1.1-2.4 .3-3 0-2-.8-2 .3-2-1-.6 .3-1 1.1-3.7 .1-2.3 .4-1.4-.2-1.5-1-.8-.3-.7 .2-1 .9-1 .3-2.3-.3-1.7 .5-2.3 0-3-.4-2.7-.7-1.3-1.1-1.7 .3-.6-.3-.9-1.5-1-4 .2-2 .3-.6 .7-.6 1-.4 1.3-.1 1.7-1.1 6-.2 .7 .2 1.3 1.2 2.7-1.4 2-.5 1.6 .6 1.7-.3 .9 .2 .3 .7 0 2.3 .8 1.5 .3 .1 .4-3.6 .5-.6 .8-.6 1-.3 2.3 0 2 .6 1.2-1.1 1.2-.4 3.6 .6 3.4-.7 1.6 .2 1.4-.6 .6 .2 1.4 .8 1.3 .1 .7-.2 1-.9 1-.3 2 .4 1.6-.9 1.4-.2 1 .2 1.2 .7 .2 .4-.1 .9 .3 .2 .2-1.1 .5-.4 .7 0 1.6 .9 2.4-1.2 .6-.1 2.7 2.2 .7-.3 2.6-2.3 1.7 .2 1.3-.4 .7 .1 1.7 1.4 .6 .2 1.7-1.3 2.7-1.1 3 .6 1.3-.9 1.3-.5 3 .8 1.4-.8 2.6-.9 2 .7 1.4 .1 1.3 .9 2-1.4 2.3 .1 6-1.2 1.4 .2 1.6-1.2 1-.3 1 .2 1.7 1.1 1.3-.3 2.7 .2 2.7 1 .6-.2 1.4-1.7 1.3 .2 1.3-.9 .4 0 1 .9 .3 0 .9-1.6 1.1-.6 1-1.8 1.7-2 1.5-4.3-.2-.7-1.3-.8-.8-.8-1-3.7-.4-3.7 .1-2.6-.2-3.4 .8-3.3 3.1-5.4 1.7-.5 1-.6 1.7 1.1 1.6-1.5 .7 .1 1.7 .9 1.3-.4 1 .3 .4 .7 1.3 3.6 1 4.7-.2 1.3 .2 4.7 .6 1.7 .7 4.3-.1 2.3-1 1.7-.2 1 .3 2.4 1 3.6 1.4 2.7 1.4 1 1.5 2.3 .7 .2 .7-.5 .6-1 1.4-3.2 .6-.6 2-.5 1.5-2.7 1.5-.6 1-.8 3.1-1.6 1.9-2.8 2.2-.6 .4-.3 .5-1.3 2.3-2.8 2-1.2 1.4 0 1.6-2.3 3.3-1.8 1.7-2.2 4-2.6 2.6-.5 3-1.8 2.2-.5 2.9-2 .4-1-.1-1.4 1.1 1.4 .9 .6 2.6-1.3 1.7-1.5 1 0 1 .6 .7-.1 .6-.6 .4-1.1 1-.7 5-1.3 .6 .1 1 .9 .4 0 .3-.6 .6-2.7 2-2.6 3.7-2.3 2-.6 1.4 .3 .6-.2 1.4-2.6 3.6-2.9 1.3-.7 1.1-1.2 3.3-4.8 2-1 1.3 .7 .7-.2 1.7-1.1 .8-1.8 .5-.6 2.3 .9 1.4-1.5 1.3-.2 .3-.2 .3-2 .4-.6 .7-.3 2-.3 2 .7 2.3 0 2 .3 .7-.5 .6-1.1 1.7-.8 1.7-.2 1 .3 1.6-.1 2.4-.9 2.6 .4 1.4-.8 .6 .2 1.4 1.1 .6-.4 .5-1.4 .5-.5 .7 .1 1.3 .9 1 .2 1.4-.5 1.3-1.5 .3 .1 1 1.2 .4 .2 .3-.2 1.3-1.8 2 .2 3-2.1 1.7 0 1.1-1.6 1.2-.8 3-.5 3.4 .1 1-.2 1.6-.8 2-.1 1.4 .3 1.3 1.1 .7 .3 .6-.5 2-2.3 2.4-.1 1.3-1.7 2.3-.5 2-2.4 1-.9 1-2.2 .8-4.1 3.1-11 1.9-2.4 2.7-5.3 1.5-1.5 1-1.7 .7-.5 .7-.1 1.3 .6 1.3-1.8 1.7-.1 1.3-.5 3.7 .2 1.7-.7 1.6 .4 1.4-1.2 1.3-.2 1-.4 1.7 .5 2-.5 .6 .3 1.4 0 1.3 .6 1-.5 .7 0 1.1 1.1 .5 .1 1.7-1.1 2.7 0 .8-.3 1.5-1.3 1.7 .3 1-.2 1.3 .2 4.7-2.6 4-.8 1.3 .2 1.7 .6 1.6-1.4 2-.1 3.4 .7 3.3-.8 1.7 .1 1.6 .8 1-.5 1 .4 .7 .1 .7-.7-.8-.7-.6-1-.3-3 .7-1.3 1-1 .6-.2 1 .4 1 1.1 1.3 1 .2 2 .5 .6 4.4-.3 2.3 .6 .3-.2 .5-1 .5-.2 .7 .8 0 1.4 .3 .6 1.4 1.4 1.6 1 1 1.7 .7 .3 1-.1 2-1.7 1.4-2.9 .9-1.1 .7-.3 1.3-.1 1.7-1.5 1.3-3.5 .7-.4 1 2.1 .3 .2 .4-.2 .2-1.5 0-1.7 .8-1.1 3-2.6 .6-.2 1 .1 1-.6 .8-.9 .9-1.9 1 .3 2.3-.8 1.3-2.6 .4-.5 1-.3 1.3 .3 1.7-.7 .6-.5 1.1-1.8 1.5-1.5 2.8-1.4 2 0 1.7-1.7 2.3-.6 1.7-1.1 2-.2 1.6 1.1 .7-.5 .6-1.6 .7-.7 3.7 .2 .7-.2 2.6-2 1.7-2.2 5.7-2.6 1.6 .1 1.4-1.2 3.3-2 1.3-1.1 3.4-2.3 .6-.2 1.2 .2 1.5-.6 5.7-3.3 2-.3 2.3-1 1.7-.2 2-.8 1.6-.2 2-1 .7 .1 .8 .6 .5 0 1.4-1.7 1-.6 2-.1 1.3-.7 2.3-.5 2.4-1.2 4-.7 1.3 .9 1 .3 .7-.9 .4-1.5 .6-.6 2-.5 .6 .2 1 .7 .7-.1 1.8-1.7 1.2-.7 2.7-.2 1.3-.7 2.1-.4 3.6-2.6 2-.3 1.3-1.5 1.3-.8 1.4-.1 1.6-.7 1.4 .3 1.3-.2 1 .2 2-.1 .9-.5 .8-1.1 .6-.5 .7 .1 1 .9 2.3-1.2 1 .1 .4 .4 1.1 2 .1 .6-.9 1.9-1.6 1.8-.4 1.7-1 .2-1.2 1.4-1.1 .6-1 .9-.7 0-.7-.5-1 1.4-2.3 .5-1.7-.2-1.6 1.6-2 1.3-1.4 .5-2 1.9-2 1.4-.6 .2-1.4-.2-.6 .1-1.4 1.6-2.3 2-1.3 1.8-1.4 1-.6 .1-1.4-.8-1 .2-2.7 2.3-.6 1-.5 1.7-.8 1.2-.4 .2-1-.6-.6 .2-.4 .6-.4 2-1.3 1-1.3 1.5-1.3 0-.7-.6-1-1.3-.6-.1-1.4 2.3-3.3 2-1.3 .4-1.7-.6-4 3.3-2.3 .7-2 1.1-1.1 .3-1.9 1.5-3 .2-3.4 1.8-1.6-.4-1.7 .9-1.3 .4-1.5 2-1.5 .7-1.4 1-1.3 .5-1.3 .9-1.4 .5-.6 .1-1-.4-.7 0-1.6 2-2.1 1.5-2.6 1-3.4 2-2.3 .3-2.7 2.3-1.3 .2-1.7-.9-1.3 1.8-.7 .4-.6-.1-1-1-.7 .1-.7 .4-1.7 2.3-1.9 .6-3.7 1.8-3.3 .1-1.4 .5-3.1 .4-3.5 2.8-1.2 1.2 0 1 .5 .8 3.3 3.4 .8-.2 1.2-1.5 .7 0 1-.6 1.3 0 1.4-.6 .6 .2 1 1.3 1.4 .7 .3-.2 .5-1.3 .5-.6 2-.4 1.7 .6 .5-1.3 .5-.3 .3 .1 .5 .9 .2 1-.4 .3-.6-.5-.7-.1-.1 1.3 .3 1 .8 .7 1-1 1 .8 .3 1.1-.1 1-1 1.7-.4 .3-.5 .1-1-.4-1.6 1.5-2 0-.7-.7-.7-1.8-.6-.5-2.7 2.2-2.3-.1-2 .5-2.7-.7-2 .5-6-.4-4 1.7-3 .1-2.7 .7-2.6 1.8-1.7-.4-.7 .2-2.3 2.2-.7 0-1-.7-.3-.1-2.7 2.7-1.6 .7-1.3 1.9-1.1 1.2-2 .6-1.6 3.9-.7 2.3-.6 1-1.7 1.3-1.4 .5-1 0-1.1-.4-1.9-1.9-1 0-2 2.2-.6 .3-1.1 0-2.5 4.7-.7 2.3-1.4 1.4-1 .4-1 0-2-1-.9-2.4-.4-.5-3.7-1.4-2-1.1-1.3-1.1-1.4-.1-.6 .3-1.7 2.7-1.1 1.2-.7 1.6-.8 4 0 2.4 .5 2-.4 1.6-1.5 2.4-1.1 1-1 2.3-2.2 2.3-1.4 .4-1.3-.2-1.7 .6-2.4-.4-.4-2-.8-1.4-.7-.4-.7 3.5-.3 0-1-.6-1.3-.3-.8 .2-1.2 .6-.4-.1-.6-2-.7-.4-1.3 .6-1 1.3-1.7 1.4-.7 0-1.3-1.1-.3 0-1.6 2.3-3.8 .9-1.3 0-1-.3-1-1.7-.7-.4-.8 .5-1.8 1.9-1 .6-1.4-.2-1.6 .6-1.7-.9-.7 0-2 .8-1.6 1.2-1.7 .4-1.3 .9-1.7 .6-.7 0-1.6-1.1-.7-.1-1.7 2-2 .7-1.6 1.6-1 .3-1-.2-2 1.4-2.7 .2-.6 .7-.4 1.3-1.2 1.3-.1 2.4-.4 .5-.5-.2-.5-.8-1.6 .7-3-1.7-1.7 .8-1-.1-.7 .2-.5 .9-.4 2.7-.9 2.6 .3 3-.1 1-.6 1.4-.8 1-1.6 .4-1-.3-.7-.6-2-2.7-1.3-.8-1.4-1.6-.6 0-1.4 .9-1.6 1.8-1.4 .5-2.9 3-.7 2.4 .3 1.6 0 2.4-1 1.6-1 1-.7 .1-.7-.4-.8-2.7-1.2-1.6-.2-1.7-1.4-1.1-1-.5-.7-1.1-.6-.2-1.1 .9-.5 1-.5 2-1.2 1.3-1.1 .8-1.3 .1-1-1-.7-.2-1.3 1.3-1.7 .3-1.3 .9-1.7-.2-1.3 .2-1-.3-1.3 1.1-2 .3-1.7-.5-1.3 1.4-1.4 .7-1 .2-1.3-.2-2.3 .7-1.4-.1-.6 .5-1.7 2.5-3.3 2.7-4.7 2.1-1.3 .4-5 .6-1.4 .5-1.6-.5-2.4 2.1-.6 .2-1-.1-1-.9-2 1.4-1.7 .2-1-.8-.5 .3-.8 1.7-1 .8-1.7 .4-2.7-.7-3.3 2.3-2 .6-.7 0-1.3-1.4-.7 0-1.6 1.9-2.7 2.2-.7 .2-2-.2-1.6 1.6-2.4 .5-.9 1.1 .1 .7 .5 .4 2.7-.5 1.6 .5 2 1 .7-.1 1-.4 2.7 .3 .6 .2 1 1 1.4 0 1.6 1 2-.7 2-.2 1.7 .7 1.3-.9 .7-.2 2.7 1.8 1.6-.2 1-.5 1-.1 2.4 1.1 2-.7 1.3 .9 .7 .2 2.6-.2 1.4 .3 2-.6 3-.2 1 .2 1.3 .8 1.3-.8 .7 0 4.3 .5 1.4 .5 1.6-.3 1.7 .1 2.3 .7 1.7-.9 1-.1 1.7 1 1.3-.1 .7 .2 1.3 1 1-.4 1 .2 .5 .5 .5 1 .2 2.3-.3 .7-.9 .6-1 .1-1-.7-.7-.1-1.3 .8-1.7-.3-1.6 1.2-2-.6-1.7 .5-1.7-1.7-1-.4-.3 .1-1.7 2.1-1.9 .4-2.4 1.8-2.3 .4-1.4 .5-2-.4-2 .4-2.6-.7-2 .5-2-.5-1.7 .6-2.3-.5-1.4 .5-2-.7-3.6 .6-2.7 1.4-3 .1-1-.2-1.7-1.6-.6 .3-1 1-1 .1-.7 .4-3.3 .4-1.7 .4-1.3-.2-1.7-1-1-.2-.7 .1-1 .8-2.3-.1-1.7 1.1-1.6-.3-1.4 .2-1-.5-1 0-1.3-.4-.7 .4-1 1.5-2.3-.6-1.3 .8-1.4-.1-1.6 .5-.7-.2-1-.9-.7-.2-1 1.2-1.8 .3-1.8 1.6-2-.6-1.4 1.4-.6 .3-2.4-.4-1.6 .7-1.4-.5-1.3 2.3-1.3 1.4-.2 5.4 1.2 3.8 1 1.9 .2 2.7 .4 1.2 .4 .5 1-.1 .3 .3 1.2 2.7 .4 1.7 .1 2-.2 5.3-1.2 3.7-1.2 1.7-1.8 1.6zM591.7 341.9l-.4 .1-.4-.2 0-1.3 .4-1.5 .7-.5 .3 .2 .2 .5-.5 2.2zM147.7 359.5l-1-.1-1.5-1.6-.6-1-.2-1.3 2.2-6.3 1.1-1.1 1.3-.1 1 .5 .5 1 .4 3 0 2.3-.4 1.7-1 2-.5 .5zM415 354.9l-.4-.1-.3-.7-.2-2.3 .1-.6 .8-.9 .3 .1 .4 .4 .2 1.4-.4 2zM502.3 359l-.3-.1-.3-.6-.1-1.8 .4-.9 .7-.2 .3 .3 .1 .5-.4 2.3zM569.7 365.4l-.4 0-.5-2.6 .2-1.3 .3-.5 .4 .4 .3 1.4zM487.7 365.7l-.4 .1-.3-.6 0-1.1 .3-.1 .4 .4zM496.3 366.4l-.3 .1-.4-1.3 .4-1.1 .3 0 .3 1.4zM455 370.6l-1 0-1.3-.7-.3-1.1 .2-.6 .7-1 1.4-.9 1-.3 1 .1 .7 .4 .3 .7-.1 1.3-1.3 1.5zM412 372.3l-2.3-.1-.7-.7-.4-1.7 .2-1.6 .5-.7 .7-.2 1 .2 1.7-.3 .4 .3 .2 .7 0 1.6-.6 1.7zM556.7 373.9l-2.3-1.1-.2-.6 .8-2.9 .5-.5 .8-.3 1.4 .8 .8 1.2-.5 2-.7 1zM419.3 373l-.3 0-.3-.5-.4-1.3 .4-1.2 .6-.6 .4 .4 .3 1-.1 1.4zM414 388.2l-.7 .3-.6-.4-1-2.9 .4-4.4 .3-1 .6-.4 .8 .4 1.1 2.4 .3 1 0 1.6-.3 1.7zM149 407.7l-1-.1-.9-1.1-.4-2.3-1-2.4-.4-2-.1-1.3 1.3-5.7 .3-2 0-1.6 .5-2 .4-.5 1 0 .5-3.2 .5-.9 1.3-1 .7-.2 1 .7 .4 .7 .9 4 0 1.7-.9 2.7-.5 3.3-.8 2.3-.1 2.7-.8 5-.7 1.7zM185.3 396.5l-2.3 .3-2-.5-1.7 0-2-1.3-1.6-.1-.7-.4-.4-1.3 .7-2.4 1.4-.4 1.1-2.9 .5-.8 .7-.3 2-.3 .7 .1 1 .6 2.3-.7 3 .3 1.5 .8 1.8 2.1 .6 1.5-.2 1.4-.4 1-2.3 1.9-1.3-.7-.5 .1zM417 389l0-.6 0 .6zM207.3 391.6l-.6 .1-.4-.1-.2-.4 0-1.4 .6-1 .6 .1 .8 .9-.1 .8zM148.5 397.8l.5-1 .3-2.6-.2-1.4-.1-.4-.3-.1-.4 .3-.3 .9-.2 3.3 .2 1.2 .3 .1zM317.7 406.8l-.4-.3-.4-1-.2-2.7 .6-2.6 .3-3 .4-.7 .3 0 .4 .3 .2 .7 0 3.3 .4 1.1 .2 1.3-.5 2.7-.4 .6zM305.3 403.2l-.3 .2-.4-.6 0-1.6 .4-.3 .3 .1 .3 .5 0 1zM430.3 408.2l-.3 .1-.3-.3-.8-2.2 0-.6 .8-.5 .6 .1 .4 .7 .1 1.7zM312.3 414.4l-.5-.2-.2-.7 0-2 .4-.6 .4 .3 .3 1.3 0 1zM151 439.6l-.7-.2-1.3-1.5-1-.3-.8-1.4-.5-2-.2-4.4-.8-2-.7 0-.3 .4-.2 3-.5 2.3-.3 .5-.7 .3-2.3-3.9-.4-2.2 .9-3.4 .5-.6 .6-.2 .4 .2 .8 1.3 .5 .3 .7-.2 .2-.4 .9-5.7-.2-3 .4-1.4 .7-.6 1.3 .2 .7-.2 2.3-2.5 1.7-.4 2.6 1 1.4 .7 .8 .9 .5 1.3 .3 2.3 .9 2-.2 .6-.3 .1-.4-.7-.3-1.8-.7-.2-.3 .3-.5 2.1-.2 3.3 1.1 3-.1 1.7-2.5 4-2.1 5.2-1.4 2.1zM452.7 416.8l.5-4-.2-.4-2-.6-.3 .2-.3 .8 .2 2 1.7 2.3zM240 435.2l-1 .2-.7-.2-2-1.3-1.3-.2-1.3-.6-.7 .4-1.3 1.6-2.4-.1-.9-.8-.3-2.4 .4-4.6 .8-3.4-.1-8.3 .5-.5 3-.7 3.3-.4 1.3-.8 2-.6 1 .2 1.4 .7 1.7 .1 2.2 1.3 1.4 2 1.3 .7 .6 1.3 1.3 5.4-.5 3.6-2.9 5-.5 .2-1.3-.8-.7 .1-2.3 2.4zM139 419.6l-.7-.2-.5-.6-.6-2.3 .5-1.7 .5-.6 .5-.2 .4 .2 .4 .6 .2 2.4-.2 1.6zM480 422l-.7 0-.5-.5-1.2-3.3 .7-2.1 .7-1 .7-.4 .6 .2 .6 .6 .7 3-.4 2-.6 1zM311.3 430.2l-.6 0-.4-.7 0-1.3 .7-.5 .5 .1 .2 .7 0 1.3zM348 433.5l.4-1 .1-1.7-.4-1-.4-.1-.7 .9-.2 1.6 .5 1.4 .4 .2zM178 462.5l-1-.8-1.7 .4-1.3-.4-1.3-.9-1.1-1.3-.4-1.3-.3-2.4-.3-1-.7-1-.5-1.6-.4-5.4-1.7-1-1.2-2-1.6-4.6 .2-2.7 .4-1 1.2-1.2 .7-.2 1.7 .5 .8-.1 .8-.3 1-1.4 1-.6 2.4 .1 1.3-.6 1.3-.1 2.7 .9 2-.6 2.3 .8 1.4-.5 1.3 .1 2.7 2.5 .7 1 2 6.7 .2 2.7-.5 2-3 7.3-1.2 1.7-1.2 .8-1.4 1.5-1.6 .5-1.4 1.3-2.3 .1-1 1.7zM311.7 448.2l-1 .3-1-.4-2.1-2.6-.6-2-.1-2.7 .4-2 1.4-1.9 1.3-1 1 .2 1 .7 1.1 1.7 .5 1.3 .4 5-.3 1-.8 1.4zM326.7 440.6l-.4-.3 0-.5 .4-.4 .3 .4zM224.7 489.8l-1.4-.2-.7-.8-.7-2.6-.8-2-1-4.7-.1-6-.4-2 .1-4.7-.5-2.3 .1-3-.4-1-.1-1.7 .7-3 .5-1-.1-2.3 .3-3.7 .9-3.3 .6-.6 2-.8 1.6-2.6 1-.3 .7 .2 1.3 1.1 2 .4 .9 1.3 1 2.6 0 1.7 .6 3 .1 2.3-.5 2.4 .4 2.3-.3 2.3-.8 .8-.3 .6-.4 5-2 8.6-.5 3.7-.9 3.3-.5 3.7-.9 2.3-.5 .6zM143.7 447.6l-.4 0-.6-.4-.4-1 .3-1.7 .7-.8 .7 .5 .5 1.3-.2 1.3zM151.3 448.6l-.6 .1-.4-.1-.4-1.1 .7-2 .7-.7 .7 1 .2 1-.1 1zM412.3 453.6l-1 .2-.6-.3-1.2-1.7-.7-1.3 0-1.3 .5-1 1.4-1.1 .6-.1 .7 .4 .8 .8 .5 1 .1 2-.5 1.6zM320.7 448.6l-.4-.1-.1-.3 .1-.7 .4-.1 .1 .8zM146.7 458.2l-.7 .1-.4-.5-1.2-6.3 .7-2.3 .2-.4 .7-.2 .7 .2 1 .9 .9 3.1-.5 4-.8 1zM414 467.5l-.7 .3-.3-.1-.7-1.2-.2-2.7 .4-2 1.3-2.6 1.5-1.7 1-2.3 .7-.7 .3 .1 .5 1.2 .8 3.4 .2 2.3-.4 1.7-.7 2-1 1.3-1 .8zM149.3 488.3l-.3 0-.7-.4-1 0-.3-.3-.6-1.1-.8-2.7-1.3-1.6-1-.4-.5-.6-.1-1.7 .5-4 .2-3.7 .6-2.6 1.9-3 .7-2.4 1.4-.5 1.1-2.5 .9-.8 1.6-.5 1.7-1.4 1.7 0 1.3-.7 .7 .2 1 1 2.7-2 3.6 .5 2.2 1.4 2.1 2.7 .5 2.3-.2 1.7-1.4 2-1.2 .8-2.3 .7-1.7 .1-1.6 .9-1.4 0-2-.4-2 1.3-1.6-.3-.7 .3-.4 .9-.7 3.3-2.2 3.4-.1 3.3 .5 5.3-.2 .7zM127.7 466.9l-.7-.3-.7-1.2-.4-1.9-.2-2.3 .4-1 .9-.6 .7-.2 1.3 .8 .4 .6 .1 .7-.5 3.6-.4 1.1zM440 463.9l-1.3-.6-.3-.5 .6-2.3 .6-.7 .4 0 1.7 1.1 .3 .9-.3 .9zM432 464.8l-.3-1 .3-1.2 .4 .2 .3 1-.2 .7zM446.7 466.5l-.3-.3 .1-2 .2-1.2 .3-.4 .7 .6 .4 1 0 1-.1 .3zM439.7 467.9l-1-.5-.7-.9-.2-.7 .2-1.1 .3 0 .7 1.8 1 1zM113.3 474.2l-1.1-.7-.6-1.7 0-.6 .4-2.7 .8-1.3 .5-1.8 .4-.2 .4 1.3-.5 2 .1 4.5zM211.3 489.9l-.6-.7-1.6-3 .2-6.4-.5-4.3 .4-2.3 .6-2 .9-.9 1.6-.7 1.4 .5 1 1.7 .9 8-1.2 3.7 .3 2.3-.2 1.4-.2 .3-.9-2.7-.7-.5-.5 .9-.5 4zM204 484.7l-2 .1-.9-.6-.4-.7-.4-3-.3-.4-.7 .3-.3-.2-.4-1 .1-.8 .3-.6 1.3-.2 2.4-3.6 1-.7 1.6 .4 1 .5 .8 1 .7 2.3-.1 2.7-.4 1-.6 1.1-1.4 .7zM191 495.3l-.3 .1-.5-.6-.2-2 .5-2.6 .5-.8 .7-.4 .8 .5 .2 1zM312.3 492.2l-1 .1-.6-.8 0-1.7 .6-.7 1.1 .1 .6 .4 .3 .6-.2 1.3zM415.3 510.6l-1.6-.4-1.4 .3-.6-1.7-.4-.1-.8 1.5-.5 .3-1.3-.4-2.7-.4-2-1.3-.3 .2-1 1.7-1.4 .3-2.3-1-2-.3-1.3-.9-2-.2-1.4-1-1.7-2.4-1.2-3.6 .1-2 .3-1 .5-.8 1-.5 1.7-2.2 1-.6 2.7-.8 .6 0 1 1.5 .4 .2 .7-.2 1.9-1.8 4.7-.1 2-.6 1.3 0 3-1.2 1.4 .2 1.3 1.1 1.7 .2 2.2 1.9 1.3 1.7 .9 2.6 .2 3.4-1 2.6-1 1.8-2 1.8-1.1 1.8zM182 497.2l-1-.1-.4-.9 0-1.7 .4-2 .3-.8 .4-.2 .7 .3 .4 1.7 .6 1-.4 1.7zM209.7 495.2l0-.2 0 .2zM177.3 501.6l-.7-.1-.5-1.3 .9-3 .3 .1 .5 .9 0 2.3zM165.3 509.6l-.6 0-.4-.9-.3-4.5 .7-2.4 .9-1 .7-.1 .7 .4 .4 .7 .6 2 .4 2.4-.8 1.6-1.3 1.3zM347.3 509l-.4-.2-.3-.6 1-5 .4-.7 .7-.2 .3-1.1 .3-.4 .4 0 .2 .7-.5 2-.3 3.3-.6 1.4zM185 507.2l-1 0-.6-.7-.1-.7 .2-1.3 .8-.9 1.7 .4 .7 .8 0 1-1 1zM314 514.9l-.7 0-.8-.7-.8-2.4 .9-5 .4-1.1 .7-.6 1.6 .7 .7 2-.1 3-.4 2.4-.8 1.3zM292.3 525.5l-.9-.3-.8-1.4-.6-.6-1-.2-1.3 .5-.7-.1-1.1-.9-1.2-1.7-1.4-.3-.6-.3-.9-1.7-.1-2 1.3-3.8 2.7-3.9 1.7-1 1.9-1.6 1.7-.3 1.3 .5 1.4-.7 .6-.1 .7 .6 .5 3.6 1.1 2 .7 2.5 .7 .4 .3 .7 .1 1.4-.7 3.4-1.7 3.6-.7 .6-1.3 .1zM262 523l-.7 0-.6-.2-2.4-1.6-1-.2-.6-.4-1.2-1.4-1.2-2.7-.1-1 1.1-6 .7-1.2 1.7-.7 1.3 .4 1-.5 .7 0 2.3 1.2 2 .4 2 2.6 1.3 .7 1.7 .4 1 .8 .8 .9 .3 1 .1 1.3-1 2.4-.9 1.1-1.3 .7-1 .1-2.3-.8-2 .9zM174 519.5l-.7-.1-.4-.6 .1-1.5 .7-.7 .4 .2 .3 .7 0 1.3zM253.3 531l-.6 .1-.8-.6-1.9-.9-.3 0-1.4 .8-1-.2-1-.7-1.1-2.3 .4-2 .7-1.4 1-.5 1.4 .2 1.6-.2 2.1 1.2 .5 1 .4 2.3 1 1.7-.3 1zM356.3 544.2l-.6-.4-.5-.6-.7-2.4 .3-1.6-.2-3.7 .7-2 .5-.7 .5-.2 .8 .6 .7 2 .5 3.6-.9 4.4-.4 .7zM316 540.9l-.5-.4 .4-1.3 0-3.4 .4-.9 .7-.2 .3 .5-1 5.3zM367.7 544.8l-.3-.3 .2-.7-1.9-2.5-.7-.2-.7 .5-.3-.5 0-3.3 .8-2 .5-.5 .7 .1 1.7 1.2 1.3 .4 .5 .8 .5 2-.7 3.4-.6 .8zM266.3 546.3l-.6 .2-1.2-.7-.6-.6-.9-2-.1-2 .4-2.4 .5-1.3 .9-.6 1.3-.2 .7 .4 1 1.5 .6 .3 .6-.4 .8-1.5 .6-.8 1-.6 1 0 .8 .9 .2 .7 .2 2-.2 2.3-.3 .4-.3-.2-1-1.9-.7-.8-.7-.1-1.6 .8-.3 .8 0 1.7-.8 1-.6 2.3zM410.7 544.6l-1 .1-.8-.5-.7-1-.3-1.4-.2-3.3 .3-1.3 .7-1 1.3-.5 .7 .1 .9 1 .5 3-.3 3.4-.3 .6zM278 545.6l-1-.2-1.1-1.2-.5-2 .5-2.4 1.4-2.6 .7-.5 .7 .5 .7 1.6-.5 5-.4 1.4zM298.3 544.9l-1 0-.8-.7-.6-1.4-.2-1.6 .1-2 .3-1 .9-1 1-.4 .6 .4 .7 1.2 .7-.2 .3 .3 .6 1.3 .8 1.1 .3 .1 .3-.2 .7-1.3 .7-.4 .5 .4 .1 .7-.2 1.3-1.1 1.1-.7 .2-.6-.4-1 1.4zM283.7 545.9l-.7 0-1-.5-.7-1.6 .3-5.3 .7-1.1 .7-.4 1.3 .4 .9 .8 .4 1 .3 1.6-.3 2-.5 1.7-.6 1zM415.3 546.6l-.6-.4-.5-1-.4-3.4 .4-1.3 1.3-2.3 .5-.5 .3-.1 .9 .6 .3 1-.6 2.3-.5 4-.4 .7zM419 540.1l-.3 0-.2-.6 .2-.5 .3-.3 .3 .8zM343.7 541.9l-.7 0-.2-.4 0-2 .2-.5 .7 .2 .5 1 .1 1zM310.3 546.6l-.5-.1-.5-.6-.5-2.1 1.5-4.3 .8 2 .3 3-.4 1.4zM293 544.9l-1.3-.2-.8-.9-.5-2.6 .1-.7 .5-.4 1.7-.3 .5 .7 .6 1.3 .2 .7 0 1-.4 1zM445 545.6l-.7 .1-.3-.4-.5-1.8 .2-1.7 .6-1.1 .4 0 .3 .5 .6 2 0 1.3zM401.3 544.2l-.6-.6-.3-1.1 .3-1 .6-.5 .6 .5 .4 1.3-.2 1zM317.7 545.3l-.8-.1-.9-1-.2-.7 .5-.1 .7 .8 .3 0 1.4-1.5 .1 .5-.3 1.3zM192.7 552.9l-.4 .2-.3-.3 0-.3 .5 0zM105.3 568.2l-2.3-.6-1.3 .3-.9-.4-.7-1 .5-1.7 .4-.3 1 .5 .5-.2 .6-1 .7-2.3 .9-.8 3.6-1.8 4.4-.8 1.3 .6 .5 .8 .2 1-.4 1.3-1.3 2-1.3 1.2-2.4 1.2-1.6 .5zM93.3 572.5l-1.3 .2-.8-.5-.8-1-.4-2.7 .1-1.3 1.3-2.4 2.3-2.1 1-.4 1 .1 1 .5 .8 1.6 .2 1-.2 1.7-.5 1.6-.7 1.4zM81 574.3l-.7-.3-.5-.8-.1-1.7 .3-1 .6-1 .8-.7 1.6-3 .7-.5 1-.3 .8 .8 0 1-.3 1-1.5 3.6-1 .8-1 1.6zM110.3 584.2l-.3 0-.4-1.4-.1-3.6 .2-.7 .3-.3 1.1 2.6 0 1zM75.7 587.6l-.4 .2-.6-.3-.5-1 0-1.7 .8-.9 .7 .1 .4 .8 0 2zM312.7 591l-.7 .1-.7-.7-.2-3.2 .6-1.8 1.6-.2 .4 .2 .3 .8 .1 1.6-.4 1.9zM147.7 604.3l-1-.2-.6-.6-.6-1.3-.4-2.4 .3-1 2.3-.7 .6 .1 .3 .3 .3 1-.4 3.7-.2 .6z" stroke="#e000d0" stroke-width="0.9" fill="none"/>
<path d="M35.6 536.8l-.7 1.4M35.4 542.2l.6-1.3 .3 .1 1 1.4 .4 .1 .1-.3M578.1 349.5l-.4-.8-.4-.1-.3 .2-.5 1M461.2 419.2l.5 .3 .1-2M473.2 418.2l.8 .6 .7 0 .3-.7 .3-.2M475.7 419.4l-.6 .4-.1 .7M458.1 419.8l-.1-1-.3-.4-.4 0-.3 .8 .2 1.6M372.3 467.2l-2.6-3.6-.4 .4 0 1.2M146.9 393.5l.1-.2 .3 .5 .1 1.4-.8 3.3 0 1 .4 .2 1-.3M149.4 391.8l-.4-.8-1.3 .1-.4-.9M148 387.4l.7 .4 .2-.6M318.2 400.2l-.5 1.2M317.2 403.8l.1-.3 .2 1.3-.2 .8M318.7 405l0-.2 0 .2zM143.5 432.8l-.2 .3-1.6-2.3M443.6 413.2l-.3-1.1-.3 0-.5 .7M247.3 417.7l.7 .3 .5 1.2M112.3 469.5l.4 .1 .3 .7M213.8 483.8l-.1 .3-1-.9-.5 .6M390.6 501.8l0-.3-.7-.7M390.6 498.2l.3 2.6 .6-.6M396.1 496.5l-.8-.5-.3 1.5M291.4 519.5l-.4 0-.2 .7M368.7 542.9l-.4-.5-1 0M264.4 544.5l.2-1.7-.3-.6-.6 1.1M410.7 540.2l0-.2 0 .2z" stroke="#ff0060" stroke-width="0.9" fill="none"/>
<path d="M147.3 337.5l-1-.1-.6-.6-.7-1.1-.2-1.5 .7-4.4 .5-.9 .7-.3 .6 .6 .7 1.6 1 .1 .7 1.3-.1 1.3-.6 1.8-.8 1.5zM415.7 340.8l-.4-.2-1-2.2-.2-1.6 .2-3 .7-3 0-1.3 .3-.5 .4 .5 .1 1.3 .5 1.4-.1 .6-.6 1-.2 .7 .1 1.7 .8 2-.3 2zM148 335.2l.3-1.4-.3-1.5-.3 .2-.3 1.3 .1 1 .2 .3zM154 593.5l-2-.1-5-3-.8-.9-.5-2-.7-1.5-.7-.8-1-.3-.4-.4-.9-4-1.4-2.3-.4-2.7 2.3-7.3 .1-2-.9-2-1.6-1.4-.9-1.3-1.5-1.6-.7 0-1 .5-1.3-.2-1.4 .2-1.3-.5-1.7 .8-.6-.2-1-.7-2-.3-1 .1-2.7 1-2.3-.8-2 0-1-1-.1-1.3 1-2.7 .9-.6-1.2-.5-.3-1-2-.6-1.3-.1-1.4-.5-1.6 .1-1.4-.3-1.6 .4-2.7-.1-1.7-1.4-1.6 .9-6-.2-1.7-.3-2-.8-1.3 .2-1.4-.8-.6-.1-.7 .2-1 .9-2-.8-1.3-1.1-.4 0-2.6 1.7-.5-.5-1.2-.5-2.7 .5-1.6-.3-1.7 .5-.7-.3-1.6-2-.4 0-1 1-.6-.2-.5 1-.5 .3-1 .1-1.7-.6-4.7-.1-2.6-.4-2-1.3-2 .5-3.4-.1-2-.8-2 .1-2-.9-.6 .2-.8 1-.6 .2-3.3 0-3 .7-.7-.3-1.6-1.2-.7-.2-.7 .2-1.3 1.2-.7 .2-1-.1-1-.5-2 .8-2.6 .1-2.7-.6-2.7-.8-1.3-1.2-1.7 .4-.5-.3-.7-1.3-.9-3.7 .1-2 .7-.8 2.7-.6 1.3-1.1 6-.1 2 1.5 .7-.2 2.3-1.5 1.3-.3 2 .7 1.4-.1 .3 .2-.9 2.3-.1 2.4 0 2.6 .3 .9 .4 .1 1.3-2.6 .3-.1 .4 .3 1 1.7 .3-.1 .3-1.8 .1-5 .6-1 1.3-.5 2 .2 .9 .3 .2 .3-.2 2.3 .1 .4 .4-.3 .5-1.7 1.1-1.7 .7-.6 .7-.2 1.3 .1 2.3 .6 3.4-.7 1.6 .2 1.4-.6 .6 .2 1 .7 2 .4 2-1.4 .7-.1 1.3 .5 2-1.2 1.4-.2 1 .3 .4 .3 0 1.7 1.2 .7 .7-.1 .3-1.4 .4-.3 1.6 .9 1.7-.5 2 .2 2 1 .7-.3 2.6-2.3 1.7 .4 1-.6 .7 0 .6 .3 1 1 1 .4 .7-.2 1-1 1.3-.4 1.4-.8 .6 .1 1 .6 1 .1 3-1.7 3 1.1 2-1.4 2-.6 2 .8 1.4 .2 1 .7 .6 .1 1.7-1.2 2.3 .1 3-.8 3-.6 1.4 .5 1.6-1.5 1-.4 1 .3 2 1.4 1.4-.4 2 0 3.3 1 .7-.4 1-1.4 1.3 .2 1.3-.9 1.7 .8 .5-.4 .8-1.3 1-.6 .7-1.4 1.7-2.1 .9-1.9 1-3-.1-.7-.4-.6-1.8-1-1.1-3.4-.5-9.6 .6-2.7 .5-1.3 2.9-4.9 1-.2 1.3-.6 1.3 .9 .6 .1 1.4-1.3 .4-.1 2 1 .6 0 1-.4 .4 .1 1.7 4.4 .8 3 .1 7.3 1.1 4 .3 2-.2 2.3-.9 1.4-.3 .7 .4 3.1 1 3.7 1.6 3.1 .7 .8 1 .7 1 1.4 1 .4 1.1-.9 1.9-4 2.3-.9 1.7-2.7 1.3-.5 4.2-2.6 .7-.7 .9-1.6 .6-.6 1.3-.2 1 0 .3-.2 .4-1.8 1.6-2.2 2.4-1.4 1.6-.1 1.4-2 3.6-2.3 1.4-2 2-.9 .5 0 .1 .4 .4 .1 .2-.5-.2-.7 1-1.1 3.3-.5 2.3-1.7 2.1-.3 2.9-2.1 1-.9 1 .5 .7 0 2.3-1.3 1.7-1.7 .7 0 1 .7 1-.1 .7-.5 .6-1.4 .7-.5 5-1.5 .6 .3 1 1 .4 0 .6-.9 .7-2.6 2.2-3 3.5-2.1 1.6-.4 1.4 .4 .6-.2 1.7-2.9 3.6-2.8 1.1-.5 .3-.3 4-5.7 1-.5 2 .4 .7-.1 2-1.3 1.2-2 .4-.3 2 1 .4-.1 1.3-1.7 1.3-.1 .3-.2 .4-2.6 .7-.6 2-.3 1.6 .9 2.7-.1 2 .5 .7-.4 1-1.5 1.3-.7 1.7-.1 .6 1.1 .4 0 1-.7 1-.1 1-.6 1.3-.4 1.3 .6 1 1.9 1-.9 .1-1.6 .3-.3 .6 .2 1 .9 .7 0 .6-.5 .7-1.5 .7 0 1.3 .8 1 0 1.7-.4 1-1.3 .3 .1 1 1.2 .7 0 1.3-1.9 2 .1 3-2.1 1.7 .2 .3-.2 .9-1.7 1.1-.8 1.7 .1 1.3-.6 4 .1 2.4-1.1 2 .2 2.3 1.4 .7 .1 .6-.4 2-2.3 .7-.2 1.7 .2 .5-.3 1.1-1.5 2.4-.6 1.3-1.7 1-.7 1.5-3.2 1-4.3 .9-2.4 .5-2.6 .9-2.4 .3-2.3 .4-1.3 2.1-2.4 2.4-4.7 1.3-1.4 1.1-1.9 .6-.5 .7-.1 1.3 .6 1.7-1.9 1-.1 1.6-.4 3.7 .2 1.7-.6 .3 .2 .1 .3 .2 1.7 .4 .1 .8-1.8 1.2-1.4 .6 0 .7 .6 1-1.3 .7 .1 1 .5 1.6-.5 .3 .3 .3 4 .4 .5 .7-1.1 .3-2.7 .4-.4 1.3 .7 .3 0 1-.8 .4 0 1 .9 .6 .2 1.7-1.1 2.7-.1 2.3-1.5 1.7 .2 2.3-.1 4.7-2.5 4.3-.7 1.3 .6 1.4 .2 1.3-1.3 .7-.2 1.6-.1 3.4 .8 3.3-.8 1.3 0 2 .8 1-.4 1.7 .3 1-.7 .1-.3-1.3-1.4 0-1.6 1.4-3.4 .5-.2 2.3 2.1 .4 2.1 .6 .8 1.7-.4 3 0 2.6 1.1 .4-.2 .6-1.3 .3 .4-.1 1.3 .4 .7 1.8 1.4 1.3 .8 1.3 1.9 .7 .2 1 0 2.3-1.7 1.3-2.6 .7-1 2-.7 1.7-1.4 .6-.9 .7-2.1 .4-.3 1.6 2.5 .4 .2 .3-.3 .5-4.7 .5-.8 1.4-1.2 .9-.6 2.4-.6 2.3-2.4 1-.6 1-.2 1.3-.8 1.8-3.1 .6-.2 1.6 .4 2-1.2 1.7-2.4 1.3-1.2 2-1.1 1-.3 1.7 .5 1.7-2.2 1-.4 1.3 0 2-1.4 1.7 0 1.6 .9 .4-.4 .3 .1 .7-1.4 .6-.7 3.7-.1 1-.2 2.5-2.1 1.8-2.2 3-1.2 2.4-1.3 .6-.1 1 .4 1.6-1.6 4.4-2.3 1-1 2.4-1.8 2-.1 2-.9 5-3.1 2.3-.2 2-1 1.7-.2 2-.9 2-.2 1.6-1 .4 .1 1 .8 .6-.1 1.5-1.7 .9-.7 .6-.2 1.4 .3 1.3-.9 2.3-.4 2-1.1 2.4-.7 2.3-.1 1 .8 .3-.3 .7 .6 .7-.6 .5-1.7 .5-.6 2-.5 2 .9 .9-.5 1.7-1.7 1-.5 2.7-.1 4-1.3 2.7-2.3 2.1-.4 1.5-1.7 1-.5 1.4-.1 1.3-.7 2 .6 4-.4 1-.4 1.3-1.4 1.7 .9 2.1-1.3 .7 0 .5 .3 .8 2.7-.1 .6-.7 1.1-2.3 2.2-1.3 2.2-2 .8-1-1.3-.7 0-.5 .7-.8 2-.4 .2-.4-.2-.6-1.2-.3 0-3.3 3.4-2 1.2-1.4 .4-2 2-1.6 1.3-1 .4-1.4-.3-1 .4-1.3 1.7-2.3 1.9-1.3 1.8-1.1 .8-.6 .1-1.4-.7-1.5 .5-2.5 2.2-.7 1.1-.6 1.7-.3 .3-1.7-.1-.7 .4-.4 .7-.3 2-2.3 2.2-.6 .2-.7-.2-1.4-1.5-.9-.2-.6 .5-.5 1.3-.5 .7-2.8 1.7-1.6 .5-1.7-.7-4 3.3-2.3 .7-2 1.2-1.4 .4-1.6 1.3-3 .2-3.4 1.7-1.6-.2-1.7 .9-1.3 .3-1.7 2.1-3 1.8-1.3 .4-1.4 1-1.6 .3-1.4-.3-.6 .3-1.4 1.7-2.6 1.9-2 .7-2.3 1.5-1.4 .5-1 0-.7-.6-3.3 3.3-1 0-1.7-1-1.6 2-1 .1-1-.9-.4 .5-1.3 .4-1.7 2-1.6 .5-3.7 1.8-1 .2-2.3-.1-1.4 .5-3.1 .4-5.2 4-1.7-.2-1.3-.5-.5 .1-.6 1.3 0 2 .3 1 1.1 1.2 .5 1.1 .2 3.7-2.3 .2-4 1.7-2.4 0-3 .4-2.3 1.9-.7 .1-1.3-.3-1 .3-2.3 2-1-.8-.7 0-1.7 1.9-1.3 1.1-1.7 .6-1.6 2.6-.7 .4-1.3 .1-.7 .6-1.5 3.5-.9 3-.4 .7-1.2 1-1.7 .7-1.3 0-.7-.4-1.6-1.8-.7-.2-1 .4-1.7 1.8-1.7 .2-2.7 5-.6 2.3-.6 .9-1 .7-1.4 .2-2-.9-1-2.6-.6-.5-3.4-1.2-3.6-2.4-1.4-.2-1 .3-2.6 4.1-.8 1.9-1.1 6.4 .4 2-.3 1.3-1.2 2.4-1.2 .9-.8 2.2-2.4 2.6-1 .1-1.3-.4-1.7 .9-1.2-.4-.4-2.7-1.9-1.9-1-2.4 0-2.6 .7-4.7-.1-1.3-.4-.4-.4 .7-1.3 8 0 1.7 .7 3.6-.2 1-2.5-.2-1.3 .4-.3-.2-1-2-.7-.2-1.7 .6-2.3 2.9-.7 0-1-.8-.6-.2-.7 .6-1 1.8-3.7 .9-1 0-1-.2-1.3-2-.7-.3-.9 .6-1.7 1.8-1 .6-1.7-.1-1.3 .5-1.7-.9-1.7 .2-1.3 .7-1.3 1.2-2 .3-1.5 1-1.2 .5-.7 0-1.6-1.1-1 .1-1.4 1.6-2 .7-2 2-.6 .1-1-.3-2 1.5-2.4 0-.9 .3-1.1 1.8-2.2 2.8-1.1 .9-.7 .1-3-1.6-1.3 .8-1.3-.1-.5 .3-.6 1-.6 3-1 2-.1 1.3 .5 2 0 1-.5 1.3-.7 1-1.5 .4-1-.3-2.7-3.5-1.1-.6-1.6-1.7-2.6 .7-.7 1.4-1.9 1.3-2.8 3-.9 2.3 .1 2-.7 3.4-.3 .6-.8 .7-.7-.2-.3-.4-.5-2.1-.9-1.6-.5-1.7-2.7-2-.7-1-.4-.3-1.4 1.3 0 .3-.9 1-.5 1.4-.9 1.1-1 .9-1 .1-1.6-1.3-.7 .3-1 1-1.7 .3-1.3 .9-4-.3-1.7 1.1-1.6 .5-1.7-.8-.3 .2-1 1.3-1.4 .8-1 .2-1.6-.2-2 .7-1.7 0-2.9 3.5-2.4 2.1-5 2.3-1 .3-1.7 0-1 .3-2.3 .2-1.4 .5-1.3-.4-.7 0-2 2-.6 .3-.7-.1-1.3-1-1.4 1-1 .4-1.3 0-1-.9-.3 .1-.5 .6-.7 1.6-1.2 1-1.3 .2-2.7-.8-3.3 2.3-2.3 .8-.7-.3-.7-.8-1-.3-1.6 1.8-3 2.3-2.4-.1-1.6 1.4-1.7 0-2 2.2 .1 .7 .9 .8 2.7-.5 1.6 .4 2 1 .7 0 1-.4 2.3 .3 .7 .2 1.3 1.2 1.4-.1 1.3 .7 1 0 3.3-.7 1.7 1 .3-.1 1-1.1 .7-.2 2.3 1.7 .7 .2 1.3-.2 1.7-.7 1 .3 1.7 .9 2-.8 1.6 1 4 .2 2.4-.6 3.3-.3 2 1.1 1.3-.8 .7-.1 5.7 1.2 1.6-.2 .6 .6-.2 .6-1 1-.6 3-.8 1.5-1.6 .4-1 .5-2 1.6-1.7 .2-1.7 .6-.6 .1-1.4-.5-2 .4-2.6-.7-2 .5-2-.6-1.7 .7-2.3-.6-1.4 .5-2-.7-3.6 .6-2.7 1.4-1.7 0-1 .2-1.3-.3-1.7-1.6-2 1.4-.6 0-1 .5-4.7 .7-1-.1-2-1-1-.2-2 .8-2-.3-2 1.3-1.3-.3-1.4 .2-1-.5-1 0-1.3-.4-.7 .4-1 1.4-2.3-.5-1.3 .8-1.7-.1-1.3 .5-.7-.3-1-.8-.7-.2-1.3 1.4-1.7 .1-1.6 1.5-2-.5-2 1.7-2.4-.4-1.6 .6-1-.4-.7 .1-1 1.9-1.3 .9-.4 .7-.1 5.9 1.3 4 1 2 .2 2.4 .6 2 1.7 1.4 .8 1.2 .4 1.7 .2 2-.3 3.7-.1 1.6-1.1 3.7-1.9 2.3-2 1.3zM147.3 358.9l-.6 0-1.3-1.4-.3-.7-.1-1.3 1.8-6 .9-1 1.3-.2 .8 .5 .6 1.4 .3 2.6-.1 2-.5 1.7-.8 1.4zM455.7 369.9l-1.1-.1-.6-2.3 1.1-1 1.6 0 .7 .7 0 1-.6 1zM412 371.6l-2.3-.1-.4-.3-.4-1.4 .2-1.3 .5-.7 1.4 .2 1.3-.2 .5 .4 .1 1.3zM413.7 388l-.7-.1-.3-.4-.7-2.7 .4-3.3 .6-1.3 .3 .1 1 1.6 .6 1.6-.2 2.7-.6 1.3zM149 407.3l-1 0-.5-.8-.5-2.3-.7-2.4 .4-.8 2-1.2 .6-2.1 .4-2.5 .2-2.7-.2-1.8-.7-1-1 .1-.3-.4-.1-.6 .4-.2 .7 .7 .3-.2 .7-5.6 .8-1 1.2-.5 .6 .3 .5 .9-.1 1.1-.7 1.9 .3 .5 .7-.3 .3 .2 .3 1.9-.9 2.3-.4 3.4-1.1 2.6 .2 2.7-.9 5-.4 1.3zM184.7 396.2l-2 .2-1.7-.6-1.7 .1-.7-.4-1.6-1.6-1.3 .3-.4-.4 .3-1 1.4-2.1 1-2.9 .7-.9 2.3-.5 1.7 .8 2.3-.8 3.3 .5 1.1 .6 1.6 2.2 .4 1.5-.5 1.6-1.9 1.3-1.7-.1-1.6 1.7zM444.1 414.5l0-3-.1-.6-.3-.4-1 .8-.9 1.5 1.5 1.8 .4 .2zM150.7 438.9l-.4-.1-1-1.3-1.3-.8-.5-.9-.3-1.6 .1-1.3 .4-.8 1-.6 .2-.7-.6-1-1.3-.9-.7-1.4-.6-.4-1.3 .4-.4 .7-.4 2-.6 .8-.7-.5-1.2-1.7-.2-1 1.1-3.1 .6 .1 .5 1 .6 .5 1-.1 .7-.7 .5-3.3 .1-4.7 .7-1.9 .6-.4 1.4-.3 2.4-2.4 .6-.4 1-.2 4 1.9 .7 1 .1 1.4-1 1.6-.2 1-.3 4.4 .1 1.3 .9 1.9 .1 1.1-.4 1.2-1.5 1.5-.9 1.3-1 3-.3 .3-.7-.6-.3 .9-.2 2.4-.6 1zM239.3 434.9l-1.6-.5-1.4-1-1.3-.1-1.3-.5-.7 .3-1.3 1.5-2.4-.1-.6-.8-.2-1.9 .3-4.3 .8-3.3-.1-8.4 .5-.4 3-.6 .7 .4 .3 .5 1-.9 1.3-.4 1.1-.9 1.9-.7 1 .3 1.4 .8 1.3 .1 2.3 1.4 1.2 2.4-.2 2.5 .5 .2 1.2-.7 .3 .1 .7 1.3 .8 3-.3 3.3-.8 1.6-2 2.9-.7 .3-1-.4-.7 0-1.3 1.5-1 .8-1.3 .1zM456.3 422l-1 0-2-.5 .7-7.5 .7 .5 .5 1 .4 2.7 1.1 3-.1 .6zM138.7 418.9l-.7-.7-.3-1.7 .3-1.1 .7-.7 .5 .8 .2 2-.3 1zM471.3 422.5l-1.6-.5-1.3-2.2-.7-.3-.7 .3-2 1.9-1.6-.2-.3-.3-.8-3.4-.1-2 2.1-.8 .7 0 1 1.3 1.7 1 .6-.5 .7-1.8 1.7-.5 .6 .1 .5 .6 .7 3 1.5 1.3 .3 .7 0 .3-1.3 .4-1.1 1.3zM480 421.6l-.7-.1-.3-.4-1-2.9 .9-2 .8-.8 .6 .2 .4 .5 .6 2.4-.4 2zM461 422.2l-.7 0-1.1-.4-.6-.6-.1-3 1.5-1.1 1.5 4.1-.1 .6zM358.5 426.8l.3-1.3-.1-1.6-.4-.7-1.3-1.1-1.3-3.2-.4 .8-.3 3.1 .1 2 .6 .8 .3 .1 1-.5 .3 .1 1 1.7zM347.9 434.8l.8-1.3 .4-2.7-.4-2-.7-.5-.7 .4-.5 .8-.5 2.3 .2 1.7 .5 1.2 .3 .3zM178.3 462l-.4-.2-.4-1-.5-.2-1.7 .9-1-.1-1-.6-1.3-1.3-.3-1.3 .1-2.4-1.8-8.6-.7-1.3-1.6-.6-.7-.8-2.1-5-.1-1.7 .2-1.3 .3-.7 1-1.1 .7-.1 1.3 .7 2.4-.4 .7-.4 1.4-1.7 1.9 .1 2-.9 1 0 2.3 1 1.7-.8 1 .2 1.6 .8 1.4-.6 1 0 .6 .3 1.1 1.6 1.3 .8 .4 .9 1.7 6 .3 3-.4 2-3 7-1 1.4-2.4 2.4-1.6 .5-1.4 1.3-.6 .3-1.4-.1-.5 .2-1.1 1.6zM310.7 448.2l-.8-.4-2.1-2.6-.5-1.7-.1-1 0-1.7 .4-2 1.4-1.9 .7-.5 .6-.2 1.4 .8 1.2 1.8 .4 1.4 .4 4-.3 1.6-.9 1.4-.8 .7zM225 489.3l-1 .1-.7-.6-.5-2-.5-5.1-.3-.2-.7 1-.9-3 .1-2 .7-1.7-.3-.6-.9-3.4 .4-5.3-.8-2 .4-3.3-.7-.9-.1-1.5 .6-2.6 .5-1 0-4 .4-2.5 .6-2.6 .7-.9 2-1 1.6-2.4 .7-.2 1.7 1.1 2 .7 .7 .7 .9 2.7 .2 2 .7 2.7 .1 2-.6 2.7 .2 2-1.5 2.7-.3 6.3-1.1 5.1-.6 1.5-.3 4.4-1.2 4.6-.4 3.4-.8 2zM143.3 446.9l-.4-.4-.1-.7 .2-.8 .3-.4 .4 .2 .3 1-.2 .7zM411.7 453.2l-.7-.1-.7-.7-.8-1.2-.4-1.4 0-.6 .5-1 1.4-.8 .7 .1 .7 .7 .6 1.6 .1 1-.3 1-.6 1zM146.7 457.6l-.5-.1-.3-.7-.9-4.6 .2-2 .5-.9 .3-.2 .7 .2 .6 .7 .9 2.8-.4 3.7-.5 .7zM416 466.5l-.7 .2-1.3-.4-.7 .2-.6-1.8-.2-1.2 .6-2.7 1.2-2 1.2-1 .8-1.9 .7-.6 .4 .5 .7 2.4 .3 3.3-1 3.3zM149.3 487.5l-.3-.1-.7-1-.3 0-.7 .5-.3-.3-.4-2.1-.5-1-1.4-1.7-1.3-.6-.2-.4-.1-1.6 .5-3.4 .1-4 .6-2.4 2.1-2.6 1-2 1.2-1.3 .8-2.3 .6-.8 1.7-.4 1.1-1.2 .9-.4 .4 .4 .6 2 .3 .2 .6-.8 .4-2 .7-.1 .7 .7 .6 .3 2.7-2.1 1.3 .4 1.3-.1 1 .2 2 1.4 2 2.6 .4 2-.3 1.7-1.1 1.6-1 .8-2.3 .6-2 .2-1.7 .8-1 0-2-.4-2 1.3-1.6-.3-1 .6-.5 1.1-.8 3.3-2.1 3-.2 3.4 .6 5.3-.1 .7zM211 488.6l-.7-1.1-.7-2 .2-6.3-.7-3.4 .4-2.6 .7-2 .5-.5 1.6-.7 .7 .1 .6 .4 .8 1.3 .7 8-.8 2.2-.6 .7-.5-1.2 .7-2.3-.2-1.5-.5 .8-.3 2.3-1 2.4-.6 4.6zM203.3 484.2l-1.3 .2-.8-.6-.2-.6-.6-4.4 1.1-2.6 1.5-1.9 .7-.3 1.6 .2 .7 .3 .7 .6 .6 1.7 0 3.4-1 1.7-1 .6zM190.7 494.1l-.4-.9 .3-2.4 .4-.8 .7-.5 .3 .3 0 .7zM415.3 510.2l-1.3-.6-1.3-.1-.4-2-.3-.3-1 .4-1 2.4-4-.8-2-1.3-.7 .5-.6 1.5-1 .4-.8-.1-2.9-1.5-1-.1-1.3-.8-1.7 .1-.7-.2-2-2.2-.5-1.3 .3-1.7 .9-2.5 .4-3.5 .4-1 .9-.7 .9 0-.1 3.4 .8 1.9 .4-.1 1-3.2 0-.6-.7-1-.2-.7 .9-.8 .5 .1 .8 1.4 .7 .2 1-.3 1.1-1.3 .9-.5 4.3-.1 2-.6 1.7 .4 1.3-.3 .6-.9 1.1-.4 .6 .1 1.4 1.4 2 .1 1.7 1.5 1.6 2.1 .7 2.2 .1 2.4-.1 1.1-.4 .5-1 .5-.6 .8-.9 3.1-.9 1-.9 1.6zM413.1 500.2l-.1-2.9-.3-.9-.7-.5-.3 .3 0 .6 1.3 3.7zM166 508.2l-.3 .1-.4-.2-.8-3.9 .5-2 .7-1 .6-.2 .5 .5 .4 1 .6 3.7zM184.7 506.9l-.7-.3-.2-.8 .2-1.3 .7-.4 .6 .4 .1 .3-.3 1.7zM348 507.9l-.3 .1-.4-.5 .2-1.7 .5-1.2 .7 .4 .2 1.2-.3 1zM314.3 514.5l-.6 .2-.9-.5-.7-2.4 .9-5 .7-1.1 .6 .2 .7 .5 .6 1.4 0 2.7-.3 2-.3 1zM292.7 524.6l-.7 .1-.4-.5 .6-4-.2-1.1-.7-1.1-.3-.1-.3 .3-.4 1 .1 3.3-.4 .2-1.7-.1-1 .4-1-.7-1.3-1.9-1.7-.3-.6-.5-.7-1.4 0-1.7 1-2.1 .3 .2 .4 .9 .3 .2 .3-.5 .2-1.4-.3-2 1.6-2.6 1.9-1 2-1.7 1.3-.1 1.3 .8 1.7-1.2 .7 .5 .5 3.7 1.1 3.1 .4 3.1 .8 1.1 0 1.7-.5 1.7-1.6 2.6-.4 .3-1.3-.1zM261.7 522.5l-1.4-.3-1.6-1.3-1.4-.4-.6-.4-.8-.9-.9-2-.3-1.7 .8-5.3 .5-1.3 .7-.5 1-.1 1 .3 2-.7 1.2 .6 1.1 1.1 .3 .1 .7-.3 .7 0 .6 .6 1.4 1.9 1.3 .8 2.3 .7 .9 .8 .5 1 .3 1-.1 .6-1.2 2.6-.8 .8-.9 .4-1 0-1.7-.9-.6 0-2 1-1.4 1.4zM252.3 529.9l-1.3-.3-1.3-.6-1.7 .9-.7-.1-.6-.4-1.1-2.2 .4-2 .7-1.2 .6-.3 2.7 .1 2 1 .6 1 .5 3.4-.1 .4zM356.7 543.5l-.4 .1-.3-.4-.9-2.4 .4-2-.4-3.3 .4-1.7 .8-.7 .5 .4 .6 1.7 .5 3.3-.6 3.4zM272.7 539.8l-.4-.1-1-1.4-1-.8 .5-1 .9-.6 .6 .2 .6 .7 .1 1.8zM368 541.6l-.7 .2-.6-.3-2-2.3 0-1.4 .5-1.3 .5-.4 .6 0 1.4 .9 1 .3 .4 .5 .5 2.4-.6 1.2zM410.7 544.2l-.7 .2-1-.5-.5-.7-.3-1.4-.2-3.3 .3-1.3 .7-.9 1-.3 .7 .3 .4 .9-.1 .6-.8 1-.3 1.4 .1 1 .3 .5 1 .1 0 1.5zM62.9 538.8l.1-1.3-.3-.8-.3 1.8 .3 .7zM252.7 544.3l-2-.5-1.7 .5-.5-.5-1.2-2 .7-2.3-.1-1.3 .8-.3 1.6 .6 .7-.3 1-1 1-.1 1.3 1.2 2 0 1.4 1.2 .3 .1 1.3-.6 .6 .2 .4 .5 .5 2.1-.5 1.1-1.3 .4-1.3-.8-1.7 .6-.7-.3-.6 .1zM265.7 545.8l-.7-.6 .3-3-.3-1.8-.3-.4-.4 .2-.6 1-.1-.4 .4-2.3 .7-1 1-.4 .6 .2 .4 .4 .9 2.1-.3 2.7-1 2.9zM277.7 545.2l-.7-.3-.8-1.1-.4-1.6 .4-2 1.3-2.4 .5-.3 .8 1 .1 3-.4 2.7-.5 .8zM298.3 544.5l-.6 .1-.8-.4-.5-1-.3-1.7 .2-2.8 .7-.9 .7-.4 .3 .3 .7 1.8 .6 .4 .7-.3 .3 .2 1 1.4-.4 1.6-.4 .7zM283.7 545.6l-.7 0-.7-.3-.4-.5-.2-1 .4-5.3 .6-.8 .6-.2 .9 .3 .7 .7 .5 1.3-.1 1-.7 1.7-.1 2.3zM415.7 545.9l-.7 0-.3-.5-.5-3.2 .5-1.6 1.6-2.1 .5 .3 .1 .7-.8 5.7zM42.1 544.2l.6-1.4 .3-3 0-.3-1-.3-.7 .7-.4 2.3 .4 1.6 .4 .4zM303.3 541.5l-.3 .2-.2-.2 .5-1 .2 .3zM293 544.3l-1 0-.6-.8-.1-2 1-.8 .7 .6 .4 1.2 0 1zM445 544.9l-.3 .3-.4-.3-.3-1-.1-1.4 .4-1 .4 0 .5 1.3 .1 1zM310.3 544.6l-.6-.2-.3-.9 .3-1 .6-.9 .4 1.6zM105.7 567.6l-.7 0-2-.6-1.7 0-.3-.2-.1-.6 1.4-.6 1-.8 1.4 1.3 .3-.3 0-1.6-.7-2.3 1.7-1.4 3-1.4 2.7-.3 1-.3 1 .3 .5 .7 .1 1-.2 1-1.3 2-1.4 1.3-2.4 1.1-1.7 .4zM93 572.3l-1 0-1.1-1.1-.5-2.7 .1-1.3 1.2-2.2 2-1.9 1-.5 1 .1 1 .8 .6 1.7-.6 3.6-1 1.7zM81.3 573.5l-.6 .2-.4-.5-.2-1.4 .2-1 1.5-1.6 1.5-3.2 .7-.5 .7-.1 .3 .4 .1 1-1.1 3.1-.6 1.3-1.1 .7zM312.7 590.2l-.7 .2-.3-.4-.3-2.5 .3-1 1.3-.5 .6 .5 .1 1-.4 1.9zM147.7 603.9l-.7 0-.7-.7-.5-1.4-.2-1.6 .3-1 1.8-.7 .5 .3 .3 1-.2 3z" stroke="#ff2000" stroke-width="0.9" fill="none"/>
<path d="M147.2 331.8l-.3 2.4 .4 1.7M37.5 545.5l.5 1.1 .7-3.1M42.7 536.8l-.4 1-.7 .7M336.7 438.6l.3-.1 .5-1 .1-.7-.4-.6M355 416.5l-.4 1.3 .1 2M355.2 426.2l.8 .5 1-.1 .3 .2 .6 1.4 .3 2M359 430l.2-.5 0-2M358.7 422.2l-.7-1.7-1-1.2-.7-3.2M357.6 416.2l0 1.6 .4 1.4 .3 0 .4-.7M366.9 419.5l.4 .1 .6-.8M443.9 406.2l.2 1-.4 1.6-1.7 2.3-1.3 1.1 0 .6 .3 .2M444.6 410.2l-.2-4M578.7 348.1l-.7-1-.7-.4-.6 .3-1 1.3-.4-.1-.3-.7-.5 0M376.8 467.5l-.5-.5-.3 .2M373.3 465.8l.2-2-.2-.9-.3 .1-.7 .9-.6 .2-.7-.6-.5-1M370.2 459.5l.7-3.7M368.2 459.5l-.6 2.7M148.1 357.5l-.4-.3-.6 .6M151.3 384.8l-1.3-.1M152 384.2l-.7 .6M150.4 391.2l.2-2 2.1-1.2M448.3 412.2l.2-1-.2-1.2M447.8 411.5l.2 .6 .3 .1M148.6 432.5l.7-1.1M155.5 414.5l.1 2.3M153 432.3l-1.3-.4-.3 .3 .1 1.6M156 416.8l-.1-.6 .1-1.4M471 421.6l-1.3-1M472 418.2l.4 1 1 .6-.1 .4M453.9 420.5l.4-2.8 .4 0 1.1 3.1M143 428.9l-.3 .2-.4-.2-.8-1.4M143.7 427.5l-.7 1.4M338.6 435.5l.1-1.7-.4 .9 0 1.1zM146.2 455.5l.5 0 .4-1-.1-1.3-.3-.8-.4 .3-.3 1.3M154.2 461.2l.2 .6 .3 .3 .3 0 .7-.6 .4-1M148.4 479.8l-.4-.1-.3 .3-.7 2.8-.3 .3M337.7 467.5l-.4-.7-1-.6-.8 1 .1 1M148.2 471.8l.1-1.3M148.2 469.8l-.2-.7-.3-.3-.1 2 .4 1.2 .2-.2M213.7 475.4l-2.3 7.1-.6 3.3M148.8 485.5l-.5-.9-1 .1-.1-.5 .1-.7 1.1-1M413.5 496.8l-.4-2-.8-1.1-.3-1M420.1 501.2l-1.1 .9-1.7 3.4-.3-.2-.7-1.7-.1 .2-.2 1 .3 1.4 .6 .6 0 .4M409.3 493.7l.5 .8 .3 2.3M410.9 498.8l.8 .4 .7 1.6M291.4 516.8l-.4-.3-.7 .5-.4 .8-.2 1.4M291.2 507.2l-.8 3.3 .3 1.7 .3 .1 1.3-4.5M296.3 517.5l.4 1.1M296 520.8l-1 .9-.5 1.1M267.3 519.2l-.2-3.4-.4-.5-.1 .2M62.5 535.5l-.4 1.3-.2 2M248 541.9l.7-.6 1-.2 .3-.7 .1-.9M266 543.2l-.8-4.4M284.3 541.1l-.3 .7 0 1M256.3 541.8l-.1-2.6M105.6 565.8l-.2-2.6 .2-1.4" stroke="#ff8800" stroke-width="0.9" fill="none"/>
<path d="M147 337l-.8-.2-.6-1.3 .3-1.7-.4-2 .1-1.3 .4-1 .7-.4 .3 .4 .1 1-.9 3.7 1 2.6zM153 593.2l-.7 0-1.3-.6-1.7-1.3-1.6-.7-1-.8-1-3.3-.8-1.7-.6-.6-1-.5-1.1-3.5-1.2-2.1-.4-2.6 .1-1 2.1-6.3 .1-2-.4-1.4-.8-1.2-1.4-1.1-.9-1.3-1.7-1.8-.7 0-1.3 .6-2.4 0-1.3-.4-1.7 .6-1.7-.7-2.3-.2-3.3 1-2.3-.7-2-.2-.9-.9 0-1 .9-1.9 1.2-1.4-.2-.5-1-.4-.4-.9-2-.8-1.4-.1-1.6-.5-1.6 .1-1.4-.3-1.6 .4-2.7-.2-1-1-.7-.3-1.6 .9-2.4-.3-3.6 .2-2-.4-1.7-.8-1.3 .1-1.7-.6-1 .1-1 .6-1-.1-1-.4-1.3-1.1-2.4 1-3-.6-2 .7-1.6-.2-1.7 .5-.7-.4-1.3-2.1-.7-.3-3 1-.3 1.4-1.3-.9-.7-.2-1 .7-4 0-1.5-.7-.2-.3 .4-.4 .1-1.3-.1-1.3-.4-.2-.3 1.2 .3 2.3-.3 .2-.7-.2-1.6-1.2-2.4 .7-3 0-2-.9-2.6-.3-1.7-.6-1.7 1.3-2-.1-2.3 .2-.2-.7 .4-3-.2-4.4 .2-2 .5-.4 .6-.1 1.2 .5 0 .7-1 3-.3 2 .7 2 .4 .7 .7 .3 .7-.7 .8-1.6 1.9-7 .6-.9 .7-.3 1.3 .1 2 .8 1.7-.2 2-.6 1.3 .2 1.3-.2 .7 .8 1-.2 1 .3 1 1.9 .3-.2 .5-1.2 .9-.6-.2 3.6 .5 .7 .7 .1 .7-.5 .4-1-.2-3.3 1.1-.5 1.5-1.2 1.1-.3 1.2 .3-.2 2.4 1.4 .6 1 .1 .6-.2 .7-1.4 1.3 .5 1.4-.3 2 .1 2.6 .7 3-2.4 1.7 .5 1.3-.8 .7 .1 1.7 1.3 1 .2 1.6-1.1 2.7-.8 1.6 .5 1.1 0 2-1.6 .6-.2 3.4 1.2 1.6-1.5 2-.7 2 .9 1.4 .2 1.3 .8 .7 0 1.6-1 1.7 .1 1.7-.2 1.6-.6 2.7-.6 1.7 .6 2-2 .6-.3 .7 .1 1.1 .8 .5 .7 .1 .8 .3 .3 .4-.1 1.3-1 1.6-.2 4 .9 1.4-1.5 1.3 .1 1.7-.8 1 .6 .6-.1 1-1.4 1-.6 2.4-3.5 1.1-2.2 1.2-3 0-1-.3-.7-.7-.6-1.3-.6-.4-.5-.8-2.6-.3-4-.2-5.6 .5-2.4 .5-1.3 2.7-4.7 2.3-.9 1.3 .9 .7 .1 1.7-1.4 2 1.1 1.6 .1 .2 .1 2.1 5 .3 2-.2 2 .3 4.7 1.1 4 .3 2-.1 2-1 1.3-.4 1 .6 3.7 .9 3.7 2.3 4 1.3 .8 1 1.3 1 .2 1.3-1.1 1.7-3.5 2.7-1.6 1.3-2.1 1.7-.7 4-2.8 2-2.7 1-.2 1.6 .3 .5-.6 .2-2 1.4-1.7 1.3-.5 1-.8 1.6-.2 1.7-2.1 2.4-1.7 1.6-.6 .7-1.7 1.2-.4 1.1 .4 1-.4 .9-1 .1-1.5 .3-.3 2.7 0 2.7-2.1 2-.2 1.6-1.3 1-.5 .4-.1 1 .4 .6-.1 1.4-1.1 1.6-.7 1.7-2.1 .7 .1 1 .7 1.3-.3 1.7-1.9 2.3-.7 2.3-1.2 .7 0 1.3 1.3 .7-.2 1.3-2.7 1.2-1.1 .7-2.4 .5-.6 3.3-1.9 1.3-.2 1.4 .5 .6-.2 .8-.9 .9-2 .6-.7 1.7-.9 1 .3 .6-1.4 1.1-.8 3.3-4.8 1-1.1 .7-.2 2.3 .3 2.4-1.5 1.6-2 1 .1 1 1 .4 0 1.3-2 .7-.2 1 .2 .4-.6 .1-2.7 .6-.7 1.9-.1 1.6 1.2 2-.4 1.4 .5 1.3 .2 .7-.3 1.5-2.1 .8-.5 .7 0 .6 .2 .4 1.7 .6 .8 1.6-1.8 .8-.2 1.3-1 1-.2 .7 .4 1.3 2.5 .3 .1 1.5-1.6 .5-1.1 1.4 .4 .6-.1 1-1.6 .4-.2 1.6 .6 1.7 0 1 .7 .6-.4 .4-1.2 .3-.3 1 .9 .7 .1 1.7-2.1 1.3 .4 3.3-2.4 .7 0 1 .4 .3-.1 .8-.7 .6-1.7 .6-.4 .7 0 .3 .7 .4 0 1.3-.5 .7-.7 4 .1 2-1 1.6 .2 1.4 .8 2 .6 .6-.4 2-2.3 .7-.2 1.3 .2 .7-.1 1.7-1.8 2.2-.5 1.1-1.4 1-.5 .3-.5 1.5-3.6 .9-3.2 .3-.5 .7 0 .6-.3 1.7-2.9 .3-2.8-.2-1.6-.6-1.7 .2-2 2.6-2.7 1.7-3.8 .7-.9 1-.5 .8-2.1 .5-.7 .7-.1 1.3 .7 .7-.5 1-1.4 2.3-.7 .7 0 1.4 .7 .3 4.7-.2 4 1.1 1.9 .7 .7 1 .2 .4 .8-.1 1.4-.8 2 .2 .4 1.4-1.4 2.3-1.7-.6-1.3-.2-4-.7-4 1-4 .8-1 1.3 2.9 .3 0 .9-3.9 .5-.1 1 .5 1-.3 .2 .2 .4 5.4 .4 .9 .3 .1 .8-.7 .7-1 .5-3.8 1.7 .4 1-.8 1 .5 .6 0 1.7-1.1 2.7-.2 2.3-1.4 3.3 .3 .7-.2 2-1.2 2.6-1.2 2.1-.4 2.3-.1 1.3 .7 1.4-.1 1.6-1.5 .7-.2 1.3 0 3.4 .9 4.6-.9 2 .8 1.4-.4 1.3 .2 1.5-1 .1-.3-1.3-1-.2-.7 1.1-2 .5-1.7 .3-.3 1.5 1.3 .7 2.4 .5 .7 .6 .2 1.7-.5 3 .2 1.7 1 1.3 .4 1.3 .8 2.4 1.6 1.4 1.9 1.2 .4 1-.1 1.4-1 1.3-.4 1.3-3.2 .4-.4 2-.6 .4 .3 .2 .9 .3-.6 0-1.3 2.1-3.3 1.6 2.6 .1 2-.4 1.2-1 1.1-.3 .1-1-.5-.4 .2-.6 3.3 .3 .2 1.7 .3 2 1.9 1 0 .4-.8 0-6.3-.4-5.7 .2-2.3 .3-1 1.5-1.3 1.6-.6 1.4-.8 2.6-2.3 .7-.2 .7 .3 .6-.2 2.7-4.3 .3-.1 1 1.3 1-.5 .6-1 2-1.6 1.1-2 1-.6 .7-.7 2.3-1.2 1.3 .6 .7 0 .6-.5 1.2-2 .9-.3 1.3 .3 2-1.6 1.7-.1 1.6 .8 .4-.6 .5 .2 .7-1.3 .4-.4 5-.6 3-2.7 1.3-1.7 .7-.3 1-.1 .7 .8 .6 0 .7-1.7 1.2-1 .5-.1 1.3 .5 .4-.1 1.3-1.6 4-1.7 3.7-3.2 1.6 0 5.4-2.9 1-.9 1.1-.7 .9-.1 1.3 .3 2-1.3 1.3-.1 2.7-1 2.3-.1 1-.8 1.4 .7 .6-.1 1.7-2 .7-.5 .6-.1 1 .6 .4-.1 1.3-1.2 2.3-.3 1.7-.9 1.7-.4 1-.5 2-.2 1.3 .6 .3-.3 .7 .6 .7-.4 .8-2 .5-.4 1.7-.3 2 .9 3.6-2.8 2.7 0 4-1.3 2.7-2.4 .6-.2 1.4 0 1.6-1.7 1-.7 1.4 .1 1.3-.6 2 .9 1.7-.3 .6 .3 1-.7 2.7-.2 .7-1 1.3 .3 2-1.3 .7 .1 .4 3.3-.8 1-1.3 1.1-1.3 2.2-.4 .1-1.3-.2-1-1.6-.3-.1-1.7 0-1.3 .7-2.4 3.8-1.6 2-2 1.3-1.4 .3-2 2-1 .4-1.1 1-.9 .2-1.3-.1-.7 .3-1.4 1.9-2.4 2-2.2 2.5-.6 .1-1.7-.7-1.7 .7-2.1 2.1-1.5 2.3-2 .5-.9 .5-.4 1-.2 1.7-1.9 1.6-1.3-.1-1.7-1.1-.6 .1-.7 .6-1 2-3 1.8-1.3 .2-1.4-.6-.6 .1-1.7 1.7-2 1.4-3 1-1.7 1.1-1 .2-1.6 1.3-3 .2-2.5 .8-1.2 .7-1.3 .1-2.4 1.1-1.3 .8-1.3 1.6-2.4 1.4-1.6 .6-1.4 .9-3.3 .2-.7 .5-1 1.4-2.3 1.7-2.7 1-2.6 1.7-1.4 .2-.7-.9-.3-.2-.3 .2-3 3.6-1-.1-1.7-1-.3 .2-1.3 1.6-1 .2-1-.6-.4 .6-1.6 .5-1 1.3-1 .6-3.4 1.1-1.6 1-3-.1-3 1-1.4 .1-2 1.5-3 1.7-1-.1-1 .4-2-.7-1 .7-.8-1.5-1.2-.6-.2 .6 0 1 1.2 5.1 1.7 1.2 .7 .1 .6 1.2 .1 1.7-.7 1.4-3.4 .9-1.6 .9-5.4 .3-2.3 1.9-2.7 0-2.3 1.7-1.3-.5-.7 .2-1.7 1.8-1.3 1-2 .8-1.7 2.7-1.6 .2-.6 .4-1.9 4-.9 3-.6 .9-.9 .8-1.5 .7-1.3-.1-.7-.4-1.3-1.7-.7-.4-1.3 .5-1.7 1.7-1.3-.1-.7 .4-2.7 5-.2 2-.3 .7-1.4 1.3-1.4 .1-1.6-.8-1.5-2.9-3.7-1.4-1.2-1-2.3-1.3-1.7-.5-1.3 .5-1.3 1.7-2.2 4.6-.9 4.7-1.2 3.7 .5 1.3-.1 1-.5 1-1.2 1-.5 1.7-.8 1.3-1.5 1.4-.5-.1-.8-1.3-.7-.4-.6 .4-.9 2-.5 .2-.5-.2-.1-1.3 .4-3.4-.2-1.6-.2-.7-.7-.5-.3 .2-1 1.7-.4 0-.5-.7-.2-2 .8-3.4-.1-3-.3-1-.6-1-1 0-.7 .4-.1 .3-.4 5-.5 2-.8 1.7 .4 2.6 .9 2.7-.1 .7-3.1 0-1-1.9-.3-.3-.7-.1-1.8 .6-2.2 3-.7 .1-1.3-.9-.7 .2-1.6 2.3-1.4 .1-2.2 .9-.8-.1-1-.4-1-1.9-.3-.2-.7-.1-1 .6-2.3 2.3-.7 .2-1.3-.3-1.3 .6-1.4-.8-1.5-.3 .4-3-.1-1.3-.4-.7-1-.7-.7 0-1 1.4-.1 .7 1.3 4.3-1.5 1.6-1 .1-1-.2-2.7 1.8-.7 0-1.6-.9-1 0-1.7 1.6-2 .8-1.7 1.8-2 0-2 1.3-3.3 .1-.5 .7-.8 1.6-2.7 3.4-1 0-2.7-1.7-1.3 .9-1.3 0-.8 .4-.6 1-.6 3-.7 1-.5 1.4 .1 1.6 .5 2.4-.4 1.3-.7 1-1.3 .4-1-.4-2.4-3.2-1.3-1-1.7-1.9-1.3 .4-1.3 0-.4 .4-.6 1.4-1.7 1.5-2.9 3.4-1.2 2.3-.1 1.4-.5 1.6-.2 2.4-.4 .7-.4 0-.3-.3-.4-1.8-1.4-3.6-2.9-1.9-1-1.4-1.3 1.1-.5 .5 0 .3-1.1 1-1.4 2.3-1 .7-.7-.1-1.3-1-.7 0-1.4 1.1-1.6 .4-1.3 .7-2.7 .1-1.3-.3-.7 .2-1.6 1.3-1 .2-1.7-.9-.3 0-1.4 1.9-1 .6-.6 .2-2.4-.3-1.7 .6-1.6 .1-2.3 2.1-1.2 1.8-2.2 2-5.1 2.3-.9 .2-1.3-.3-1.3 .6-2.4 .1-1 .5-2-.4-2.6 2.2-.7-.1-1.3-1-2 1.3-1.4 0-1-.8-.6-.1-.7 .8-.7 1.8-1 .9-1 .1-2.6-.9-4 2.5-1.7 .7-.7-.1-1.6-1.1-.7 .1-1.5 1.7-3.2 2.2-2-.1-1.6 1.1-1.7-.8-.3 .3-.8 1.6-1.4 2 .7 1 .8 .6 2.7-.5 1.6 .4 2.4 1 1.3-.4 2 .3 1 .3 1.3 1.3 1.4-.3 1.6 .7 4-.7 1.7 1.2 .7-.4 .6-.9 .7-.3 2.3 1.7 .7 .3 1.5-.3 1.5-.6 1 .2 1.7 .9 2-.7 1.6 .8 4 .4 2.4-.7 3-.4 .6 .1 1 .9 .7 .2 2-1 .7 .3 1.3 1.7 .7 .1 1.6-.4 1 .6 .4 1.6-.2 2.4-.5 .8-2.7 1-1.6 1.5-1.7 0-2 .9-1.7-.5-2 .4-2.6-.7-2 .5-2-.6-1.7 .7-2.3-.6-1.4 .5-2-.7-4 .6-2.6 1.4-1.4-.1-1.3 .2-1-.4-1-1.1-.7-.3-2 1.3-6.3 1.1-1 0-2.3-1-1.6 .1-1.1 .4-1.7-.5-.6 .2-1.7 1.3-1.3-.2-1.4 .2-3.3-.9-.7 .4-1 1.2-2.3-.2-1.3 .6-2-.1-1 .5-.7-.2-1-.8-.7-.2-1.3 1.4-1.7 .1-1.6 1.5-1.4-.5-.6 0-2 1.6-2.4-.2-1.6 .5-1-.5-.7 .1-1.3 1.9-1 .5-.6 .9-.2 1.3 .2 2.3-.2 3 1.3 4 1 2 .2 2.4 .6 2.2 2.1 2.4 .7 1.7 .2 2.3-.2 2.7-1.1 5.3-1 1.7-1 1.1-2 1.2zM149 357.3l-.3-.1-.7-1-.3-.1-1.4 1-.3-.4-.2-1.5 .2-1.9 1-3.5 .7-.9 1-.3 .6 .2 .6 .7 .5 3-.4 3.3zM456.3 368.6l-.2-.1-.2-1 .4-.4 .4 .1 .2 .6-.2 .6zM411.7 370.9l-2-.4-.3-.7 .3-1.3 2.5 0 .2 .7zM413.7 387.5l-.4 .1-.4-.4-.6-2.4 .4-2.6 .3-.8 .3 0 1.1 1.4 .3 1.4-.3 2zM151.7 383.6l-.4 .1-.4-.2-.1-.3 .5-.6 .7 .2zM184 395.9l-1.7 .1-1.6-.6-1.4 .1-.9-.7-.9-1.3-.4-1 0-1 1.1-3.3 .8-1.1 2-.4 2 .9 1.7-.8 .6 0 1.4 .5 1.6 0 1.2 .9 1 2-.2 2-1.6 1.1-1.7 .5-1.7 1.6zM150.3 396.2l0-1.7 .4-2.2 .6-1.8 .7-.8 .2 .5-.2 3.2-.3 1zM149 406.9l-.7 .2-.5-.6-.8-4 .3-.5 1-.4 .7-.7 1-3.8 .3-.5 .7 2.6-.1 1.6-.9 4.4zM153.3 431.5l-.6 .2-2.7-.9-1.7-2.1-1-.6-1.1-1.9 .2-1-.2-4.7 .3-3.3 .9-1.4 1.6-.6 2.5-2.4 1.2-.4 2 1.1 .1 .3 .3 3.4 .7 3 0 4.3 1 2.7-.1 .8-.4 .5-.3 .2-.7-.2-.3 .3-1 2zM240 433.9l-.7 .1-.3-.9-.3 0-.7 .7-1.7-.9-1.3 0-1.3-.5-.7 .2-1.3 1.1-2-.1-.3-.4-.4-4.7 1-4.3-.1-8 .4-.2 2 .2 1 1 .4-.1 2-1.7 1.3 .1 .3-1.4 2-.9 1 .3 1 .9 1.7 .3 1.7 1.3 1 1.8-.3 3 .9 .7 1.7 .1 .4 .9 .6 .8 .4 1.2-.4 3-.7 1.4-1.3 1.3-.7 1.2-.3 .3-1.7-.1-1.6 1.7-1 .4-1-.1zM156.7 415.7l0-.7 0 .7zM465 421.2l-.7 0-.4-.4-.3-2.6-.5-1.7 .2-.3 1-.7 .7 0 1.7 2.1 1 .4 .6-.3 .5-.5 .5-1.9 1.4-.3 .3 .2 .5 4-.2 .9-.3 .2-.3-.3-.7-2.3-.3-.3-.4 .2-.4 1.6-1.2-.2-1 .2-.8 1.3zM238.7 417.2l0-1.4-.4-.1-.2 1.1 .2 .4zM479.7 421.2l-.7-1-.4-2 .7-1.7 .7-.4 .8 1.4 .2 1.3-.5 1.7-.5 .6zM460.3 421.7l-.7-.2-.4-.7 .1-1.7 .4-.4 .8 2.1 .1 .7zM352.1 423.5l.3-1-.4-1.5-.3 .3-.2 1.5 .2 .7zM239.4 429.2l.3-2.4-.4-3.8-.3 3.8 .3 2.6zM347.6 435.8l1.3-1.3 .5-2.3 .2-4-.2-1.4-.4-.8-.3-.1-1.9 2.3-.9 3-.1 1.6 .4 1.7 .8 1.5zM150.7 438l-.4 0-1.2-1.5-.8-.3-.5-1 .3-1.4 1.9-2.1 .3 0 .4 .5 .5 2.3 .1 2.3-.2 .7zM179 460.6l-.3 .2-1.4-1-2.3 .8-2.3-1.5-.1-.6 .5-2-.7-1.7-.6-2.6-.5-3.8-1.6-2.8-1.7-.8-.7-.7-.9-2.6-1.1-2-.2-1.7 .2-1.3 .7-1 .3-.2 .4 .1 .3 2.2 .3 .2 2-2.1 2-.5 2-1.6 1.4-.2 2.3-1.1 .7 .1 2 1.3 .6-.2 1.4-.9 2.6 1.1 1.7-.7 .7 0 .6 .5 .7 1.3 1.3 .9 .5 .8 1.4 5 0 5.7-2.9 6.8-3 3.4-2 .8-1.3 1.5-2 .1zM311 447.9l-.7-.1-.3-.3-1-1.9-.7-.8-.8-2 0-2 .5-2 1-1.5 1-.7 .7 .1 .7 .5 1.1 1.6 .4 1.4 .4 3.3 0 1.3-.3 1-.8 1.4zM224.7 488l-.4 .1-.3-.3-.6-1.3-.6-5-.7-2.7 .2-4.6-1.4-1.4-.5-1.3 .1-1.3 .9-4-.4-1.7-.6-1 .3-2.7-.6-2 .1-1.6 .5-2 0-4.2 1.3-4.8 2-1.6 1.7-2.2 .6-.3 1.7 1 1.3 .4 1 1 .5 1.7 .3 2.6 .9 2.1 .3 2.3-.8 3 0 1.3-.5 .7-.7 .5-.3 1 0 7.1-.6 3-.7 1.4-1.2 .6-.9 2.4 .1 1.9 .3 .3 .7-.1 .3 .7-.1 2.2-.9 2.6-.7 3.8-.6 .4zM411.3 452.5l-1-.7-.8-2 .5-1.5 1-.6 .7 .3 .5 .5 .5 1.3-.3 1.7-.4 .7zM146 451.2l-.3-.4 .3-.9 .3 .1 .2 .5zM416 465.9l-.7 0-.3-.2-.7-1.2-1-.9-.2-1.4 .2-1.1 1.1-1.9 1.5-1.4 .4-1.1 .7-.4 .8 2.2 .3 3-.4 1.8-.7 1.5zM146.3 481.6l-1.3-.8-1-.2-.4-.8 .7-9 1-2 1-.9 .5-.1 .1 3 .4 1.6 .7 1.3 .3 0 .4-.4 .2-1.5-.5-5.6 .3-.9 1-.8 .3-1.3 0-2 .2-.4 1.8-.3 1-1.3 .5 0 .2 .6 .2 3 .4 .5 1.8-1.5 .9-2.1 1.3-.1 2.4-2 .7 .2 .9 1.1 .4-.2 .4-.9 .9 0 2 1.5 1.7 2.2 .6 1.7-.1 1.3-1.5 2.3-2.7 .9-2.7 .4-1.3 .6-2.3-.3-2.4 1.2-1.6-.2-1 .4-.9 1.4-.9 3.6-1.7 2-.5 1.4-.4 .3-.6 .1-1 2.6zM210.7 481.2l-.5-3.4-.7-2 .4-2.6 .8-2.1 1.3-.7 .7-.1 .4 .2 .6 .7 0 1.3-1.7 6.6-.7 1.4zM202 483.8l-.7-.6-.4-4 .5-2.4 .6-1 1-.8 .7-.2 2 .2 .7 .5 .6 1.7-.3 3.3-.7 1-1.7 1.2-1.3 .2-.7 .9zM221.3 479.6l-.3-.1 0-1 .4 .3zM413.3 492.5l-.3 .3-.5-.6 .5-.2zM402 510l-1.1-.2-1.8-1.3-.8-1.5-.6-.6-.7-.2-.3 .2-.4 .8-.3-.2-.3-1.8-.4-.5-.3-.1-.3 .2-.4 .7-.3 1.7-.3 .1-1-.7-1.2-1.4-.2-1 1.6-5.4 .1-2.3 .3-.6 .4-.1 .1 3 1.5 3.9 .4 0 .3-.6 .5-2.9 1.2-3.2 2-.4 1.3-1.5 .7-.4 1.6-.3 2.4 .1 2.3-.4 .5 .4 .7 3 1.5 3.7 1 .1 .3 .6 .3 1.9-.3 2.3-1.3 1.7-1 2.7-2-.7-1.7-.1-2-1.3-.7 .3-.8 1.8zM415 509.5l-1.4-.7-.2-.3 .7-5.7-.2-8.6 .1-.4 2.3-.5 1.6 1.5-.2 3 .7 3.4-.7 1.9-.4-.1-.6-1.1-.7 .1-.3 .5-.2 1.7 .3 4-.2 1zM166.3 506l-.6-.1-.7-1.7 .3-1.7 .7-.9 .3 0 .4 .6 .3 2-.2 1.3zM348 506.7l0-.4 0 .4zM293 523.2l-.3 .3-.2-.3 .4-3.4-1.1-3.6-.2-1.7 1.4-6.7 .6-1 .4-.2 .3 .3 .5 3.6 .9 3.3 0 4.4-.2 1.3-1.1 1.7-.4 1.3zM314.3 514.2l-.6 .2-.7-.4-.5-1.8 .8-4.7 .4-.8 .3-.2 1 1 .3 2-.3 3.3zM261.7 522l-1.2-.2-1.8-1.4-1.7-.6-.7-.6-.5-1-.6-2.7 .7-5.3 .8-1.2 1.6 .4 1.7-1 1-.1 .8 .5 1.2 1.5 .7 0 .6-.4 .7 .3 1.9 2.6 .1 .4-.7 1-1.1 5-.6 .6-1.3 .6zM287.3 522.2l-1-.7-1-1.7-2-.2-.3-.3-.7-1.4 0-.9 .4-.7 1 1.4 .3 0 .3-.2 .8-2.3-.3-3.7 .5-1.2 .7-.8 .7-.5 2.3-.5 .3 .2 .2 .5 .2 5-.1 .6-.8 1.4-.1 .6 1 5-.4 .3-1.3-.2zM268.7 520.2l-.6-.4-.1-.3-.6-6 .3-.2 .6 .3 1 1 .7-.5 .7 0 .6 .9 .3 1.2-1.3 2.9-.7 .7zM252 529.3l-.7 0-1.6-.8-1.7 .9-1-.2-.9-2 .6-2.7 1-.5 2 .2 2 1 .4 .6 .3 1.7 0 1.3zM356.7 541.6l-.8-1.1-.3-4.3 .2-1.7 .2-.5 .3-.1 .7 1.4 .5 3.2-.5 2.8zM27.3 547.9l-2.6 .1-2.7-.7-1.3-.7-1.4-.3-1-1.3-.3-.1-1.3 .6-.7-.2-.6-1.1-.9-3.7 .1-1.3 .3-.7 .8-.4 2-.3 1.3-1.1 2.7-.2 .6 .3 1.7-.1 .5 .1 .2 .4 .3 2.6 .3 .9 .4 .1 .3-1 .1-1.3 .2-.4 1.4-.2 2.3-1.5 1.3-.4 .7 .1 1.7 1-.4 8.7-1.6 1.7-1 .1-1.4-1-.3 0-1 1zM272.3 538.3l-.3-.1-.6-1 .1-.4 .4-.3 .6 .7zM410.3 543.8l-.6 0-.7-.6-.4-1.4-.2-3.6 .5-1.4 .8-.3 .3 0 .2 .3-1 2.7-.1 1.3 .4 1.7 1 1zM367.3 540.9l-.8-.4-.8-1.7-.2-1.3 .5-.8 .7 .1 1.6 .8 .5 .6 0 1.3zM252.3 543.9l-1.6-.4-1.7 .2-.5-.9 .2-.3 1.3-.7 .7-2.6 1.3-1.7 .7-.2 .6 .3 1.4 1.7 .1 .9-.4 2zM266.7 541.1l-.4 0-.5-1.6-.1-1.3 .3-.4 .4 .4 .6 1.3zM284 540.2l-.7 .1-.6-1.1 .1-.7 .5-.3 1 .3 .5 .7-.1 .7zM278 544.2l-.3 .3-.4-.1-.6-.6-.5-1.6 .4-1.7 1.1-1.9 .3-.1 .3 .4 .3 2.3-.3 2.2zM298 544.3l-.6-.1-.4-.4-.6-1.6-.1-1.4 .4-1.6 .3-.5 .3 0 .9 1.8 .5 .5 1.6-.4 .5 .6-.1 1.3-.4 .7zM259.7 542.5l-.7 .1-.3-.4 .6-2.5 .4 0 .3 .3 .3 1.2-.2 1zM415.7 545.2l-.4 .2-.3-.4-.3-2.5 .3-1.1 .7-.7 .3 .1 0 .7zM257.3 541.5l-.3 .1 0-.7 .3 .2zM292.3 543.5l-.1-.7 .1-.6 .4 .2 0 .4 0 .5zM283.7 545.2l-1 0-.6-.7 .2-1.3 .7-.6 .3 .2 .4 1 .2 1zM37 547.5l-.7-.2-1.2-1.1 .6-1.7 .3-.5 .3-.1 .5 .6 .4 1.3 0 1.4zM147.4 560.5l.3-.1 .3-2.9-.2-1.3-.5-.8-.3 .6-.1 .8zM106.3 566.2l-.3-.6-.1-2.1 1.1-3 1.7-1 1.3 0 2 1.7 .4-.4 .2-1.6 .4-.3 .5 .3 .4 1-.2 1-1.1 2-.9 1.1-2.7 1.1-1.7 .3zM93 571.9l-.7 .2-.3-.1-.9-1.2-.4-2.3 .2-1.3 1-2 2.1-2 .7-.3 .6 0 1 .6 .3 1 .1 2.7-.2 1.6-.8 1.4zM81 572.7l0-.8 1-1.6 1-2.8 .7-1 .6-.3 0 1.2-1 2.9-.3 .5-1.3 .7zM312.7 588.2l-.4-.3 0-.4 .4-.2 .3 .2zM147.3 603.6l-.6-.4-.4-.6-.4-1.8 .4-1.3 1-.5 .7 .4 .2 1.1-.2 2.3-.3 .7z" stroke="#ffd800" stroke-width="1.0" fill="#f0e400"/>
<path d="M146 331.9l-.3-.7 .2-1 .4-.8 .4 0 .2 .4-.1 .7-.5 1.3zM580.7 347l-1.4-.2-.3-.4-.3-.9 0-1 1-2.7 .3-.5 1.3-.1 1.7-1 .3 .1 .3 1.5-.1 1.7-1.5 1.4zM577.7 344.6l-.7 .1-.4-.2-.4-1.3 .1-.9 1.7-.2 .3 .4-.1 1.3zM154 592.9l-1.3 .2-.7-.2-1.3-.7-1.4-1.1-2.3-1.2-.5-.7-.5-2.2-1-2.4-.7-.9-1-.9-1-2.7-1.2-2.3-.4-2.3 .7-2.7 1.5-4.6 .1-2-.4-1.4-.8-1.3-1.3-1-.9-1.3-1.9-1.9-.7 0-1 .6-2.7 0-1-.5-2 .7-1.6-.7-2.4-.2-3.3 1-2.7-.8-1.6-.1-.8-.8 0-1 .8-1.7 1.2-1.3 .1-.7-1.2-.6-.1-.7-.4-.3-2-.8-1.3-.1-1.7-.6-1.6 .2-1.4-.4-1.3 .4-1.3 0-1.7-.3-1.7-1.1-1.6 .9-2.4-.3-4.6 .1-1-.2-1.7-.9-1.3 0-1.7-.5-1 .1-1.3 .6-1-.1-2-1.4-2.4 .9-3.3-.6-1.7 .7-1.6-.2-1.7 .5-.7-.5-1.3-2.1-.7-.3-2 .7-1.3 .1-1 .5-1-.2-1 .9-4 .1-.7-.5-.1-.3 .1-3-.3-2.2-.3 0-.9 1.9-.2 1 0 2-.3 .2-1.6-1.1-2.3 .9-3.1 0-1.6-.8-1.4-.3-1-.8-1 .4-1.3-.5-.3 0-1 1.1-.9 .2-.5-.3 1.6-3 1.8-7.4 .6-.6 .7-.1 .7 .1 2.3 .9 1.7-.2 2-.6 1.3 .2 1-.1 1 1.3 1-.6 .7 0 .6 1.1 .7 2.8 .3 .3 .4-.3 2 .5 .6-.4 .9-1.3-.4-3 2.2-1.6 1-.5 1 0 .3 .5-.9 2 .2 .3 2.1 .6 1 0 .8-.3 .5-1 .3-.1 1 .3 3.4-.2 2.6 .6 3-2.2 1.7 .4 1.3-.8 .7 .1 1.7 1.2 1 .2 1.6-1 2.7-.7 1.7 .4 1 0 2.6-1.9 3.4 1.3 1.6-1.6 2-.7 1.7 .9 1.3 .2 1.4 .7 1 .3 1.6-1.1 1.7 .1 2-.2 1.3-.6 2.7-.6 1.7 .6 2-2 .6-.4 .7 .2 .9 .6 .4 .7 .1 1 .6 .3 2-1.1 1.7-.2 3.6 .9 1.4-1.5 1.3 .1 1.7-.8 1 .5 .6-.1 1-1.3 1.2-.8 2.2-3.3 1.4-2.7 1-2.7-.2-1.6-.9-1-1.3-.6-1.1-2.8-.4-8.3 0-1.7 .5-2 3-5.8 2.3-.9 1.3 .9 .7 .1 1.7-1.4 2 1.1 1.6 .4 .7 1 1.3 3.3 .5 2-.2 2.3 .2 4.7 1.2 4 .3 2-.2 2-1.1 1.3-.2 .7 .1 1.7 .5 2.3 .9 3.8 2.3 4.2 1.4 .8 1 1.3 1 .1 1.4-1.2 1.6-3.4 2.7-1.6 1.3-2 1.7-.9 4.3-3 1.7-2.4 1-.3 1.3 .5 .6-.2 .3-.7 .2-1.7 .6-.9 3-2.2 1.6-.2 .1-.3 .7-.4 .9-1.3 2.3-1.7 .7-.3 1 .1 .3-.2 .7-1.9 .3-.1 1.4 .2 1.5-.8 1-1 .1-1.3 .3-.3 2.4 0 2.7-2.1 2-.1 2.3-1.7 1.7 .3 .6-.2 1.4-1.1 1.6-.7 1.8-2.1 .6 0 1 .7 1.3-.3 2.3-2.1 .7-.3 1.3-.1 .6-.6 1.4-.6 .7-.1 1.3 1.2 .7-.1 1.5-2.7 1.2-1 .7-2.7 .6-.6 3-1.7 1.3-.2 1.4 .5 .6-.2 .8-.8 1.2-2.5 1.4-.9 .6-.2 .7 1.1 .3-.2 .7-1.9 1-.9 3.3-5 1-.9 3 0 2.4-1.5 1.6-1.9 1 0 1 1.1 .4 0 1.3-2.1 .7-.2 1 .3 .3-.1 .3-.8 0-2.6 .7-.7 1.3-.1 .8 .4 .7 1 .5 1.9 .4 0 .2-.3-.2-1.6 1-.5 1.1 .1 .3 .7-.1 1.3 .2 .4 .5 .2 .3-.2 0-1.4 .2-.3 1.5-.4 1.3-1.9 1.3-.8 .6 .1 .3 .3 .5 2.3 .6 .6 1.7-2.2 2.7-1.4 .5 .1 .5 .4 1.1 2.2 .5 .5 2.3-2.8 1.7 .1 1.4-1.7 1.6 .5 1.6 .1 .8 .8 .3 .1 .8-.6 .5-1.3 1 .6 .7 .1 1.7-2 .3 .1 .7 .8 1.8-1.9 1.5-.9 .7-.3 1.3 .5 .7-.3 .9-.7 .1-1.3 .6-.6 .4-.1 .2 .3 .1 1.1 1.3-.8 1-.1 .7-.9 3.3 .1 .7-.1 1.3-.8 1.4 0 .6 .2 1 .7 2.4 .5 .6-.4 2-2.2 .7-.2 1.3 .2 .7-.2 1.7-1.7 .6-.3 1.7-.2 1-1.3 1-.4 .3-.5 2.4-6.6 .3-.4 .7 0 1-.7 1.3-2.3 .4-1.3 .2-2.7-.3-1.8-.6-1.7 0-1.2 .6-1 1.8-1.3 .6-.7 1.6-4 .4-.3 1 .2 .3-.3 .4-2.2 .6-1.2 .7-.1 1.3 .9 .3-.1 1.1-1.5 .6-.6 2.3-.6 1 .5 .7 4.3-.4 3.7 .4 1.3 2.2 3.4-.2 3.6 .3 .4 .7-.3 1.7-1.9 2-.9 .9-.9-.3-.5-1-.5-.2-.7-.3-4-.6-3 .3-2.3 .8-2.1 .4-.1 .3 .4 1 2.6 .3 .1 1-4.6 .4-.1 1 .5 1-.1 .3 1.4 .1 4.3 .2 1 .4 .4 1.3-.9 1 .1 .6-.3-.6-3 0-1.4 .3-.6 1.4 .4 1-.7 1.6 .2 1.8-1.2 2.6-.1 2.3-1.4 3.7 .1 2.6-1.5 2.7-1 2.3-.4 1.7 .1 1.3 .7 1.4-.2 .6-.4 1-1.1 .7-.2 1.3 0 3.4 .9 4.6-.9 2 .7 1.4-.3 1.3 .1 1.8-1.1 0-.3-1.3-1-.2-.7 1.1-1.7 .6-1.8 .3 .1 1 .9 .8 2.5 .6 .7 .6 .1 1.7-.5 3 .2 1.3 .9 3 1.3 2.4 1.6 1.2 1.7 .8 .5 1.6 0 1.4-1 1.6-.5 1.4-3.3 .5-.4 .8-.1 .4 .5 .7 3.3-.1 2.3 .3 .3 1.4-.4 .6 .1 2.4 2 1.3 0 .3-1 .1-6.3-.6-5.7 .2-1.9 .3-1 1-.5 .8-.9 2.6-1.4 2.6-2.2 .7-.1 .7 .3 .6-.1 2.7-4.4 .3 .1 .7 1.3 .3 .2 1.4-1 .5-1.4 1.8-1.5 .9-1.8 1.1-.6 .7-.8 2.3-1.2 1.3 .6 1-.2 1.7-2.4 .7-.2 1.3 .4 2-1.7 1.7-.1 1.3 .7 .3-.1 .4-.6 .3 .3 .3-.1 .7-1.3 .3-.2 5-.6 4.7-4.5 1-.2 .7 .9 1-.1 .6-.7 1-2 .7-.3 1.3 .7 .4-.2 1.3-1.7 1.3-.5 1.4-.2 1-.5 4-3.4 1.6-.2 1.4-.9 4.3-1.9 .5-.9 1.2-.7 1-.2 1.3 .5 2-1.5 1.3-.1 2.7-1.1 2.3 .1 1-.8 1.1 .5 .9 0 2.4-2.5 .8-.2 .8 .7 1.7-1.4 2.3-.2 1.7-.9 1.7-.4 1-.6 2-.2 1.3 .5 .3-.3 .7 .6 .8-.4 .8-2 .4-.3 2-.2 1 .7 .7 .1 3.6-2.8 2.7 0 4.3-1.4 2.4-2.2 .6-.3 1 .1 .7-.3 1.3-1.4 1-.7 1.4 .3 1.3-.5 2.3 .8 1.4-.2 .6 .6 .2 1-.3 1-.9 .7-.8 1.6-2.8 4.3-2 1.2-1.4 .3-2 2-1 .2-1.3 1.1-2.7 .6-1.5 2-2.5 2-2 2.3-.6 .2-1.7-.7-1.7 .6-2 1.9-2 2.6-2 .5-.8 .6-.3 .7-.3 2-1.2 .9-2-.1-1.4-.6-.6 .2-.7 .6-1 2-3 1.7-1.3 .3-1.4-.6-.6 .1-1.7 1.7-2 1.4-3 1-1.7 1-1.3 .4-1.3 1.2-3 .2-2.7 .8-1 .5-1.3 .3-2.4 1-.3 .5-1 .4-1.3 1.5-2.5 1.6-1.5 .4-1.4 1-3.3 .2-.7 .5-1 1.4-1.3 .7-1.2 1.1-2.5 .9-2.3 1.5-1.3 .4-.4-.1-.8-1-.5 0-3 3.8-1-.1-1.7-1.1-.5 .4-1.1 1.5-1 .2-.7-.5-.3 0-.2 .4-.8 .5-1 .1-.7 .9-1.1 .9-2.2 .9-1.4 .2-2 1-1.3-.2-1.3 .1-3 1.1-1.4 .1-2 1.5-2.6 1.3-1.4 .1-1 .4-2-.8-1 .1-1.5-1.5-.5-.8-.3 0-.2 2.1 1 6.7 .2 .5 .3 .2 .7-.2 1.7 .4 .3 .4 .2 1.4-.7 1.6-1.8 .8-1.7 .4-1.3 .8-5 .2-3 2-2-.1-1 .4-1.4 1.1-1.6-.3-.7 .3-1.7 1.8-1.3 1-2 .7-1.7 2.8-1.6 .1-.7 .6-1.8 3.8-1.2 3.6-1.5 1.4-1.2 .5-1.3-.1-.7-.4-1.3-1.8-.7-.2-1.3 .4-1.7 1.7-1.3-.1-.7 .4-2.9 5.2-.2 2.4-1.2 1.3-1 .2-2.3-.8-1.4-2.8-3.6-1.3-1.4-1.2-2.3-1.3-1.7-.5-1.3 .4-1.6 2-2 4.3-.9 5-1.3 3.7 0 .6 .5 1-.2 .7-.5 .9-1 .9-.7 1.9-1 1.6-.6 .6-.7-.2-1-1.5-.7-.2-1 .7-.6 2-.4 .1-.2-.1 .3-3.7-.2-2.3-.5-1.7-1.5-1.7-.7-5.3-1.2-2-1.6 .3-.5 .4 0 3.6-.4 2.4-.5 .8-1 .4-.1 .4 1.6 7-.8 .3-1.7-.1-.5-.5-1.1-2.2-.4 0-2.3 1-2 3-.7 .1-1-.7-.6-.1-.7 .4-1 1.6-.7 .5-1.3 .1-2 .8-1-.1-.7-.4-.9-2-.7-.2-1.4 .7-2.3 2.3-.7 .1-1.3-.2-1.3 .5-2.6-1.2 .4-3.3-.3-1.7-1.7-1-1 0-.8 .8-.4 1.2 1.6 5-1.2 1.4-1 .2-1-.5-3 2-2.4-.9-.6 .1-1.7 1.4-2.2 1-1.5 1.7-2 0-1.3 1-1 .4-3 0-.6 .5-.7 1.7-1 1-1.1 2-.9 .7-1-.3-2-1.5-.7-.2-1 .9-1.3 .2-1 .5-.6 1-.4 2.7-.8 1-.5 1.7 0 1.6 .5 2.4-.2 1.2-.7 .9-1.3 .4-.8-.2-2.6-3.4-1.2-.9-1.8-2-1.3 .3-1-.2-.3 .1-.7 .8-.5 1.3-4.2 4.4-1.5 2.6-.8 3.3-.3 2.7-.4 .1-.2-.4-1.8-5.4-2.9-1.6-1.1-1.4-1.8 1.7 0 .3-.8 .9-.4 .1-1.3 2.1-1 .6-.7-.1-1.6-1-2 1.4-1.4 .2-1.3 .7-2.7 .1-1.6-.2-.7 .3-1.1 .9-.9 .4-.7 0-1.3-.9-.3-.1-1.4 2-1.3 .8-3-.3-1.7 .7-1.3 .1-2.4 2-1.3 2-2 1.8-2 1.2-3.3 1.3-.7 .1-1.3-.4-1.3 .6-2.4 .1-1.3 .6-1.7-.4-2.6 2.2-2-1.1-1.4 1-.6 .2-1.4 0-1-.8-.6-.1-.7 .7-.8 2-.9 .9-1 .1-2.6-1-4 2.6-1.7 .7-.7-.1-1.6-1-.7 0-1.7 1.8-3 2.1-2-.1-1.6 1-1.7-.9-.4 .2-.9 2-1.4 2 .4 .7 1.3 1 2.7-.4 1.6 .3 2.4 1.1 1.6-.5 2.4 .6 1 1 .3 0 .3 .3 1.4-.2 1.6 .6 4-.6 1.7 1.2 .7-.3 .6-1 .7-.3 2.3 1.7 .7 .2 3.3-.7 2.4 1 .6-.1 1.4-.6 1.3 .7 2.3 .4 2 .1 2.4-.7 1.6-.1 1.4-.4 .6 .2 1.4 1 1-.2 .8-.6 .5-.1 .6 .4 .6 1 .8 .6 .7 .1 1.3-.4 1 .6 .5 1.8-.2 2-.4 .6-2.6 1.1-1.6 1.4-1.7-.1-2 1.1-1.7-.6-1.6 .6-3-.8-2 .5-1.7-.6-2 .7-2.3-.6-1.4 .4-2-.6-4 .5-2.6 1.5-1.4-.2-1.3 .2-1-.3-1-1.1-.7-.4-2 1.3-1 .1-3 .8-3 .2-2.6-.9-2.7 .3-1-.5-.7 0-1 .4-1.3 1.2-2.7 0-3.3-.8-.7 .3-1 1.2-2.3-.2-1.7 .7-1.6-.2-1.4 .5-1.3-1-.7-.2-1.3 1.4-1.7 .2-1.6 1.4-1.7-.6-.7 .2-1.6 1.4-2.4-.1-1.6 .6-1-.5-.7 0-1.3 1.8-1.4 .7-.3 .9-.2 1.4 .2 2.3-.1 3.4 1.3 4 .9 1.6 .8 4.7 1.9 2.3 .8 1.7 .3 2.7-.3 2.3-.6 1.7-.6 4-1.4 1.9zM149.3 356.6l-.3 .2-.3-.3-.7-1.1-.3-.2-1 .9-.4-.1-.2-.8 .1-2 .8-3.1 .6-.9 .7-.4 .8 0 .6 .6 .5 2.1 0 3-.4 1.3zM411.3 370.5l-.6-.6-.7-.2 0-.8 .7 .2 1-.4 .3 .1 0 .8-.3 .7zM413.7 387.3l-.4 .1-.3-.2-.6-2.4 .3-2 .3-.8 .3-.1 1 1.1 .3 1.2-.3 2zM183.3 395.8l-1 0-1.6-.6-1.4 .1-.6-.4-.7-1.1-.8-2 1.3-4 .8-.6 1.4-.4 .6 .1 1.4 .8 2.3-.7 1.7 .5 2 .1 .6 .6 .9 2-.3 1.6-1.2 1.1-1.7 .7-1.7 1.6zM150.7 394.9l0-1.4 .6-2 .4-.4 .2 1.1-.2 1.6-.4 .6zM148.7 406.9l-.4-.1-.5-.6-.5-3.4 .4-.5 .6-.2 .7-.6 1-3.5 .3-.1 .5 1.6-.6 4.7-.6 1.6zM442 409.2l-.3-.1-.5-.6-.8-2.3 .9-2.2 .4-.3 1 1.5 .5 1.6-.2 1.4zM153.3 431.2l-1 .1-2.3-.9-.7-.6-.7-1.3-1.3-.9-.6-1.4 0-1-.4-4.7 .2-3 .8-1.2 1.7-.9 2-1.7 1.7-.8 1.4 .9 0 1 1.5 5.4 0 4.3 1 2.7-.3 .9-1-.4-.3 .4-1 2.4zM237.7 433.5l-1.4-.8-1 .1-1.3-.5-1 .1-1.7 .9-1-.4-.3-.4-.7-2.6-.1-1.7 .9-4-.1-7.4 .3-.5 .4 .1 1.6 .5 .7 .7 .3 0 2-1.7 .7-.2 .9 .5 1.8 2.1 .4-1.1-.1-2.5-.3-.4-.7 .5-.3-.1-.1-.2 .1-.3 2-.8 1.6 1.2 1.7 .4 1.2 1.2 1.2 2-.3 2.6 .9 .9 1.5 .5 .5 1.2 .7 .1 .3 .5 .1 1.5-.8 2.9-1.3 1.4-.7 1.4-.6 .3-1.4 0-1.3 1.4-.7 .4-.6 .2-1.7-.1-.3-.1-.1-.8 .5-2.7-.2-6.6-.3-1-.3-.5-.3 .1-.3 1 .2 2.4-.3 6.3-.4 1.7zM470.3 415.9l-.6 .1-.1-.5 .8 0zM465 421l-.7-.1-.2-.4-.4-4 .1-.3 .9-.5 .3 .1 1.1 2-.1 2-.4 .7zM480 420.9l-.3 .1-.4-.4-.5-2.1 .1-.7 .8-1.3 .3 0 .3 .4 .5 1.6-.1 1.4zM468.3 418.6l-.3-.1 .3-.1zM347.5 436.2l1.2-1 .4-.7 .5-2.7 .3-3.3 0-2-.8-2.3-.3-3.7-.5-1-.3 .1-.4 1.2 .5 3.7-.1 1-1.7 3.2-.8 3.5 .2 1.6 .8 2 .5 .6zM352.6 424.2l.3-.7 0-1-.5-2-.4-.6-.7 1.4-.1 2.2 .5 .8zM460 421.3l-.4-.1-.1-.4 .2-.9 .5 .9zM150.7 437.6l-.4 0-1-1.2-1-.5-.3-.7 .3-1.1 1.7-1.6 .3 .1 .4 .6 .3 1.5 .1 2.1zM179 460.3l-.3 .1-1.4-.9-2 .5-1.6-1.5-.3-2.3-.6-1.4-.8-3-.4-3.6-1.8-2.7-1.8-.9-.6-.8-.8-2.3-1.1-2.3-.2-1.4 .1-1 .3-.7 .6-.4 .3 .8 .1 1.7 .3 .4 2.3-2.6 2-.7 2-1.4 1.4-.3 2.3-1.1 .7 .2 .3 .5-.3 2.3 .3 .5 .7-.4 .5-1.4 1.1-.2 1.4-1.2 .3 0 .6 .7 1.7 .4 2.4-.7 .4 .3 .9 1.7 1.3 .7 .4 .6 1.3 5 0 5.7-2.8 6.6-2.9 3.4-2 .8-1.3 1.5-2 .2zM311.3 447.6l-.6 .2-.5-.3-2.6-4.3 .1-2.4 .3-1.6 1-1.7 1-.8 .7 .1 1 .9 .8 1.5 .4 1.3 .2 4.3-.8 2zM224.3 487.3l-.3-.2-.5-1.3-.5-4.2-.7-3.4 .3-4-.3-.8-1.3-1-.4-.9 .1-1 .9-4.3-.3-1.7-.7-1.7 .2-2-.4-3.6 .5-2-.1-4 1.5-4.6 .4-.8 1.6-1.4 1.4-1.8 .6-.3 3 1.4 .7 .8 .6 1.7 .3 3.3 1.1 2 .2 1.7-1.2 4.3-.7 .1-.3 .5-.2 1.7-.1 7.9-.7 2.2-1.7 1.6-.9 2.7-.1 2.1 .4 .8 1 .3 .1 1.8-.9 2.6-.6 2.8-.6 .5-1 2zM411.3 452.2l-1-.7-.7-1.7 .4-1.3 1-.6 1 .6 .6 1.3-.3 1.5zM416 465.5l-.7 0-.2-.3-.5-1-1.1-1.4-.2-1 .3-1 .9-1.6 1.3-1 .9-1.4 .3 0 .7 1.7 .2 3-.9 2.9zM146 480.6l-1-.6-1 0-.2-.5 .5-7.3 1.2-3 .8-.8 .2 3.1 .9 2.7 .6 .7 1-1.1 .2-1.6-.4-4.7 .3-1 1.1-2 .2-3.3 1.6-.2 1-1.4 .3 0 .1 1.6-.5 3.3 .1 .9 3.3-3.1 1-2.1 1-.3 2-1.9 .7-.1 .8 1.3 .5 .3 .8-.3 .2-1.1 .7-.1 2 1.5 1.7 2.3 .4 1.4-.1 1.2-.7 .8-.6 1.4-.4 .3-2.3 .6-3 .4-1 .6-2.3-.3-2.4 1.1-1.6-.1-1 .4-1.2 1.9-.8 3.2-2.4 2.7-.6 .1-.4 .3-.6 2.1-.4 .6zM371.3 461.9l-.3-.7 0-1 .3-.9 .4-.2 .4 .4 0 .7-.3 1.3zM363.5 463.5l-.2-.5 0 .8zM211.3 479.1l-.3 0-.4-1.9-.8-1 .2-2.7 .7-2.2 1.3-.7 .7-.1 .6 .3 .2 1-1.5 5.9zM202 483.5l-.3-.1-.3-.6-.4-3.6 .6-2.4 .7-1.1 .7-.4 1.3-.2 1 .2 .9 .5 .5 1-.1 3.4-.6 .9-1.7 1.4-1.6 .1zM401.7 509.9l-1-.4-1.4-1.3-1-1.7-1.2-1-1.1-1.7 .7-4.3 .7-2.3 .6-1 1.7-.4 1.6-1.7 2-.5 2.7 .1 1.7-.5 .3 .1 .3 .9 .3 2 1.2 2 .5 2.6 .4 .4 .6-.2 .3 .2 .3 .6 .1 1.7-.2 1.3-1.3 1.7-.8 2.7-.7 0-1.3-.8-1.7 0-1.3-1.2-.7-.1-.9 .7-.8 1.7zM415 509.1l-1-.4-.3-.5 .8-5.7-.3-7.3 .3-1 1.8-.7 1.2 1.3-.1 5-.3 .7-1.4 .9-.5 .8-.1 1.6 .4 3.7-.2 1.3zM393.3 506.8l-1.4-1.3-.4-1 1.5-4.8 .3-.3 1 1.9 .4 1.5-1 3.9zM166 505.1l-.6-.6-.1-1 0-.7 .7-.8 .3 .2 .2 1.3-.1 1zM293.7 521.2l-.4-.4-1.2-4.6-.2-1.7 .3-2 1.1-4.7 .4-.7 .3-.1 1.4 6.8 .1 2-.3 3zM314 514.3l-.7-.1-.3-.4-.3-1.6 .8-4.4 .5-.8 .7 .4 .3 .6 .2 2.5-.4 2.7zM261.3 521.8l-1-.2-1.6-1.4-2-.8-.7-1.2-.6-2.4 .6-5.3 .3-.8 .7-.4 1 .6 1.7-1.2 1-.3 1 .5 1.6 1.7 1-.4 .7 .2 1 1.4 .4 1-1.6 6.4-1.5 1-1.3 1.4zM289 521.7l-1-.2-1 .2-.7-.7-.6-1.3-.7-.3-1.7-.2-.7-1.4 .1-.7 1 1.3 .3 .1 .7-.9 .7-2.4-.3-4 .7-1.4 1.2-.7 .7 0 .6 .4 .4 .4 .3 .9 0 2.4-.8 2-.1 1 1.1 5zM269 519.5l-.5-1-.1-2.3 .3-.5 1 .7 .6-1.9 .4-.1 .6 1 .1 1.1-1.1 1.9zM293.3 522.2l0-.5 0 .5zM248 529.2l-1-.2-.5-1.2 .1-2.6 .3-.7 .8-.4 2 .4 2 1 .4 .7 .2 1.3 0 1-.3 .5-.7 .1-1.6-.8zM356.7 540.9l-.5-.7-.4-4 .2-1.5 .3-.3 .5 1.1 .6 2.7-.1 1zM25.7 547.9l-1.4-.1-2.3-.7-1.3-.7-1.2-.2-.6-.7-.6-1.7-.3-.3-.6 1.3-.4 .3-.7 .1-.3-.2-.4-.8-.9-3.7 0-1.1 .3-.8 1-.4 1.7-.2 1.5-1.2 2.5 0 .6 1.3 1-1.1 .4-.1 .5 .3 .7 3.6 .4 .8 .4 .2 .4-.6 .4-2.7 1.5-.5 3-1.8 1 .1 1.3 .9 .2 .6-.3 5.4-.3 2.6-.4 .7-.8 .9-.7 .1-.7-.3-.6-.7-.7-.2-1.3 1.3zM66.1 537.5l.6-1-.4 0-.3 .4-.1 .6zM39.7 541.6l-.4-1.4-.1-2.7 .4-.7 .7-.1 .7 .4 .1 .4-1.1 3.8zM409 539.2l-.3 0 0-1.3 .3-.8 .7-.3 0 .4zM272 537.4l0-.3 0 .3zM367.3 540.6l-.6-.3-.8-1.5-.1-1.3 .5-.6 2 .9 .3 .4 0 .6-.2 .7zM252.7 543.6l-.7 .1-1.3-.4-1.4 0-.2-.1 .9-.7 .3-.5 .6-2.5 .8-1.3 .3-.5 .7-.3 .7 .4 1.2 2.4-.4 2zM266.3 539.8l-.1-1 .1-.2 .3 .9zM284 539.5l-.8-.3 .1-.6 .9 .2 .2 .4zM277.7 544.1l-1-.7-.4-1.6 .6-1.6 .8-1.1 .3-.1 .5 2.5-.3 1.7zM298.3 543.9l-.6 .2-.4-.1-.6-1.4-.2-1.8 .5-1.4 .3 .2 1 1.9 .7 0 1.3-.6 .3 .3 0 1-.3 .8zM259.3 542.2l-.2-.7 .2-1.1 .4-.2 .3 .5 .1 .8-.4 .6zM415.3 544.9l0-2.4 .4-.5 0 1.4zM283.3 545.2l-.6-.2-.4-.5 0-.6 .4-.4 .3-.1 .5 .8 .1 .6zM40 546.6l-.7 0-.2-.4 .4-1.7 .5-.5 1.3 1.8-.1 .4zM62 544.2l-.3-.1 0 .4 .3 0zM36.7 547.2l-1.3-1 .3-1.1 .3-.5 .3-.1 .6 1.7 0 .6zM147.5 561.5l.4-1.3 .2-3-.2-1.4-.6-.8-.4 .5-.1 1.3 .3 4.7 .2 .3zM113.3 561l-.3-.5 0-1.1 .3 0 .3 .4zM109 565.2l-1.1 0-.6-.6-.6 .3-.1-.4 .5-3.7 .7-.6 1.2-.5 1 .2 2.2 2.3 .3 .6-1.2 1.6-1.3 .3zM92.7 571.9l-.7-.1-.9-1.3-.2-2 .1-1.3 1.1-2 1.9-1.9 .7-.3 .6 .1 .8 .4 .3 .7 .1 3-.2 1.6-1 1.5-1.6 .7zM83 570l-.2-.2 .1-1 .4-.8 .2 .8zM147.7 603.3l-.4 .1-.6-.4-.6-1.8 .2-1.4 1-.6 .5 .3 .2 .7 0 2z" stroke="#ffff00" stroke-width="0.9" fill="none"/>
<path d="M580.7 346.2l-.6-.4-.4-.6 .3-2.7 .3-.7 1.4-.2 .4 .2 .6 1.7zM452.3 410.3l-.6 0-2.4-1.1-.8-.7-.4-.7-.5-1.6 .1-1-.2-1.7 0-4.3 4.5-3.7 .7-.2 1 .7 .6-.2 .8-1 .8-2 1.1-1.5 1 1.6 2-1.3 .4-.4 .1-1 1.7-1.7 .7-1.7 .4-.4 1-.2 .7-1.1 2-.8 1.3 .4 1-.2 .8-.7 .9-1.6 .7-.2 .6 .3 .7 0 2-1.5 1.7-.3 1.3 .6 .7-.7 .3 .2 .5-.1 .5-1 .3-.2 5.4-.7 1.4-1.8 1.6-1.1 1.3-1.4 .7-.1 .4 .6 .6 .3 1-.2 .6-.6 1.7-2.3 1.3 .5 .4-.1 1.3-1.8 3-.7 4.3-3.4 1.7-.5 1.6-1.2 3.4-1.4 1.3 0 .6-1.6 1.1-.6 .7 0 1.3 .6 1.7-1.6 1.6-.2 2.4-1 2.6 .1 1.4-.6 1 .3 .6-.1 2.4-2.6 .6-.1 .7 .6 .7 .1 1.3-1.4 2.3-.2 1.7-.8 1.7-.4 1-.7 2-.2 1.3 .3 .3-.3 .7 .7 .9-.5 .8-1.8 .3-.3 2-.3 1 .8 .7 .1 3.6-2.9 2.7 0 4.3-1.3 2.6-2.3 2.1-.3 1.7-1.6 1-.1 .6 .4 1.4-.7 1-.1 3.1 1 .1 1-.9 1.1-.8 1.9-2.6 4-1.9 1.2-1.4 .3-1.6 1.7-1.7 .6-1 .9-2.7 .7-1.6 2.2-2.4 1.8-2.3 2.6-2-.6-2 .6-3.7 4.1-2.9 1.3-.4 .6-.6 2-.4 .3-2.3-.1-2 .5-.8 .7-.9 1.8-2.7 1.6-1.6 .4-1.4-.5-.6 0-2.7 2.5-1.3 .7-3 1-1.4 .9-1.3 .3-1.5 1.3-2.8 .2-5 1.6-2.4 1.1-.3 .6-1.6 .8-.7 .9-2.7 1.7-1.3 .4-1.4 .9-1-.1-2.3 .4-.7 .5-1 1.3-1.3 .7-1.3 1.2-2 .6-2.7 1.7-1.3 .3-1-1-.7-.1-3 3.9-1-.1-1.3-1-.7 0-1.3 1.7-1 .3-.7-.5-.5 .3-.2 .5-.6 .3-1-.1-.7 .9-1.3 1-2 .8-1.4 .2-1.3 .6-1 .2-1-.3-4.3 1.6-1.4 0-2 1.5zM577.3 343.5l-.5-.3 .2-.6 .6 .2zM149.3 356l-.3 0-1.3-2.4-.4 0-.3 .4-.3-.2 .6-3.8 .7-.8 .7-.2 .6 .3 .4 .5 .4 2-.1 2.6zM413.7 386.9l-.4 .2-.3-.3-.4-1.6 .1-1.7 .3-.8 .3-.2 .7 .4 .4 1.3-.3 2zM183.7 395.5l-1.1 0-1.9-.6-1.4 .2-1.1-1.3-.6-1.3-.1-1 .8-2.9 .8-1.1 1.9-.5 2 1 1.3-.5 1-.2 1.7 .6 1.3-.2 1 .8 .5 2-.6 1.3-.9 .8-1.3 .8-1.7 1.5zM182.7 393.2l.4-1-.1-1.4-.3 .2-.2 .8zM148.7 406.7l-.4-.1-.3-.5-.2-2.6 1.4-1.7 .8-2.7 .3-.2 .3 1.9-.6 3.4-.6 1.6zM446 407.5l-.8-4.3 .1-1.7 .4-.3 .4 1 .5 2.3-.3 2.5zM152.7 592.9l-1.7-.6-1.7-1.4-1.6-.6-.9-.8-.8-3-1-2.3-.7-1.3-1-.8-2-4.1-.3-3.2 2.1-6.6 .1-2-.4-1.4-.8-1.3-1.3-1.1-1-1.5-2-1.9-.7 0-1.3 .7-2.4 0-1-.4-2 .5-.6 0-1-.6-1.4 .2-1-.4-3.3 1-2.3-.7-2-.1-.6-.7-.1-1 .7-1.3 1.3-1.5 .2-.9-.9-.6-.2-.7-.4-.5-2-1-1.7-.1-1.3-.5-1.7 .1-1.3-.4-1.7 .5-1 0-2-.4-1.7-1-2 1-2-.4-4.6 .2-1-.2-1.7-.9-2.7-.4-1.3 0-1.3 .6-1-.1-2-1.4-2 .7-4-.5-1.4 .7-1.6-.1-1.7 .3-.7-.5-1.3-2.1-.7-.3-2.3 .9-3.3-.3-.8 1.4-1.9 .2-.5-.2-.1-.3 .2-3.3-1.2-1.7 0-1.3 1.6-.5 1.3-1.4 1.4-.5 1.3-1.4 .7-.3 2 .3 1.3-.1 .7-.3 .6-.9 4.4 0 2.6 .5 1.7-.9 1.3-1.2 1.7 .5 1.2-.8 .5-.1 2 1.2 1.3 .2 1.3-.9 2.7-.7 1.7 .4 1-.1 2.6-1.9 3.4 1.4 .4-.2 1.5-1.7 1.7-.5 .7 .2 1 .9 1.3 0 1.7 .9 1 .2 1.3-1 3.7-.2 4-1.2 1.7 .7 .6-.5 1.4-1.7 .6-.4 .7 .1 .6 .5 .4 .7 .1 1 .9 .6 .7-.2 1.3-.9 1.7-.3 3.6 .9 1.4-1.3 1.3 0 1.7-.7 1 .3 .6-.1 1.2-1.3 1.2-.9 2.2-3.4 1.9-3.7 .5-1.7-.2-1.6-.8-1-1.6-1.1-1-2.6-.4-8 .5-3.3 2.9-5.9 2.3-.9 1 .6 1 .3 1.7-1.3 .6 .1 1.4 .9 1.6 .8 .7 .9 1.3 3.5 .3 1.6-.2 4 .2 2.4 1.3 4.6 .2 1.4-.2 2.3-1.1 1.3-.2 .7 .6 4 1 4 2.1 4 1.7 1.2 1 1.2 .7 .2 1.7-1.3 1.6-3.3 2.7-1.8 1.6-2.2 1.5-.7 2.2-1.7 1.7-1 .9-.9 1.1-1.8 1-.2 1 .4 1-.4 .4-.4 .2-2 .4-.5 1.2-.5 1.8-1.7 1.6-.5 .4-.6 .6-.2 .8-1 1.9-1.4 1-.5 1.3 .1 1-1.4 1-.3 2.4-1.5 .8-1 .4-1.3 .4-.1 1.7 .2 2.7-2.1 2-.1 2.3-1.8 1.3 .4 1-.2 1.7-1.3 1.3-.5 2-2.1 1.4 .6 1.3-.2 3-2.4 2 .3 1-.2 .5-1.2 .5-.3 1.3 1.1 .7-.2 1.7-2.6 1.3-1.2 .8-2.8 .6-.6 2.9-1.6 1-.1 1.4 .6 .6-.2 .8-.7 1.5-2.7 1.1-.8 .4 .1 .6 1.5 .3 .2 1.3-3.1 .8-.9 3.6-5.2 .6-.5 1 .2 2-.4 2.4-1.4 1.3-1.6 .7-.4 .6 .1 .9 1.2 .5 .1 1.3-2.2 .7-.2 1 .2 .6-.3 .2-.6 0-2.7 .5-.7 1.3-.1 .7 .4 .4 .8 .4 2 .5 .4 1.4-.4-.5-1.7 .5-.5 .6 0 .3 .5-.4 1.7 2.1 1.1 1.4 1 .3-.1-.1-.4-1.1-1.3-.3-1.3 1.2-.7 1.3-1.9 1-.8 .7 0 .2 .4 .4 2.4 .7 1.1 .3 .1 .4-.2 1.4-2.4 2.2-1.6 .7 .1 .7 .6 1.2 2.2 .4 .3 1.7-2.2 1-.7 1.4-.1 1.3-1.5 2.3 .6 1.3 1.2 .4 0 1.2-.9 .6-1 .2-.2 1.3 .6 .6-.4 .7-1.1 .4-.1 0 1.2 .3 .3 .3 0 1.8-2.7 .9-.7 1.3-.7 .7 0 1 .5 1.7-1 1.3-.4 1.3-1.1 2.3 .4 1.7-1.2 1.7-.2 2.7-.7 1.6 .9 2.4 .3 .6-.4 1.4-1.6 .9-.7 2.1 .1 .8-.5 1.5-1.6 2-.1 1-1.3 1.3-.7 2.4-6.3 1.3-.7 2.4-2.9 .3-1.4 .2-4-.2-1.6-.7-1.7 0-.8 .3-.6 2.5-1.6 1.5-4 .4-.2 1 .3 .5-.4 .5-1.4 .1-2 .5-.5 .7 .2 .3 .7-.2 2 .4 4-1.3 3-1.4 4.6 .3 1.4 1.3 2.3 .6 .3 2-1.6 .3-.7 .8-4 .6-5.5 2 .3 2.5 2.9 .6 1.6-.1 3.4 .3 .5 1-.4 1.9-2.1 2.1-.7 1.1-1 .2-.7-.3-.6-1.3-.9-.3-.8-.8-7 .4-1.9 .3-.6 .4 0 1.3 3.1 .3 0 .5-1.3 .5-3.3 .4-.5 1.6 .3 .3 .5 .1 5.4 .3 1.5 .3 .6 1.7-1.5 1.3-.2 .7-.7 0-.7-.7-2.4 0-1.1 .4-.3 1 .2 1.3-.5 1.7-.2 1.6-1.2 2.4-.1 2.3-1.3 3.7 .1 2.6-1.6 2.4-.9 2.6-.4 1.7 .3 1.3 .7 1.7-.6 1.3-1.4 .7-.2 1.3 0 3.7 .9 4.3-.9 2 .8 1.4-.4 1.3 .1 2.2-1.3 0-.3-1.4-1-.2-.4 1.3-1.6 .4-1.4 .8 .4 .8 2.3 .8 1 .6 0 1.7-.5 2.7 .3 1.3 .9 3.7 1.5 2 1.4 1 1.4 1 .7 1.6 0 1.4-.9 2-.4 1.4-3.1 .2-.3 .4 .1 .7 2.9 .3 3 .6 .1 1.4-.5 .6 0 .7 .4 1.3 1.4 .7 .3 1 0 .5-.4 .5-5.4 .3 0 .8 3.1 .3 3.3 .9 1.2 1 0 1.2 .5 .1 .3-.4 1.7-1.5 .8-1.4 .3-1.6 1-3.7 .2-1.3-.1-3 2.1-2-.1-2.4 1.2-1.3-.1-1 .3-1.7 1.8-1.3 1.1-2 .5-1.7 2.9-1.6 .2-.7 .4-1.9 4.2-1.1 3.1-.6 .9-1.3 1-1.1 .4-1-.2-.7-.5-1.3-1.8-.7-.2-1.3 .5-1.7 1.6-1.3-.1-.7 .4-3.1 5.5 0 2-.9 1.2-.6 .3-.4-.1-.3-1.3-.7 .3-.6 .6-.7 0-.6-.6-.5-1.7-.5-.7-3.7-1.3-1.1-1-2.6-1.4-1.7-.5-1.7 .6-1.5 1.6-.6 2-1.4 2.7-.8 4.7-1.5 4.3 .4 1.7-1.8 2.3-.5 1.7-.9 1.4-.7-.2-1.3-1.7-2 .4-.8-4.6-1-2.7-.2-2.4-2.3-4.1-.7-.2-2 .4-.3 .7 .2 2.6-.2 1.9-.4 .8-1 .1-.8 1.9 1.8 6.7 0 .3-.3 .2-1.3 .1-.7-.5-.6-1.5-.4-2.5-.3-.4-.4 0-1.2 .9-.5 1.4-.9 1.1-1 1.9-1 1-2-.9-.8 .5-1.2 1.8-1.7 .3-1.7 .8-.6 .1-1.3-.6-.3-1 .2-1.3-.6-.1-2 .7-2.7 2.6-.7 .1-1.3-.3-1.3 .5-2.2-1.2 .4-4-.3-1.4-.6-.5-3-.7-.7 .8-.4 2.1 .1 1 1.5 3.7-.1 .6-.7 .8-1 .2-.7-.7-.3-.1-1 1-1 .3-1.4 .9-2-.7-.6 .1-1.7 1.2-2.3 1.2-1 1.3-.7 .5-1.7-.2-2.6 1.4-3 0-1.4 2.5-1 1-1 1.9-.6 .5-1.4-.4-2.3-1.8-1.3 1.1-2.2 .7-.5 1-.5 2.7-.8 1.2-.4 1.4-.1 1.7 .5 2 0 1-.4 1.1-.6 .6-1 .3-.9-.3-2.2-3-1.5-1.4-1.4-1.9-.7-.2-1 .2-1-.2-1 1-.7 1.5-4.1 4.6-1.7 2.7-1.2 3.8-.3-.1-.3-.6-.8-2.1-.2-1.4-1.7-.2-.7-.4-1-.7-.6-1.1-.4 .1-1.8 1.7 0 .3-1.2 1-1.6 2-1.4 .1-1.6-.7-2 1.3-1.4 .2-1.3 .7-2.7 .2-1.3-.3-.9 .2-1.4 1.2-.7 .3-.7-.1-1.6-1.1-.5 .4-.9 1.7-1 .8-.6 .1-2.7-.3-1.7 .6-1.3 .1-2.7 2.2-1.3 2-1.8 1.8-1.5 1-3.2 1.3-1.2 .2-1.3-.5-1.3 .8-2.4 0-1.3 .6-1.7-.4-2.6 2.1-2-1-1.4 .9-.6 .2-1.4-.1-1-.7-.6-.1-.9 1-.8 2-.8 .7-.9 0-2.3-.9-1.7 1.1-4.3 2.2-1.3-.3-1-.6-.7-.2-1.7 1.8-1.3 .7-1.7 1.3-2 0-1.6 .9-1.4-1-.6 .1-1.2 2.5-1.5 2 .4 .7 1.6 1.2 1.3 0 1.7-.3 1.3 .2 2.4 1 1.6-.4 2.4 .7 .9 .9 .4-.2 .3 .3 1.4 0 1.6 .6 1.7-.1 2-.5 2 1.2 .7-.2 .7-1.1 .6-.2 2.3 1.6 .7 .3 3.7-.6 2.3 .9 1.7-.7 1.3 .6 2 .4 2.3 .1 2.4-.7 1.6 0 1.4-.4 2 1.1 2.3-.8 1.7 1.8 1 .3 1.3-.3 .7 .4 .5 1.6-.2 2-.3 .5-2.7 1.2-1.3 1.2-.5 .1-1.2-.4-1.3 1-.7 .3-1.7-.7-1.6 .7-2.4-.7-1 0-1.6 .4-2-.6-1.7 .7-2-.6-2 .4-1.7-.6-4.3 .6-2.3 1.4-1.7-.3-1 .3-1-.4-1-1-.7-.3-.6 .2-1.4 1-1 0-3 .9-3 .2-2.6-.9-.4 .2-2.3 0-1.3-.7-1.4 .5-1 1.1-.6 .3-2.4 0-1-.3-1-.1-1-.4-1.1 .4-.9 1-2.3-.1-1.7 .7-1.6-.3-1.4 .5-1.3-.9-.7-.2-1.3 1.4-1.7 .2-1.6 1.3-1.7-.5-.8 .3-1.5 1.1-2.7 .2-1.3 .4-1-.5-.7 0-1.3 1.6-1.4 .7-.3 .8-.4 1.7 .3 2.6-.1 3.4 1.3 4 .9 1.9 .7 4.4 1.9 2.7 .7 1.6 .3 2-.1 2.4-.7 1.6-.5 3.7-1.1 2-2.9 2zM442.3 407.6l-.3 .1-.3-.5-.4-1 0-1 .4-.4 .6 .9 .3 .8zM242.7 432.9l-1.4 .1-.7-.8-.5-7 .1-2.7-1-3 .5-5.6 .3-.1 1.3 1.1 1.4 .3 1.1 1.3 1.1 2-.1 2.3 .9 1 1.4 .7 .5 2.7 .5 1.3-.2 1.7-1.9 2.8-1.9 .5zM153 430.9l-.7 0-2.5-1.1-1.1-1.8-1.2-.8-.4-1-.7-5.7 .3-2.8 1-1.3 2.6-1.5 1.7-.5 1.3 .8 .9 1.3 1.2 5-.1 2.7 .2 2-.5 .7-1.1 3.3zM237.7 433l-1.4-.6-1 .1-1.6-.4-1 .1-1 .4-.7-.1-.7-1-.9-3 .8-3.7 0-3.3 .5-3.2 1.3-.3 1 .3 2.7-2.2 .6 .1 1.3 1.6 .8 1.4 .2 1-.3 2.3 .2 2.7-.2 6-.3 1.3zM465 420.5l-.4 0-.2-.7-.1-3.3 .4-.4 .7 1.1 .2 .6-.1 2zM350.3 424.7l-.6-.8-.2-.7-.5-4.7 1-1.5 2-.5 .4 .3 0 .7-1.1 2.7zM480 420.6l-.3 0-.3-.4-.3-1.7 .6-1.2 .3-.1 .4 .6 .3 1-.3 1.4zM372.1 429.2l0-1.4-.4-.6-.2 1 .5 1.2zM179 460l-.3 0-1.4-.9-1.6 .1-1.4-1.8-1.3-2.9-.7-2.7-.4-4-1.9-2.4-2.3-1.5-1-3.1 0-1 1.5-2.3 1.1-1.2 2-.8 2-1.3 1.4-.3 2-.9 .3-.1 .4 .3-.2 2.3 .2 .7 .6 .3 5-2.5 2.7 .2 1-.4 1.1 1.7 1.5 1 .5 1.3 1 4-.2 5.4-2.5 6.3-2.8 3.4-2 .9-1.3 1.5-2 .2zM150.7 436.9l-.4 .2-.3-.3-1.5-1.6 .2-.7 1-1.1 .3 0 .3 .2 .3 .9 .2 1.7zM166 438.4l-.3-.2-.1-.4 .1-.8 .3-.5 .2 .7zM342.8 437.8l1.1-.6 .1-.4-.7-.3-.6 .3-.4 1zM311 447.6l-.5-.1-.3-.3-2.3-4.4 .1-.7 1 .3 .3-.3 .1-1.9-.7-1.2 0-.5 .5-1 .8-.5 .7 .2 1 .8 .6 1.2 .4 1.6 .2 2.7-.3 1.7-.6 1.6zM224.3 486.4l-.3-.3-.4-.9-1-6.7 .3-4-.1-1.3-.5-.7-1-.6-.2-.7 .8-5-.3-1.7-.7-2-.2-5.7 .5-2-.1-3.6 1.2-3.4 1.3-2.3 2.1-2.4 .6-.5 2.7 1.2 .7 .7 .6 1.7 .4 4.4 1 1.1 .3 1.5-1 2.8-1 .7-.2 .8-.4 6.7 0 3.3-.7 1.9-1 .9-.7 1.1-.8 2.8-.1 1.6 .2 1.7 .4 .5 .6 .3 .1 1.2-1.2 4zM411.7 451.6l-.4 .2-.6-.3-.8-1.7 .4-1.3 .7-.4 .7 .4 .6 1-.1 1.3zM416 465l-.5-.2-.5-1.3-1.2-1-.2-1 1.2-2.3 1.3-1 .6-.8 .3 0 .7 2.2 0 1.9-.7 2.3zM155.7 468.9l-.7 .1-2-.2-.2-.3 .7-2 .8-1.3 2.3-2.4 1.1-1.8 1-.7 1-1.5 1-.5 1 1.4 .6 .2 1.4-.3 .6-.7 1.7 1.3 1.1 2-.5 .3-.3 .7-.1 3.3-3.5 1-1.7-.2-1.3 .9-2-.2zM149.7 475l-.3-.2 .4-1.3-.5-5.3 .3-1 1-2 .4-3.4 .3 0 .5 1 0 4.4 .2 .8 .6 .8-1.4 2.4-.9 3zM341.4 466.5l-.1-.3-.3 .1 0 .3zM280.7 468.5l-.4-.2 0 .5zM210.7 474.4l-.4-.9 .4-1.7 .3-.4 1.2-.6 .6 0 .2 .7-.3 .9-.4 .3-.6-.3-.4 .2zM144.7 478.6l-.4 .2-.1-.3 .1-1.5 .7-1.8 .3-.1 .7 1 .1 1.7-.4 .6-.7 0zM149.3 475.2l0-.2 0 .2zM204 482.3l-2.3-.1-.4-1.1-.1-2.3 .4-1.6 .5-1 .6-.5 1.3-.2 1 .1 .8 .6 .5 .7 .2 .9-.3 2.4zM258 491.2l0-.4-.4 .4zM401.7 509.6l-.9-.4-3.4-4-.8-1.7 .3-4 .7-2.3 .4-.6 2-.7 1.3-1.4 .4 0 .2 .3 .1 1.5 .3 .5 .3-1-.1-1.3 .5-.5 .7-.2 1.3 .2 .5 .2 .5 .7 .8-1.1 .9-.1 .4 2.5 1.5 2.3 .7 4.1 .7-.3 .4 .2 .2 .7-.2 1-1.1 1.5-1 3.2-.8-.4-.8-1.2-1.4 .1-1.9-2.2-.4-1.4-.3 2.7-1.7 3zM416 499.7l-.7 0-.3-.6-.3-3.6 .3-.9 1.3-.6 .7 .8 0 2.4-.3 1.8zM404.4 499.8l.3-.3 .2-1.7-.2-.6-.5 2 .1 .8zM393 506.1l-1-.8-.2-.8 1.2-3.2 .3-.2 .5 .7 .1 1-.7 3zM414.7 508.4l-.4-.2-.1-.7 .5-2.1 .3 .6 .1 1.2-.1 .9zM314.3 513.8l-.3 .3-.7-.1-.4-1.5 .9-4 .2-.5 .3-.2 .5 .7 .2 2-.3 2.3zM261.3 521.5l-1-.2-1.6-1.3-2-1-.5-1.2-.4-2.3 .2-2.9 .3-1.3 1-.2 2-1.9 1.4-.6 1 .5 1 1.3 .6 .5 1-.3 .7 .2 .7 .8 .3 .9-.6 3.3-.7 2.2-.7 1.2-1.7 1.7zM294 519.3l-.3 0-.4-.6-.8-2.5-.2-1.4 .3-2.3 1.1-3.6 .3 .1 .3 1.2 .8 4.6-.2 3zM288.3 520.6l-1.3 .1-.3-.4-.4-1.1-1.3-.7 .8-3.3-.5-4 .7-1.2 1-.5 .5 .3 .7 1.7 0 1-.8 2.3-.1 1 1 3.7zM271 516.6l-.3 .1-.1-.5 .1-.8 .3-.1zM251.7 528.9l-2-.9-1.7 .9-.7-.1-.4-1 .2-2.6 .2-.7 .7-.1 1.7 .4 2 1.1 .4 1.9-.1 .7zM67.7 534.5l-.7 .3-.5-.3 .2-.3 .6-.3 .5 .3zM54.3 546.9l-3 0-2.7-1.1-.3-.3-.3-1.6-.3-.2-1.4 1.4-.8-.6-.7-1.3-.1-2 1-4.7 .6-1 1.4 0 2.3 .9 1.7-.2 1.6-.6 2.4 .1 .3 .2 .7 1.5 .3 .2 1-.8 .3-.1 .4 .2 .5 1.3 .2 1.6-.1 1.7-.5 1.3-.8 1.6-.3 0-.7-.6-.5 2zM64.7 537.2l-.4-.4-.1-.6 .2-.4 .9-.4 .1 .8zM356.7 539.4l-.4-1 0-2.8 .7 2.2 0 1.1zM26 547.5l-1 .3-1.3-.4-.8-.6-.2-.8-.4 0-.3 .5-2.3-.6-.6-.7-.6-2.7-.5-.6-.6 .9-.5 1.7-.6 .2-.6-1.4-.7-2.9-.1-.9 .3-.7 2.5-.6 1.5-1 2.1-.1 1 3.7 1-2.2 .4-.1 1.3 3.6 .7 1 .3 .1 .5-1.4 .3-3 1.2-.5 2.7-1.8 1-.1 .7 .4 .7 1-.1 3.7-.3 2.9-.6 2.1-.4 .5-.7 .2-1.3-1.3-.7-.1-1.3 1.3-.4-.1-.3-1.1-.3-.2-.4 1.5zM48.4 541.5l.1-2.7-.5-1.6-.3-.4-.3 .7 0 1 .6 3.2zM40 539.6l-.3-.2-.1-.9 .1-.9 .3-.3 .3 .1 .2 .4zM367.7 539.9l-.7 .2-.7-.7-.3-1.6 .3-.6 .7 .2 1.2 .8 .1 .6zM252.7 543.2l-.7 .2-.7-.2-.6-.4 0-.3 .7-3.3 .6-1.2 .7-.4 .7 .6 .9 2.3-.5 1.7zM277.7 543.4l-.7-.2-.4-1 .3-1.4 .8-1.1 .3 .3 .3 1.5-.3 1.6zM298.3 543.5l-.6 .3-.7-.8-.2-1.8 .2-.7 1.3 2.1 1.7-1 .3 .2 0 .7-.3 .4zM36.3 546.5l-.5-.3 .2-.8 .3 .1 .2 .3zM40.3 545.9l-.5-.1 .2-.5 .4 .2zM147.4 562.2l.3-.4 .4-1.3 .2-3.3-.3-1.6-.7-1.1-.5 .3-.2 1.4 .2 5.3 .2 .6zM109.3 564.6l-.3 .1-.5-.2-.9-2.3 0-1.4 1.1-.8 .8 .2 1.2 1.1 1 1.2 .3 .7-.7 1zM92.7 571.6l-.7 0-.7-1.1-.3-2 .2-1.3 1.1-2 1.7-1.7 .7-.3 .6 .1 .4 .2 .4 .7 .1 4.6-.9 1.3-.6 .4-1.2 0zM147.7 602.9l-.4 .3-.3-.2-.7-1.3 0-1.3 .7-.9 .7 .2 .1 .5z" stroke="#f0f030" stroke-width="0.6" fill="#8c8c2c"/>
<path d="M580.5 344.8l-.1-1 .2-1.3M581.3 342.2l.6 1.3M448.4 406.8l-.5-4.6M449.3 398.6l.4 3.2 .3 .7 .3 0 .5-.7 .2-1.3 0-1.3-.4-1.4M452.8 396.2l.7 1.3-.2 2.1 .4 0 1.6-1.3M457.1 395.5l-.1-.7-.9 0-.1-.6M457.2 393.2l.1 .6 .4 0M148.7 354.2l-.4-2-.1-1.7M183.3 388.4l.5 .1-.1 .3-1.4 .9-.5 1.1 .2 3.4M183.7 391.8l1.3-3.3M455 397.6l-.3 .2-.3-.6 .6-.9 .3-.1zM120.3 552.2l0-.9-.3-.5-.4 0-.6 .6M241 484.3l.3 .2 .4-.6 .2-1.4M243 481.8l.3 1M276.6 467.5l.7 .7 .4-.3 1.3-2.6 1.3-1.6M290.7 462.1l1.6 1.6M338.7 440l.3-.3 .7 .4M340.3 439.9l.6-.7-.7-1.7M340.3 431.5l-.4-1.3M343.7 423.4l.6 .1 .7-.3 1.3-1.6 .7 1.6 .1 1.6M344.7 430.7l-.4 .2-.3 .6-.2 3.3-1.5 1.5-.7 2.2 .1 .4M345 437.6l.5-.8 .5 .1M351.1 426.2l.6-.5 .6 .1M362.8 429.2l-.1-1.4-.4-.8-1-.3-.5-.5M413.7 406.6l1.1-.4M436.2 412.2l1.1-1.4 .5 .7 .2 1.3M449 418.7l.8 .8M380.4 462.5l-1 1 0 1.3M379 465.5l-.7-.6-1-1.7-1.6 1.1M374.6 460.2l-.3-2.8M367.4 454.5l-.4 1.3-.7 .3-.4 .7M365.2 460.5l.6 2M364.8 463.8l-.3-1.6-.5-.9M231.3 420.2l1.1-.7M372.3 426.6l-.3-.7-.4-.1M309.4 443.8l.5-1.6M230.3 452.2l0 .3 .4 .2 .3-.2M415.7 463.9l-.1-1.4-.2-.3-.9 0M416.7 459.5l-.6 2 .6 .4M155.2 464.8l.8-.7M164.3 460.5l.8 1.3 .3 1.4M165.5 463.8l.3 1.7M290.3 463.5l-.3-.4-.5 .1-.2 .3 .4 .3zM281.2 467.2l-.2-.7-.7 .1-.3 .6-.3 1.3M149.8 468.2l.9-1.2 .3 .2 .7 1.6M401.3 495.8l.6 2 .4 .4 .4 0 .4-1 .1-2.4M404.6 494.8l-.8 3-.2 2.4M416 498.1l-.4-.6-.3-1.7 .2-.6 .5-.4 .4 .4 .1 1.3-.2 1.2zM405.8 496.5l.5-.6 1 .1M287.2 510.5l.1 1.7-.6 1.5M287.3 519.4l0-.7 .2 .5zM48.8 544.8l.1-2.6M52.3 537.2l.3 1.3 .4 .7 .3 .1 .5-.8M57 538.7l.7-.9M58.7 542.1l-.7 .8-1-.9-.3 .3M30.3 545.9l-1.6-1.1 0-2-.6-3.6M19 542.2l-.3-1.3-.7-.4-.4 .3-1.1 2M21.3 538.2l.6 5M46.3 544l-.6-.5-.5-1M45.9 538.5l.4-.6 .7 1.6 .3 1.7-.2 1.6-.8 1.2M23 544.2l.1-2.4 .2-.8 .4-.4 2 3.9M109 563.9l-1-2.4M109.1 560.8l.6 .7 1 .5" stroke="#d0d060" stroke-width="0.5" fill="none"/>
<path d="M452.7 409.6l-1 0-2.4-1.4-.3-1.7 .2-1.3-.5-.9-.3-1.5-.1-3.2 .4-.3 .3 .1 .4 3.8 .3 .3 .3-.1 1.1-.9 .3-.7 .2-2.6-.3-1.7 .3-.7 .4-.2 .3 .2 .3 .7-.2 3.3 .3 .5 3.6-3.4 .9-1.4 1-2.7 1.1-1 1.4-.6 .5-.7 .2-1.3 1.3-1.4 .3-1.4 .3-.3 1 .1 1.1-1.7 1.3-.5 2.6-.1 .8-.4 1.6-1.5 1 0 3.6-1.9 1.7 .2 .6-.5 .1-.4 .3 .3 .7-.1 .6-.9 1.4 0 2-.4 2-.2 1.5-1.9 .8-.7 1-.3 1-.7 1.3 .4 1-.2 2.7-2.7 1.7 0 1-1.4 .6-.5 1.7 0 1-.3 1.7-1.6 1.3-.7 .9 0 2.1-1.4 1.7-1.8 1.6-.4 1.7-.8 1.7 .2 1.3-2.3 .3-.1 1 .5 .7 0 .7-.4 1.3-1.4 1.3-.1 2.8-1 2.2 .1 1.4-.4 1.6-.1 2.4-2.5 .3 0 1 .6 .7 0 1.3-1.5 2 .1 3.3-1.2 1.7-1 1.7-.2 .6 .1 .7-.1 .3-.3 .7 .6 .3-.3 .7-.1 .8-1.5 .5-.4 1.7-.1 .8 .5 .9 .3 3.6-2.9 2.4 0 2.6-.9 2-.3 2.7-2.4 2-.2 1.3-1.3 1.7 .4 1.7-.9 1-.1 2 1 0 .7-.7 2.2-2.7 4.1-1.6 1-1.4 .3-2 1.7-1.3 .3-1 .9-1.3 .3-1.4 .6-1.8 2.6-2.5 1.8-2 2.4-.3 .1-1.4-.5-2.3 .2-3 3.5-1.7 1-2 .8-1.6 2.3-2-.1-.7 .3-2 1.6-1.3 2.2-2.4 1.5-1.6 .2-1.4-.4-.6 0-1.7 1.8-1 .7-1.3 .6-2.7 .6-1.7 1.2-1.6 .6-1.4 1-2.6 .4-5 1.5-2 1.2-.7 .9-1.9 .9-.6 .7-2.5 1.5-1.3 .4-1.4 .9-1.3-.3-1.7 .4-1 .7-1 1.3-1.3 .5-1.7 1.5-1.3 .3-3 1.8-1.3 .3-1-1-1 0-1.4 1.5-1.3 2.3-.7 .1-2-1.2-.7 .3-.9 1.5-.7 .2-1-.2-.6 .5 0 .3-.7 .4-.7 .1-.3-.3-2.5 1.8-1.5 .7-1.4 0-1.3 .4-1.7-.3-4.6 2.2-1.7 .2-1.7 1.2zM149.3 353.5l-.3-1.3 .3-1.2 .3 1.5zM413.3 386.2l-.3-1.4 .3-1.1 .4 .1 .2 .7-.2 1.3zM181.7 388.8l-.4 .1-.3-.4 0-.7 .7 .4zM185 394.6l-1 .1-.4-.5 .5-2 1.3-3.4 .6-.5 2.3 .3 .4 .2 .2 .7-.2 1.2-3 3.4zM180.3 394.2l-.6 .2-.7-.3-.9-1.9 .6-2.9 .6-.8 .4 .7 .3 3.2 .3 .4 .7 .3 .2 .4-.2 .6zM149 405.5l-.3 .2-.2-.2 0-.7 .8-1.2 .1 .6zM153.3 592.2l-1 .2-.6-.2-2.4-1.8-1.6-.6-.7-.6-.5-2.4-.9-2.3-.8-.7 0-.6-.7-.7 .3-.3 0-.4-1.1-1-1.8-4-.2-2.1 1-3.5 1.2-3 .1-2.4-.6-1.6-.9-1.4-1.1-.7-1-1.5-2.3-2.1-.7 0-1.3 .8-2 0-1.4-.4-1.6 .4-1 0-.7-.3-.7 .3-1 0-1-.5-3.3 .9-2.7-.7-1.6-.2-.4-.4 0-.9 .7-1.1 1-.9 .5-1 .1-1.3 .3-1-.2-1.4-.7-.6-1.7 .5-3.3-1.3-4.3 0-2.4 .6-2.3-.5-1.7-.7-2 .8-2.3-.4-4.7 .4-.6-.1-1.7-1.1-2.7-.4-1.3 0-1.3 .6-1 0-2-1.4-1.4 .5-4.6-.5-1.7 .7-1.3-.1-1.4-.7-1-.1-1.3-1.8-.7-.1-2.6 1-3-.8-.7 0-.4 .2-.3 1.6-.6 .2-.4-.8 .2-1.7-.5-1.3-.7-1-.1-.7 2.1-1.8 1.7-.7 1.7-1.5 2.3 .2 1.7-.3 1.3-.8 2.3 .1 1.4-.2 2.6 .2 1.7-.6 1.3-1 1.7 .3 1.7-.9 2.3 1 1 .1 3.3-1.2 1-.1 2 .2 1.7-.8 1.7-.3 1.3-.1 2 .6 1.7-1.8 1.3-.6 .8 .4 .3 1.3 .6 0 1.6-.5 1.7 .9 1 .1 1.7-.9 3.6-.2 2.4-.5 1.3 .2 2.2-.1 1-.7 .5-1.3 .6-.8 .7 .1 .3 .4-.2 1.6 1.9 .7 .7-.1 1.3-.8 1.7-.3 3.6 .8 .6-.3 1.1-1.1 1 .1 1.8-.6 1.2 .1 .7-.2 1-1.2 1-.7 1.8-2.7 2.3-4 .8-2.3-.1-2-.8-1.3-2-2.3-.6-1.4-.4-3.7 0-3.7 .7-3.6 2.2-5 .4-.6 1.7-.8 2.3 1 .7-.3 .6-.8 .7-.2 3.3 2.2 1.8 4.5 0 5.6 .3 2.4 1.1 3.6 .1 1.7-.2 1.7-1.1 1.3-.2 1 1.5 7.7 2.6 5 2.8 2.3 .7 .2 .3-.1 1.7-1.5 1.6-3.1 2.7-2.2 1.3-1.7 1.7-.8 2-1.8 2.5-1.7 1.4-2 .8-.2 1 .3 1.6-1 .7-1.8 1.3-.7 1.7-1.7 .7-.2 .1-.7 .5-.1 .4-.6 1 .1 .6-.7 2.4-1.7 1.3 .1 .7-.3 2.6-2.3 2-1.3 1.4-1.8 1.3 .2 2.7-2 2.6-.6 1.7-1.5 1.3 .3 1-.1 3.4-2 1.3-1.2 2-.2 1.7-.4 2.3-1.9 .7-.1 2 .5 1-.5 .6-1.2 1 .5 .7-.1 .9-.7 1.4-2 1.4-1 .6-2.2 .7-1.2 2.2-1.6 1.1-.1 1 .5 1.3 .2 .7 .6 .7-.3 1.7-2.5 1.3 0 .6-.4 .7-2.6 .7-.9 .3-.1 1.4 .6 .7-.4 .5-1.3-.9-1-.2-.7 1.9-2.7 .4 .1 .2 1.8 .4 .2 .3-.1 1.7-2.4 3-2 1.6-1.8 .9-.1 .5 .7 1 .5 .4-.2 .6-1.3 .6-.6 2-.1 .8-1-.2-2.3 .4-.9 .7-.1 .5 .3 .7 2.7 .4 .7 .7 .1 1.4-.2 1.3 .3 1 .4 1.7 1.2 .6-.2 .4-.6-.3-1-.9-1.4 0-.3 1.5-2 1-.8 .3 .3 .7 3.3 1 2.1 .3 .2 .5-.1 1.2-2.4 .5 2.4 .8 .2 1-.9 1-3.8 .4 0 1 1.5 .6 .3 .5-.3 .9-1.8 .6-.7 1.7 0 1.7 .3 3.3-.1 1-.4 2-1.7 1 .3 2.5-.2 .5-.4 1.1-2.3 .9-.9 1.3-.4 1.4 .5 .6 0 1.4-1.1 1.3-.3 1.3-1.1 2 .4 1-.4 1.4-1 2-.2 2-.5 2 .9 2 0 2.6-2.5 .7-.2 1.7 .3 .6-.4 1.7-1.8 .7-.2 1.6 .1 .8-1.5 1.8-1.4 .4-2 1-2.2 .4-.4 1-.1 .3-.3 1.3-1.8 .7-.3 1-.1 1-.8 1.3-.6 1.4-1 1.3 0 1.7-.5 2.6-2.1 .4-.8 .8-3.6 .6-3.7 .6-1.1 .6 .1 1 1.4 1.4 .9 .5 1.7-.1 3.3 .6 .5 1-.2 .8-.6 1.5-1.8 2-.2 2.7-2.3 1-.5 1.8-3.9 1.5-1.8 1.3-.5 1.1-1.3 .4-1.4-.8-1.3 0-1 1.7-.3 2.6-.9 1.4-1.2 2.3-.2 2.3-1.1 3 .2 3-1.8 2.4-.6 1.3 0 1.7-.4 1.3 .4 1 .7 .3 0 2-1.1 1-1.1 .7-.3 1-.1 4 1.1 4.3-.9 1.4 .3 .3-.2 .7 .5 1-.3 1.3 0 1.3-.8 1.6-.6 .8-.8 1.3 .1 1.3-.4 1-.1 2 .4 2 1.2 3 .9 2 1.3 1.4 1.6 1 .6 1.6 .1 1.7-1 3 0 .3 .3 .5 1.5 .7 .7 .8 .1 2-.4 2.4 1.8 2.6 0 2.2 2.5 0 .3-1.2 1.3-1.6 1.2-3 .3-2.4-.2-1.9 1.7-.6 .4-2.1 .1-2 .9-2.4 .2-2 2-1.5 1.1-1.8 .4-.7 .7-1 2.2-.6 .3-1.4 0-.6 .5-2.7 6.6-1 1.6-1 .9-1 .3-1-.2-2-2.6-2 .8-1.7 1.3-1.6 .1-1.2 1.4-2.9 4.7 .4 1.7-.3 1-.4 0-.6-1.4-.4 0-1.6 1.2-.7 .1-1.2-2.6-3.8-1.3-1.3-1.4-1.7-.6-1-.6-1.7-.5-2 .5-1.4 1.6-.9 2.5-1.4 1.8-.3 1-.5 4-.6 1.7-.5 2.3-.7 1.3 .1 1-.4 .7-.7 .5-1.7 .4-1.3-1.7-.7-.5 .2 2.3-.5 .8-.3 .1-.3-.2-.2-2.4 .1-.6 .7-.4-2.7-5.5-2.3-3.4-.7-.4-1.3 .3-1.7-.1-.3 .2-.4 2.6-2.1 6.7-2.8 2.1-2.7 5.1-.7 .2-1.3-.7-.7 0-2 2.2-1.3 .1-1.6 1-.7 0-.5-.4 .3-2.3-.2-.4-.6-.2-1 .2-2 .9-2.7 2.6-.7 .1-1.6-.4-1 .5-.4-.1-1-.7-.2-.5 .5-2.3 .4-.3 1.3 1.5 .4-.2 .4-1 .4-1-.2-.5-.6-.4-1.7-.1-1.7-1.8-1.6 0-1.7-.8-.7 0-.8 2.2-.4 5-1.4 2.4-1.4 .3-1.3 1.1-2.7-.4-.3 .1-2.3 1.3-2.7 2.5-1.3-.1-1.7 .4-1.3 1-.7 .2-2.7-.4-1.3 2.6-1 1-.8 2-.5 .6-.7-.1-.7-.3-1.6-1.6-1-.4-1.4 1-2.3 1.1-1.8 5.1-.4 3 .4 3.3-.2 .7-.7 .7-.6 .1-.7-.3-3.3-3.9-.6-1-.2-1.3-.3-.7-2.3-.8-.3 .1-1.3 1-1.2 1.4-1.2 2-3.4 4.3-.9 1.5-1 .7-.4 1.2-.6 .6-.5-.6 0-1.4-.2-.2-3-.6-.6-.5-1-1.4-.2 .4-2.1 2 0 .3-.7 .8-2.4 1.4-1.3 .1-1.3-.4-1.4 .8-3.3 1.2-1 .1-1.3 .4-1.7-.4-2.3 .2-.6 .2-.8 .8-1.6-1-.8 .5-.8 2-.8 .7-.6 .1-3-.4-1.4 .6-1.3 .2-3 2.2-1.1 1.6-1.2 1-1 1.2-.7 .2-.7 .6-.6-.3-.4 0-1 1.3-1 .7-1 0-1.3-.6-1.7 1-2 0-1.3 .6-1.7-.3-2.6 1.6-2-.7-1.4 .9-.5 .1-3.1-.9-.7 .6-1.3 2.7-.7 .5-2.7-.9-2 1.5-.6 .1-1.7 1-2.7 .9-.6 0-1.7-.9-1.7 1.5-1.3 .6-1.7 1.3-2 .1-1.3 .7-1.7-1.1-.6 .1-.7 .9-1 2.3-2.1 2 .1 .4 3 1.9 1.3 .3 1.7-.5 1.3 .2 2.4 .9 2-.3 2 .7 .6 .8 .7-.5 .3 .3 .7 0 2.3 .9 1.7 0 2-.4 2 1.2 .7-.3 1.3-1.2 3 1.7 3.7-.4 2.3 .8 1.7-.6 3.3 .8 2.3 .2 2.7-.7 3-.1 1.3 .8 2.4-.6 1 1.1 1 .5 1 .2 1-.1 .6 .3 .4 1.1-.2 1.6-.5 .7-2 .9-1.7-.2-1 .3-1.6 1.8-.7 .4-.6-.2-1.1-.8-.3 0-1.3 .8-2-.5-3 .4-1.7-.6-2 .8-2-.7-2 .4-1.7-.5-4.6 .5-2 1.4-1.7-.5-1.7 .2-1-.9-1.3-.2-.8 .2-.9 .7-1.3 0-3 .9-2-.3-1.3 .2-1.7-.4-.7 .3-1.3 .1-1.7-1.2-.6-.2-.7 .2-2.3 1.8-2.4 .2-3-.7-.6 .5-.7 0-.7 .6-2.6 .2-1.4 .5-1.6-.3-1.4 .5-1.6-1.1-1.1 .5-.8 1-1.5 .1-1.6 1.2-1.7-.5-2.3 1.2-3.7 .9-1.7-.6-.6 .2-1 1.1-1.4 .8-.7 1.3-.5 2.6 .4 2-.1 3.4 .3 1.3 2 4.7 .7 4.6 .4 1 1.2 1.5 .5 1.5 .6 2.4-.1 1.6-.9 2-.4 3.4-.7 1.7-.3 .4-1.4 .6-1 .9zM243 432.3l-.7 .2-.6-.3-.6-1.4-.5-6 .3-2 .6-1-1.2-.8-.5-1.5 .1-2.3 .4-1.9 2 .9 1 2 .1 1-1.1 1.4 0 .6 1-.3 .7 .1 2.2 1.8 1.1 3.4 0 1.3-1.7 2.7zM153 429.9l-.7 .1-2.1-.8-1.1-1.7-1.1-1-1.2-6 .3-2.7 1.9-1.6 1.7-.5 1.6 0 1 .5 .8 1.3 .6 2.7 .1 3-.6 2-.3 2.3zM364 428.4l-.3-.2-1-2.5-.4-.3-1 0-.3-.4-.7-4.8 0-.8 .4-.3 1 2.7 .3 .5 .3 0 .7-1.7 .8-4.1 .2-.4 .3-.1 .7 .5 .1 .7 .1 7.3-.4 2zM237.3 432l-4.3-.5-1.3 .2-.4-.2-1.4-3.3 1.1-6.4 1-.8 2-2.8 1.7-1.3 .6 .3 .3 .6 1 3.4 .3 4-.9 3 .7 2 0 1.1zM350.3 421l-.3-.2-.3-2.3 .6-.8 .7-.1 .1 1.2zM341.3 437.6l-.3 .1-.3-.4-.2-1.1 .5-4.4-.1-2.6 .8-1 .8-.7 .8-2.2 .4-.5 2.3-1.3 .4 .3 0 1-.8 3.4-.6 1.3-.3 .1-.7-.5-.4 .1-.3 1.2-.1 3.1-1 1.7zM379.4 426.2l.6-1.4-.3-1.3-.4 .1-.3 1.2 0 1.4zM372.5 431.8l.4-1.3 .2-2.3-.6-3-.2-.5-.3 0-1 1.1-.2 2 .9 3.4 .3 .5zM180 459.2l-1.3 .2-1-.7-1.4-.5-1.6-1.9-1.3-2.1-.7-3-.5-4-2.2-2.4-1.9-1.3-.9-2.7 .3-1.3 1.9-2.7 3.9-2 2-.5 .6 .2 1.1 2 1 .6 1.8-.6 3.5-1.9 3.4 .8 1.5 1.1 .9 1 1.2 4-.2 5.3-2.5 6.4-1.9 2.5-2.7 1.8-1 1.3zM311 446.8l-.3 0-.4-.5-.3-1.5 .7-6.5 .6 .3 .6 .9 .4 2-.6 3.8zM224.3 484.6l-.5-1.1-.7-5 .4-3.3 0-2-.2-.7-.9-1-.4-1.3 .4-4-.3-2-.7-2.4-.2-4.6 .4-2 .3-4.4 1-2.6 1.4-1.7 .4-1.3 .6-.6 1 .3 1.4 0 1.3 .9 .5 1.4 .4 4-.8 10-.9 4 .4 2-.6 .8-1.5 3.2-.7 3-.1 4.3 .2 .7 .6 .6-.1 .7-.4 1.4zM411.3 450.7l-.5-.2-.3-.7 .1-.6 .4-.3 .3 0 .4 .6 0 .7zM415 460.9l-.2-.1 .2-1.1 .3-.3 .4 0 0 .4zM156 468.2l-1.8 0-.2-.4 .3-1 1-1.3 1.7-1.4 1.1-1.6 1-1 .9-1.7 .3-.1 1 .9 2-.1 .8 .3 .6 1 .3 1.4-.3 2.3-2 1.4-.7 .1-1.7-.7-.6 1-2 .1zM366 465.6l0-.2 0 .2zM312.1 468.5l.1-.3-.5-.3-.7 .3-.1 .3 .4 .2zM150.7 470.4l-.4 0-.1-.9 .1-.7 .4-.2 .4 .9zM334.3 472l-.3 0-.2-.5-.1-.7 .3-.5 .6 1.2zM204 481.6l-.7 .2-1-.2-.6-.9-.1-2.5 .4-1.2 .7-.8 1 0 1 .3 .5 .3 .3 .7-.2 2zM261.7 490.2l.7-1 0-.4-.4-.3-1 .2-.8 .8 .1 .7 .4 .2zM257.5 492.2l.8-.4 .6-.6 .1-1-.3-.5-.7 .2-1.4 1.3 .1 .8zM408.7 506.3l-1.7 .2-.7-.2-.8-.8-.5-1-.2-2.3 .2-1.4 .7-3.3 .6-1 .4-.2 .6 .2 1.1 1 .7 1 .4 1.3 0 5-.3 1zM401.7 507.6l-2-.7-1.7-2.1-.8-1.6 .1-3.4 .5-1.6 .5-1 1-.6 1.4 0 1 1.9 1.1 1 .3 .7-.2 5.6-.5 1zM261 520.9l-.7-.2-3.3-2.1-.3-.8-.2-2 .4-3 .8-.8 .8-1.5 1.5-1.3 .7-.2 .6 .3 2 2.2 1.7 0 .4 1-.4 2.7-.8 2-1.9 2.9-.6 .6zM286.3 512l-.4-.5 .4-.9 .4 .6zM314 513.6l-.5-.1-.2-.7 .7-1.3 .3 .3 .1 .7zM293.7 516.5l-.4-.8-.1-1.2 .5-1.9 .3 .1 .3 2.1-.3 1.7zM251.3 528.2l-1.3-.9-2 .5 .1-2.6 .9 0 1.3 1.2 1 .3 .3 .8zM55 546l-.7 .1-.2-.3-.8-2.1-1 2-.3 .1-1-1.2-1.3-.3-.3-1.8-.1-5.3 1-.2 .8 .2 1.2 2.7 .7 .8 .3 .1 .7-1.3 .5-2.7 .5-.4 .7 .3 .6 2.1 .1 1.7-.4 4.6zM367.3 539.1l-.3 0-.2-.3-.1-.8 .7 .2 .2 .3zM58 541.9l-.5-.7-.2-1 .3-1.4 .4-.4 .3 0 .4 .8 0 1.3-.4 1.1zM252.7 542.2l-.7-.5-.2-1.5 .2-1.3 .7-.7 .5 .6 .4 1.7-.3 1.1zM31.3 544.7l-.6-.1-1.1-.8-.5-1.6-.2-2 .4-1.2 .4-.2 1 .3 1-.6 .4 1 .1 2.3-.2 1.6zM21 545.3l-1.2-.1-.3-1.7 .2-2.2 1-1.6 .6 2.1 .3 1.7-.1 1.3zM46.3 542.7l-.3-.1-.2-.4-.2-1 .4-1.2 .3 0 .4 1.5zM277.7 541.9l-.4-.1 0-.3 .4-.3zM25.3 547.3l-1.2-.1-.5-.7-.2-2.7 .3-1.1 .3-.1 .7 .7 .7 1.5 .2 1.7zM147.4 562.8l.5-.3 .3-.7 .4-4.6-.5-2.7-.8-1.3-.3 0-.8 1.3-.1 .7 .2 6.6 .4 .8zM111 563.6l-.3 .1-.7-.2-.3-.3 .1-.4 .5-.2 .4 .1 .4 .5zM92.3 570.9l-.3 0-.4-.7-.2-1.4 .2-1.3 1.1-1.9 1.3-1.1 .7-.3 .4 .3 .3 1 .3 1.7-.1 1.6-.6 .8-1-.6-.7 .1zM147 601.7l0-1.2 .3 .3z" stroke="#c0c080" stroke-width="0.5" fill="#707050"/>
<path d="M453 409.2l-1.3 0-2.1-1.4-.1-1.3 .7-2.3 1.5-1.5 1-.6 1.3-1.7 2.3-2 1.2-1.9 .9-2.3 .9-1 1.4-.4 1.3-1.2-.1-1.4 1-1 .3-1.4 .8-.2 1-.8 .3-.8 .4-.3 1-.3 3-.4 2-1.3 1-.4 3.6-1.9 1.7 0 .6-.6 .1-.3 .3 .3 .3 0 .7-.2 .3-.5 .4-.1 1 .1 2.1-.6 1.5 0 2.7-2.7 2-.6 1.3 .1 1-.1 2.7-2.7 .3-.2 1 .1 .7-.3 1-1.4 2.7-.4 1-.6 1.3-1.3 1-.4 1 .1 2.3-1.8 1.5-1.8 1.5-.3 1.7-.7 1.7 .2 .5-.5 1-1.7 1.8 .2 .7-.4 1.3-1.4 1.3 0 3-1.1 2 0 3-.4 2.4-2.4 2 .5 1.3-1.4 2 0 3.3-1.1 1.7-1.1 2.3-.2 1-.6 .7 .7 .3-.3 .7-.1 .6-.6 .4-.9 .3-.2 1.7-.2 .7 .4 1.3 .4 3.3-2.9 .7-.1 2 .1 2.3-.8 2-.3 2.7-2.3 2-.3 1.3-1.2 1.7 .3 1.7-.8 1-.2 1 .4 .6 .6-.6 2.6-2.7 4-1.3 .7-1.4 .4-1.6 1.5-1.7 .4-1.3 .9-1 .2-1.4 .8-.5 .5-1.5 2.3-2.3 1.5-2.3 2.6-1.4-.3-2 .1-1 .5-2.3 2.9-4 1.9-1.3 2-.4 .2-1.6-.2-.7 .3-2.2 1.9-1 2-2.1 1.3-.7 .3-1.3 .1-2-.3-2.4 2.2-1.6 .7-2.4 .4-2 1.5-1.6 .6-1.4 .9-5 1.1-2.6 .9-2 1.3-.7 1-2.2 1-2.8 2-1.3 .3-1.4 .9-1.3-.4-1.7 .5-1 .8-1 1.2-1.3 .4-1.7 1.6-1.6 .5-2.7 1.6-1.3 .3-.7-.7-1.3-.3-1.4 1.4-1.2 2.2-.4 .3-2.4-1.2-.3 .4-.6 .2-1 1.3-.7 .2-.4-.3-.9 .8 0 .3-.7 .4-.7 0-.7-.3-2 1.6-1.4 .7-2.9 .3-1.7-.3-1.5 1-3.1 1.4-1.7 .2-1.7 1.2zM185 394.2l-.7 .1-.2-.5 1.6-4.6 .6-.5 1.7 .5 .2 .6-1.1 2zM153.3 591.9l-1 .2-.7-.3-1.9-1.6-2-.7-.6-.7-.3-1.6-.8-2.4-.7-.8-.4-.2 0-.6-.7-.7 .3-.3 0-.4-1.2-1.6-1.6-3.4 0-2.7 .6-2.3 1.6-3.6 0-2.4-1.4-3-1.5-1.1-.7-1.2-2.6-2.3-.7 0-1 .7-.7 .2-2-.1-1-.4-1.6 .4-1.7-.2-.7 .4-1 0-1.3-.6-3 .8-2.7-.7-1.3 0-.5-.5 .1-.7 1.7-2 1.1-3.3-.5-1.7-.9-.7-1.7 .3-3.6-1.1-1.7 .2-2-.1-2.7 .5-2.3-.4-1.7-.7-2 .7-2.3-.3-4.7 .5-.7-.2-1.3-.9-1-.3-3.3-.4-1.3 .7-1 0-2-1.3-1.7 .4-4.3-.5-1.7 .6-1.3 0-1.4-.9-1-.3-1-1.3-.6-.3-3 1-3-.9-1.4 0-.4-.3-1.2-2 0-.7 1.6-1.5 1.7-.7 1.7-1.5 2.3 .3 1.7-.4 1.6-.8 6 .1 1.9-.5 1.5-.8 1.6 0 1.4-.9 3.3 1.1 3.3-1.1 3.4 0 1.3-.7 2.7-.5 2.3 .6 .7-.3 .6-.7 .7 .5 1.7 .1 2.6-.7 2.4 1 2.3-1 2-.3 1.3 .2 2.4-.5 1.3 .2 2.7 0 2.6-.5 2 .3 1.7-.9 1.7-.3 3.6 .8 .7-.3 1-1 1 .1 2-.8 1 .2 .7-.2 2-1.9 2.1-3 2.3-4 .8-2.3-.1-1.7-.2-.7-2.9-4-.4-1-.4-3.3 0-3.3 .8-3.8 2.3-5.4 1.7-.9 1.6 .9 1 .1 1.7-1.3 2.7 1.7 .6 .7 .7 2 .5 .6 .4 1.7-.1 4.7 .3 2.6 1.1 4 .1 1.7-.2 1.7-1.2 1.3-.1 1 1.6 8 2.6 4.8 2.7 2.3 .6 .4 .7 0 1.9-1.8 1.4-2.7 3-2.7 1-1.3 2-1.1 2-1.8 2.4-1.5 1.3-2 .7-.2 .6 .3 1-.8 1-.4 .6-.5 .4-1.1 1-.6 2.4-2.1 .2-.9 .4 0 .4-.7 1.3 .2 2.7-2.1 1.3 .1 .7-.2 2.8-2.6 2.2-1.3 1-1.3 1.3-.1 3-2.2 2.3-.4 1.7-1.5 1.3 .3 1-.2 3.4-1.9 1.6-1.3 3.4-.5 2.4-1.9 .6-.1 2 .4 1-.4 .9-.9 .7 .1 1-.3 2.4-2.7 1.3-.5 .3-.3 .4-2 .6-1 .4-.1 .3 .4-.1 2 .8 .1 .6-.4-.3-3 .4-1 .9-.1 1.7 .7 .7 1.1 .3 .1 .7-.3 .6-.5 1.4-2 1.9-.7 .3-.3 .4-2.1 .7-1.1 .3-.1 1.4 .5 1-.7 .5-.8 .2-1-1.2-1.4 1.1-1.9 .4-.2 .1 .1 .2 2 .7-.1 1-.8 1.3-2.1 1.3-1.1 1.7-.9 1.3-1.5 .7-.2 .7 .6 1.3 .3 .3-.2 .5-1 .5-.5 1.7-.1 .7-.3 .6-.7 0-2.7 .4-.6 .6 .5 .5 2.4 .5 .7 2.7 0 1 .2 2.7 1.7 1.1-.6 .3-.6-1.1-2.7 1.3-1.9 .4-.2 .3 .1 .6 3 .6 1.7 .5 .6 1 .6 .5-.2 .5-.5 1.6 .4 .7-.4 .4-.5 1.3-2.9 .3 .1 .8 .8 .5 .1 .6-.5 .8-1.6 .6-.8 3.4 .3 3.3-.1 1-.4 1-1 1-.5 1.3 .2 2.4-.5 .6-.6 1.2-2.3 1-.7 .8-.1 1.4 .4 .6 0 1.4-1.1 1.6-.5 1-.9 2.4 .3 1.6-1.2 1-.4 1.7 .1 1.7-.5 1.6 .8 2.4 0 .6-.4 2-2 1-.2 1.4 .4 .9-.7 1.4-1.7 .7-.2 1.6 .2 .9-1.9 .8-.8 1.2-.6 .5-2.4 .6-1.4 1.7-.6 1.3-1.9 1.7-.5 1-.8 1.3-.6 1.4-1 1.6-.1 1.4-.4 2.8-2.3 .4-.6 1-4 .4-3.3 .4-.7 .3-.1 .3 .1 1 1.5 1 .6 .4 .4 .2 1.5-.1 2.6 .2 .6 .7 .2 1-.2 1-.6 1.3-1.7 2-.1 1.7-1.5 2-.9 .9-1.4 1.1-3 1.3-1.4 1.7-1.1 .8-1.2 .9-2.3-.1-.5-.3 .1-.5-.3-.2-.3 .2-.4 .7 0 .5 .6 1-1.2 1.6-.5 1.4-1.2 2.3-.3 2.3-1.1 3.4 .2 1.9-1.5 2.4-.8 2 0 1.7-.4 1 .2 1 .8 .6 .1 2.1-1.2 1.3-1.3 .6-.2 4.7 1.1 4-.9 1.7 .1 .3-.2 1 .7 .7-.3 1 .1 .6-.2 1.3-.9 1.4-.4 1-.8 1.3 .1 1.7-.5 2.3 .5 2 1.2 3 .9 2 1.2 1.2 1.5 1.2 .7 1.6 .2 1.7-1 1.7 .1 .8 .3 1.4 1.7 .8 .4 2.6-.3 2 1.6 3 .4 1.5 1.5 .1 .7-.6 .8-1.6 1.4-3 .4-2.4-.4-2.3 2.1-3 .3-1.3 .7-.7 .1-.3 .4-1.4-.1-.9 .6-1.1 1.3-1.5 1.1-.8 .3-1.3 .1-1.7 3.1-1.7 0-.9 .8-2.7 6.7-1.7 2.1-1 .3-1-.1-1.5-2.3-.5-.5-2.3 1.2-1.4 1.1-1.6 0-.9 .8-3.8 6.1-2.3 1.7-.7-.1-.9-2-.4-.4-3.4-1.1-2-1.8-1.3-.3-1-.6-1.7-.5-2.3 .5-1.3 1.5-1 2.7-1 1-.6 1.3-.4 3.6-.8 2.4-.6 2.9-1 1.4-1.6 1.5-.7-.2-1.4-1.9-1.3-1.9-2-4-1.3-1.6-.9-1.5-.8-.4-1.3 .4-1.7-.3-.6 .4-1.3 5.2-1.2 3.7-.8 1-1.8 1.3-2.3 4.7-.6 .8-1.7-.7-.7 0-2 2.1-1.3 .1-1.7 .9-.4-.5-.1-2.4-.5-.3-.6 0-3 1.2-1 .8-1.4 1.6-1 .3-1.3-.6-.2-.3 1.2-3.3-.3-.7-1-.6-1.7-.2-1-1.3-.7-.4-1.6 0-1.7-.7-1 0-.7 2.2-.6 5-1 2.2-1.4 .3-1.3 1.2-3.3 0-1.7 1.1-.7 .2-2.3 2.1-3 .4-2 1.2-1.3-.1-1-.5-.4 .1-.4 .5-.6 1.5-1.4 1.8-1.2 2.5-1.1-.2-1.9-1.7-1-.6-.7 .2-3.2 2.1-.5 1-1.4 4.4-.3 3 .4 3-.3 1-.4 .3-.6 .2-.7-.4-3.1-3.8-.5-1-.1-1.3-.6-.9-2-.8-.7 0-2.6 2.7-3.8 5.6-1.6 2.2-.7 .4-1 .3-1.3-.7-2.3-.3-.9-.5-.7-1-.4-.2-.2 .5-2.1 2 0 .3-1.7 1.5-2.7 .5-1-.4-.7 .1-1 .7-3 1.1-2.6 .6-1.7-.4-3.3 .1-1.4-.3-1 .3-.6 .6-.8 2-.6 .6-.6 .2-3-.4-2.7 .8-3.3 2.4-1 1.4-1 .7-1 1.3-2.7 .7-2 1.9-2-.5-1.7 1-2 0-1.3 .6-1.7-.3-2.3 1.3-2.3-.4-1.7 1-1.7-.3-1-.6-.6-.1-.7 .5-1.3 2.7-.7 .6-2.3-.7-2.4 1.6-.6 .1-1.7 1-1 .2-1.7 .8-.6-.1-1-.6-1-.3-1.4 1.3-1.6 .8-1.4 1.1-2 .1-1.3 .7-1.3-1-.7-.2-.8 .7-1.5 3.1-2.7 1.8-.2 .5 .4 .3 1.5 .4 2.3 1.5 1.3 .3 1.7-.5 1.3 .2 2.4 .9 2-.3 1.5 .5 1.1 .8 .7-.5 .3 .3 .7 0 2 1 1.3 .2 2.7-.5 2 1.3 .7-.3 1.3-1.3 3 1.7 3.7-.4 2.3 .7 1.7-.5 3.3 .8 2.3 .2 2.7-.7 3 .1 1.3 .6 2.4-.4 .9 .9 1.1 .6 2.3 .2 .4 .9-.1 1.3-.4 .7-1.9 .9-1.7-.5-.6 .2-2.7 2.5-1.7-1-.6 .1-1 .7-2-.4-3 .4-2-.4-1.7 .6-2-.7-2 .4-1.7-.4-4.6 .3-.7 .3-1.3 1.2-2-.7-1.4 .3-1-.6-1.3-.1-1 .1-.7 .5-1.3 .1-2.7 .8-1.6-.2-2 .1-1.7-.3-.7 .5-1.3 0-1.3-1.3-1-.2-.7 .3-1 .9-1.7 .8-2 .1-2-.3-.6-.4-1 .8-.7-.2-.7 .4-2.6 .3-1.4 .5-2-.3-1 .5-1.6-1.1-.7 .6-.7 .2-.6 .8-1.4 .1-1.6 1-1.7-.4-2 1-4 1.2-1.3-.6-1 .1-3 2.5-1.3 4.3 .8 1.3-.1 2.4 .4 2.3 1.9 4.7 1.1 5.6 1.2 1.5 .6 1.9 .5 2-.1 1.6-.8 1.7-.5 3.7-.7 1.6-1.4 .6-1.1 1.1zM152.7 429.3l-.7 .1-1.7-.6-2-2.6-1.3-6 .1-1.4 .2-.7 1.7-1.6 1.7-.5 1.6 .1 1 .6 .7 1.2 .4 2.3 0 3zM241.3 420.8l-.6-.1-.6-1.5 .1-2.4 .5-.9 1.1 .6 .5 1.3-.1 1.7zM364.3 425.6l-.3 .2-.7-.6-.5-1.7 .9-4.9 .3-1.4 .3-.4 .4 1 .1 5.7-.1 1.3zM237 431.4l-1.3-.2-1 .2-3-.2-.5-.7-.9-2.7 .7-4.5 .3-.5 .7-.3 1-2.3 1-1.6 1.7-1.3 .3 .1 .4 .8 .8 3.3 .4 3.3-.8 2-.9 1.4-.3 1.6 .1 .5 .3 0 .7-.6 .3 0 .3 1.1zM350.3 419.5l-.2-.7 .2-.4 .4 .1zM376.8 421.2l.2-1.4-.3-.4-.4 .1-.1 1 .2 .7 .3 .2zM242.7 432.2l-.8-.4-.5-1-.5-6 .4-1.9 1.4-1.3 1-.3 .8 .5 1.5 1.6 1.1 2.8 0 .6-.2 .7-1.9 2.7-.2 .6zM374.6 432.5l.6-.3 .4-1-.1-.4-.5-.1-.7 .2-.6 .6-.2-.3 .2-3-1-5.4-.4 .2-1.6 2.5-.2 1.3 .1 1.7 .9 3 .5 .8 1 .5zM379.1 427.5l1-1.7 .3-1-.2-1.3-.5-.9-.4 0-.5 .9-.2 2 .1 2zM345 428.5l-.3 0-.4-.5-.2-1.5 .5-1.3 .7-.4 .4 .7 0 .7-.3 1.6zM342.3 432l-.3 .1-.1-1.9 .4-1.3 .4 .2 0 .4zM179 459.2l-2.7-1.4-2-2.5-.6-1.3-.7-2.8-.6-4.4-2.1-2-1.8-1.3-.5-.7-.4-1.3 .1-1.6 1.6-2.7 4-2 1.7-.4 .7 .2 1.3 1.9 1 .5 2-.6 3.3-1.8 1.4 .2 2 .7 1.3 .9 .9 1.4 1.1 3.6-.3 5.4-.6 1.6-.9 1.7-1.2 3-1.3 1.7-3 2.3-1 1.2zM311 444.7l-.1-4.5 .1-.6 .3-.2 .4 .8 .1 1.6-.1 1.2zM224.3 483.6l-.3-.8-.6-4.3 .5-3 0-2.3-.2-.7-1-1-.2-1 .2-4.3-.3-2-.7-2.5-.2-4.5 .4-2 .2-3.7 .9-2.7 .6-1 1.2-1 .5-.7 .7-.4 1-.1 1.4 .9 .7 1.3 .5 3-.2 5-.6 5.4-1 4 .2 1.6-1.7 4-.8 3.4-.2 5 .3 2-.9 2.2zM155.7 467.9l-.7-.1-.4-.3 .1-.3 1-1 1-.1 1.7-3.3 1.6-1.8 .3-.2 3 .1 .7 .5 .5 1.1 .1 1.3-.5 1.4-1.1 1.2-1 .3-1.7-.9-.3 .1-.7 1-2.3-.1zM356.7 464.2l0-.4-.4 0zM312.4 468.8l.4-.6-.1-.4-.7-.3-1 .1-.7 .9 .7 .5zM340.7 470.3l-.7-.2-.6-.6 .2-1.3 .4-.4 .6 .7 .4 1 0 .3zM203.7 481.4l-1.4-.2-.5-1-.1-1.4 .3-1.2 .4-.8 .6-.3 1.3 .4 .7 .6 .1 .3-.3 1.7-.8 1.7zM257.5 492.5l1.3-.7 .9-1.1 1 .2 1-.3 1-1.1 .1-1-.5-.3-1 0-1.6 .9-1 0-1 .6-1.2 1.1-.3 .7 .1 .7 .4 .3zM408.3 506l-1.3 .2-.7-.3-.6-.7-.4-1-.1-3 .8-3.6 .7-.8 .6 .2 1 .8 .6 1 .3 1-.1 5-.2 .7zM400.3 506.8l-.6-.3-1.1-1.3-.9-1.7-.2-.7 .1-3 .4-1.5 .4-.8 1.3-.6 .6 .2 .3 .4 .7 1.5 1.2 1.5 .3 1-.1 3.3-.4 1.3-.6 .6zM261.7 520.3l-.7 .2-.7-.2-2.9-1.8-.4-.7-.1-1.3 0-1.7 .6-2 1.2-2.1 1.3-1.2 .7-.3 .6 .4 .9 1.2 1.1 1 .4 .2 1-.1 .3 .6-.2 2-.4 1.3-1.7 3.4zM248.7 527.2l-.3-.4-.1-.6 .4-.7 .6 .3 .3 .7-.1 .3zM55 545.6l-.3 0-.4-.4-.4-3 .9-4.7 .2-.5 .3 0 .5 1.5 .2 2.3-.3 4zM52 544l-.7-.8-1.1-.4-.4-.6-.2-4 .4-.8 .7 .1 .3 .3 1.3 4.3 0 1.3zM253 540.9l-.3 .1-.5-.8 .1-1 .4-.5 .4 1.1zM30.3 542.6l-.3 0-.3-.5 0-1.8 .5 .2 .6 1 0 .7zM20.7 544.9l-.7-.1-.2-1.3 .2-1.2 .3-.5 .4 0 .3 .7 .2 1.7-.2 .6zM25 547.1l-.7-.1-.4-.5-.1-1.3 .2-1.2 .3-.1 .7 1 .3 1.6zM147.5 563.2l.5-.4 .5-1 .3-5-.7-3-.4-.9-.7-.3-.5 .2-.7 1.7 .3 3.7-.1 3.6 .4 1 .6 .4zM92 570.3l-.4-1.5 .4-1.6 1-1.1 .4 .1 .3 .5 1-.4 .4 .9-.1 1.1-.5-.1-.8-1.3-1.4 3.1z" stroke="#e0e0c0" stroke-width="0.6" fill="#a0a088"/>
<path d="M452.7 408.8l-.7 0-2-1.3 0-.7 1-2.6 2-1.8 1.3-1.7 2.3-1.9 1.2-2 1.2-2.7 3.9-1.9 .1-.7-.2-1.3 .7-1 .4-1.4 .8-.7 .8-.3 .5-.7 4-.7 3.6-2.2 1.7-.6 1.2-.8 1.5-.3 .7-.7 0-.3 .3 .3 .7 0 .3 .2 .7-.6 1 .2 2.3-.7 1 .1 .9-.8 .4-.7 .7-.1 1.3-1.2 4-.5 3-2.9 1.7-.1 1.3-1.5 1.7-.2 1.7-.6 1.4-1.6 2.2-.1 1.1-1.2 1.1-.7 1.5-1.9 1.7-.2 1.3-.7 1.3 .2 .7-.2 1.3-1.9 2-.1 1.7-1.6 1.3 .1 3.4-1.2 1.6 0 3-.5 .7-.4 1.7-1.7 2 .4 1.5-1.6 1.8 .1 3.7-1.3 1.3-.9 2.3-.6 1-.6 .7 .6 .3-.3 .7 0 .7-.4 .6-.9 1.4-.3 1.6 .2 .7 .6 3.7-3 2.3 .1 2.3-.8 2.4-.3 2.3-2.2 1.7-.2 1.6-1.1 1.7 .2 2.3-1.1 1 .2 .4 .3 0 1.4-.4 1-2.6 3.9-2.4 .9-1.6 1.4-1.4 .3-1.6 1-1.4 .4-1.3 .9-1.9 2.8-.8 .7-1.6 .8-2 2.4-.7 .2-3 0-.3 .3-.7 .1-2 2.5-4 2-1.7 2.1-1.6-.1-.7 .2-2.3 2.2-1 2-2.2 1.3-1.8 .2-2-.3-.8 .4-1.5 2-.7 .5-3 0-2.4 1.9-2 .7-1.5 .9-4.8 1.2-2.3 .8-2.3 1.7-.4 1-1.3 .7-1 .1-2.7 1.8-1.3 .3-1.4 .8-1.3-.3-1.7 .4-2.3 2.3-1.3 .3-1.7 1.4-2.3 1-2 1.2-.7 .2-1-.5-1.7-.2-1.5 1.5-1.1 2.1-.6-.1-1.4-1-.4 .1-.3 .6-1.1 .3-.8 1-.8-.2-1 1.2 0 .3-.6 .4-.7 0-.7-.6-2.3 1.6-1.3 .6-1-.1-1.7 .3-1.7-.4-2 1.3-2 .8-.6 .6-1 .3-.7-.2-1.7 1.1-1.3 .2-1.8 .8zM185.7 392.8l-.4 .2-.1-.2 .1-.9 .7-2.1 .3-.4 .4 0 .3 .8-.3 1zM153 591.5l-1.2 0-2.1-1.8-2-.7-.8-2.5-.6-1-.1-.7-.9-.9-.3-.1 0-.6-.7-.7 .3-.3 0-.4-.3-.3-.1-.7-2.1-4-.2-1.6 .4-2.4 2-4.3 .2-1.3-.1-1.4-1.5-3.3-1.6-1.1-.7-1.2-.6-.3-2.3-2-.7-.2-2 1.2-.7 0-2-.7-1.3 .4-2 0-.7 .6-1 0-1.3-.9-3.3 .7-2.4-.7-1.3-.1 0-.8 1.6-1.6 1.3-3.6-.1-1-.5-1-1.3-.9-2 .2-2.3-.9-1-.1-4.4 .2-1.6 .5-2.4-.4-1.6-.7-2.7 .7-2-.4-4.7 .6-.6-.2-1.7-1.1-4-.6-2 .8-.7-.1-1-.8-1.3-.3-1 .3-4.7-.5-2.3 .5-.7-.2-2-1.3-.8-1-.5-.3-1 .1-2.3 .9-2.7-.9-1.6-.1-1.1-1.6 0-.6 1-1.2 2-.9 1.4-1.2 2 .2 3.6-1.1 5.7-.1 2.7-.3 2.6-.8 1.4-.9 3.6 .9 3.4-1.1 2.6 .1 1.8-.8 2.9-.4 2.3 .6 1-.3 2.7 0 2.3-.8 1.7 .8 1 .1 2-1 3.7-.1 2-.4 1.6 .3 2.7-.1 2.7-.5 1.6 .2 .7-.1 1.3-.8 1.7-.2 3.7 .7 .6-.4 .7-.8 1.3 0 1.7-.7 1.3 .1 .7-.3 2-1.9 1.9-2.6 2.6-4.4 .7-2.3 0-2.3-3.5-5.6-.4-3.1 0-3 .5-1.7 .3-2.3 1.7-4.3 .5-.9 1.4-.7 1.3 .8 1.3 .2 .7-.3 1-1 2.7 1.9 .8 1.6 .9 1-.2 .7 .3 .7 0 1-.1 3 .3 2-.2 .3 1.2 5 .1 2-.1 1.6-1.3 1.1-.2 1 1.7 8 .6 1.6 1.5 2 .4 1.4 .6 .6 3 2.5 1 .2 2.2-2 1.5-2.7 2.9-2.6 1.1-1.4 1.6-.8 2.4-2.2 2.3-1.4 1.2-1.9 1.1-.1 1-.9 2.1-1 .3-.7 1-.7 2.3-2.6 0-.7 .3 0 .4-.6 .6-.1 .7 .6 2.7-1.9 2-.1 2-1.6 1.1-1.3 1.9-1 1.3-1.3 1.3-.4 2.7-2 2.3-.4 1.7-1.4 1.7 .2 .6-.2 3.4-1.9 1.6-1.3 3.4-.4 2.6-2 2 .4 .7-.1 1.7-1.1 1-.2 1-.4 2.3-2.5 1.3-.3 2.3-1 1.4-.1 .2-.6-.4-3 .2-.8 1.7 .6 .5 1.2 .5 .3 1.6-.8 1.7-2.3 2.2-.8 .8-3.2 .3-.2 1.4 .4 1-.4 .8-1.3 .7-1.7 1.6-1.3 1.5-2.3 1.5-1.4 1.2-.5 1.7-1.6 1.6 .1 .4 .3 .6 0 .5-.3 .6-1 1.6 0 2-1.2 1.3 .5 3.5 .1 1.4 .6 .8 .9 .7 .2 .6-.2 .9-.5 .4-.7-.4-1.7-.6-1.3 .7-1.1 .4 .2 .9 3.6 .7 1 1.4 .7 1.3-.4 1.7 0 .8-.7 1.2-2.3 .3-.1 1 .6 .7-.2 .7-1 .6-1.3 .7-.6 1.3 .3 5.3-.1 2.3-1.6 1.4 .1 3-.8 .7-.6 1-2.1 .7-.6 .9-.2 1.4 .5 .6-.1 1.5-1.2 1.5-.4 1.2-.9 2.2 .2 2.6-1.6 1.7 .2 1.7-.5 1.6 .7 2.4 0 1-.6 1.6-1.8 1-.1 1 .4 .7-.1 1-.8 1.3-1.7 .7-.1 1 .3 .6-.5 0-.7 .7-1.3 .7-.7 1.6-.7 .1-1.2 .6-1.9 .4-.4 1.6-.5 1-1.6 2-.8 1-.9 1.4-.6 1-.8 2-.1 1-.3 3.2-2.5 .4-.7 1-4 .4-2.8 .3-.7 1 1.5 1 .5 .3 .4 .1 4.1 .9 .6 1.7-.4 1-.7 1.3-1.5 1.7 .1 2-1.7 2-.9 .9-1.5 1.1-2.9 3.1-2.8 1.8-3 .8-2 .5-.3 1.5-.4 1.3-1.3 2-.1 1.5-.9 1.2-.3 3 .3 2.1-1.6 2.2-.7 2 .1 2-.5 2 1.2 1-.9 .7-.1 2.6-1.8 4.7 1 4-.8 1 0 1-.6 1 1 1.7-.1 2.2-1.2 1.4-.4 .9-.6 1.1 .1 1.7-.5 2.3 .6 2.4 1.2 2.4 .6 2.1 1.4 1.1 1.2 2 1 1 0 2-.9 1.4 .2 2.6 2.4 .7 .1 2.3-.4 2 1.6 3 .4 .9 1 .1 .7-.3 .6-1.4 1.1-2.9 .4-2.4-.4-.6 .4-1.7 1.7-3.3 .5-1.7 .8-.3 .6-1 0-.4-.3-.6 .2-1.7 1.7-1.4 1-1.9 .2-.6 .5-1.2 2.7-1.9 .1-.9 .9-2.4 6.1-2 2.5-1 .4-.7-.2-1.1-2.2-.9-.7-.7 .2-3.2 2.2-1.4-.1-.9 .8-4.3 6.3-1.8 1.6-1-.5-.4-1.1-1-1-2.9-1-1.7-1.9-1.4-.1-1-.6-1.6-.5-2.7 .3-1.5 1.5-1 2.6-.4 .7-.6 .3-1.3 2.4 0 3-.8 2.3-.4 3-2.3 2.3-.4 0-.3-.3-2-2.7-2.2-4.6-1.5-1.6-.8-1.4-1.2-.6-1.6 .4-1.4-.4-.6 .3-.6 .6-1.8 7.4-.6 1.5-.6 .8-1.1 .5-.7 .8-2.6 5.2-.4 .1-1.6-.8-1 .5-1.4 1.5-2.6 .8-.4-2.5-.6-.4-1 0-3 1.4-1.3 .9-1.4 1.6-.7 .1-.6-.4-.1-.3 .4-1.5 .8-1.5-.8-1.2-1.3-.7-1.4-.1-1.2-1.4-.8-.4-1.6 .1-1.7-.8-1.3 .1-.5 .7-1.1 7.3-.4 1.1-.4 .2-1 .2-1.6 1.5-.7 .1-.3 .3-2-.3-1.7 1.3-1.3 .3-2 1.7-3 .4-2 1.2-1-.2-.7-.4-.3 .1-1.3 1.2-.1 .5-1.8 2.2-.8 2-.4 .3-.6-.2-2.4-2.1-.6-.3-1 .2-3.3 2.4-.6 1-1.3 4.7-.3 3 .3 3-.1 .6-.4 .4-1-.6-2.7-3.2-.3-.8-.2-1.4-.5-1-.6-.6-2.7-.7-1.3 1.1-1.9 2.2-1.1 2-1.6 2-.7 1.6-1.9 2-.8 .1-4-.7-.7-.5-.7-.9-.6 .1-.3 .6-2.1 2 0 .3-1.6 1.4-1.4 0-.3-.2-1 .3-1-.3-3.3 1.1-1.5 .7-2.7 .7-1.5-.4-3-.1-2-.4-1.7 1.2-.9 2.4-.4 .3-2.3-.1-.4 .2-.6-.5-3 .9-1.3 1.2-2.1 1.1-.9 1.5-1.1 .7-1 1.2-2.3 .6-2.3 1.4-2 .2-1.7 1-2 0-.7 .5-1 .2-1.3-.3-2.3 1-2.4-.2-1.3 .9-1.3-.3-1.4-.6-.6-.1-.9 .5-1.5 2.9-.3 .3-2.3-.6-1.7 1.7-.7 .4-.6 0-1.7 1-1 0-1.7 1-.6 0-1-.7-1-.3-2.3 1.6-.7 .2-1.7 1.1-1.7 .1-1.3 .6-1-.8-1-.1-.9 .9-.4 1-.6 .4-1 1.6-2.4 1.6-.5 .8 .5 .6 2 .7 1.6 1.1 1 .4 1 .2 1.4-.5 1.3 0 2.3 1 2.7-.2 1.3 .6 .7 .6 1-.9 .3 .3 .7 0 1.3 .7 1 .8 1.4 .2 2-.6 2.3 1.4 .7-.2 1.3-1.3 3 1.6 3.7-.5 2.3 .8 1.7-.5 5.3 .9 1 0 2-.6 3 .2 1.3 .4 2-.2 2 1.2 2.4 .4 .3 .7-.2 1-.7 .7-1.1 .4-1.7-.6-.6 .2-2.7 2.4-1.7-.9-1 .3-.6 .6-2.4-.4-2.6 .5-2-.2-.4 .4-1.3 .1-2-.8-2 .4-1.3-.4-3.4 .1-2.3 .4-1.3 1.2-2-.7-1.4 .3-.6-.6-.4 .3-2 0-2.3 .3-2.3 .8-2 0-.4 .2-3-.5-1 .8-1.3 .1-1.3-1.6-1-.1-2.4 1.7-.3-.3-.7 .3-2 .1-2.3-.5-.3 .1-1 .9-.4 0-.6-.5-.4 .3-4 .9-1.6-.4-1.4 .5-1.3-.9-1 .8-1 0-.5 .6-1.2 .1-1.6 1-1-.4-.7 0-1.9 1-4.1 1.2-1.7-.6-1 .3-1.2 1.4-1 .4-.7 .6-1.5 3.7-.2 1.3 .7 1.4 .8 4.6 1.8 4.4 .9 5.3 .4 1 1 1.1 .5 1.6 .5 2 .1 1.3-1 2-.7 4.3-2.7 2.2zM152.3 428.5l-.3 .3-1.6-.6-1.7-2.6-1.2-6.1 .2-1 1-1.1 .7-.6 1.3-.3 1.1 0 1.4 .7 .5 1 .3 2.1-.2 2.9zM241.3 420l-.3 .1-.2-.3-.3-1 .1-1.6 .4-.5 .4 .5 .3 1 0 1zM234.7 430.9l-3-.5-.8-3.6 .4-2.1 .7 .1 1.3-4.4 1-1.6 1.4-.8 1 3.5 .4 3.3-1.6 3zM376.7 422.8l.5-.3 .3-.7 .2-2-.4-.8-1-.4-.7 .6-.1 1.3 .5 1.7 .3 .5zM364 424.3l-.3-.2-.2-1.3 .5-3 .3 3.4zM374.2 433.2l1.2-.4 .9-1.4 2.9-2.9 1.6-3 .1-1.7-.9-1.8-.7-.4-.4 .2-.4 .7-.3 1.3-.3 5-1.9 .8-.7 .1-.4-.5-1.2-3.7-.3-2.3 .3-3-.4-.4-.8 .7-1.2 3.2-.9 1.1-.3 1.4 0 2 1.4 4.3 1.2 .8zM243.7 431.5l-1.4 .1-.3-.4-.7-6 .4-1.8 1.1-1.2 .9-.4 .6 .4 1.1 1.3 .3 1.3 1 1.7 0 .3-.9 1-.7 2-.3 .4-.1 .6zM180.7 458.5l-1.4 .2-.6-.1-2.3-1.4-1.1-1.3-1.3-2.2-.7-3-.2-3.2-.2-1-.6-.8-3.5-2.5-.5-.8-.3-1.9 1.3-2.7 .9-.6 3.1-1.5 2-.3 1.4 1.8 .6 .5 .7 .2 2-.6 3.3-1.8 1.7 .3 2.7 1.3 1 2 .6 2.1 .3 1.6-.3 3.9-.5 1.8-1 1.7-.8 2.2-1.7 2.5-2.6 2-1 1.3zM180.1 446.5l1.1-1.7 0-.6-.5-.7-1.4 0-.5 1 .3 1.7 .6 .4zM224.3 482.2l0-2.4-.4-1.6 .5-2.7 .1-1.7-.3-1.3-1.2-1.7 .2-4.6-.3-2.4-.9-2.6-.1-4 .7-5.7 .4-1.5 1-1.9 2.7-2 1.1 .7 .8 1.4 .5 2.6-.1 5-.6 5-1 4 0 2-1.5 3.7-.8 3.3-.1 3.4-.3 2.3-.3 .3 .3 1.7zM162.3 466.2l-2.3-1.2-.4 .2-.6 1-.7 0-.2-.4 .9-2.8 1.8-1.5 2.5-.1 .5 .8 .3 1.3-.4 1.3-.8 1zM353.4 465.8l1.6-1.4 .6 .1 .7 .6 .7 .2 .5-.5 .1-1-.6-.7-1-.3-1.3-.2-1 .3-1.5 1.6-.3 .7 .8 .8zM312.9 469.2l.5-.7 .1-.7-.8-.7-1.7 .1-1.3 1 0 .6 .6 .5 1.7 .2zM249 476.8l0-.6 .3-.1zM203.7 480.8l-.4 .2-.6-.1-.4-.7 0-2.4 .4-.6 .3-.1 .7 .1 .7 .6-.1 1.3zM257.9 492.8l2.1-1.3 1.3-.2 1-.7 1-1.4 0-.7-.3-.6-.7-.3-1 .1-1.3 .6-1.7 .3-1 .8-1.3 1.4-.2 1.4 .2 .4 .7 .4zM400.3 506.2l-.4 0-.6-.7-1.3-2.7 0-3 .3-1.1 .5-.9 .9-.4 .3 .1 .9 2 1.1 1.4 .3 1.3-.3 3.3-.3 .3zM408 505.6l-1 .1-.7-.5-.4-.7-.3-2.3 .7-4.2 .4-.5 .3-.1 .7 .5 .6 .8 .5 1.5-.1 4.6zM261.3 519.8l-.9 0-2.7-1.6-.4-1.7 .6-3.3 1.2-2.4 1.2-1.1 .7 .1 .7 .6 .3 .7 1.3 1.3 1 .2 .2 .2-.2 1.5-.6 1.9-1.4 2.7zM50.7 541.6l-.4 0-.1-.8 .1-2.5 .4 .5 .2 1.4zM55 544.9l-.3-.4-.2-2.3 .5-3.2 .3-.3 .1 5.5zM20.7 544.2l-.4-.4 .4-.3zM24.7 546.5l-.4-.3 0-.7 .4 .2zM148 563.5l.6-.7 .3-.6 .3-6-1-3.4-.5-.5-1.4-.3-.7 .5-.4 1.7 .5 3.6-.1 4.4 .2 .6 .9 .8 .6 .1z" stroke="#ffffff" stroke-width="1.1" fill="#000000"/></g></g></g>
<path d="M15.5 283.5V7.5H614.5" fill="none" stroke="#6e6e6e" stroke-width="1"/>
<path d="M15.5 283.5H614.5V7.5" fill="none" stroke="#b4b4b4" stroke-width="1"/>
<path d="M564.5 283.5v4M514.5 283.5v4M464.5 283.5v4M414.5 283.5v4M364.5 283.5v4M314.5 283.5v4M264.5 283.5v4M214.5 283.5v4M164.5 283.5v4M114.5 283.5v4M64.5 283.5v4M614.5 7.50h3.5M614.5 12.10h3.5M614.5 16.70h3.5M614.5 21.30h3.5M614.5 25.90h3.5M614.5 30.50h9.5M614.5 35.10h3.5M614.5 39.70h3.5M614.5 44.30h3.5M614.5 48.90h3.5M614.5 53.50h9.5M614.5 58.10h3.5M614.5 62.70h3.5M614.5 67.30h3.5M614.5 71.90h3.5M614.5 76.50h9.5M614.5 81.10h3.5M614.5 85.70h3.5M614.5 90.30h3.5M614.5 94.90h3.5M614.5 99.50h9.5M614.5 104.10h3.5M614.5 108.70h3.5M614.5 113.30h3.5M614.5 117.90h3.5M614.5 122.50h9.5M614.5 127.10h3.5M614.5 131.70h3.5M614.5 136.30h3.5M614.5 140.90h3.5M614.5 145.50h9.5M614.5 150.10h3.5M614.5 154.70h3.5M614.5 159.30h3.5M614.5 163.90h3.5M614.5 168.50h9.5M614.5 173.10h3.5M614.5 177.70h3.5M614.5 182.30h3.5M614.5 186.90h3.5M614.5 191.50h9.5M614.5 196.10h3.5M614.5 200.70h3.5M614.5 205.30h3.5M614.5 209.90h3.5M614.5 214.50h9.5M614.5 219.10h3.5M614.5 223.70h3.5M614.5 228.30h3.5M614.5 232.90h3.5M614.5 237.50h9.5M614.5 242.10h3.5M614.5 246.70h3.5M614.5 251.30h3.5M614.5 255.90h3.5M614.5 260.50h9.5M614.5 265.10h3.5M614.5 269.70h3.5M614.5 274.30h3.5M614.5 278.90h3.5M614.5 283.50h3.5" fill="none" stroke="#b4b4b4" stroke-width="1"/>
<path d="M614.5 283.5v2M604.5 283.5v2M594.5 283.5v2M584.5 283.5v2M574.5 283.5v2M554.5 283.5v2M544.5 283.5v2M534.5 283.5v2M524.5 283.5v2M504.5 283.5v2M494.5 283.5v2M484.5 283.5v2M474.5 283.5v2M454.5 283.5v2M444.5 283.5v2M434.5 283.5v2M424.5 283.5v2M404.5 283.5v2M394.5 283.5v2M384.5 283.5v2M374.5 283.5v2M354.5 283.5v2M344.5 283.5v2M334.5 283.5v2M324.5 283.5v2M304.5 283.5v2M294.5 283.5v2M284.5 283.5v2M274.5 283.5v2M254.5 283.5v2M244.5 283.5v2M234.5 283.5v2M224.5 283.5v2M204.5 283.5v2M194.5 283.5v2M184.5 283.5v2M174.5 283.5v2M154.5 283.5v2M144.5 283.5v2M134.5 283.5v2M124.5 283.5v2M104.5 283.5v2M94.5 283.5v2M84.5 283.5v2M74.5 283.5v2M54.5 283.5v2M44.5 283.5v2M34.5 283.5v2M24.5 283.5v2M14.5 283.5v2" fill="none" stroke="#808080" stroke-width="1"/>
<text x="565.7" y="297.4" class="tk" text-anchor="middle">0.5</text>
<text x="515.7" y="297.4" class="tk" text-anchor="middle">1.0</text>
<text x="465.7" y="297.4" class="tk" text-anchor="middle">1.5</text>
<text x="415.7" y="297.4" class="tk" text-anchor="middle">2.0</text>
<text x="365.7" y="297.4" class="tk" text-anchor="middle">2.5</text>
<text x="315.7" y="297.4" class="tk" text-anchor="middle">3.0</text>
<text x="265.7" y="297.4" class="tk" text-anchor="middle">3.5</text>
<text x="215.7" y="297.4" class="tk" text-anchor="middle">4.0</text>
<text x="165.7" y="297.4" class="tk" text-anchor="middle">4.5</text>
<text x="115.7" y="297.4" class="tk" text-anchor="middle">5.0</text>
<text x="65.7" y="297.4" class="tk" text-anchor="middle">5.5</text>
<text x="219.2" y="310" class="ax2" text-anchor="middle">F2 (ppm)</text>
<text transform="translate(637.7 30.6) rotate(-90)" class="tk" text-anchor="middle">0.5</text>
<text transform="translate(637.7 53.6) rotate(-90)" class="tk" text-anchor="middle">1.0</text>
<text transform="translate(637.7 76.6) rotate(-90)" class="tk" text-anchor="middle">1.5</text>
<text transform="translate(637.7 99.6) rotate(-90)" class="tk" text-anchor="middle">2.0</text>
<text transform="translate(637.7 122.6) rotate(-90)" class="tk" text-anchor="middle">2.5</text>
<text transform="translate(637.7 145.6) rotate(-90)" class="tk" text-anchor="middle">3.0</text>
<text transform="translate(637.7 168.6) rotate(-90)" class="tk" text-anchor="middle">3.5</text>
<text transform="translate(637.7 191.6) rotate(-90)" class="tk" text-anchor="middle">4.0</text>
<text transform="translate(637.7 214.6) rotate(-90)" class="tk" text-anchor="middle">4.5</text>
<text transform="translate(637.7 237.6) rotate(-90)" class="tk" text-anchor="middle">5.0</text>
<text transform="translate(637.7 260.6) rotate(-90)" class="tk" text-anchor="middle">5.5</text>
<text transform="translate(659.6 175.3) rotate(-90)" class="ax" text-anchor="middle">F1 (ppm)</text>
<path d="M15.5 605.0V329.0H621.5" fill="none" stroke="#6e6e6e" stroke-width="1"/>
<path d="M15.5 605.0H614.5V329.0" fill="none" stroke="#b4b4b4" stroke-width="1"/>
<path d="M564.5 605.0v4M514.5 605.0v4M464.5 605.0v4M414.5 605.0v4M364.5 605.0v4M314.5 605.0v4M264.5 605.0v4M214.5 605.0v4M164.5 605.0v4M114.5 605.0v4M64.5 605.0v4M614.5 329.00h3.5M614.5 333.60h3.5M614.5 338.20h3.5M614.5 342.80h3.5M614.5 347.40h3.5M614.5 352.00h9.5M614.5 356.60h3.5M614.5 361.20h3.5M614.5 365.80h3.5M614.5 370.40h3.5M614.5 375.00h9.5M614.5 379.60h3.5M614.5 384.20h3.5M614.5 388.80h3.5M614.5 393.40h3.5M614.5 398.00h9.5M614.5 402.60h3.5M614.5 407.20h3.5M614.5 411.80h3.5M614.5 416.40h3.5M614.5 421.00h9.5M614.5 425.60h3.5M614.5 430.20h3.5M614.5 434.80h3.5M614.5 439.40h3.5M614.5 444.00h9.5M614.5 448.60h3.5M614.5 453.20h3.5M614.5 457.80h3.5M614.5 462.40h3.5M614.5 467.00h9.5M614.5 471.60h3.5M614.5 476.20h3.5M614.5 480.80h3.5M614.5 485.40h3.5M614.5 490.00h9.5M614.5 494.60h3.5M614.5 499.20h3.5M614.5 503.80h3.5M614.5 508.40h3.5M614.5 513.00h9.5M614.5 517.60h3.5M614.5 522.20h3.5M614.5 526.80h3.5M614.5 531.40h3.5M614.5 536.00h9.5M614.5 540.60h3.5M614.5 545.20h3.5M614.5 549.80h3.5M614.5 554.40h3.5M614.5 559.00h9.5M614.5 563.60h3.5M614.5 568.20h3.5M614.5 572.80h3.5M614.5 577.40h3.5M614.5 582.00h9.5M614.5 586.60h3.5M614.5 591.20h3.5M614.5 595.80h3.5M614.5 600.40h3.5M614.5 605.00h3.5" fill="none" stroke="#b4b4b4" stroke-width="1"/>
<path d="M614.5 605.0v2M604.5 605.0v2M594.5 605.0v2M584.5 605.0v2M574.5 605.0v2M554.5 605.0v2M544.5 605.0v2M534.5 605.0v2M524.5 605.0v2M504.5 605.0v2M494.5 605.0v2M484.5 605.0v2M474.5 605.0v2M454.5 605.0v2M444.5 605.0v2M434.5 605.0v2M424.5 605.0v2M404.5 605.0v2M394.5 605.0v2M384.5 605.0v2M374.5 605.0v2M354.5 605.0v2M344.5 605.0v2M334.5 605.0v2M324.5 605.0v2M304.5 605.0v2M294.5 605.0v2M284.5 605.0v2M274.5 605.0v2M254.5 605.0v2M244.5 605.0v2M234.5 605.0v2M224.5 605.0v2M204.5 605.0v2M194.5 605.0v2M184.5 605.0v2M174.5 605.0v2M154.5 605.0v2M144.5 605.0v2M134.5 605.0v2M124.5 605.0v2M104.5 605.0v2M94.5 605.0v2M84.5 605.0v2M74.5 605.0v2M54.5 605.0v2M44.5 605.0v2M34.5 605.0v2M24.5 605.0v2M14.5 605.0v2" fill="none" stroke="#808080" stroke-width="1"/>
<text x="565.7" y="618.9" class="tk" text-anchor="middle">0.5</text>
<text x="515.7" y="618.9" class="tk" text-anchor="middle">1.0</text>
<text x="465.7" y="618.9" class="tk" text-anchor="middle">1.5</text>
<text x="415.7" y="618.9" class="tk" text-anchor="middle">2.0</text>
<text x="365.7" y="618.9" class="tk" text-anchor="middle">2.5</text>
<text x="315.7" y="618.9" class="tk" text-anchor="middle">3.0</text>
<text x="265.7" y="618.9" class="tk" text-anchor="middle">3.5</text>
<text x="215.7" y="618.9" class="tk" text-anchor="middle">4.0</text>
<text x="165.7" y="618.9" class="tk" text-anchor="middle">4.5</text>
<text x="115.7" y="618.9" class="tk" text-anchor="middle">5.0</text>
<text x="65.7" y="618.9" class="tk" text-anchor="middle">5.5</text>
<text x="219.2" y="631.5" class="ax2" text-anchor="middle">F2 (ppm)</text>
<text transform="translate(637.7 352.1) rotate(-90)" class="tk" text-anchor="middle">0.5</text>
<text transform="translate(637.7 375.1) rotate(-90)" class="tk" text-anchor="middle">1.0</text>
<text transform="translate(637.7 398.1) rotate(-90)" class="tk" text-anchor="middle">1.5</text>
<text transform="translate(637.7 421.1) rotate(-90)" class="tk" text-anchor="middle">2.0</text>
<text transform="translate(637.7 444.1) rotate(-90)" class="tk" text-anchor="middle">2.5</text>
<text transform="translate(637.7 467.1) rotate(-90)" class="tk" text-anchor="middle">3.0</text>
<text transform="translate(637.7 490.1) rotate(-90)" class="tk" text-anchor="middle">3.5</text>
<text transform="translate(637.7 513.1) rotate(-90)" class="tk" text-anchor="middle">4.0</text>
<text transform="translate(637.7 536.1) rotate(-90)" class="tk" text-anchor="middle">4.5</text>
<text transform="translate(637.7 559.1) rotate(-90)" class="tk" text-anchor="middle">5.0</text>
<text transform="translate(637.7 582.1) rotate(-90)" class="tk" text-anchor="middle">5.5</text>
<text transform="translate(659.6 496.8) rotate(-90)" class="ax" text-anchor="middle">F1 (ppm)</text>
<text x="24.6" y="51.3" class="pl">A</text>
<text x="24.5" y="372.3" class="pl">B</text>
</svg></body></html>
